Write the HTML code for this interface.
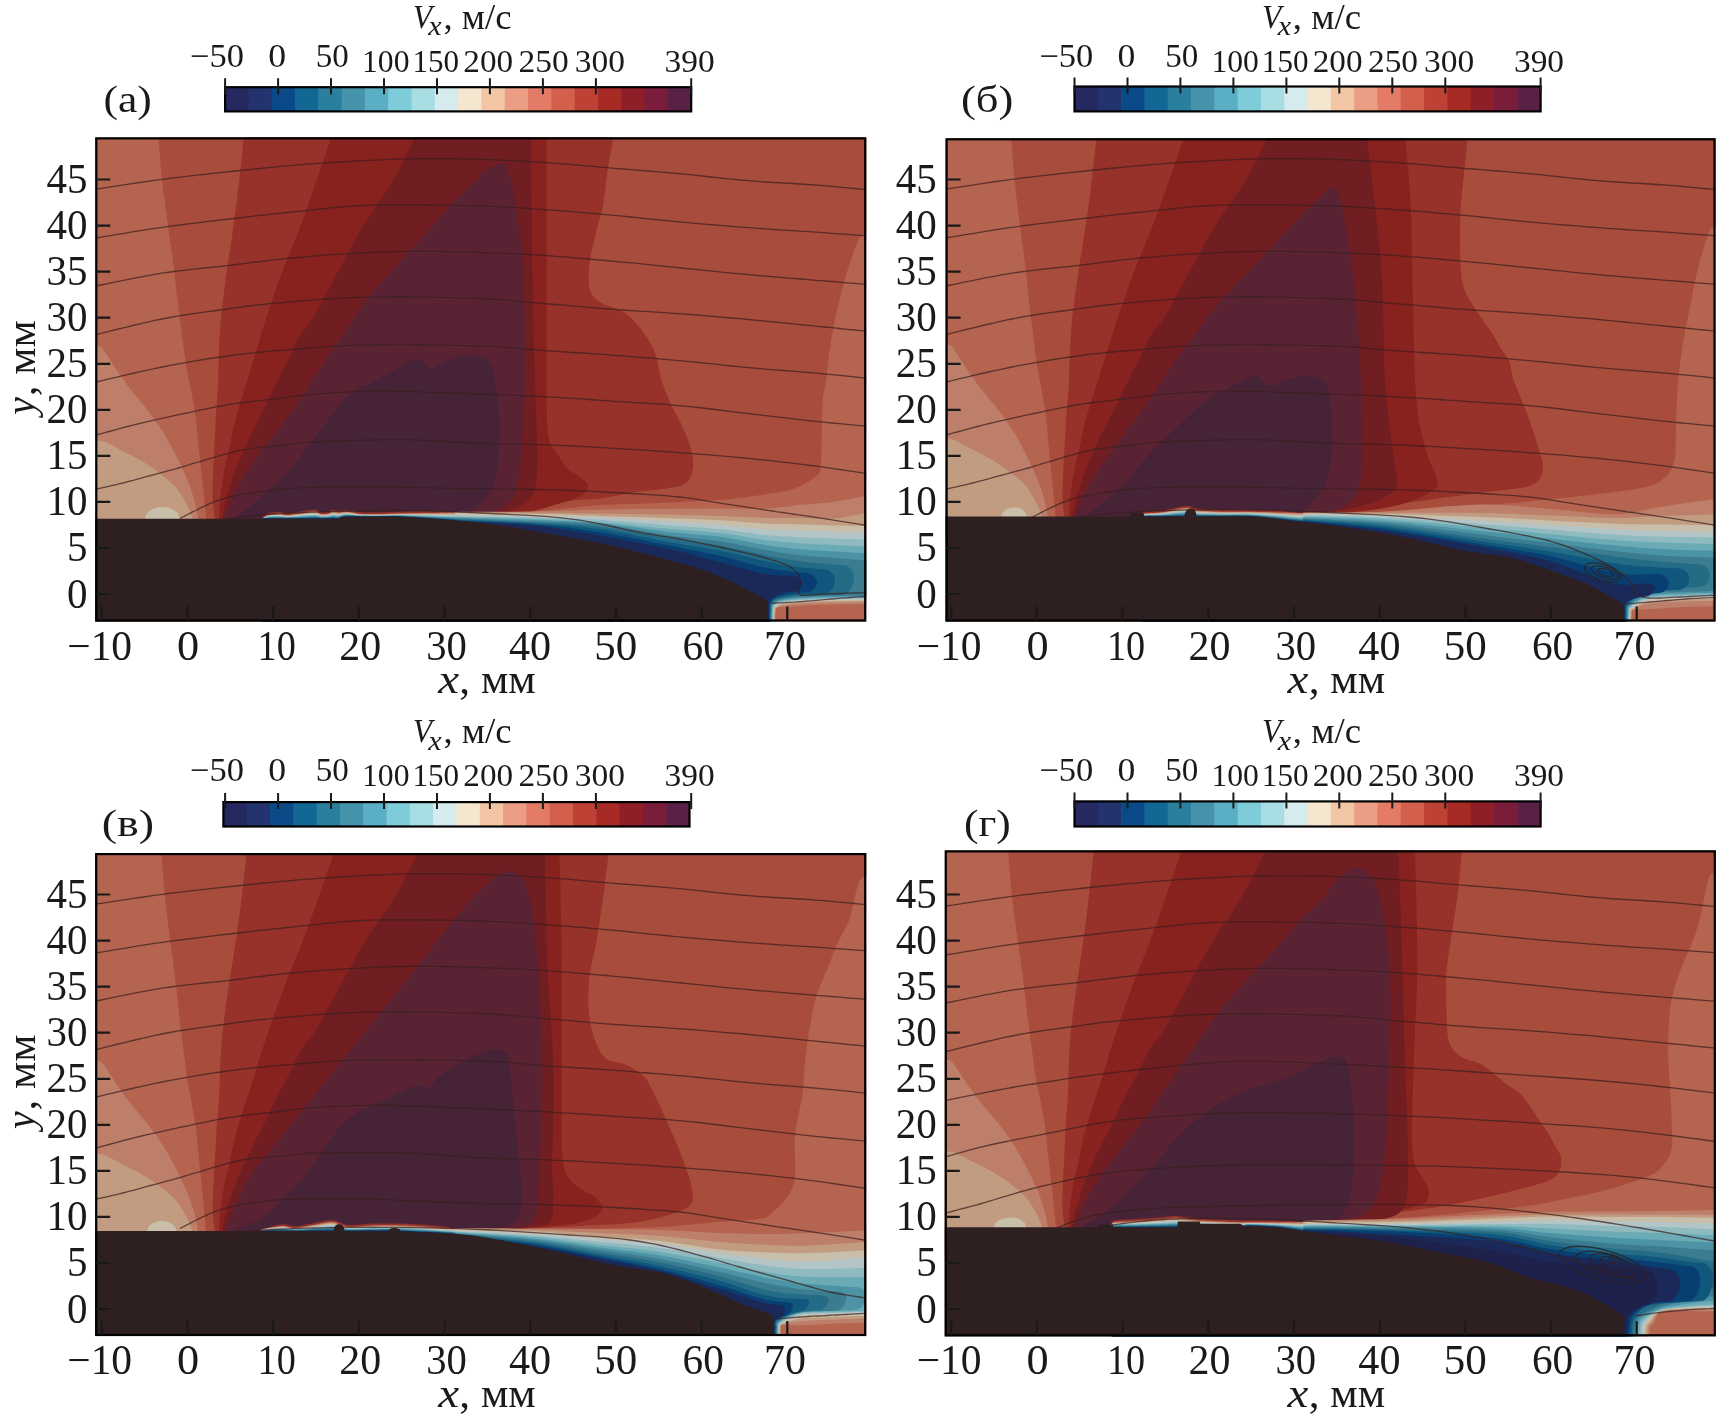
<!DOCTYPE html>
<html><head><meta charset="utf-8"><style>html,body{margin:0;padding:0;background:#fff;overflow:hidden}svg{display:block}</style></head><body>
<svg width="1724" height="1421" viewBox="0 0 1724 1421" font-family="'Liberation Serif', serif" fill="#1a1a1a">
<rect width="1724" height="1421" fill="#fff"/>
<clipPath id="clipa"><rect x="95.3" y="137.4" width="770.9" height="484.1"/></clipPath>
<g clip-path="url(#clipa)"><g transform="translate(0.0 0.0)">
<rect x="90" y="130" width="782" height="510" fill="#b5644f"/>
<polygon points="158.6,130.0 872.0,130.0 872.0,233.3 866.0,233.3 865.4,233.6 864.7,233.9 863.9,234.2 862.9,234.7 861.8,235.4 860.7,236.4 859.6,237.9 858.4,240.0 857.2,242.7 855.8,246.0 854.4,249.8 852.9,254.0 851.4,258.3 849.9,262.7 848.5,267.1 847.2,271.3 846.0,275.4 844.8,279.5 843.6,283.7 842.5,288.0 841.4,292.2 840.3,296.4 839.3,300.7 838.3,304.9 837.3,309.0 836.4,313.1 835.5,317.2 834.7,321.2 833.9,325.3 833.1,329.5 832.3,333.9 831.5,338.5 830.7,343.4 830.0,348.8 829.2,354.3 828.5,359.9 827.9,365.5 827.2,370.8 826.6,375.7 826.0,380.0 825.5,383.6 824.9,386.4 824.5,388.8 824.0,391.0 823.6,393.2 823.2,395.7 822.9,398.7 822.6,402.4 822.4,407.1 822.2,412.5 822.0,418.5 821.9,424.8 821.8,431.1 821.7,437.0 821.6,442.5 821.5,447.2 821.4,451.2 821.3,454.7 821.2,457.9 821.1,460.8 821.0,463.3 820.8,465.6 820.6,467.7 820.3,469.6 820.0,471.2 819.8,472.3 819.6,473.0 819.3,473.6 818.8,474.1 818.2,474.6 817.2,475.3 815.9,476.3 814.2,477.6 812.2,479.0 810.0,480.6 807.5,482.2 804.8,483.8 802.0,485.4 799.0,486.8 796.0,488.0 792.9,489.0 789.6,489.9 786.1,490.7 782.6,491.4 778.9,492.1 775.0,492.7 771.1,493.3 767.0,494.0 762.7,494.7 758.1,495.4 753.4,496.1 748.6,496.8 743.7,497.4 738.9,498.0 734.3,498.5 730.0,499.0 726.0,499.4 722.2,499.7 718.7,500.0 715.2,500.2 711.7,500.4 708.0,500.6 704.2,500.8 700.0,501.0 695.6,501.2 691.2,501.5 686.6,501.8 681.9,502.0 676.9,502.2 671.6,502.5 666.0,502.8 660.0,503.0 653.3,503.2 645.9,503.5 638.1,503.7 630.0,503.9 621.9,504.1 614.1,504.4 606.7,504.7 600.0,505.0 594.0,505.4 588.6,505.9 583.5,506.4 578.8,506.9 574.1,507.4 569.5,508.0 564.9,508.5 560.0,509.0 555.0,509.5 550.0,510.0 545.0,510.5 540.0,511.1 535.0,511.6 530.0,512.1 525.0,512.5 520.0,513.0 515.0,513.4 510.0,513.8 505.0,514.2 500.0,514.6 495.0,514.9 490.0,515.3 485.0,515.6 480.0,516.0 474.7,516.4 469.1,516.8 463.2,517.3 457.5,517.7 452.1,518.1 447.2,518.5 443.1,518.8 440.0,519.0 440.0,540.0 206.0,540.0 206.0,519.0 205.9,517.3 205.7,515.2 205.4,512.6 205.2,509.8 204.9,506.7 204.6,503.4 204.3,500.2 204.0,497.0 203.7,493.8 203.3,490.4 202.9,486.9 202.6,483.4 202.2,479.8 201.8,476.1 201.4,472.5 201.0,469.0 200.6,465.5 200.2,462.0 199.9,458.5 199.5,455.0 199.1,451.5 198.8,448.0 198.4,444.5 198.0,441.0 197.6,437.5 197.3,434.0 197.0,430.5 196.6,427.0 196.3,423.5 195.9,420.0 195.5,416.5 195.0,413.0 194.5,409.4 193.9,405.8 193.2,402.1 192.6,398.5 191.9,394.9 191.2,391.4 190.6,388.1 190.0,385.0 189.5,382.2 188.9,379.7 188.4,377.4 187.9,375.1 187.5,372.9 187.0,370.5 186.5,367.9 186.0,365.0 185.5,361.7 185.0,358.2 184.5,354.5 184.0,350.7 183.5,346.8 183.0,342.8 182.5,338.9 182.0,335.0 181.5,331.2 181.0,327.6 180.5,323.9 180.1,320.2 179.6,316.5 179.1,312.5 178.5,308.4 178.0,304.0 177.4,299.2 176.8,294.1 176.2,288.8 175.6,283.3 174.9,277.8 174.3,272.3 173.6,267.0 173.0,262.0 172.4,257.3 171.8,252.8 171.2,248.5 170.6,244.3 169.9,240.0 169.3,235.6 168.7,231.0 168.0,226.0 167.3,220.6 166.5,214.9 165.7,208.9 164.9,202.8 164.1,196.6 163.3,190.5 162.6,184.6 162.0,179.0 161.4,173.4 160.9,167.6 160.4,161.7 159.9,156.1 159.5,150.8 159.2,146.0 158.8,142.0 158.6,139.0" fill="#a84d3b"/>
<polygon points="243.5,130.0 613.2,130.0 613.2,139.0 612.8,141.4 612.2,144.6 611.5,148.4 610.7,152.7 609.9,157.2 609.0,161.8 608.3,166.3 607.6,170.6 607.0,174.8 606.5,179.0 606.0,183.4 605.5,187.7 605.0,192.0 604.4,196.2 603.9,200.3 603.2,204.2 602.5,207.8 601.7,211.3 600.8,214.5 599.9,217.7 599.0,220.9 598.1,224.1 597.3,227.5 596.4,231.0 595.5,234.7 594.6,238.6 593.6,242.6 592.6,246.7 591.7,250.8 590.9,254.8 590.2,258.7 589.7,262.4 589.3,266.1 589.0,269.8 588.7,273.4 588.6,277.0 588.6,280.4 588.8,283.6 589.1,286.6 589.7,289.3 590.5,291.7 591.5,293.7 592.6,295.5 593.9,297.1 595.4,298.6 597.0,300.0 598.9,301.3 600.9,302.7 603.2,304.0 605.8,305.1 608.7,306.0 611.7,306.9 614.7,307.9 617.8,308.9 620.6,310.2 623.3,311.7 625.8,313.5 628.2,315.4 630.5,317.6 632.8,319.8 635.0,322.2 637.1,324.6 639.2,327.1 641.2,329.6 643.1,332.1 645.0,334.8 646.9,337.4 648.7,340.2 650.3,343.0 651.9,345.9 653.4,348.9 654.7,352.0 655.8,355.3 656.8,358.7 657.6,362.3 658.3,366.0 659.0,369.7 659.7,373.3 660.5,376.7 661.4,380.0 662.4,383.1 663.4,386.0 664.5,388.8 665.6,391.6 666.7,394.2 667.9,396.9 669.1,399.6 670.3,402.4 671.6,405.2 673.0,408.0 674.4,410.8 675.9,413.6 677.4,416.4 678.8,419.2 680.2,422.0 681.5,424.8 682.8,427.6 684.1,430.4 685.3,433.2 686.6,436.0 687.7,438.8 688.8,441.6 689.7,444.4 690.5,447.2 691.2,450.0 691.8,453.0 692.4,455.9 692.9,458.8 693.2,461.7 693.3,464.5 693.1,467.1 692.7,469.6 692.2,471.9 691.6,474.2 691.0,476.3 690.0,478.4 688.7,480.3 687.0,482.1 684.6,483.7 681.5,485.2 677.5,486.5 672.5,487.5 666.8,488.4 660.7,489.2 654.4,489.9 648.1,490.5 642.1,491.2 636.7,492.0 631.7,492.8 626.8,493.7 622.1,494.6 617.5,495.5 612.9,496.3 608.5,497.1 604.2,497.8 600.0,498.4 596.0,498.9 592.3,499.1 588.8,499.3 585.3,499.5 581.8,499.7 578.1,499.9 574.0,500.3 569.6,500.9 564.7,501.7 559.4,502.8 553.9,504.0 548.1,505.3 542.2,506.6 536.3,507.8 530.5,509.0 524.8,509.9 519.2,510.7 513.5,511.3 507.8,511.9 502.1,512.4 496.4,512.9 490.9,513.4 485.4,513.8 480.0,514.3 474.5,514.8 468.7,515.4 462.9,515.9 457.2,516.4 451.9,516.9 447.1,517.4 443.1,517.7 440.0,518.0 440.0,540.0 214.7,540.0 214.7,519.0 214.5,517.3 214.3,515.2 213.9,512.6 213.6,509.8 213.3,506.7 213.0,503.4 212.7,500.2 212.6,497.0 212.5,493.8 212.6,490.4 212.6,486.9 212.7,483.4 212.9,479.8 213.0,476.1 213.2,472.5 213.3,469.0 213.4,465.5 213.6,462.0 213.8,458.5 214.0,455.0 214.2,451.5 214.3,448.0 214.5,444.5 214.7,441.0 214.9,437.5 215.0,434.0 215.2,430.5 215.3,427.0 215.5,423.5 215.6,420.0 215.8,416.5 216.0,413.0 216.2,409.5 216.5,406.2 216.7,402.8 217.0,399.4 217.3,396.0 217.6,392.5 217.8,388.8 218.0,385.0 218.2,381.0 218.3,376.7 218.4,372.3 218.5,367.9 218.6,363.4 218.7,358.8 218.8,354.4 219.0,350.0 219.2,345.8 219.4,341.7 219.6,337.7 219.8,333.6 220.1,329.5 220.4,325.2 220.8,320.8 221.2,316.0 221.7,310.9 222.3,305.5 223.0,299.9 223.7,294.2 224.5,288.4 225.2,282.5 226.0,276.7 226.8,271.0 227.6,265.4 228.4,259.7 229.3,254.1 230.2,248.4 231.0,242.8 231.9,237.2 232.7,231.6 233.5,226.0 234.3,220.4 235.0,214.9 235.7,209.4 236.4,203.9 237.1,198.4 237.7,192.9 238.4,187.4 239.0,182.0 239.6,176.3 240.3,170.2 241.0,163.9 241.6,157.8 242.2,151.9 242.7,146.7 243.2,142.3 243.5,139.0" fill="#96322a"/>
<polygon points="330.6,130.0 546.7,130.0 546.7,139.0 546.7,151.8 546.7,169.2 546.7,190.0 546.7,212.9 546.7,236.7 546.7,259.9 546.7,281.5 546.7,300.0 546.7,316.3 546.6,331.8 546.6,346.6 546.6,360.4 546.5,373.2 546.5,385.0 546.6,395.6 546.7,405.0 546.8,412.9 547.0,419.2 547.1,424.2 547.3,428.2 547.6,431.5 547.9,434.4 548.4,437.1 549.0,440.0 549.7,442.8 550.6,445.0 551.6,446.8 552.7,448.3 553.8,449.7 555.0,451.0 556.1,452.4 557.3,454.0 558.4,455.8 559.5,457.6 560.7,459.4 561.9,461.3 563.1,463.1 564.3,464.8 565.7,466.5 567.1,468.0 568.7,469.4 570.4,470.7 572.3,472.0 574.2,473.1 576.1,474.3 577.9,475.4 579.6,476.5 581.0,477.6 582.3,478.7 583.6,479.8 584.7,480.8 585.8,481.8 586.7,482.8 587.4,483.8 587.8,484.9 588.0,486.0 587.9,487.2 587.7,488.3 587.3,489.5 586.7,490.8 585.8,492.0 584.5,493.2 583.0,494.5 581.0,495.7 578.5,496.9 575.5,498.2 572.1,499.5 568.4,500.7 564.5,502.0 560.6,503.2 556.7,504.3 553.1,505.4 549.7,506.4 546.6,507.4 543.4,508.4 540.3,509.3 537.0,510.1 533.5,511.0 529.6,511.7 525.3,512.4 520.4,513.0 515.1,513.6 509.4,514.1 503.4,514.5 497.4,514.9 491.4,515.3 485.5,515.6 480.0,516.0 474.5,516.3 468.7,516.7 462.9,517.0 457.2,517.2 451.8,517.5 447.1,517.7 443.0,517.9 440.0,518.0 440.0,540.0 219.0,540.0 219.0,519.0 219.1,517.3 219.2,515.2 219.3,512.6 219.4,509.8 219.5,506.7 219.7,503.4 220.0,500.2 220.3,497.0 220.7,493.7 221.1,490.2 221.6,486.5 222.2,482.8 222.8,479.1 223.4,475.5 223.9,472.1 224.5,469.0 225.0,466.2 225.6,463.8 226.1,461.5 226.7,459.3 227.3,457.2 227.8,455.0 228.4,452.6 229.0,450.0 229.6,447.2 230.2,444.2 230.8,441.1 231.3,437.9 232.0,434.6 232.6,431.4 233.3,428.2 234.0,425.0 234.8,421.9 235.6,418.8 236.4,415.6 237.3,412.5 238.2,409.4 239.1,406.2 240.1,403.1 241.0,400.0 241.9,396.9 242.9,393.9 243.9,390.8 244.9,387.8 245.9,384.7 246.9,381.6 247.9,378.4 249.0,375.0 250.1,371.5 251.2,367.8 252.3,364.1 253.4,360.2 254.6,356.4 255.7,352.5 256.9,348.7 258.0,345.0 259.1,341.4 260.1,338.1 261.1,334.8 262.1,331.4 263.1,328.0 264.3,324.4 265.6,320.4 267.0,316.0 268.6,311.1 270.4,305.9 272.3,300.3 274.2,294.5 276.3,288.6 278.4,282.6 280.5,276.7 282.6,271.0 284.7,265.4 286.9,259.7 289.2,254.1 291.5,248.4 293.8,242.8 296.1,237.2 298.3,231.6 300.4,226.0 302.5,220.4 304.5,214.9 306.5,209.4 308.4,203.9 310.3,198.4 312.2,192.9 314.1,187.4 316.0,182.0 318.0,176.3 320.1,170.2 322.2,163.9 324.3,157.8 326.2,151.9 328.0,146.7 329.5,142.3 330.6,139.0" fill="#88221e"/>
<polygon points="414.3,130.0 531.0,130.0 531.0,139.0 531.1,147.6 531.2,159.2 531.3,173.0 531.4,188.2 531.5,204.3 531.7,220.4 531.8,235.9 532.0,250.0 532.2,263.1 532.4,276.0 532.6,288.7 532.9,301.3 533.1,313.7 533.4,326.0 533.7,338.1 534.0,350.0 534.3,362.2 534.8,374.7 535.2,387.2 535.6,399.5 536.1,411.2 536.4,422.1 536.8,431.8 537.0,440.0 537.2,446.5 537.3,451.4 537.4,455.2 537.4,458.1 537.4,460.4 537.3,462.7 537.2,465.1 537.0,468.0 536.9,471.3 536.8,474.7 536.7,478.1 536.5,481.4 536.2,484.6 535.7,487.6 535.0,490.4 534.0,493.0 532.7,495.3 531.0,497.4 529.2,499.4 527.1,501.1 524.9,502.7 522.7,504.2 520.3,505.7 518.0,507.0 515.6,508.2 513.0,509.3 510.3,510.3 507.6,511.2 504.8,512.0 502.1,512.7 499.5,513.4 497.0,514.0 494.8,514.6 493.0,515.1 491.3,515.5 489.7,515.8 487.9,516.1 485.8,516.4 483.2,516.7 480.0,517.0 475.8,517.3 470.7,517.6 464.9,517.9 458.9,518.2 453.1,518.4 447.7,518.7 443.2,518.9 440.0,519.0 440.0,540.0 222.0,540.0 222.0,519.0 222.4,517.3 222.8,515.2 223.3,512.6 223.9,509.8 224.6,506.7 225.4,503.4 226.1,500.2 227.0,497.0 227.9,493.8 228.9,490.4 230.0,486.9 231.1,483.4 232.2,479.8 233.4,476.1 234.7,472.5 236.0,469.0 237.3,465.5 238.7,462.0 240.2,458.5 241.7,455.0 243.2,451.5 244.8,448.0 246.4,444.5 248.0,441.0 249.7,437.5 251.4,434.0 253.1,430.6 254.9,427.1 256.7,423.6 258.5,420.1 260.2,416.6 262.0,413.0 263.8,409.3 265.5,405.5 267.3,401.7 269.1,397.8 270.8,394.0 272.6,390.2 274.3,386.5 276.0,383.0 277.7,379.6 279.4,376.4 281.0,373.2 282.7,370.1 284.3,367.0 285.9,364.0 287.5,361.0 289.0,358.0 290.5,355.0 291.8,352.0 293.1,349.1 294.4,346.1 295.7,343.2 297.1,340.4 298.5,337.7 300.0,335.0 301.5,332.6 303.0,330.6 304.6,328.7 306.2,326.9 307.9,324.9 309.7,322.5 311.7,319.6 314.0,316.0 316.6,311.6 319.4,306.6 322.4,301.0 325.5,295.1 328.8,289.0 332.0,282.9 335.3,276.8 338.4,271.0 341.4,265.4 344.4,259.7 347.4,254.1 350.4,248.4 353.4,242.8 356.5,237.2 359.7,231.6 363.0,226.0 366.5,220.4 370.1,214.9 373.8,209.4 377.6,203.9 381.4,198.4 385.1,192.9 388.7,187.4 392.0,182.0 395.3,176.3 398.6,170.2 401.8,163.9 405.0,157.8 407.9,151.9 410.4,146.7 412.6,142.3 414.3,139.0" fill="#701e22"/>
<polygon points="480.0,175.0 480.8,174.4 481.7,173.7 482.9,172.8 484.2,171.8 485.6,170.8 487.1,169.8 488.6,168.8 490.0,168.0 491.5,167.2 493.1,166.2 494.8,165.2 496.5,164.3 498.1,163.5 499.7,163.0 501.2,162.7 502.4,162.7 503.4,163.1 504.3,163.7 505.0,164.6 505.6,165.7 506.2,167.0 506.8,168.5 507.3,170.2 508.0,172.0 508.7,173.8 509.3,175.6 510.0,177.5 510.7,179.6 511.3,182.0 512.0,185.0 512.8,188.6 513.6,193.0 514.5,198.2 515.5,204.3 516.6,211.0 517.6,218.1 518.7,225.7 519.7,233.4 520.6,241.2 521.4,249.0 522.1,256.9 522.6,265.0 523.1,273.5 523.6,282.0 524.0,290.6 524.3,299.2 524.6,307.7 524.8,316.0 525.0,324.2 525.1,332.3 525.2,340.4 525.3,348.4 525.3,356.4 525.2,364.4 525.1,372.2 525.0,380.0 524.8,387.9 524.5,396.0 524.1,404.2 523.7,412.3 523.2,420.0 522.8,427.4 522.4,434.1 522.0,440.0 521.7,445.0 521.5,449.2 521.2,452.8 521.0,455.9 520.8,458.8 520.5,461.6 520.1,464.5 519.7,467.8 519.2,471.4 518.8,475.1 518.4,478.9 517.9,482.6 517.2,486.3 516.4,489.7 515.4,492.9 514.2,495.7 512.6,498.2 510.7,500.4 508.6,502.4 506.4,504.1 504.1,505.7 501.7,507.1 499.5,508.4 497.5,509.6 495.7,510.6 494.0,511.4 492.5,511.9 490.9,512.4 489.3,512.7 487.6,513.0 485.7,513.4 483.5,513.8 480.9,514.3 477.7,514.7 474.4,515.2 470.9,515.7 467.5,516.1 464.4,516.4 461.9,516.8 460.0,517.0 460.0,540.0 223.0,540.0 223.0,519.0 223.2,518.8 223.3,518.6 223.5,518.5 223.8,518.2 224.1,517.7 224.5,516.9 225.2,515.7 226.0,514.0 227.0,511.7 228.2,508.8 229.6,505.5 231.1,501.9 232.7,498.1 234.4,494.3 236.2,490.5 238.0,487.0 239.9,483.6 241.8,480.3 243.8,476.9 245.9,473.6 248.1,470.2 250.4,466.8 252.6,463.4 255.0,460.0 257.4,456.5 260.0,453.1 262.6,449.6 265.2,446.1 267.9,442.5 270.7,439.0 273.3,435.5 276.0,432.0 278.6,428.5 281.2,425.1 283.9,421.7 286.5,418.2 289.1,414.8 291.8,411.3 294.4,407.7 297.0,404.0 299.6,400.2 302.2,396.3 304.8,392.4 307.4,388.4 310.0,384.3 312.6,380.2 315.3,376.1 318.0,372.0 320.7,367.9 323.4,363.9 326.1,359.9 328.9,355.8 331.7,351.6 334.6,347.3 337.7,342.8 341.0,338.0 344.4,332.9 348.0,327.5 351.6,321.9 355.4,316.1 359.4,310.3 363.4,304.4 367.6,298.7 372.0,293.0 376.6,287.5 381.4,282.0 386.3,276.5 391.4,271.0 396.6,265.5 401.8,260.0 406.9,254.5 412.0,249.0 417.1,243.3 422.3,237.4 427.5,231.4 432.8,225.4 437.9,219.6 442.8,214.0 447.6,208.8 452.0,204.0 456.3,199.6 460.5,195.4 464.6,191.4 468.5,187.7 472.1,184.4 475.2,181.4 477.9,179.0 480.0,177.0" fill="#592334"/>
<polygon points="232.0,519.0 232.1,519.0 232.1,519.0 232.1,519.1 232.2,519.1 232.4,519.1 232.8,518.9 233.4,518.6 234.2,518.0 235.3,517.3 236.7,516.4 238.2,515.3 240.0,514.2 241.9,512.9 243.9,511.4 245.9,509.9 248.1,508.2 250.4,506.4 252.8,504.3 255.4,502.1 258.1,499.8 260.9,497.5 263.6,495.0 266.3,492.6 269.0,490.1 271.6,487.7 274.2,485.2 276.8,482.8 279.4,480.3 282.0,477.7 284.6,475.0 287.2,472.2 289.9,469.2 292.6,466.1 295.4,462.8 298.1,459.4 300.9,455.9 303.7,452.3 306.6,448.7 309.4,445.1 312.2,441.4 315.1,437.6 318.0,433.6 321.1,429.5 324.1,425.4 327.0,421.3 329.8,417.5 332.5,413.9 335.0,410.7 337.2,407.9 339.2,405.4 341.0,403.1 342.7,401.1 344.4,399.2 346.1,397.4 347.9,395.7 350.0,394.0 352.3,392.4 354.6,390.9 357.1,389.6 359.7,388.3 362.3,387.1 364.9,385.9 367.5,384.7 370.0,383.4 372.5,382.0 375.2,380.7 377.8,379.3 380.4,377.9 383.0,376.5 385.5,375.2 387.8,373.9 390.0,372.7 392.0,371.6 393.8,370.4 395.5,369.4 397.1,368.4 398.7,367.4 400.2,366.5 401.8,365.6 403.4,364.7 405.1,363.8 406.9,363.0 408.7,362.1 410.5,361.3 412.2,360.6 413.8,360.0 415.4,359.6 416.7,359.3 417.9,359.2 418.9,359.3 419.8,359.5 420.5,359.9 421.3,360.3 422.0,360.9 422.7,361.4 423.4,362.0 424.1,362.7 424.8,363.6 425.5,364.6 426.1,365.6 426.8,366.6 427.4,367.5 428.0,368.2 428.7,368.7 429.3,369.0 429.8,369.1 430.3,369.1 430.7,369.0 431.3,368.7 432.0,368.4 432.9,367.9 434.1,367.4 435.6,366.7 437.3,365.8 439.1,364.7 441.2,363.5 443.3,362.3 445.6,361.2 447.8,360.2 450.1,359.3 452.5,358.6 455.0,357.9 457.6,357.2 460.3,356.6 462.9,356.1 465.5,355.7 467.9,355.5 470.1,355.3 472.1,355.3 474.1,355.4 475.9,355.7 477.6,356.1 479.2,356.5 480.7,357.0 482.1,357.5 483.4,358.0 484.6,358.5 485.6,359.0 486.5,359.5 487.3,360.0 488.1,360.7 488.8,361.4 489.4,362.3 490.1,363.4 490.7,364.7 491.3,366.2 491.9,367.8 492.4,369.6 492.8,371.4 493.3,373.2 493.7,375.0 494.1,376.7 494.5,378.3 494.9,379.9 495.2,381.4 495.6,382.9 495.9,384.5 496.2,386.2 496.5,388.0 496.8,390.0 497.1,392.1 497.4,394.4 497.7,396.7 497.9,399.2 498.2,401.7 498.4,404.4 498.6,407.1 498.8,410.0 499.0,413.0 499.1,416.2 499.2,419.5 499.3,422.9 499.4,426.4 499.4,429.9 499.4,433.3 499.4,436.7 499.3,440.1 499.2,443.6 499.1,447.2 499.0,450.7 498.8,454.1 498.6,457.4 498.3,460.5 498.1,463.4 497.9,466.0 497.7,468.3 497.5,470.4 497.2,472.4 496.9,474.3 496.6,476.1 496.1,478.0 495.4,480.0 494.6,482.0 493.7,484.0 492.7,486.0 491.5,487.9 490.3,489.9 489.1,491.8 487.7,493.8 486.3,495.7 484.8,497.7 483.1,499.8 481.4,501.9 479.6,504.0 477.7,506.0 475.9,507.9 474.1,509.6 472.4,511.0 470.8,512.1 469.4,513.0 468.0,513.7 466.6,514.3 465.1,514.7 463.6,515.1 461.9,515.5 460.0,516.0 457.7,516.5 455.1,517.0 452.2,517.4 449.2,517.8 446.4,518.2 443.8,518.5 441.6,518.8 440.0,519.0 440.0,540.0 232.0,540.0" fill="#462336"/>
<polygon points="90.0,346.7 95.0,346.7 95.5,346.7 96.1,346.5 96.8,346.3 97.6,346.1 98.6,346.1 99.6,346.3 100.7,347.0 102.0,348.1 103.4,349.8 105.0,352.0 106.7,354.6 108.5,357.4 110.4,360.4 112.3,363.4 114.1,366.3 115.9,369.0 117.6,371.5 119.3,373.9 120.9,376.3 122.6,378.7 124.3,381.1 126.0,383.5 127.9,385.9 129.8,388.5 131.9,391.2 134.1,393.9 136.5,396.7 138.8,399.6 141.2,402.5 143.6,405.3 145.8,408.0 147.9,410.7 149.9,413.3 151.7,415.8 153.5,418.2 155.3,420.6 157.0,423.0 158.6,425.4 160.2,427.8 161.8,430.2 163.3,432.7 164.9,435.1 166.3,437.6 167.8,440.1 169.1,442.6 170.5,445.0 171.8,447.4 173.0,449.7 174.2,451.9 175.3,454.0 176.3,456.0 177.3,458.1 178.3,460.1 179.3,462.1 180.3,464.2 181.3,466.4 182.4,468.7 183.5,471.1 184.6,473.6 185.7,476.1 186.8,478.6 187.8,481.1 188.8,483.5 189.7,485.9 190.5,488.3 191.3,490.6 192.1,492.9 192.8,495.2 193.5,497.5 194.1,499.7 194.7,501.9 195.2,504.0 195.7,506.1 196.2,508.3 196.6,510.5 196.9,512.6 197.3,514.6 197.6,516.4 197.8,517.9 198.0,519.0 198.0,540.0 90.0,540.0" fill="#bd7f69"/>
<polygon points="90.0,441.4 95.0,441.4 95.6,441.3 96.3,441.2 97.1,441.0 98.0,440.8 99.1,440.7 100.3,440.7 101.8,440.9 103.4,441.4 105.3,442.1 107.4,443.1 109.8,444.3 112.3,445.5 114.9,446.9 117.6,448.3 120.2,449.7 122.8,451.1 125.4,452.4 128.0,453.8 130.7,455.1 133.3,456.5 136.0,457.9 138.6,459.4 141.2,460.8 143.7,462.3 146.1,463.8 148.5,465.3 150.9,466.9 153.2,468.5 155.4,470.1 157.6,471.6 159.8,473.2 161.8,474.8 163.8,476.4 165.7,477.9 167.6,479.5 169.4,481.1 171.1,482.6 172.7,484.2 174.3,485.7 175.7,487.3 177.0,488.9 178.3,490.5 179.4,492.0 180.4,493.6 181.4,495.2 182.3,496.8 183.2,498.3 184.1,499.8 185.0,501.3 185.8,502.8 186.5,504.2 187.2,505.7 187.9,507.1 188.6,508.5 189.2,509.8 189.7,511.0 190.2,512.2 190.7,513.4 191.1,514.6 191.4,515.7 191.8,516.7 192.1,517.6 192.3,518.4 192.5,519.0 192.5,540.0 90.0,540.0" fill="#c29c80"/>
<ellipse cx="162.3" cy="519.0" rx="17.3" ry="12.0" fill="#c8beaa"/>
<polygon points="262.0,518.8 262.2,518.4 262.4,518.0 262.7,517.4 263.0,516.8 263.5,516.1 264.0,515.6 264.6,515.1 265.2,514.6 265.9,514.1 266.7,513.6 267.7,513.2 268.9,512.8 270.4,512.5 272.1,512.2 274.0,512.0 276.0,511.9 277.8,511.8 279.4,511.8 280.7,511.9 281.8,512.2 282.8,512.5 283.9,512.8 285.0,513.1 286.3,513.2 287.8,513.2 289.3,513.1 290.9,512.9 292.7,512.7 294.6,512.4 296.8,512.1 299.4,511.7 302.5,511.2 305.7,510.7 308.9,510.2 311.8,509.8 314.2,509.7 316.0,509.9 317.3,510.2 318.3,510.8 319.2,511.3 320.1,511.8 321.1,512.1 322.3,512.2 323.5,512.3 324.7,512.2 325.9,512.1 327.1,512.0 328.1,511.8 329.0,511.5 329.9,511.1 330.6,510.7 331.4,510.2 332.2,509.9 333.0,509.7 333.9,509.7 334.7,509.9 335.6,510.1 336.5,510.4 337.5,510.6 338.5,510.7 339.6,510.7 340.7,510.5 341.9,510.4 343.1,510.2 344.3,510.1 345.5,510.0 346.7,510.0 347.8,510.1 348.9,510.2 350.1,510.4 351.2,510.5 352.4,510.7 353.5,510.9 354.4,511.2 355.4,511.4 356.4,511.7 357.7,511.9 359.4,512.1 361.4,512.2 363.6,512.4 366.1,512.4 368.8,512.5 371.8,512.5 375.0,512.5 378.6,512.4 382.5,512.3 386.6,512.2 390.9,512.0 395.4,511.8 400.0,511.7 404.8,511.6 409.8,511.4 415.0,511.3 420.2,511.2 425.2,511.2 430.0,511.2 434.7,511.3 439.6,511.5 444.4,511.8 448.7,512.1 452.3,512.3 455.0,512.5 455.0,640.0 262.0,640.0" fill="#96322a"/>
<polygon points="262.0,518.8 262.1,518.7 262.3,518.6 262.5,518.4 262.7,518.3 262.9,518.1 263.2,517.9 263.6,517.7 264.0,517.4 264.4,517.1 264.9,516.8 265.4,516.4 265.9,516.0 266.5,515.6 267.2,515.2 268.0,514.9 268.9,514.6 270.0,514.4 271.2,514.2 272.6,514.0 274.0,513.8 275.5,513.7 276.9,513.6 278.2,513.6 279.4,513.6 280.4,513.7 281.3,513.8 282.1,514.1 282.8,514.3 283.6,514.6 284.4,514.8 285.3,514.9 286.3,515.0 287.4,515.0 288.5,514.9 289.7,514.8 290.9,514.7 292.2,514.5 293.6,514.3 295.1,514.1 296.8,513.9 298.7,513.6 300.9,513.3 303.3,512.9 305.7,512.5 308.1,512.1 310.4,511.8 312.5,511.6 314.2,511.5 315.6,511.6 316.7,511.8 317.6,512.2 318.3,512.6 319.0,513.0 319.6,513.4 320.3,513.7 321.1,513.9 322.0,514.0 322.9,514.1 323.8,514.1 324.7,514.0 325.6,514.0 326.5,513.9 327.3,513.7 328.1,513.6 328.8,513.4 329.5,513.1 330.1,512.8 330.6,512.5 331.2,512.1 331.8,511.8 332.4,511.6 333.0,511.5 333.6,511.5 334.3,511.6 335.0,511.7 335.6,511.9 336.3,512.1 337.0,512.3 337.7,512.4 338.5,512.5 339.3,512.5 340.1,512.4 341.0,512.3 341.9,512.2 342.8,512.0 343.7,511.9 344.6,511.8 345.5,511.8 346.4,511.8 347.2,511.9 348.1,511.9 348.9,512.0 349.8,512.1 350.7,512.2 351.5,512.4 352.4,512.5 353.2,512.6 353.9,512.8 354.6,513.0 355.4,513.2 356.1,513.4 357.0,513.6 358.1,513.8 359.4,513.9 360.9,514.0 362.5,514.1 364.2,514.2 366.1,514.2 368.1,514.3 370.2,514.3 372.5,514.3 375.0,514.3 377.6,514.3 380.5,514.2 383.5,514.1 386.6,514.0 389.8,513.8 393.2,513.7 396.6,513.6 400.0,513.5 403.5,513.4 407.3,513.4 411.1,513.3 415.0,513.2 418.9,513.2 422.7,513.1 426.5,513.1 430.0,513.0 433.5,512.9 437.1,512.9 440.6,512.8 444.1,512.8 447.3,512.7 450.3,512.6 452.9,512.6 455.0,512.5 456.1,512.4 456.0,512.3 455.3,512.2 454.4,512.1 454.0,512.0 454.4,512.0 456.2,511.9 460.0,511.8 466.0,511.8 473.8,511.7 483.0,511.7 493.2,511.7 503.8,511.7 514.4,511.7 524.7,511.6 534.0,511.5 542.6,511.3 551.0,511.1 559.2,510.9 567.2,510.6 575.3,510.4 583.4,510.1 591.6,509.9 600.0,509.7 608.7,509.5 617.7,509.4 626.8,509.3 636.0,509.1 645.0,509.0 653.8,509.0 662.2,508.9 670.0,508.8 677.2,508.7 684.0,508.7 690.4,508.7 696.6,508.7 702.5,508.6 708.3,508.6 714.1,508.6 720.0,508.6 725.9,508.6 731.8,508.6 737.7,508.7 743.4,508.8 749.1,508.8 754.6,508.8 759.9,508.7 765.0,508.5 769.9,508.2 774.5,507.9 778.9,507.4 783.1,507.0 787.3,506.5 791.5,505.9 795.7,505.5 800.0,505.0 804.4,504.6 808.7,504.2 813.0,503.9 817.4,503.5 821.7,503.1 826.1,502.7 830.5,502.2 835.0,501.6 839.8,500.8 845.0,499.9 850.4,498.9 855.7,497.8 860.7,496.8 865.3,495.9 869.1,495.1 872.0,494.5 874.0,494.5 874.0,604.0 872.0,604.0 866.1,604.1 857.7,604.2 847.9,604.3 837.6,604.4 828.0,604.6 820.0,604.8 813.5,605.0 807.7,605.3 802.5,605.6 797.9,605.9 793.7,606.2 790.0,606.5 786.8,606.7 784.3,606.8 782.3,607.0 780.6,607.2 779.2,607.5 778.0,608.0 777.0,608.5 776.4,608.9 776.0,609.5 775.8,610.4 775.7,611.8 775.5,614.0 775.4,617.5 775.3,622.1 775.3,627.4 775.4,632.5 775.5,636.9 775.5,640.0 262.0,640.0" fill="#bd7f69"/>
<polygon points="262.0,518.8 262.1,518.7 262.3,518.6 262.5,518.5 262.7,518.3 262.9,518.2 263.2,518.0 263.6,517.8 264.0,517.6 264.4,517.3 264.9,517.0 265.4,516.7 265.9,516.3 266.5,516.0 267.2,515.6 268.0,515.3 268.9,515.1 270.0,514.9 271.2,514.7 272.6,514.6 274.0,514.4 275.5,514.3 276.9,514.2 278.2,514.2 279.4,514.2 280.4,514.3 281.3,514.4 282.1,514.6 282.8,514.8 283.6,515.1 284.4,515.2 285.3,515.4 286.3,515.4 287.4,515.4 288.5,515.4 289.7,515.3 290.9,515.2 292.2,515.0 293.6,514.9 295.1,514.7 296.8,514.5 298.7,514.2 300.9,513.9 303.3,513.6 305.7,513.2 308.1,512.9 310.4,512.6 312.5,512.4 314.2,512.4 315.6,512.4 316.7,512.7 317.6,513.0 318.3,513.3 319.0,513.7 319.6,514.0 320.3,514.3 321.1,514.5 322.0,514.6 322.9,514.6 323.8,514.6 324.7,514.6 325.6,514.5 326.5,514.4 327.3,514.3 328.1,514.2 328.8,514.0 329.5,513.8 330.1,513.5 330.6,513.2 331.2,512.9 331.8,512.7 332.4,512.5 333.0,512.4 333.6,512.4 334.3,512.4 335.0,512.6 335.6,512.7 336.3,512.9 337.0,513.1 337.7,513.2 338.5,513.2 339.3,513.2 340.1,513.1 341.0,513.0 341.9,512.8 342.8,512.7 343.7,512.5 344.6,512.4 345.5,512.4 346.4,512.4 347.2,512.4 348.1,512.5 348.9,512.6 349.8,512.7 350.7,512.8 351.5,512.9 352.4,513.0 353.2,513.1 353.9,513.3 354.6,513.5 355.4,513.6 356.1,513.8 357.0,514.0 358.1,514.1 359.4,514.2 360.9,514.3 362.5,514.4 364.2,514.5 366.1,514.5 368.1,514.6 370.2,514.6 372.5,514.6 375.0,514.6 377.6,514.6 380.5,514.5 383.5,514.4 386.6,514.3 389.8,514.2 393.2,514.1 396.6,514.0 400.0,513.9 403.5,513.8 407.3,513.8 411.1,513.8 415.0,513.8 418.9,513.7 422.7,513.7 426.5,513.7 430.0,513.7 433.5,513.7 437.1,513.7 440.6,513.6 444.1,513.6 447.3,513.6 450.3,513.6 452.9,513.5 455.0,513.5 456.1,513.4 456.0,513.2 455.3,513.1 454.4,512.9 454.0,512.7 454.4,512.6 456.2,512.5 460.0,512.4 466.0,512.4 473.8,512.4 483.0,512.4 493.2,512.4 503.8,512.5 514.4,512.6 524.7,512.6 534.0,512.7 542.6,512.8 551.0,512.9 559.2,513.0 567.2,513.1 575.3,513.2 583.4,513.3 591.6,513.5 600.0,513.6 608.7,513.7 617.7,513.9 626.8,514.0 636.0,514.1 645.0,514.3 653.8,514.4 662.2,514.6 670.0,514.7 677.2,514.8 684.0,515.0 690.4,515.1 696.6,515.2 702.5,515.4 708.3,515.5 714.1,515.7 720.0,515.9 725.9,516.1 731.8,516.4 737.7,516.7 743.4,517.0 749.1,517.3 754.6,517.6 759.9,517.8 765.0,518.0 769.9,518.1 774.5,518.1 778.9,518.1 783.1,518.1 787.3,518.1 791.5,518.0 795.7,518.0 800.0,518.0 804.4,518.1 808.7,518.3 813.0,518.5 817.4,518.7 821.7,518.8 826.1,518.9 830.5,518.8 835.0,518.5 839.8,517.9 845.0,517.1 850.4,516.1 855.7,515.0 860.7,513.9 865.3,512.9 869.1,512.1 872.0,511.5 874.0,511.5 874.0,602.0 872.0,602.0 866.1,602.1 857.7,602.2 847.9,602.3 837.6,602.4 828.0,602.6 820.0,602.8 813.5,603.0 807.7,603.3 802.5,603.5 797.9,603.8 793.7,604.1 790.0,604.5 786.8,604.8 784.1,605.2 782.0,605.5 780.2,606.0 778.7,606.5 777.4,607.2 776.4,607.9 775.7,608.5 775.4,609.1 775.2,610.2 775.1,611.7 774.9,614.0 774.8,617.5 774.7,622.2 774.7,627.4 774.8,632.5 774.9,636.9 774.9,640.0 262.0,640.0" fill="#c29c80"/>
<polygon points="262.0,518.8 262.1,518.7 262.3,518.6 262.5,518.5 262.7,518.4 262.9,518.2 263.2,518.1 263.6,517.9 264.0,517.7 264.4,517.5 264.9,517.2 265.4,516.9 265.9,516.6 266.5,516.3 267.2,516.0 268.0,515.7 268.9,515.5 270.0,515.3 271.2,515.2 272.6,515.0 274.0,514.9 275.5,514.8 276.9,514.8 278.2,514.7 279.4,514.7 280.4,514.8 281.3,514.9 282.1,515.1 282.8,515.3 283.6,515.5 284.4,515.6 285.3,515.8 286.3,515.8 287.4,515.8 288.5,515.8 289.7,515.7 290.9,515.6 292.2,515.4 293.6,515.3 295.1,515.1 296.8,515.0 298.7,514.7 300.9,514.5 303.3,514.2 305.7,513.8 308.1,513.6 310.4,513.3 312.5,513.1 314.2,513.1 315.6,513.2 316.7,513.3 317.6,513.6 318.3,513.9 319.0,514.2 319.6,514.5 320.3,514.8 321.1,515.0 322.0,515.0 322.9,515.1 323.8,515.1 324.7,515.1 325.6,515.0 326.5,514.9 327.3,514.8 328.1,514.7 328.8,514.6 329.5,514.4 330.1,514.1 330.6,513.8 331.2,513.6 331.8,513.4 332.4,513.2 333.0,513.1 333.6,513.1 334.3,513.2 335.0,513.3 335.6,513.4 336.3,513.6 337.0,513.7 337.7,513.8 338.5,513.9 339.3,513.8 340.1,513.7 341.0,513.6 341.9,513.4 342.8,513.2 343.7,513.1 344.6,512.9 345.5,512.9 346.4,512.9 347.2,512.9 348.1,512.9 348.9,513.0 349.8,513.1 350.7,513.2 351.5,513.3 352.4,513.4 353.2,513.5 353.9,513.7 354.6,513.8 355.4,514.0 356.1,514.1 357.0,514.3 358.1,514.4 359.4,514.5 360.9,514.6 362.5,514.7 364.2,514.7 366.1,514.8 368.1,514.8 370.2,514.8 372.5,514.9 375.0,514.8 377.6,514.8 380.5,514.7 383.5,514.7 386.6,514.6 389.8,514.5 393.2,514.4 396.6,514.3 400.0,514.2 403.5,514.2 407.3,514.2 411.1,514.2 415.0,514.2 418.9,514.2 422.7,514.2 426.5,514.3 430.0,514.3 433.5,514.3 437.1,514.3 440.6,514.3 444.1,514.3 447.3,514.4 450.3,514.3 452.9,514.3 455.0,514.3 456.1,514.1 456.0,514.0 455.3,513.8 454.4,513.6 454.0,513.4 454.4,513.2 456.2,513.1 460.0,513.0 466.0,513.0 473.8,513.0 483.0,513.1 493.2,513.2 503.8,513.4 514.4,513.5 524.7,513.7 534.0,513.9 542.6,514.1 551.0,514.3 559.2,514.6 567.2,514.8 575.3,515.1 583.4,515.4 591.6,515.6 600.0,515.9 608.7,516.2 617.7,516.5 626.8,516.7 636.0,517.0 645.0,517.3 653.8,517.6 662.2,517.9 670.0,518.2 677.2,518.5 684.0,518.7 690.4,519.0 696.6,519.2 702.5,519.4 708.3,519.7 714.1,520.0 720.0,520.3 725.9,520.7 731.8,521.1 737.7,521.5 743.4,522.0 749.1,522.4 754.6,522.8 759.9,523.2 765.0,523.5 769.9,523.7 774.5,523.9 778.9,524.0 783.1,524.0 787.3,524.1 791.5,524.1 795.7,524.2 800.0,524.3 804.4,524.4 808.7,524.6 813.0,524.8 817.4,524.9 821.7,525.1 826.1,525.2 830.5,525.4 835.0,525.5 839.8,525.6 845.0,525.7 850.4,525.8 855.7,525.8 860.7,525.9 865.3,525.9 869.1,526.0 872.0,526.0 874.0,526.0 874.0,600.5 872.0,600.5 866.1,600.6 857.7,600.7 847.9,600.8 837.6,600.9 828.0,601.1 820.0,601.3 813.5,601.5 807.7,601.7 802.6,602.0 797.9,602.3 793.8,602.6 790.0,603.0 786.7,603.4 784.0,603.9 781.7,604.3 779.8,604.9 778.2,605.6 776.8,606.4 775.7,607.2 775.1,607.9 774.7,608.8 774.6,609.9 774.4,611.6 774.3,614.0 774.2,617.6 774.1,622.3 774.1,627.5 774.2,632.6 774.3,637.0 774.3,640.0 262.0,640.0" fill="#c8beaa"/>
<polygon points="262.0,518.8 262.1,518.7 262.3,518.6 262.5,518.5 262.7,518.4 262.9,518.3 263.2,518.2 263.6,518.0 264.0,517.9 264.4,517.7 264.9,517.5 265.4,517.2 265.9,517.0 266.5,516.7 267.2,516.5 268.0,516.3 268.9,516.1 270.0,515.9 271.2,515.8 272.6,515.7 274.0,515.6 275.5,515.5 276.9,515.5 278.2,515.4 279.4,515.4 280.4,515.5 281.3,515.6 282.1,515.7 282.8,515.9 283.6,516.0 284.4,516.2 285.3,516.3 286.3,516.3 287.4,516.3 288.5,516.3 289.7,516.2 290.9,516.1 292.2,516.0 293.6,515.9 295.1,515.8 296.8,515.6 298.7,515.5 300.9,515.2 303.3,515.0 305.7,514.7 308.1,514.5 310.4,514.3 312.5,514.1 314.2,514.1 315.6,514.1 316.7,514.3 317.6,514.5 318.3,514.8 319.0,515.0 319.6,515.3 320.3,515.5 321.1,515.6 322.0,515.7 322.9,515.7 323.8,515.7 324.7,515.7 325.6,515.7 326.5,515.6 327.3,515.5 328.1,515.4 328.8,515.3 329.5,515.1 330.1,514.9 330.6,514.7 331.2,514.5 331.8,514.3 332.4,514.2 333.0,514.1 333.6,514.1 334.3,514.2 335.0,514.3 335.6,514.4 336.3,514.5 337.0,514.7 337.7,514.7 338.5,514.7 339.3,514.7 340.1,514.5 341.0,514.4 341.9,514.2 342.8,514.0 343.7,513.8 344.6,513.6 345.5,513.6 346.4,513.5 347.2,513.6 348.1,513.6 348.9,513.7 349.8,513.7 350.7,513.8 351.5,513.9 352.4,514.0 353.2,514.1 353.9,514.2 354.6,514.4 355.4,514.5 356.1,514.6 357.0,514.7 358.1,514.8 359.4,514.9 360.9,515.0 362.5,515.0 364.2,515.1 366.1,515.1 368.1,515.2 370.2,515.2 372.5,515.2 375.0,515.2 377.6,515.2 380.5,515.1 383.5,515.0 386.6,514.9 389.8,514.8 393.2,514.8 396.6,514.7 400.0,514.7 403.5,514.7 407.3,514.7 411.1,514.8 415.0,514.8 418.9,514.9 422.7,514.9 426.5,515.0 430.0,515.1 433.5,515.1 437.1,515.2 440.6,515.2 444.1,515.2 447.3,515.3 450.3,515.3 452.9,515.4 455.0,515.4 456.1,515.4 456.0,515.4 455.3,515.3 454.4,515.3 454.0,515.3 454.4,515.3 456.2,515.3 460.0,515.3 466.0,515.4 473.8,515.4 483.0,515.5 493.2,515.7 503.8,515.8 514.4,515.9 524.7,516.1 534.0,516.2 542.6,516.3 551.0,516.4 559.2,516.5 567.2,516.6 575.3,516.8 583.4,517.0 591.6,517.2 600.0,517.5 608.7,517.9 617.7,518.4 626.8,518.9 636.0,519.4 645.0,520.0 653.8,520.6 662.2,521.1 670.0,521.6 677.2,522.0 684.0,522.4 690.4,522.8 696.6,523.1 702.5,523.5 708.3,523.8 714.1,524.2 720.0,524.7 725.9,525.2 731.8,525.9 737.7,526.6 743.4,527.2 749.1,527.9 754.6,528.5 759.9,529.1 765.0,529.5 769.9,529.8 774.5,530.0 778.9,530.1 783.1,530.1 787.3,530.1 791.5,530.1 795.7,530.2 800.0,530.3 804.4,530.5 808.7,530.7 813.0,530.9 817.4,531.1 821.7,531.4 826.1,531.6 830.5,531.8 835.0,532.0 839.8,532.2 845.0,532.3 850.4,532.4 855.7,532.6 860.7,532.7 865.3,532.8 869.1,532.8 872.0,532.9 874.0,532.9 874.0,599.5 872.0,599.5 866.1,599.6 857.7,599.7 847.9,599.8 837.6,599.9 828.0,600.1 820.0,600.3 813.5,600.5 807.8,600.7 802.6,601.0 798.0,601.3 793.8,601.6 790.0,602.0 786.6,602.4 783.8,602.9 781.4,603.4 779.4,604.0 777.7,604.7 776.2,605.6 775.1,606.5 774.4,607.4 774.1,608.4 773.9,609.7 773.8,611.5 773.7,614.0 773.6,617.6 773.5,622.3 773.5,627.5 773.6,632.6 773.7,637.0 773.7,640.0 262.0,640.0" fill="#b4c5c8"/>
<polygon points="262.0,518.8 262.1,518.7 262.3,518.6 262.5,518.6 262.7,518.5 262.9,518.4 263.2,518.3 263.6,518.1 264.0,518.0 264.4,517.8 264.9,517.7 265.4,517.4 265.9,517.2 266.5,517.0 267.2,516.8 268.0,516.6 268.9,516.5 270.0,516.4 271.2,516.3 272.6,516.2 274.0,516.1 275.5,516.0 276.9,516.0 278.2,515.9 279.4,515.9 280.4,516.0 281.3,516.1 282.1,516.2 282.8,516.3 283.6,516.5 284.4,516.6 285.3,516.7 286.3,516.7 287.4,516.7 288.5,516.7 289.7,516.6 290.9,516.5 292.2,516.4 293.6,516.3 295.1,516.2 296.8,516.1 298.7,516.0 300.9,515.8 303.3,515.6 305.7,515.3 308.1,515.1 310.4,515.0 312.5,514.9 314.2,514.8 315.6,514.9 316.7,515.0 317.6,515.2 318.3,515.4 319.0,515.6 319.6,515.8 320.3,516.0 321.1,516.1 322.0,516.2 322.9,516.2 323.8,516.2 324.7,516.2 325.6,516.1 326.5,516.1 327.3,516.0 328.1,515.9 328.8,515.8 329.5,515.7 330.1,515.5 330.6,515.3 331.2,515.2 331.8,515.0 332.4,514.9 333.0,514.8 333.6,514.8 334.3,514.9 335.0,515.0 335.6,515.1 336.3,515.2 337.0,515.3 337.7,515.4 338.5,515.4 339.3,515.3 340.1,515.1 341.0,514.9 341.9,514.7 342.8,514.5 343.7,514.3 344.6,514.2 345.5,514.1 346.4,514.0 347.2,514.0 348.1,514.1 348.9,514.1 349.8,514.2 350.7,514.3 351.5,514.4 352.4,514.4 353.2,514.5 353.9,514.6 354.6,514.7 355.4,514.8 356.1,514.9 357.0,515.0 358.1,515.1 359.4,515.2 360.9,515.3 362.5,515.3 364.2,515.4 366.1,515.4 368.1,515.4 370.2,515.4 372.5,515.4 375.0,515.4 377.6,515.4 380.5,515.3 383.5,515.3 386.6,515.2 389.8,515.1 393.2,515.1 396.6,515.0 400.0,515.0 403.5,515.0 407.3,515.1 411.1,515.2 415.0,515.3 418.9,515.4 422.7,515.5 426.5,515.6 430.0,515.6 433.5,515.7 437.1,515.8 440.6,515.9 444.1,515.9 447.3,516.0 450.3,516.1 452.9,516.1 455.0,516.2 456.1,516.2 456.0,516.2 455.3,516.1 454.4,516.1 454.0,516.0 454.4,516.0 456.2,516.0 460.0,516.1 466.0,516.2 473.8,516.3 483.0,516.5 493.2,516.7 503.8,516.8 514.4,517.1 524.7,517.3 534.0,517.5 542.6,517.7 551.0,517.9 559.2,518.1 567.2,518.4 575.3,518.6 583.4,519.0 591.6,519.3 600.0,519.8 608.7,520.4 617.7,521.0 626.8,521.8 636.0,522.6 645.0,523.4 653.8,524.1 662.2,524.9 670.0,525.5 677.2,526.0 684.0,526.5 690.4,526.9 696.6,527.3 702.5,527.7 708.3,528.2 714.1,528.7 720.0,529.2 725.9,529.8 731.8,530.6 737.7,531.4 743.4,532.2 749.1,533.0 754.6,533.8 759.9,534.4 765.0,535.0 769.9,535.5 774.5,535.8 778.9,536.1 783.1,536.4 787.3,536.6 791.5,536.8 795.7,537.0 800.0,537.2 804.4,537.4 808.7,537.6 813.0,537.8 817.4,537.9 821.7,538.1 826.1,538.2 830.5,538.3 835.0,538.5 839.8,538.7 845.0,538.9 850.4,539.0 855.7,539.2 860.7,539.4 865.3,539.6 869.1,539.7 872.0,539.8 874.0,539.8 874.0,598.5 872.0,598.5 866.1,598.6 857.7,598.7 847.9,598.8 837.6,598.9 828.0,599.1 820.0,599.3 813.5,599.5 807.8,599.7 802.6,600.0 798.0,600.2 793.8,600.6 790.0,601.0 786.6,601.4 783.6,601.9 781.1,602.4 778.9,603.1 777.1,603.8 775.6,604.8 774.5,605.8 773.8,606.8 773.4,608.0 773.3,609.5 773.2,611.4 773.1,614.0 773.0,617.7 772.9,622.4 772.9,627.6 773.0,632.6 773.1,637.0 773.1,640.0 262.0,640.0" fill="#8ebac0"/>
<polygon points="262.0,518.7 262.1,518.7 262.3,518.6 262.5,518.6 262.7,518.5 262.9,518.4 263.2,518.3 263.6,518.2 264.0,518.1 264.4,518.0 264.9,517.8 265.4,517.7 265.9,517.5 266.5,517.3 267.2,517.2 268.0,517.0 268.9,516.9 270.0,516.8 271.2,516.7 272.6,516.6 274.0,516.6 275.5,516.5 276.9,516.5 278.2,516.5 279.4,516.5 280.4,516.5 281.3,516.6 282.1,516.7 282.8,516.8 283.6,516.9 284.4,517.0 285.3,517.0 286.3,517.1 287.4,517.1 288.5,517.0 289.7,517.0 290.9,516.9 292.2,516.9 293.6,516.8 295.1,516.7 296.8,516.6 298.7,516.5 300.9,516.3 303.3,516.1 305.7,516.0 308.1,515.8 310.4,515.7 312.5,515.6 314.2,515.5 315.6,515.6 316.7,515.7 317.6,515.8 318.3,516.0 319.0,516.2 319.6,516.4 320.3,516.5 321.1,516.6 322.0,516.6 322.9,516.7 323.8,516.7 324.7,516.6 325.6,516.6 326.5,516.6 327.3,516.5 328.1,516.5 328.8,516.4 329.5,516.2 330.1,516.1 330.6,516.0 331.2,515.8 331.8,515.7 332.4,515.6 333.0,515.5 333.6,515.5 334.3,515.6 335.0,515.7 335.6,515.8 336.3,515.9 337.0,516.0 337.7,516.0 338.5,516.0 339.3,515.9 340.1,515.7 341.0,515.5 341.9,515.3 342.8,515.0 343.7,514.8 344.6,514.7 345.5,514.5 346.4,514.5 347.2,514.5 348.1,514.5 348.9,514.6 349.8,514.6 350.7,514.7 351.5,514.8 352.4,514.9 353.2,514.9 353.9,515.0 354.6,515.1 355.4,515.2 356.1,515.3 357.0,515.4 358.1,515.4 359.4,515.5 360.9,515.5 362.5,515.6 364.2,515.6 366.1,515.6 368.1,515.7 370.2,515.7 372.5,515.7 375.0,515.7 377.6,515.7 380.5,515.6 383.5,515.5 386.6,515.5 389.8,515.4 393.2,515.4 396.6,515.3 400.0,515.3 403.5,515.4 407.3,515.5 411.1,515.6 415.0,515.7 418.9,515.8 422.7,516.0 426.5,516.1 430.0,516.2 433.5,516.3 437.1,516.4 440.6,516.5 444.1,516.7 447.3,516.8 450.3,516.8 452.9,516.9 455.0,517.0 456.1,517.0 456.0,517.0 455.3,516.9 454.4,516.9 454.0,516.8 454.4,516.8 456.2,516.8 460.0,516.9 466.0,517.0 473.8,517.2 483.0,517.4 493.2,517.6 503.8,517.9 514.4,518.2 524.7,518.5 534.0,518.8 542.6,519.1 551.0,519.4 559.2,519.8 567.2,520.1 575.3,520.5 583.4,521.0 591.6,521.5 600.0,522.1 608.7,522.8 617.7,523.6 626.8,524.6 636.0,525.5 645.0,526.5 653.8,527.4 662.2,528.3 670.0,529.0 677.2,529.6 684.0,530.1 690.4,530.6 696.6,531.0 702.5,531.4 708.3,531.9 714.1,532.4 720.0,533.0 725.9,533.8 731.8,534.6 737.7,535.6 743.4,536.6 749.1,537.5 754.6,538.4 759.9,539.3 765.0,540.0 769.9,540.6 774.5,541.1 778.9,541.5 783.1,541.9 787.3,542.3 791.5,542.6 795.7,542.9 800.0,543.2 804.4,543.5 808.7,543.8 813.0,544.0 817.4,544.2 821.7,544.4 826.1,544.6 830.5,544.8 835.0,545.0 839.8,545.2 845.0,545.5 850.4,545.7 855.7,546.0 860.7,546.2 865.3,546.4 869.1,546.6 872.0,546.7 874.0,546.7 874.0,597.5 872.0,597.5 866.1,597.6 857.7,597.7 847.9,597.8 837.6,597.9 828.0,598.1 820.0,598.3 813.6,598.5 807.8,598.7 802.7,599.0 798.1,599.2 793.9,599.6 790.0,600.0 786.5,600.5 783.4,600.9 780.8,601.5 778.5,602.1 776.6,603.0 775.0,604.0 773.8,605.1 773.1,606.3 772.8,607.6 772.7,609.3 772.6,611.3 772.5,614.0 772.4,617.7 772.3,622.4 772.3,627.6 772.4,632.7 772.5,637.0 772.5,640.0 262.0,640.0" fill="#6aabb6"/>
<polygon points="262.0,518.7 262.1,518.7 262.3,518.7 262.5,518.6 262.7,518.5 262.9,518.5 263.2,518.4 263.6,518.3 264.0,518.2 264.4,518.1 264.9,518.0 265.4,517.9 265.9,517.7 266.5,517.6 267.2,517.4 268.0,517.3 268.9,517.2 270.0,517.1 271.2,517.1 272.6,517.0 274.0,516.9 275.5,516.9 276.9,516.9 278.2,516.9 279.4,516.9 280.4,516.9 281.3,517.0 282.1,517.0 282.8,517.1 283.6,517.2 284.4,517.3 285.3,517.3 286.3,517.4 287.4,517.4 288.5,517.3 289.7,517.3 290.9,517.3 292.2,517.2 293.6,517.1 295.1,517.1 296.8,517.0 298.7,516.9 300.9,516.7 303.3,516.6 305.7,516.5 308.1,516.3 310.4,516.2 312.5,516.1 314.2,516.1 315.6,516.1 316.7,516.2 317.6,516.3 318.3,516.5 319.0,516.6 319.6,516.8 320.3,516.9 321.1,517.0 322.0,517.0 322.9,517.0 323.8,517.0 324.7,517.0 325.6,517.0 326.5,517.0 327.3,516.9 328.1,516.9 328.8,516.8 329.5,516.7 330.1,516.6 330.6,516.5 331.2,516.3 331.8,516.2 332.4,516.2 333.0,516.1 333.6,516.1 334.3,516.2 335.0,516.2 335.6,516.3 336.3,516.4 337.0,516.5 337.7,516.5 338.5,516.5 339.3,516.4 340.1,516.2 341.0,516.0 341.9,515.7 342.8,515.5 343.7,515.2 344.6,515.1 345.5,514.9 346.4,514.9 347.2,514.9 348.1,514.9 348.9,514.9 349.8,515.0 350.7,515.1 351.5,515.1 352.4,515.2 353.2,515.3 353.9,515.3 354.6,515.4 355.4,515.5 356.1,515.5 357.0,515.6 358.1,515.7 359.4,515.7 360.9,515.8 362.5,515.8 364.2,515.8 366.1,515.8 368.1,515.9 370.2,515.9 372.5,515.9 375.0,515.9 377.6,515.9 380.5,515.8 383.5,515.7 386.6,515.7 389.8,515.6 393.2,515.6 396.6,515.6 400.0,515.6 403.5,515.7 407.3,515.8 411.1,515.9 415.0,516.1 418.9,516.2 422.7,516.4 426.5,516.5 430.0,516.7 433.5,516.8 437.1,516.9 440.6,517.1 444.1,517.2 447.3,517.3 450.3,517.5 452.9,517.5 455.0,517.6 456.1,517.6 456.0,517.6 455.3,517.6 454.4,517.5 454.0,517.5 454.4,517.5 456.2,517.5 460.0,517.6 466.0,517.8 473.8,518.0 483.0,518.3 493.2,518.6 503.8,518.9 514.4,519.3 524.7,519.6 534.0,520.0 542.6,520.3 551.0,520.6 559.2,520.9 567.2,521.3 575.3,521.6 583.4,522.1 591.6,522.6 600.0,523.3 608.7,524.1 617.7,525.2 626.8,526.3 636.0,527.5 645.0,528.7 653.8,529.9 662.2,531.0 670.0,531.9 677.2,532.7 684.0,533.3 690.4,533.9 696.6,534.4 702.5,534.9 708.3,535.4 714.1,536.1 720.0,536.8 725.9,537.7 731.8,538.7 737.7,539.8 743.4,540.9 749.1,542.1 754.6,543.2 759.9,544.1 765.0,545.0 769.9,545.7 774.5,546.4 778.9,547.0 783.1,547.5 787.3,547.9 791.5,548.4 795.7,548.8 800.0,549.2 804.4,549.6 808.7,549.9 813.0,550.2 817.4,550.5 821.7,550.7 826.1,551.0 830.5,551.2 835.0,551.5 839.8,551.8 845.0,552.1 850.4,552.4 855.7,552.6 860.7,552.9 865.3,553.1 869.1,553.3 872.0,553.5 874.0,553.5 874.0,596.5 872.0,596.5 866.1,596.6 857.7,596.7 847.9,596.8 837.6,596.9 828.0,597.1 820.0,597.3 813.6,597.5 807.8,597.7 802.7,597.9 798.1,598.2 793.9,598.6 790.0,599.0 786.4,599.5 783.2,600.0 780.5,600.5 778.1,601.2 776.1,602.1 774.4,603.2 773.2,604.4 772.5,605.7 772.2,607.2 772.1,609.0 772.0,611.2 771.9,614.0 771.8,617.8 771.7,622.5 771.7,627.7 771.8,632.7 771.9,637.0 771.9,640.0 262.0,640.0" fill="#4c93a5"/>
<polygon points="262.0,518.7 262.1,518.7 262.3,518.7 262.5,518.6 262.7,518.6 262.9,518.5 263.2,518.5 263.6,518.4 264.0,518.3 264.4,518.3 264.9,518.2 265.4,518.0 265.9,517.9 266.5,517.8 267.2,517.7 268.0,517.6 268.9,517.6 270.0,517.5 271.2,517.4 272.6,517.4 274.0,517.3 275.5,517.3 276.9,517.3 278.2,517.3 279.4,517.3 280.4,517.3 281.3,517.3 282.1,517.4 282.8,517.5 283.6,517.5 284.4,517.6 285.3,517.6 286.3,517.7 287.4,517.7 288.5,517.6 289.7,517.6 290.9,517.6 292.2,517.5 293.6,517.5 295.1,517.4 296.8,517.4 298.7,517.3 300.9,517.2 303.3,517.1 305.7,517.0 308.1,516.9 310.4,516.8 312.5,516.7 314.2,516.7 315.6,516.7 316.7,516.8 317.6,516.9 318.3,517.0 319.0,517.1 319.6,517.2 320.3,517.3 321.1,517.4 322.0,517.4 322.9,517.4 323.8,517.4 324.7,517.4 325.6,517.4 326.5,517.3 327.3,517.3 328.1,517.3 328.8,517.2 329.5,517.1 330.1,517.1 330.6,517.0 331.2,516.9 331.8,516.8 332.4,516.7 333.0,516.7 333.6,516.7 334.3,516.7 335.0,516.8 335.6,516.9 336.3,517.0 337.0,517.0 337.7,517.0 338.5,517.0 339.3,516.8 340.1,516.6 341.0,516.4 341.9,516.2 342.8,515.9 343.7,515.7 344.6,515.5 345.5,515.3 346.4,515.3 347.2,515.3 348.1,515.3 348.9,515.3 349.8,515.4 350.7,515.4 351.5,515.5 352.4,515.5 353.2,515.6 353.9,515.6 354.6,515.7 355.4,515.7 356.1,515.8 357.0,515.9 358.1,515.9 359.4,515.9 360.9,516.0 362.5,516.0 364.2,516.0 366.1,516.0 368.1,516.1 370.2,516.1 372.5,516.1 375.0,516.1 377.6,516.1 380.5,516.0 383.5,516.0 386.6,515.9 389.8,515.9 393.2,515.8 396.6,515.8 400.0,515.9 403.5,516.0 407.3,516.1 411.1,516.2 415.0,516.4 418.9,516.6 422.7,516.8 426.5,517.0 430.0,517.1 433.5,517.3 437.1,517.4 440.6,517.6 444.1,517.8 447.3,517.9 450.3,518.0 452.9,518.2 455.0,518.3 456.1,518.3 456.0,518.3 455.3,518.3 454.4,518.2 454.0,518.2 454.4,518.2 456.2,518.3 460.0,518.4 466.0,518.6 473.8,518.9 483.0,519.3 493.2,519.7 503.8,520.1 514.4,520.5 524.7,520.9 534.0,521.3 542.6,521.6 551.0,521.9 559.2,522.1 567.2,522.3 575.3,522.7 583.4,523.1 591.6,523.6 600.0,524.4 608.7,525.4 617.7,526.7 626.8,528.2 636.0,529.7 645.0,531.3 653.8,532.8 662.2,534.2 670.0,535.4 677.2,536.4 684.0,537.1 690.4,537.8 696.6,538.4 702.5,539.0 708.3,539.7 714.1,540.4 720.0,541.2 725.9,542.2 731.8,543.3 737.7,544.4 743.4,545.6 749.1,546.8 754.6,548.0 759.9,549.1 765.0,550.0 769.9,550.8 774.5,551.6 778.9,552.3 783.1,553.0 787.3,553.6 791.5,554.2 795.7,554.7 800.0,555.2 804.4,555.7 808.7,556.1 813.0,556.4 817.4,556.7 821.7,557.0 826.1,557.3 830.5,557.6 835.0,558.0 839.8,558.4 845.0,558.8 850.4,559.3 855.7,559.8 860.7,560.2 865.3,560.6 869.1,561.0 872.0,561.2 874.0,561.2 874.0,595.5 872.0,595.5 866.1,595.6 857.7,595.7 847.9,595.8 837.6,595.9 828.0,596.1 820.0,596.3 813.6,596.5 807.9,596.7 802.8,596.9 798.2,597.2 793.9,597.5 790.0,598.0 786.3,598.5 783.1,599.0 780.2,599.6 777.7,600.3 775.5,601.2 773.8,602.4 772.6,603.8 771.9,605.2 771.5,606.8 771.4,608.8 771.4,611.1 771.3,614.0 771.2,617.8 771.1,622.6 771.1,627.7 771.2,632.7 771.3,637.0 771.3,640.0 262.0,640.0" fill="#3b7c90"/>
<polygon points="262.0,518.7 262.1,518.7 262.3,518.7 262.5,518.6 262.7,518.6 262.9,518.6 263.2,518.5 263.6,518.5 264.0,518.4 264.4,518.4 264.9,518.3 265.4,518.2 265.9,518.2 266.5,518.1 267.2,518.0 268.0,517.9 268.9,517.9 270.0,517.8 271.2,517.8 272.6,517.8 274.0,517.7 275.5,517.7 276.9,517.7 278.2,517.7 279.4,517.7 280.4,517.7 281.3,517.7 282.1,517.8 282.8,517.8 283.6,517.9 284.4,517.9 285.3,517.9 286.3,518.0 287.4,518.0 288.5,517.9 289.7,517.9 290.9,517.9 292.2,517.9 293.6,517.8 295.1,517.8 296.8,517.7 298.7,517.7 300.9,517.6 303.3,517.5 305.7,517.5 308.1,517.4 310.4,517.3 312.5,517.3 314.2,517.3 315.6,517.3 316.7,517.3 317.6,517.4 318.3,517.5 319.0,517.6 319.6,517.6 320.3,517.7 321.1,517.7 322.0,517.8 322.9,517.8 323.8,517.8 324.7,517.8 325.6,517.8 326.5,517.7 327.3,517.7 328.1,517.7 328.8,517.6 329.5,517.6 330.1,517.5 330.6,517.5 331.2,517.4 331.8,517.3 332.4,517.3 333.0,517.3 333.6,517.3 334.3,517.3 335.0,517.4 335.6,517.4 336.3,517.5 337.0,517.5 337.7,517.5 338.5,517.5 339.3,517.3 340.1,517.1 341.0,516.9 341.9,516.6 342.8,516.3 343.7,516.1 344.6,515.9 345.5,515.7 346.4,515.7 347.2,515.6 348.1,515.6 348.9,515.7 349.8,515.7 350.7,515.8 351.5,515.8 352.4,515.9 353.2,515.9 353.9,515.9 354.6,516.0 355.4,516.0 356.1,516.1 357.0,516.1 358.1,516.1 359.4,516.2 360.9,516.2 362.5,516.2 364.2,516.2 366.1,516.2 368.1,516.3 370.2,516.3 372.5,516.3 375.0,516.3 377.6,516.3 380.5,516.2 383.5,516.2 386.6,516.1 389.8,516.1 393.2,516.1 396.6,516.1 400.0,516.1 403.5,516.2 407.3,516.4 411.1,516.6 415.0,516.8 418.9,517.0 422.7,517.2 426.5,517.4 430.0,517.6 433.5,517.8 437.1,517.9 440.6,518.1 444.1,518.3 447.3,518.5 450.3,518.6 452.9,518.8 455.0,518.9 456.1,519.0 456.0,519.0 455.3,519.0 454.4,518.9 454.0,518.9 454.4,518.9 456.2,519.0 460.0,519.2 466.0,519.5 473.8,519.8 483.0,520.2 493.2,520.7 503.8,521.1 514.4,521.6 524.7,522.1 534.0,522.6 542.6,523.0 551.0,523.4 559.2,523.8 567.2,524.1 575.3,524.6 583.4,525.1 591.6,525.8 600.0,526.7 608.7,527.8 617.7,529.2 626.8,530.7 636.0,532.3 645.0,533.9 653.8,535.5 662.2,537.0 670.0,538.3 677.2,539.4 684.0,540.4 690.4,541.3 696.6,542.1 702.5,542.9 708.3,543.7 714.1,544.6 720.0,545.6 725.9,546.7 731.8,547.9 737.7,549.1 743.4,550.4 749.1,551.6 754.6,552.8 759.9,554.0 765.0,555.0 769.9,555.9 774.5,556.8 778.9,557.7 783.1,558.5 787.3,559.2 791.5,559.9 795.7,560.6 800.0,561.2 804.4,561.8 808.7,562.2 813.0,562.7 817.4,563.1 821.7,563.4 826.1,563.8 830.5,564.1 835.0,564.5 839.8,564.9 845.1,565.3 848.0,566.5 850.5,568.4 852.4,570.9 853.6,573.9 854.0,577.0 853.6,581.6 852.4,585.9 850.5,589.7 848.0,592.5 845.1,594.3 840.2,594.9 832.7,595.0 825.8,595.2 820.0,595.3 815.1,595.4 810.6,595.6 806.6,595.7 802.8,595.9 799.3,596.1 796.1,596.4 793.0,596.6 790.0,597.0 787.2,597.4 784.5,597.8 782.1,598.2 779.9,598.6 777.9,599.2 776.1,599.8 774.5,600.6 773.2,601.6 772.2,602.7 771.5,603.8 771.1,605.1 770.9,606.5 770.8,608.0 770.8,609.8 770.8,611.7 770.7,614.0 770.6,616.8 770.5,620.2 770.5,623.9 770.5,627.8 770.6,631.6 770.6,635.0 770.7,637.9 770.7,640.0 262.0,640.0" fill="#246b85"/>
<polygon points="262.0,518.7 262.1,518.7 262.3,518.7 262.5,518.7 262.7,518.6 262.9,518.6 263.2,518.6 263.6,518.6 264.0,518.5 264.4,518.5 264.9,518.4 265.4,518.4 265.9,518.3 266.5,518.3 267.2,518.2 268.0,518.2 268.9,518.2 270.0,518.1 271.2,518.1 272.6,518.1 274.0,518.1 275.5,518.1 276.9,518.0 278.2,518.0 279.4,518.0 280.4,518.0 281.3,518.1 282.1,518.1 282.8,518.1 283.6,518.2 284.4,518.2 285.3,518.2 286.3,518.2 287.4,518.2 288.5,518.2 289.7,518.2 290.9,518.2 292.2,518.2 293.6,518.1 295.1,518.1 296.8,518.1 298.7,518.0 300.9,518.0 303.3,517.9 305.7,517.9 308.1,517.8 310.4,517.8 312.5,517.8 314.2,517.8 315.6,517.8 316.7,517.8 317.6,517.9 318.3,517.9 319.0,518.0 319.6,518.0 320.3,518.0 321.1,518.1 322.0,518.1 322.9,518.1 323.8,518.1 324.7,518.1 325.6,518.1 326.5,518.1 327.3,518.1 328.1,518.0 328.8,518.0 329.5,518.0 330.1,517.9 330.6,517.9 331.2,517.8 331.8,517.8 332.4,517.8 333.0,517.8 333.6,517.8 334.3,517.8 335.0,517.9 335.6,517.9 336.3,518.0 337.0,518.0 337.7,518.0 338.5,517.9 339.3,517.7 340.1,517.5 341.0,517.3 341.9,517.0 342.8,516.7 343.7,516.4 344.6,516.2 345.5,516.1 346.4,516.0 347.2,516.0 348.1,516.0 348.9,516.0 349.8,516.0 350.7,516.1 351.5,516.1 352.4,516.2 353.2,516.2 353.9,516.2 354.6,516.2 355.4,516.3 356.1,516.3 357.0,516.3 358.1,516.3 359.4,516.4 360.9,516.4 362.5,516.4 364.2,516.4 366.1,516.4 368.1,516.4 370.2,516.4 372.5,516.4 375.0,516.4 377.6,516.4 380.5,516.4 383.5,516.3 386.6,516.3 389.8,516.3 393.2,516.3 396.6,516.3 400.0,516.4 403.5,516.5 407.3,516.7 411.1,516.9 415.0,517.1 418.9,517.3 422.7,517.5 426.5,517.8 430.0,518.0 433.5,518.2 437.1,518.4 440.6,518.6 444.1,518.8 447.3,519.0 450.3,519.2 452.9,519.3 455.0,519.5 456.1,519.6 456.0,519.6 455.3,519.6 454.4,519.6 454.0,519.6 454.4,519.7 456.2,519.8 460.0,520.0 466.0,520.3 473.8,520.6 483.0,521.0 493.2,521.4 503.8,521.9 514.4,522.4 524.7,522.9 534.0,523.5 542.6,524.0 551.0,524.6 559.2,525.1 567.2,525.6 575.3,526.3 583.4,527.0 591.6,527.9 600.0,529.0 608.7,530.3 617.7,531.9 626.8,533.6 636.0,535.5 645.0,537.3 653.8,539.1 662.2,540.8 670.0,542.3 677.2,543.6 684.0,544.7 690.4,545.7 696.6,546.7 702.5,547.6 708.3,548.6 714.1,549.6 720.0,550.7 725.9,551.9 731.8,553.2 737.7,554.6 743.4,556.0 749.1,557.3 754.6,558.7 759.9,559.9 765.0,561.0 769.9,562.0 774.5,562.9 778.9,563.8 783.1,564.6 787.3,565.4 791.5,566.1 795.7,566.7 800.0,567.3 804.4,567.8 808.7,568.2 813.0,568.6 817.4,568.9 821.7,569.2 826.1,569.6 829.0,570.6 831.5,572.4 833.4,574.6 834.6,577.2 835.0,580.0 834.6,583.6 833.4,586.9 831.5,589.8 829.0,592.0 826.1,593.3 820.0,593.8 815.1,593.9 810.7,594.1 806.6,594.2 802.8,594.4 799.4,594.6 796.1,594.8 793.0,595.1 790.0,595.5 787.1,595.9 784.4,596.4 781.9,596.9 779.6,597.4 777.5,598.1 775.6,598.8 774.0,599.7 772.6,600.8 771.6,602.0 770.9,603.2 770.5,604.6 770.3,606.1 770.2,607.8 770.2,609.6 770.2,611.7 770.1,614.0 770.0,616.8 769.9,620.2 769.9,624.0 769.9,627.8 770.0,631.6 770.0,635.0 770.1,637.9 770.1,640.0 262.0,640.0" fill="#10577d"/>
<polygon points="262.0,518.7 262.1,518.7 262.3,518.7 262.5,518.7 262.7,518.7 262.9,518.7 263.2,518.6 263.6,518.6 264.0,518.6 264.4,518.6 264.9,518.6 265.4,518.5 265.9,518.5 266.5,518.5 267.2,518.5 268.0,518.4 268.9,518.4 270.0,518.4 271.2,518.4 272.6,518.4 274.0,518.4 275.5,518.4 276.9,518.3 278.2,518.3 279.4,518.3 280.4,518.3 281.3,518.4 282.1,518.4 282.8,518.4 283.6,518.4 284.4,518.4 285.3,518.4 286.3,518.4 287.4,518.4 288.5,518.4 289.7,518.4 290.9,518.4 292.2,518.4 293.6,518.4 295.1,518.4 296.8,518.4 298.7,518.3 300.9,518.3 303.3,518.3 305.7,518.3 308.1,518.2 310.4,518.2 312.5,518.2 314.2,518.2 315.6,518.2 316.7,518.2 317.6,518.2 318.3,518.3 319.0,518.3 319.6,518.3 320.3,518.3 321.1,518.4 322.0,518.4 322.9,518.4 323.8,518.4 324.7,518.4 325.6,518.4 326.5,518.4 327.3,518.4 328.1,518.3 328.8,518.3 329.5,518.3 330.1,518.3 330.6,518.3 331.2,518.2 331.8,518.2 332.4,518.2 333.0,518.2 333.6,518.2 334.3,518.2 335.0,518.3 335.6,518.3 336.3,518.4 337.0,518.4 337.7,518.4 338.5,518.3 339.3,518.1 340.1,517.9 341.0,517.6 341.9,517.3 342.8,517.0 343.7,516.7 344.6,516.5 345.5,516.4 346.4,516.3 347.2,516.2 348.1,516.2 348.9,516.3 349.8,516.3 350.7,516.4 351.5,516.4 352.4,516.4 353.2,516.4 353.9,516.4 354.6,516.5 355.4,516.5 356.1,516.5 357.0,516.5 358.1,516.5 359.4,516.5 360.9,516.5 362.5,516.6 364.2,516.6 366.1,516.6 368.1,516.6 370.2,516.6 372.5,516.6 375.0,516.6 377.6,516.6 380.5,516.5 383.5,516.5 386.6,516.5 389.8,516.4 393.2,516.5 396.6,516.5 400.0,516.6 403.5,516.7 407.3,516.9 411.1,517.1 415.0,517.3 418.9,517.6 422.7,517.8 426.5,518.1 430.0,518.3 433.5,518.5 437.1,518.8 440.6,519.0 444.1,519.2 447.3,519.4 450.3,519.6 452.9,519.8 455.0,519.9 456.1,520.1 456.0,520.1 455.3,520.2 454.4,520.3 454.0,520.3 454.4,520.4 456.2,520.6 460.0,520.8 466.0,521.1 473.8,521.4 483.0,521.7 493.2,522.1 503.8,522.5 514.4,523.1 524.7,523.6 534.0,524.3 542.6,525.0 551.0,525.8 559.2,526.7 567.2,527.6 575.3,528.6 583.4,529.7 591.6,530.9 600.0,532.2 608.7,533.6 617.7,535.3 626.8,537.0 636.0,538.8 645.0,540.6 653.8,542.4 662.2,544.1 670.0,545.7 677.2,547.1 684.0,548.4 690.4,549.7 696.6,550.9 702.5,552.0 708.3,553.2 714.1,554.5 720.0,555.8 725.9,557.2 731.8,558.8 737.7,560.4 743.4,562.0 749.1,563.5 754.6,565.0 759.9,566.4 765.0,567.5 769.9,568.5 774.5,569.3 778.9,570.0 783.1,570.6 787.3,571.1 791.5,571.6 795.7,572.0 800.0,572.4 804.4,572.8 808.1,573.1 811.0,574.0 813.5,575.5 815.4,577.4 816.6,579.6 817.0,582.0 816.6,584.7 815.4,587.3 813.5,589.5 811.0,591.2 808.1,592.3 802.9,592.6 799.4,592.8 796.1,593.0 793.0,593.4 790.0,593.8 787.1,594.3 784.3,594.9 781.7,595.5 779.3,596.1 777.1,596.9 775.1,597.8 773.4,598.8 772.0,600.0 770.9,601.3 770.2,602.7 769.8,604.2 769.6,605.8 769.6,607.5 769.6,609.5 769.6,611.6 769.5,614.0 769.4,616.9 769.3,620.3 769.3,624.0 769.3,627.9 769.4,631.6 769.4,635.0 769.5,637.9 769.5,640.0 262.0,640.0" fill="#093e72"/>
<polygon points="262.0,518.7 262.1,518.7 262.3,518.7 262.5,518.7 262.7,518.7 262.9,518.7 263.2,518.7 263.6,518.7 264.0,518.7 264.4,518.7 264.9,518.6 265.4,518.6 265.9,518.6 266.5,518.6 267.2,518.6 268.0,518.6 268.9,518.6 270.0,518.6 271.2,518.6 272.6,518.6 274.0,518.6 275.5,518.6 276.9,518.5 278.2,518.5 279.4,518.5 280.4,518.5 281.3,518.6 282.1,518.6 282.8,518.6 283.6,518.6 284.4,518.6 285.3,518.6 286.3,518.6 287.4,518.6 288.5,518.6 289.7,518.6 290.9,518.6 292.2,518.6 293.6,518.6 295.1,518.6 296.8,518.6 298.7,518.5 300.9,518.5 303.3,518.5 305.7,518.5 308.1,518.5 310.4,518.5 312.5,518.5 314.2,518.5 315.6,518.5 316.7,518.5 317.6,518.5 318.3,518.5 319.0,518.5 319.6,518.5 320.3,518.5 321.1,518.6 322.0,518.6 322.9,518.6 323.8,518.6 324.7,518.6 325.6,518.6 326.5,518.6 327.3,518.6 328.1,518.5 328.8,518.5 329.5,518.5 330.1,518.5 330.6,518.5 331.2,518.5 331.8,518.5 332.4,518.5 333.0,518.5 333.6,518.5 334.3,518.5 335.0,518.6 335.6,518.6 336.3,518.6 337.0,518.6 337.7,518.6 338.5,518.5 339.3,518.4 340.1,518.1 341.0,517.8 341.9,517.5 342.8,517.2 343.7,517.0 344.6,516.7 345.5,516.6 346.4,516.5 347.2,516.4 348.1,516.4 348.9,516.5 349.8,516.5 350.7,516.5 351.5,516.6 352.4,516.6 353.2,516.6 353.9,516.6 354.6,516.6 355.4,516.6 356.1,516.6 357.0,516.6 358.1,516.6 359.4,516.6 360.9,516.7 362.5,516.7 364.2,516.7 366.1,516.7 368.1,516.7 370.2,516.7 372.5,516.7 375.0,516.7 377.6,516.7 380.5,516.6 383.5,516.6 386.6,516.6 389.8,516.6 393.2,516.6 396.6,516.6 400.0,516.7 403.5,516.8 407.3,517.0 411.1,517.3 415.0,517.5 418.9,517.8 422.7,518.1 426.5,518.3 430.0,518.5 433.5,518.8 437.1,519.0 440.6,519.2 444.1,519.4 447.3,519.7 450.3,519.9 452.9,520.1 455.0,520.3 456.1,520.4 456.0,520.5 455.3,520.6 454.4,520.7 454.0,520.8 454.4,520.9 456.2,521.1 460.0,521.4 466.0,521.7 473.8,522.1 483.0,522.5 493.2,522.9 503.8,523.4 514.4,524.0 524.7,524.7 534.0,525.5 542.6,526.5 551.0,527.5 559.2,528.7 567.2,530.0 575.3,531.3 583.4,532.7 591.6,534.1 600.0,535.6 608.7,537.1 617.7,538.8 626.8,540.5 636.0,542.2 645.0,544.0 653.8,545.8 662.2,547.5 670.0,549.2 677.2,550.9 684.0,552.5 690.4,554.1 696.6,555.8 702.5,557.4 708.3,559.0 714.1,560.5 720.0,562.1 725.9,563.7 731.8,565.4 737.7,567.1 743.4,568.7 749.1,570.3 754.6,571.8 759.9,573.0 765.0,574.0 769.9,574.7 774.5,575.2 778.9,575.4 783.1,575.5 787.3,575.5 793.1,575.8 796.0,576.5 798.5,577.7 800.4,579.3 801.6,581.1 802.0,583.0 801.6,585.3 800.4,587.4 798.5,589.3 796.0,590.7 793.1,591.6 787.0,591.9 784.2,592.6 781.5,593.4 779.0,594.4 776.7,595.4 774.7,596.6 772.9,597.8 771.4,599.2 770.3,600.6 769.6,602.2 769.2,603.8 769.0,605.5 768.9,607.3 769.0,609.4 769.0,611.6 768.9,614.0 768.8,616.9 768.7,620.3 768.7,624.1 768.7,627.9 768.8,631.7 768.8,635.1 768.9,637.9 768.9,640.0 262.0,640.0" fill="#1b2958"/>
<polygon points="90.0,518.7 339.0,518.7 341.0,516.7 345.6,516.7 351.8,516.6 359.2,516.6 367.4,516.5 375.9,516.5 384.5,516.6 392.7,516.6 400.0,516.8 406.7,517.0 413.1,517.3 419.4,517.7 425.6,518.1 431.6,518.5 437.7,519.0 443.8,519.5 450.0,520.0 456.2,520.5 462.5,521.0 468.8,521.6 475.0,522.1 481.2,522.8 487.5,523.4 493.8,524.2 500.0,525.0 506.2,525.9 512.5,527.0 518.8,528.1 525.0,529.2 531.2,530.4 537.5,531.7 543.8,532.8 550.0,534.0 556.2,535.1 562.5,536.2 568.8,537.2 575.0,538.3 581.2,539.4 587.5,540.5 593.8,541.7 600.0,543.0 606.2,544.3 612.5,545.7 618.8,547.2 625.0,548.7 631.2,550.2 637.5,551.8 643.8,553.4 650.0,555.0 656.4,556.7 663.0,558.4 669.6,560.2 676.2,562.0 682.7,563.8 688.9,565.6 694.7,567.3 700.0,569.0 704.8,570.6 709.1,572.2 713.2,573.7 716.9,575.2 720.4,576.7 723.7,578.2 726.9,579.6 730.0,581.0 733.0,582.3 735.8,583.7 738.3,584.9 740.8,586.2 743.1,587.4 745.4,588.6 747.7,589.8 750.0,591.0 752.5,592.3 755.0,593.6 757.6,595.0 760.1,596.4 762.5,597.7 764.7,598.8 766.4,599.8 767.8,600.5 767.8,640.0 90.0,640.0" fill="#2e1f21"/>
<polyline points="96.0,189.0 101.0,188.3 107.6,187.3 115.4,186.1 124.1,184.8 133.5,183.4 143.1,182.0 152.7,180.6 162.0,179.4 171.2,178.2 180.7,177.1 190.4,175.9 200.3,174.8 210.3,173.7 220.4,172.6 230.3,171.5 240.2,170.5 249.9,169.5 259.5,168.5 269.0,167.6 278.6,166.7 288.2,165.8 298.0,164.9 308.0,164.2 318.3,163.4 329.0,162.7 340.2,162.0 351.7,161.3 363.3,160.7 374.9,160.1 386.2,159.6 397.2,159.2 407.6,158.9 417.5,158.7 427.0,158.6 436.2,158.6 445.2,158.6 454.0,158.7 462.7,158.9 471.3,159.1 480.0,159.3 488.6,159.6 497.2,159.9 505.6,160.3 513.9,160.7 522.2,161.1 530.5,161.6 538.8,162.1 547.2,162.7 555.6,163.3 564.0,163.9 572.4,164.6 580.8,165.4 589.1,166.1 597.5,166.8 605.9,167.6 614.3,168.3 622.7,169.0 631.1,169.7 639.5,170.3 647.9,171.0 656.3,171.7 664.7,172.4 673.1,173.1 681.5,173.9 689.9,174.7 698.3,175.6 706.7,176.5 715.1,177.4 723.5,178.3 731.9,179.1 740.3,180.0 748.7,180.7 757.2,181.4 765.8,182.0 774.5,182.5 783.1,183.0 791.7,183.5 800.0,184.0 808.1,184.5 815.9,185.1 823.7,185.7 831.6,186.4 839.5,187.1 847.1,187.8 854.3,188.5 860.6,189.1 865.9,189.6 870.0,190.0" fill="none" stroke="#3a1f1f" stroke-width="1.3" stroke-opacity="0.72" stroke-linejoin="round"/>
<polyline points="96.0,238.0 101.1,237.2 107.7,236.1 115.7,234.7 124.5,233.3 133.9,231.7 143.6,230.2 153.0,228.7 162.0,227.4 170.7,226.2 179.5,225.0 188.4,223.9 197.4,222.8 206.5,221.7 215.5,220.6 224.5,219.5 233.5,218.5 242.5,217.5 251.5,216.4 260.5,215.4 269.5,214.4 278.5,213.4 287.4,212.5 296.2,211.6 304.9,210.7 313.2,209.9 321.0,209.0 328.5,208.2 336.1,207.4 344.0,206.6 352.4,206.0 361.6,205.5 371.9,205.1 383.7,204.9 397.0,204.8 411.2,204.8 425.9,205.0 440.7,205.2 454.9,205.4 468.2,205.7 480.0,206.0 490.4,206.3 499.7,206.7 508.2,207.1 516.2,207.6 523.8,208.1 531.4,208.7 539.1,209.2 547.2,209.8 555.6,210.4 564.0,211.0 572.4,211.7 580.8,212.4 589.1,213.1 597.5,213.9 605.9,214.6 614.3,215.4 622.7,216.2 631.1,217.0 639.5,217.9 647.9,218.8 656.3,219.6 664.7,220.5 673.1,221.3 681.5,222.1 689.9,222.9 698.3,223.6 706.7,224.3 715.1,225.0 723.5,225.7 731.9,226.4 740.3,227.1 748.7,227.7 757.2,228.3 765.8,228.9 774.5,229.5 783.1,230.1 791.7,230.6 800.0,231.1 808.1,231.7 815.9,232.2 823.7,232.7 831.6,233.3 839.5,233.8 847.1,234.4 854.3,234.9 860.6,235.3 865.9,235.7 870.0,236.0" fill="none" stroke="#3a1f1f" stroke-width="1.3" stroke-opacity="0.72" stroke-linejoin="round"/>
<polyline points="96.0,286.0 101.1,285.0 107.8,283.6 115.9,281.9 124.8,280.1 134.3,278.2 143.9,276.3 153.3,274.6 162.0,273.2 170.4,272.0 178.9,270.9 187.5,269.9 196.1,268.9 204.7,268.0 213.0,267.2 221.2,266.3 229.0,265.4 236.5,264.5 243.7,263.6 250.7,262.7 257.6,261.8 264.4,261.0 271.1,260.2 277.9,259.4 284.8,258.7 291.7,258.0 298.5,257.4 305.2,256.8 312.0,256.2 318.9,255.7 325.9,255.2 333.1,254.7 340.6,254.2 348.4,253.7 356.4,253.3 364.7,252.8 373.1,252.4 381.6,252.0 390.2,251.7 398.9,251.5 407.6,251.3 416.4,251.2 425.4,251.3 434.6,251.4 443.8,251.5 453.0,251.7 462.1,252.0 471.2,252.2 480.0,252.5 488.6,252.8 497.2,253.1 505.6,253.4 513.9,253.8 522.2,254.2 530.5,254.7 538.8,255.2 547.2,255.7 555.6,256.3 564.0,256.9 572.4,257.6 580.8,258.3 589.1,259.0 597.5,259.8 605.9,260.5 614.3,261.3 622.7,262.1 631.1,262.9 639.5,263.7 647.9,264.6 656.3,265.4 664.7,266.3 673.1,267.2 681.5,268.0 689.9,268.8 698.3,269.7 706.7,270.6 715.1,271.4 723.5,272.3 731.9,273.1 740.3,273.9 748.7,274.7 757.2,275.5 765.8,276.2 774.5,276.9 783.1,277.7 791.7,278.4 800.0,279.0 808.1,279.7 815.9,280.3 823.7,280.9 831.6,281.5 839.5,282.2 847.1,282.8 854.3,283.3 860.6,283.8 865.9,284.2 870.0,284.5" fill="none" stroke="#3a1f1f" stroke-width="1.3" stroke-opacity="0.72" stroke-linejoin="round"/>
<polyline points="96.0,334.5 101.1,333.3 108.0,331.6 116.3,329.5 125.4,327.3 134.9,325.0 144.5,322.8 153.7,320.7 162.0,319.0 169.7,317.5 177.2,316.2 184.5,315.0 191.8,313.9 198.9,312.9 206.0,311.9 213.0,311.0 220.0,310.0 226.7,309.1 232.9,308.2 238.8,307.3 244.8,306.5 251.1,305.7 257.8,305.0 265.2,304.2 273.6,303.4 282.9,302.6 292.8,301.7 303.3,300.8 314.3,299.9 325.9,299.0 337.9,298.3 350.3,297.7 363.0,297.3 376.6,297.1 391.5,297.0 407.0,297.0 422.9,297.2 438.6,297.4 453.6,297.7 467.6,298.1 480.0,298.5 490.8,299.0 500.3,299.5 508.9,300.2 516.7,300.9 524.2,301.6 531.6,302.4 539.1,303.1 547.2,303.8 555.6,304.5 564.0,305.2 572.4,305.9 580.8,306.6 589.1,307.4 597.5,308.1 605.9,308.8 614.3,309.4 622.7,310.0 631.1,310.6 639.5,311.1 647.9,311.6 656.3,312.2 664.7,312.7 673.1,313.3 681.5,313.9 689.9,314.5 698.3,315.2 706.7,315.9 715.1,316.6 723.5,317.3 731.9,318.0 740.3,318.7 748.7,319.5 757.2,320.3 765.8,321.1 774.5,322.0 783.1,322.9 791.7,323.7 800.0,324.6 808.1,325.4 815.9,326.2 823.7,327.0 831.6,327.7 839.5,328.5 847.1,329.3 854.3,330.0 860.6,330.6 865.9,331.1 870.0,331.5" fill="none" stroke="#3a1f1f" stroke-width="1.3" stroke-opacity="0.72" stroke-linejoin="round"/>
<polyline points="96.0,382.0 101.1,380.8 107.8,379.2 115.9,377.3 124.8,375.2 134.3,373.0 143.9,370.8 153.3,368.8 162.0,367.0 170.3,365.4 178.7,363.8 187.1,362.3 195.4,360.9 203.8,359.5 212.2,358.2 220.6,357.0 229.0,355.8 237.4,354.7 245.8,353.7 254.1,352.8 262.5,352.0 270.9,351.2 279.2,350.5 287.6,349.8 296.0,349.1 304.0,348.4 311.6,347.8 318.9,347.2 326.4,346.6 334.2,346.1 342.7,345.7 352.2,345.3 363.0,345.1 375.6,345.0 389.9,344.9 405.4,344.9 421.5,345.0 437.6,345.2 453.1,345.4 467.4,345.7 480.0,346.0 490.8,346.4 500.3,346.9 508.9,347.5 516.7,348.2 524.2,348.9 531.6,349.5 539.1,350.2 547.2,350.8 555.6,351.4 564.0,351.9 572.4,352.5 580.8,353.0 589.1,353.5 597.5,354.1 605.9,354.7 614.3,355.3 622.7,355.9 631.1,356.6 639.5,357.3 647.9,358.0 656.3,358.7 664.7,359.4 673.1,360.1 681.5,360.9 689.9,361.7 698.3,362.5 706.7,363.4 715.1,364.2 723.5,365.1 731.9,366.0 740.3,366.8 748.7,367.6 757.2,368.4 765.8,369.1 774.5,369.8 783.1,370.5 791.7,371.2 800.0,371.8 808.1,372.5 815.9,373.2 823.7,373.9 831.6,374.7 839.5,375.4 847.1,376.2 854.3,376.9 860.6,377.6 865.9,378.1 870.0,378.5" fill="none" stroke="#3a1f1f" stroke-width="1.3" stroke-opacity="0.72" stroke-linejoin="round"/>
<polyline points="96.0,435.0 99.4,434.1 103.8,432.9 109.1,431.5 115.1,429.9 121.3,428.2 127.7,426.5 133.9,424.9 139.7,423.5 145.2,422.2 150.8,420.9 156.4,419.6 161.9,418.3 167.5,417.1 173.1,415.9 178.7,414.7 184.3,413.5 189.9,412.3 195.5,411.1 201.1,409.9 206.7,408.8 212.2,407.6 217.8,406.6 223.4,405.5 229.0,404.6 234.6,403.7 240.2,403.0 245.7,402.2 251.3,401.6 256.9,400.9 262.4,400.3 268.0,399.7 273.6,399.0 279.0,398.3 284.2,397.6 289.4,396.9 294.6,396.2 299.9,395.5 305.6,394.9 311.6,394.3 318.3,393.8 325.4,393.3 332.8,392.8 340.6,392.4 348.7,392.0 357.2,391.7 366.1,391.4 375.4,391.2 385.3,391.2 396.0,391.3 407.7,391.5 420.0,391.9 432.6,392.3 445.3,392.7 457.6,393.2 469.3,393.6 480.0,394.0 489.7,394.3 498.7,394.7 507.2,395.0 515.3,395.3 523.2,395.6 531.1,396.0 539.0,396.4 547.2,396.8 555.6,397.3 564.0,397.8 572.4,398.4 580.8,398.9 589.1,399.5 597.5,400.1 605.9,400.7 614.3,401.3 622.7,401.8 631.1,402.3 639.5,402.8 647.9,403.3 656.3,403.9 664.7,404.4 673.1,405.1 681.5,405.8 689.9,406.6 698.3,407.5 706.7,408.5 715.1,409.5 723.5,410.5 731.9,411.6 740.3,412.6 748.7,413.6 757.2,414.6 765.8,415.6 774.5,416.6 783.1,417.7 791.7,418.7 800.0,419.6 808.1,420.6 815.9,421.4 823.7,422.2 831.6,423.0 839.5,423.7 847.1,424.4 854.3,425.1 860.6,425.6 865.9,426.1 870.0,426.5" fill="none" stroke="#3a1f1f" stroke-width="1.3" stroke-opacity="0.72" stroke-linejoin="round"/>
<polyline points="96.0,489.2 98.1,488.7 100.8,488.1 104.0,487.4 107.7,486.6 111.5,485.7 115.4,484.8 119.2,483.9 122.8,483.0 126.2,482.1 129.7,481.2 133.2,480.3 136.7,479.3 140.2,478.4 143.7,477.4 147.2,476.4 150.7,475.5 154.2,474.6 157.8,473.6 161.4,472.6 165.0,471.7 168.5,470.7 172.0,469.8 175.3,468.9 178.5,468.0 181.4,467.2 183.9,466.4 186.2,465.7 188.5,465.0 190.9,464.2 193.5,463.4 196.5,462.5 200.0,461.5 204.1,460.3 208.7,458.9 213.7,457.4 218.9,455.9 224.2,454.3 229.6,452.8 234.9,451.5 240.0,450.4 244.9,449.5 249.9,448.7 254.8,448.1 259.7,447.5 264.6,447.0 269.5,446.5 274.4,446.0 279.4,445.5 284.1,445.0 288.4,444.4 292.5,443.9 296.7,443.4 301.3,442.9 306.5,442.4 312.7,442.0 320.0,441.6 328.8,441.2 339.0,440.9 350.1,440.5 361.8,440.2 373.8,440.0 385.7,439.8 397.1,439.8 407.6,439.8 417.4,440.0 426.9,440.3 436.1,440.8 445.1,441.3 453.9,441.8 462.6,442.3 471.3,442.8 480.0,443.2 488.6,443.5 497.2,443.7 505.6,443.9 513.9,444.0 522.2,444.2 530.5,444.4 538.8,444.6 547.2,444.9 555.6,445.2 564.0,445.6 572.4,446.0 580.8,446.4 589.1,446.9 597.5,447.3 605.9,447.8 614.3,448.3 622.7,448.8 631.1,449.3 639.5,449.9 647.9,450.4 656.3,451.0 664.7,451.6 673.1,452.2 681.5,452.8 689.9,453.4 698.3,454.1 706.7,454.7 715.1,455.4 723.5,456.1 731.9,456.8 740.3,457.6 748.7,458.4 757.2,459.3 765.8,460.2 774.5,461.2 783.1,462.2 791.7,463.2 800.0,464.2 808.1,465.2 815.9,466.2 823.7,467.2 831.6,468.3 839.5,469.5 847.1,470.6 854.3,471.6 860.6,472.6 865.9,473.4 870.0,474.0" fill="none" stroke="#3a1f1f" stroke-width="1.3" stroke-opacity="0.72" stroke-linejoin="round"/>
<polyline points="179.9,518.5 181.1,517.9 182.7,517.0 184.6,516.1 186.7,515.0 189.0,513.8 191.2,512.6 193.4,511.5 195.5,510.5 197.4,509.5 199.3,508.6 201.3,507.6 203.2,506.7 205.1,505.8 207.0,504.9 209.0,504.0 211.0,503.2 213.0,502.4 215.1,501.6 217.2,500.9 219.4,500.1 221.5,499.4 223.7,498.7 225.8,498.1 228.0,497.5 230.1,496.9 232.2,496.5 234.3,496.0 236.4,495.6 238.6,495.2 240.9,494.8 243.3,494.3 245.8,493.9 248.5,493.4 251.4,493.0 254.3,492.5 257.4,492.0 260.5,491.5 263.7,491.1 266.8,490.7 270.0,490.3 272.9,490.0 275.4,489.6 277.8,489.3 280.3,489.1 283.2,488.8 286.6,488.6 290.8,488.3 296.0,488.1 302.4,487.9 309.9,487.6 318.1,487.4 326.9,487.2 336.1,487.0 345.3,486.8 354.3,486.7 363.0,486.7 371.5,486.7 380.1,486.8 388.9,487.0 397.6,487.2 406.1,487.4 414.4,487.6 422.4,487.7 430.0,487.9 436.9,488.0 443.3,488.1 449.2,488.3 455.0,488.4 460.7,488.5 466.7,488.6 473.0,488.7 480.0,488.8 487.6,488.9 495.6,489.0 503.9,489.1 512.5,489.1 521.3,489.2 530.0,489.3 538.7,489.5 547.2,489.7 555.6,489.9 564.0,490.2 572.5,490.5 580.9,490.9 589.3,491.2 597.7,491.6 606.0,492.1 614.3,492.5 622.7,493.0 631.3,493.5 640.0,494.0 648.5,494.6 656.9,495.1 664.9,495.7 672.4,496.4 679.3,497.0 685.5,497.7 691.0,498.4 696.0,499.1 700.6,499.9 705.1,500.6 709.5,501.4 714.0,502.2 718.7,502.9 723.6,503.6 728.5,504.4 733.4,505.1 738.4,505.8 743.3,506.6 748.2,507.3 753.1,508.1 758.0,508.8 762.9,509.5 767.8,510.3 772.7,511.0 777.6,511.8 782.6,512.5 787.5,513.2 792.4,514.0 797.3,514.7 802.3,515.4 807.3,516.2 812.3,516.9 817.3,517.7 822.3,518.4 827.2,519.2 832.0,519.9 836.6,520.6 841.3,521.3 846.1,522.1 851.0,522.9 855.8,523.7 860.2,524.4 864.1,525.0 867.5,525.6 870.0,526.0" fill="none" stroke="#3a1f1f" stroke-width="1.3" stroke-opacity="0.72" stroke-linejoin="round"/>
<polyline points="229.0,518.5 232.3,518.1 236.5,517.6 241.5,517.1 247.1,516.4 253.3,515.8 259.8,515.1 266.6,514.5 273.6,514.0 280.9,513.6 288.8,513.2 297.1,512.8 305.7,512.4 314.5,512.1 323.3,511.8 332.1,511.5 340.6,511.3 348.9,511.1 357.2,510.9 365.5,510.8 373.8,510.6 382.1,510.5 390.5,510.5 399.0,510.5 407.6,510.6 416.3,510.7 424.9,510.9 433.6,511.1 442.4,511.4 451.4,511.7 460.6,512.1 470.1,512.5 480.0,513.0 490.5,513.5 501.6,514.0 513.2,514.6 524.9,515.2 536.7,515.9 548.1,516.7 559.2,517.7 569.6,518.8 579.5,520.2 589.3,521.8 598.8,523.6 607.9,525.5 616.7,527.5 625.0,529.3 632.8,531.0 640.0,532.4 646.4,533.6 652.0,534.5 657.0,535.3 661.6,536.1 665.9,536.7 670.2,537.4 674.6,538.2 679.3,539.0 684.2,539.9 689.1,540.9 694.1,541.8 699.0,542.8 703.9,543.8 708.9,544.8 713.8,545.8 718.7,546.9 723.7,548.0 728.8,549.1 734.0,550.3 739.2,551.5 744.2,552.6 749.1,553.8 753.7,554.9 758.0,556.0 762.0,557.1 765.8,558.1 769.5,559.1 772.9,560.1 776.1,561.1 779.1,562.0 781.8,563.0 784.2,563.9 786.3,564.8 788.1,565.6 789.5,566.5 790.8,567.3 791.9,568.1 792.9,568.9 793.8,569.7 794.7,570.5 795.6,571.3 796.4,572.1 797.0,572.9 797.6,573.7 798.1,574.5 798.6,575.3 799.0,576.1 799.3,577.0 799.6,577.9 799.8,578.9 799.9,579.9 800.0,580.9 800.1,581.9 800.1,582.9 800.0,583.9 800.0,584.9 799.9,585.9 799.6,587.0 799.3,588.1 799.0,589.1 798.7,590.2 798.5,591.1 798.5,592.0 798.6,592.7 798.8,593.3 799.1,593.8 799.5,594.3 799.9,594.6 800.6,594.9 801.4,595.1 802.5,595.3 803.9,595.4 805.5,595.4 807.2,595.4 809.0,595.2 811.1,595.0 813.6,594.8 816.4,594.5 819.7,594.3 823.5,594.1 828.3,593.9 834.3,593.7 841.0,593.5 848.0,593.2 854.8,593.0 861.0,592.8 866.2,592.6 870.0,592.5" fill="none" stroke="#3a1f1f" stroke-width="1.3" stroke-opacity="0.72" stroke-linejoin="round"/>
<polyline points="771.0,603.2 772.9,603.1 775.4,603.0 778.4,602.9 781.7,602.8 785.3,602.6 789.2,602.4 793.2,602.2 797.3,601.9 801.6,601.6 806.3,601.2 811.3,600.8 816.5,600.3 821.7,599.9 826.9,599.4 831.9,599.0 836.6,598.6 841.3,598.2 846.1,597.8 851.0,597.5 855.8,597.1 860.2,596.8 864.1,596.5 867.5,596.2 870.0,596.0" fill="none" stroke="#3a1f1f" stroke-width="1.3" stroke-opacity="0.72" stroke-linejoin="round"/>
</g></g>
<rect x="96.3" y="138.4" width="768.9" height="482.1" fill="none" stroke="#000" stroke-width="2.2"/>
<g opacity="0.999"><path d="M101.8 620.5V606.5 M187.5 620.5V606.5 M273.2 620.5V606.5 M358.9 620.5V606.5 M444.6 620.5V606.5 M530.3 620.5V606.5 M616.0 620.5V606.5 M701.6 620.5V606.5 M787.3 620.5V606.5 M96.3 594.0H110.3 M96.3 548.0H110.3 M96.3 501.9H110.3 M96.3 455.9H110.3 M96.3 409.8H110.3 M96.3 363.8H110.3 M96.3 317.7H110.3 M96.3 271.6H110.3 M96.3 225.6H110.3 M96.3 179.5H110.3" stroke="#1a1a1a" stroke-width="2.2" fill="none"/>
<text x="0" y="0" font-size="40.00" transform="matrix(1.0373 0 0 1.0519 67.24 660.08)">−10</text>
<text x="0" y="0" font-size="40.00" transform="matrix(1.1071 0 0 1.0519 177.03 660.08)">0</text>
<text x="0" y="0" font-size="40.00" transform="matrix(0.9543 0 0 1.0519 257.55 660.08)">10</text>
<text x="0" y="0" font-size="40.00" transform="matrix(1.0492 0 0 1.0519 339.19 660.08)">20</text>
<text x="0" y="0" font-size="40.00" transform="matrix(1.0164 0 0 1.0519 426.14 660.08)">30</text>
<text x="0" y="0" font-size="40.00" transform="matrix(1.0532 0 0 1.0519 508.92 660.08)">40</text>
<text x="0" y="0" font-size="40.00" transform="matrix(1.0750 0 0 1.0519 594.32 660.08)">50</text>
<text x="0" y="0" font-size="40.00" transform="matrix(1.0326 0 0 1.0519 682.49 660.08)">60</text>
<text x="0" y="0" font-size="40.00" transform="matrix(1.0475 0 0 1.0519 764.06 660.08)">70</text>
<text x="0" y="0" font-size="40.00" transform="matrix(1.0250 0 0 1.0609 66.94 607.50)">0</text>
<text x="0" y="0" font-size="40.00" transform="matrix(1.0250 0 0 1.0609 66.94 561.24)">5</text>
<text x="0" y="0" font-size="40.00" transform="matrix(1.0250 0 0 1.0609 46.44 515.40)">10</text>
<text x="0" y="0" font-size="40.00" transform="matrix(1.0250 0 0 1.0609 46.44 469.24)">15</text>
<text x="0" y="0" font-size="40.00" transform="matrix(1.0250 0 0 1.0609 46.44 423.30)">20</text>
<text x="0" y="0" font-size="40.00" transform="matrix(1.0250 0 0 1.0609 46.44 377.14)">25</text>
<text x="0" y="0" font-size="40.00" transform="matrix(1.0250 0 0 1.0609 46.44 331.20)">30</text>
<text x="0" y="0" font-size="40.00" transform="matrix(1.0250 0 0 1.0609 46.44 285.04)">35</text>
<text x="0" y="0" font-size="40.00" transform="matrix(1.0250 0 0 1.0609 46.44 239.10)">40</text>
<text x="0" y="0" font-size="40.00" transform="matrix(1.0250 0 0 1.0609 46.44 192.94)">45</text>
<text x="0" y="0" font-size="40.00" font-style="italic" transform="matrix(1.1722 0 0 1.0598 438.20 692.50)">x</text>
<text x="0" y="0" font-size="40.00" transform="matrix(1.0836 0 0 1.0656 459.27 692.61)">, мм</text>
<text x="0" y="0" font-size="40.00" font-style="italic" transform="matrix(0 -0.9953 0.9852 0 34.13 414.72)">y</text>
<text x="0" y="0" font-size="40.00" transform="matrix(0 -1.0777 1.0533 0 35.38 396.22)">, мм</text>
<text x="0" y="0" font-size="40.00" transform="matrix(1.0882 0 0 0.9670 103.44 111.78)">(a)</text>
<rect x="225.10" y="87.2" width="23.91" height="24.2" fill="#25295f"/>
<rect x="248.41" y="87.2" width="23.91" height="24.2" fill="#22336e"/>
<rect x="271.71" y="87.2" width="23.91" height="24.2" fill="#0b4a88"/>
<rect x="295.01" y="87.2" width="23.91" height="24.2" fill="#136795"/>
<rect x="318.32" y="87.2" width="23.91" height="24.2" fill="#2b7f9e"/>
<rect x="341.62" y="87.2" width="23.91" height="24.2" fill="#4694ab"/>
<rect x="364.93" y="87.2" width="23.91" height="24.2" fill="#5aafc4"/>
<rect x="388.24" y="87.2" width="23.91" height="24.2" fill="#7ecbd9"/>
<rect x="411.54" y="87.2" width="23.91" height="24.2" fill="#a9dde4"/>
<rect x="434.85" y="87.2" width="23.91" height="24.2" fill="#d6ebee"/>
<rect x="458.15" y="87.2" width="23.91" height="24.2" fill="#f5e6d0"/>
<rect x="481.46" y="87.2" width="23.91" height="24.2" fill="#f2c6a5"/>
<rect x="504.76" y="87.2" width="23.91" height="24.2" fill="#eb9e84"/>
<rect x="528.06" y="87.2" width="23.91" height="24.2" fill="#e47b67"/>
<rect x="551.37" y="87.2" width="23.91" height="24.2" fill="#d2604d"/>
<rect x="574.67" y="87.2" width="23.91" height="24.2" fill="#bd4134"/>
<rect x="597.98" y="87.2" width="23.91" height="24.2" fill="#a72a25"/>
<rect x="621.28" y="87.2" width="23.91" height="24.2" fill="#8e1f29"/>
<rect x="644.59" y="87.2" width="23.91" height="24.2" fill="#7a1d3a"/>
<rect x="667.89" y="87.2" width="23.30" height="24.2" fill="#5a2146"/>
<rect x="225.1" y="87.2" width="466.1" height="24.2" fill="none" stroke="#000" stroke-width="2.2"/>
<path d="M225.1 78.2V94.2 M278.1 78.2V94.2 M331.0 78.2V94.2 M384.0 78.2V94.2 M437.0 78.2V94.2 M489.9 78.2V94.2 M542.9 78.2V94.2 M595.9 78.2V94.2 M691.2 78.2V94.2" stroke="#1a1a1a" stroke-width="2" fill="none"/>
<text x="0" y="0" font-size="40.00" transform="matrix(0.8627 0 0 0.8259 190.02 66.87)">−50</text>
<text x="0" y="0" font-size="40.00" transform="matrix(0.8929 0 0 0.8259 268.17 66.87)">0</text>
<text x="0" y="0" font-size="40.00" transform="matrix(0.8278 0 0 0.8259 315.81 66.87)">50</text>
<text x="0" y="0" font-size="40.00" transform="matrix(0.7909 0 0 0.8148 362.06 71.87)">100</text>
<text x="0" y="0" font-size="40.00" transform="matrix(0.7782 0 0 0.8148 412.45 71.87)">150</text>
<text x="0" y="0" font-size="40.00" transform="matrix(0.8304 0 0 0.8148 463.31 71.87)">200</text>
<text x="0" y="0" font-size="40.00" transform="matrix(0.8375 0 0 0.8148 518.49 71.87)">250</text>
<text x="0" y="0" font-size="40.00" transform="matrix(0.8375 0 0 0.8148 574.69 71.87)">300</text>
<text x="0" y="0" font-size="40.00" transform="matrix(0.8357 0 0 0.8148 664.55 71.87)">390</text>
<text x="0" y="0" font-size="40.00" font-style="italic" transform="matrix(0.7939 0 0 0.8321 412.71 27.80)">V</text>
<text x="0" y="0" font-size="40.00" font-style="italic" transform="matrix(0.7556 0 0 0.6576 428.35 35.10)">x</text>
<text x="0" y="0" font-size="40.00" transform="matrix(0.9188 0 0 0.8704 443.43 28.68)">, м/с</text></g>
<clipPath id="clipb"><rect x="945.6" y="138.3" width="769.9" height="483.2"/></clipPath>
<g clip-path="url(#clipb)"><g transform="translate(849.8 0.0)">
<rect x="90" y="130" width="782" height="510" fill="#b5644f"/>
<polygon points="161.6,130.0 872.0,130.0 872.0,228.0 866.0,228.0 865.6,228.0 865.0,227.9 864.4,227.8 863.7,227.7 862.9,227.7 862.2,227.8 861.4,228.2 860.8,228.8 860.2,229.6 859.8,230.4 859.3,231.4 858.8,232.5 858.4,233.9 857.8,235.5 857.2,237.6 856.4,240.0 855.5,242.9 854.4,246.4 853.3,250.2 852.0,254.2 850.8,258.5 849.6,262.8 848.4,267.1 847.4,271.3 846.5,275.4 845.6,279.5 844.7,283.7 843.9,288.0 843.1,292.2 842.3,296.4 841.5,300.7 840.7,304.9 839.9,309.0 839.0,313.1 838.1,317.2 837.3,321.2 836.4,325.3 835.6,329.5 834.8,333.9 834.0,338.5 833.2,343.3 832.4,348.2 831.7,353.3 830.9,358.5 830.2,363.8 829.5,369.2 828.9,374.6 828.4,380.0 828.0,385.5 827.6,391.2 827.3,397.1 827.0,402.9 826.8,408.7 826.6,414.3 826.4,419.7 826.2,424.8 826.1,429.6 826.0,434.4 826.0,438.9 826.0,443.3 826.0,447.4 825.8,451.4 825.5,455.0 825.0,458.4 824.3,461.4 823.6,464.1 822.8,466.6 821.9,468.8 820.8,470.8 819.5,472.7 817.9,474.5 816.1,476.3 814.3,478.0 812.5,479.6 810.7,481.1 808.5,482.5 806.0,483.8 802.8,485.0 798.7,486.3 793.7,487.5 787.4,488.7 780.1,489.9 771.8,491.1 762.9,492.2 753.7,493.3 744.4,494.4 735.2,495.4 726.5,496.4 718.3,497.4 710.2,498.2 702.3,499.1 694.3,499.9 686.1,500.7 677.7,501.6 668.8,502.4 659.3,503.2 649.2,504.1 638.5,504.9 627.4,505.8 616.0,506.7 604.3,507.6 592.7,508.4 581.1,509.2 569.8,509.9 558.3,510.6 546.2,511.2 534.0,511.8 521.9,512.4 510.2,512.9 499.1,513.4 489.0,513.9 480.2,514.3 472.5,514.7 465.7,515.0 459.7,515.2 454.5,515.4 450.0,515.6 446.1,515.8 442.8,515.9 440.0,516.0 440.0,540.0 206.0,540.0 206.0,519.0 205.9,517.3 205.7,515.2 205.4,512.6 205.2,509.8 204.9,506.7 204.6,503.4 204.3,500.2 204.0,497.0 203.7,493.8 203.4,490.4 203.0,486.9 202.7,483.4 202.3,479.8 202.0,476.1 201.6,472.5 201.3,469.0 200.9,465.5 200.6,462.0 200.2,458.5 199.9,455.0 199.5,451.5 199.2,448.0 198.8,444.5 198.5,441.0 198.2,437.5 197.8,434.0 197.5,430.5 197.2,427.0 196.9,423.5 196.6,420.0 196.2,416.5 195.7,413.0 195.2,409.4 194.7,405.8 194.0,402.1 193.4,398.5 192.8,394.9 192.1,391.4 191.5,388.1 191.0,385.0 190.4,382.2 189.9,379.7 189.4,377.4 189.0,375.1 188.5,372.9 188.1,370.5 187.6,367.9 187.1,365.0 186.7,361.7 186.2,358.2 185.7,354.5 185.2,350.7 184.8,346.8 184.3,342.8 183.8,338.9 183.4,335.0 182.9,331.2 182.5,327.6 182.0,323.9 181.6,320.2 181.1,316.5 180.6,312.5 180.1,308.4 179.6,304.0 179.1,299.2 178.5,294.1 178.0,288.8 177.4,283.3 176.8,277.8 176.2,272.3 175.6,267.0 175.0,262.0 174.4,257.3 173.8,252.8 173.3,248.5 172.7,244.3 172.1,240.0 171.5,235.6 170.9,231.0 170.3,226.0 169.6,220.6 168.9,214.9 168.1,208.9 167.4,202.8 166.6,196.6 165.9,190.5 165.3,184.6 164.7,179.0 164.1,173.4 163.7,167.6 163.2,161.7 162.8,156.1 162.4,150.8 162.1,146.0 161.8,142.0 161.6,139.0" fill="#a84d3b"/>
<polygon points="246.5,130.0 617.9,130.0 617.9,137.0 617.6,139.6 617.3,143.0 616.9,147.1 616.5,151.7 616.0,156.5 615.5,161.4 615.0,166.2 614.6,170.6 614.2,174.8 613.7,179.0 613.2,183.2 612.8,187.4 612.3,191.6 611.9,195.8 611.5,200.0 611.2,204.2 610.9,208.4 610.7,212.6 610.5,216.8 610.4,221.0 610.3,225.2 610.2,229.4 610.1,233.6 610.1,237.8 610.1,242.1 610.2,246.5 610.3,251.1 610.4,255.5 610.5,259.9 610.7,264.0 610.9,267.9 611.2,271.3 611.5,274.3 611.7,276.8 611.9,279.1 612.2,281.1 612.6,283.1 613.1,285.0 613.7,287.1 614.5,289.3 615.5,291.7 616.6,294.1 617.9,296.6 619.3,299.1 620.8,301.6 622.4,304.2 624.0,306.8 625.7,309.4 627.5,312.1 629.5,315.0 631.6,317.9 633.7,320.9 635.8,323.8 637.8,326.6 639.7,329.3 641.4,331.8 642.8,334.1 644.1,336.2 645.3,338.3 646.3,340.2 647.3,342.1 648.3,343.9 649.3,345.7 650.4,347.5 651.5,349.2 652.7,350.9 653.9,352.4 655.1,354.0 656.3,355.6 657.4,357.2 658.4,359.0 659.3,360.9 660.0,362.9 660.5,364.9 660.9,367.0 661.3,369.2 661.7,371.5 662.2,374.1 662.8,376.9 663.8,380.0 665.1,383.5 666.6,387.4 668.3,391.5 670.1,395.9 671.9,400.4 673.8,404.9 675.6,409.3 677.2,413.6 678.8,417.9 680.3,422.3 681.9,426.7 683.4,431.1 684.8,435.4 686.1,439.6 687.3,443.5 688.4,447.2 689.4,450.6 690.4,453.7 691.3,456.7 692.0,459.5 692.7,462.2 693.0,464.7 693.1,467.2 692.9,469.6 692.5,471.9 692.0,474.2 691.3,476.3 690.4,478.4 689.0,480.3 687.2,482.1 684.8,483.7 681.7,485.2 677.9,486.5 673.4,487.5 668.4,488.3 662.9,489.0 656.9,489.7 650.5,490.4 643.9,491.1 637.0,492.0 629.5,493.0 621.3,494.1 612.5,495.3 603.4,496.5 594.3,497.6 585.6,498.8 577.3,499.9 569.8,500.9 563.1,501.9 557.0,502.8 551.4,503.7 546.0,504.5 540.8,505.4 535.7,506.1 530.4,506.9 525.0,507.6 519.4,508.3 513.7,508.9 508.0,509.5 502.3,510.0 496.7,510.6 491.1,511.1 485.6,511.5 480.2,512.0 474.7,512.5 468.9,512.9 463.0,513.4 457.3,513.8 451.9,514.2 447.1,514.5 443.1,514.8 440.0,515.0 440.0,540.0 214.7,540.0 214.7,519.0 214.5,517.3 214.3,515.2 213.9,512.6 213.6,509.8 213.3,506.7 213.0,503.4 212.8,500.2 212.6,497.0 212.6,493.8 212.6,490.4 212.7,486.9 212.9,483.4 213.0,479.8 213.2,476.1 213.4,472.5 213.6,469.0 213.7,465.5 213.9,462.0 214.1,458.5 214.3,455.0 214.6,451.5 214.8,448.0 215.0,444.5 215.2,441.0 215.4,437.5 215.6,434.0 215.7,430.5 215.9,427.0 216.1,423.5 216.3,420.0 216.5,416.5 216.7,413.0 217.0,409.5 217.3,406.2 217.6,402.8 217.9,399.4 218.2,396.0 218.4,392.5 218.7,388.8 219.0,385.0 219.2,381.0 219.3,376.7 219.5,372.3 219.6,367.9 219.7,363.4 219.9,358.8 220.0,354.4 220.2,350.0 220.5,345.8 220.7,341.7 220.9,337.7 221.2,333.6 221.5,329.5 221.8,325.2 222.2,320.8 222.7,316.0 223.3,310.9 224.0,305.5 224.7,299.9 225.4,294.2 226.2,288.4 227.1,282.5 227.9,276.7 228.7,271.0 229.5,265.4 230.4,259.7 231.3,254.1 232.3,248.4 233.2,242.8 234.1,237.2 234.9,231.6 235.8,226.0 236.6,220.4 237.4,214.9 238.1,209.4 238.9,203.9 239.6,198.4 240.3,192.9 241.0,187.4 241.7,182.0 242.3,176.3 243.0,170.2 243.8,163.9 244.4,157.8 245.1,151.9 245.7,146.7 246.1,142.3 246.5,139.0" fill="#96322a"/>
<polygon points="333.6,130.0 555.2,130.0 555.2,137.0 555.7,142.0 556.3,148.5 557.0,156.2 557.9,164.9 558.7,174.3 559.5,184.1 560.2,194.1 560.8,204.0 561.2,214.1 561.6,224.9 561.9,236.1 562.1,247.6 562.3,259.3 562.5,271.0 562.7,282.5 563.0,293.7 563.3,304.9 563.5,316.5 563.8,328.1 564.0,339.7 564.3,350.8 564.6,361.4 564.9,371.2 565.3,380.0 565.7,387.7 566.2,394.4 566.6,400.3 567.1,405.7 567.7,410.6 568.3,415.4 569.0,420.0 569.8,424.8 570.7,429.6 571.7,434.2 572.8,438.7 574.0,443.0 575.2,447.1 576.4,451.1 577.6,454.8 578.7,458.4 579.9,461.8 581.3,465.0 582.8,468.1 584.2,471.0 585.5,473.7 586.6,476.2 587.3,478.6 587.7,480.8 587.8,482.7 587.8,484.3 587.5,485.7 587.0,487.0 586.2,488.1 584.9,489.3 583.2,490.6 581.0,492.0 578.2,493.6 574.8,495.4 570.9,497.2 566.6,499.0 562.0,500.8 557.2,502.5 552.3,504.0 547.4,505.4 542.5,506.6 537.4,507.6 532.2,508.5 526.8,509.3 521.2,510.1 515.3,510.8 509.1,511.4 502.6,512.1 495.2,512.7 486.7,513.4 477.7,513.9 468.5,514.5 459.7,514.9 451.7,515.4 445.0,515.7 440.0,516.0 440.0,540.0 219.0,540.0 219.0,519.0 219.1,517.3 219.2,515.2 219.3,512.6 219.4,509.8 219.5,506.7 219.7,503.4 220.0,500.2 220.3,497.0 220.7,493.7 221.2,490.2 221.7,486.5 222.3,482.8 222.9,479.1 223.6,475.5 224.2,472.1 224.8,469.0 225.3,466.2 225.9,463.8 226.5,461.5 227.0,459.3 227.6,457.2 228.2,455.0 228.8,452.6 229.4,450.0 230.0,447.2 230.6,444.2 231.2,441.1 231.9,437.9 232.5,434.6 233.2,431.4 233.9,428.2 234.6,425.0 235.4,421.9 236.3,418.8 237.1,415.6 238.0,412.5 239.0,409.4 239.9,406.2 240.9,403.1 241.8,400.0 242.8,396.9 243.8,393.9 244.8,390.8 245.8,387.8 246.8,384.7 247.9,381.6 249.0,378.4 250.0,375.0 251.1,371.5 252.3,367.8 253.4,364.1 254.6,360.2 255.8,356.4 257.0,352.5 258.1,348.7 259.3,345.0 260.4,341.4 261.4,338.1 262.5,334.8 263.5,331.4 264.6,328.0 265.7,324.4 267.1,320.4 268.5,316.0 270.2,311.1 272.0,305.9 273.9,300.3 276.0,294.5 278.1,288.6 280.2,282.6 282.4,276.7 284.5,271.0 286.7,265.4 288.9,259.7 291.3,254.1 293.6,248.4 295.9,242.8 298.2,237.2 300.5,231.6 302.7,226.0 304.8,220.4 306.9,214.9 308.9,209.4 310.9,203.9 312.8,198.4 314.8,192.9 316.7,187.4 318.6,182.0 320.7,176.3 322.8,170.2 325.0,163.9 327.1,157.8 329.1,151.9 330.9,146.7 332.5,142.3 333.6,139.0" fill="#88221e"/>
<polygon points="417.3,130.0 517.1,130.0 517.1,137.0 517.7,142.2 518.5,149.0 519.5,157.2 520.6,166.3 521.8,175.9 522.9,185.7 524.0,195.2 525.0,204.0 525.9,212.4 526.9,220.8 527.8,229.2 528.7,237.5 529.6,245.9 530.4,254.4 531.1,262.8 531.7,271.3 532.2,280.0 532.6,289.0 532.9,298.2 533.2,307.4 533.4,316.3 533.6,324.8 533.8,332.8 534.0,340.0 534.2,346.3 534.2,351.8 534.3,356.7 534.3,361.2 534.4,365.5 534.5,370.0 534.7,374.7 535.0,380.0 535.4,385.9 536.0,392.1 536.6,398.6 537.2,405.2 537.9,411.8 538.6,418.2 539.3,424.3 540.0,430.0 540.7,435.4 541.4,440.6 542.1,445.7 542.8,450.5 543.5,455.1 544.2,459.4 544.8,463.4 545.3,467.1 545.8,470.4 546.3,473.2 546.7,475.8 547.1,478.1 547.4,480.1 547.6,482.1 547.5,483.9 547.2,485.6 546.7,487.2 546.1,488.6 545.4,489.7 544.5,490.8 543.3,491.8 542.0,492.8 540.3,493.8 538.4,495.0 536.1,496.3 533.6,497.6 530.7,499.0 527.6,500.4 524.4,501.7 521.0,503.0 517.4,504.3 513.8,505.4 510.1,506.4 506.2,507.4 502.1,508.3 498.0,509.2 493.7,510.0 489.3,510.7 484.8,511.4 480.2,512.1 475.2,512.7 469.7,513.4 463.8,513.9 458.0,514.5 452.4,514.9 447.4,515.4 443.1,515.7 440.0,516.0 440.0,540.0 222.0,540.0 222.0,519.0 222.4,517.3 222.8,515.2 223.3,512.6 223.9,509.8 224.6,506.7 225.4,503.4 226.2,500.2 227.0,497.0 228.0,493.8 229.0,490.4 230.0,486.9 231.2,483.4 232.4,479.8 233.6,476.1 234.9,472.5 236.3,469.0 237.6,465.5 239.1,462.0 240.5,458.5 242.1,455.0 243.6,451.5 245.2,448.0 246.8,444.5 248.5,441.0 250.2,437.5 251.9,434.0 253.7,430.6 255.5,427.1 257.3,423.6 259.1,420.1 260.9,416.6 262.7,413.0 264.5,409.3 266.3,405.5 268.1,401.7 269.9,397.8 271.7,394.0 273.5,390.2 275.2,386.5 277.0,383.0 278.7,379.6 280.4,376.4 282.1,373.2 283.8,370.1 285.4,367.0 287.0,364.0 288.6,361.0 290.2,358.0 291.7,355.0 293.1,352.0 294.4,349.1 295.7,346.1 297.0,343.2 298.4,340.4 299.8,337.7 301.4,335.0 302.9,332.6 304.5,330.6 306.0,328.7 307.6,326.9 309.3,324.9 311.2,322.5 313.2,319.6 315.5,316.0 318.1,311.6 321.0,306.6 324.0,301.0 327.2,295.1 330.5,289.0 333.9,282.9 337.1,276.8 340.3,271.0 343.4,265.4 346.4,259.7 349.5,254.1 352.5,248.4 355.6,242.8 358.7,237.2 361.9,231.6 365.3,226.0 368.8,220.4 372.5,214.9 376.3,209.4 380.1,203.9 383.9,198.4 387.7,192.9 391.3,187.4 394.6,182.0 398.0,176.3 401.3,170.2 404.6,163.9 407.8,157.8 410.8,151.9 413.4,146.7 415.6,142.3 417.3,139.0" fill="#701e22"/>
<polygon points="470.0,197.0 470.5,196.5 471.1,195.9 471.8,195.1 472.6,194.2 473.5,193.3 474.3,192.5 475.2,191.7 476.0,191.0 476.8,190.4 477.6,189.7 478.4,189.0 479.2,188.3 480.0,187.8 480.8,187.4 481.6,187.3 482.4,187.4 483.2,187.7 484.1,188.0 484.9,188.5 485.8,189.1 486.6,190.0 487.5,191.3 488.4,193.0 489.2,195.2 490.0,197.9 490.9,201.1 491.7,204.7 492.6,208.6 493.4,212.8 494.2,217.3 495.1,221.9 495.9,226.6 496.8,231.6 497.6,236.8 498.5,242.4 499.4,248.1 500.3,254.0 501.1,259.8 501.9,265.6 502.6,271.3 503.3,276.9 503.9,282.6 504.5,288.3 505.0,293.9 505.6,299.6 506.1,305.2 506.5,310.6 507.0,316.0 507.4,321.1 507.9,326.0 508.3,330.7 508.7,335.3 509.0,340.1 509.4,345.0 509.7,350.3 510.0,356.0 510.3,362.2 510.6,368.8 510.9,375.6 511.1,382.7 511.4,389.9 511.6,397.2 511.8,404.4 511.9,411.4 512.0,418.5 512.2,426.0 512.3,433.5 512.4,441.0 512.4,448.2 512.3,455.1 512.2,461.5 511.9,467.1 511.5,472.0 511.1,476.4 510.6,480.2 510.0,483.7 509.3,486.8 508.5,489.6 507.5,492.3 506.3,494.9 504.9,497.3 503.4,499.4 501.7,501.2 499.9,502.8 497.9,504.2 495.9,505.5 493.7,506.7 491.5,507.9 489.0,509.0 486.1,510.1 483.0,511.0 479.8,511.8 476.8,512.5 474.0,513.1 471.7,513.6 470.0,514.0 470.0,540.0 223.0,540.0 223.0,517.0 223.2,516.8 223.3,516.6 223.5,516.4 223.8,516.1 224.1,515.6 224.5,514.8 225.2,513.6 226.0,512.0 227.0,509.8 228.2,507.2 229.6,504.2 231.1,500.9 232.7,497.4 234.4,493.9 236.2,490.4 238.0,487.0 239.9,483.7 241.8,480.4 243.8,477.1 245.9,473.7 248.1,470.3 250.4,466.9 252.6,463.4 255.0,460.0 257.4,456.5 260.0,453.1 262.6,449.6 265.2,446.1 267.9,442.5 270.7,439.0 273.3,435.5 276.0,432.0 278.6,428.5 281.2,425.1 283.9,421.7 286.5,418.2 289.1,414.8 291.8,411.3 294.4,407.7 297.0,404.0 299.6,400.2 302.2,396.3 304.8,392.3 307.4,388.2 310.0,384.2 312.6,380.1 315.3,376.0 318.0,372.0 320.7,368.1 323.4,364.2 326.1,360.4 328.9,356.5 331.7,352.6 334.6,348.6 337.7,344.4 341.0,340.0 344.4,335.4 348.0,330.6 351.6,325.7 355.4,320.6 359.4,315.5 363.4,310.3 367.6,305.2 372.0,300.0 376.6,294.9 381.4,289.7 386.3,284.4 391.4,279.2 396.6,273.9 401.8,268.6 406.9,263.3 412.0,258.0 417.1,252.6 422.3,246.9 427.5,241.2 432.8,235.5 437.9,229.9 442.8,224.6 447.6,219.6 452.0,215.0 456.3,210.8 460.5,206.7 464.6,202.9 468.5,199.3 472.1,196.1 475.2,193.3 477.9,190.9 480.0,189.0" fill="#592334"/>
<polygon points="232.0,517.0 232.4,516.8 232.9,516.6 233.5,516.4 234.2,516.1 235.0,515.7 235.9,515.2 236.9,514.7 238.0,514.0 239.1,513.2 240.3,512.4 241.6,511.5 243.0,510.5 244.5,509.4 246.1,508.1 248.0,506.7 250.0,505.0 252.3,503.1 254.8,501.1 257.6,498.9 260.5,496.5 263.5,493.9 266.5,491.3 269.5,488.5 272.5,485.6 275.4,482.5 278.3,479.2 281.3,475.8 284.2,472.2 287.2,468.6 290.3,465.0 293.4,461.3 296.6,457.8 299.9,454.3 303.3,450.8 306.8,447.3 310.3,443.7 313.9,440.2 317.4,436.7 321.0,433.3 324.5,429.9 328.0,426.5 331.5,423.1 334.9,419.6 338.4,416.3 341.9,413.0 345.4,409.8 348.8,406.8 352.3,404.0 355.8,401.4 359.5,399.0 363.1,396.7 366.8,394.6 370.3,392.5 373.8,390.7 377.1,388.9 380.1,387.2 382.9,385.6 385.6,384.2 388.2,382.9 390.6,381.7 392.8,380.6 394.9,379.6 396.9,378.7 398.7,378.0 400.3,377.4 401.8,376.8 403.0,376.4 404.2,376.1 405.2,375.9 406.2,375.9 407.1,375.9 408.0,376.1 408.9,376.5 409.6,377.0 410.3,377.7 410.9,378.6 411.5,379.4 412.1,380.3 412.7,381.0 413.5,381.7 414.3,382.3 415.1,383.0 415.8,383.6 416.7,384.2 417.6,384.8 418.6,385.2 419.7,385.4 421.0,385.4 422.5,385.1 424.1,384.6 425.8,383.9 427.7,383.1 429.7,382.2 431.7,381.3 433.7,380.5 435.8,379.8 437.9,379.2 440.2,378.6 442.5,377.9 444.9,377.4 447.3,376.9 449.7,376.5 452.0,376.2 454.4,376.1 456.8,376.1 459.4,376.3 462.0,376.5 464.5,376.9 467.0,377.4 469.3,378.0 471.3,378.8 473.0,379.8 474.3,380.9 475.4,382.3 476.1,383.7 476.7,385.4 477.2,387.1 477.6,388.9 478.0,390.8 478.5,392.8 479.0,394.8 479.4,396.8 479.8,399.0 480.2,401.2 480.5,403.5 480.8,406.0 481.1,408.6 481.3,411.4 481.5,414.4 481.7,417.7 481.9,421.1 482.0,424.7 482.1,428.4 482.2,432.0 482.2,435.7 482.2,439.2 482.1,442.7 482.0,446.4 481.9,450.1 481.7,453.7 481.5,457.3 481.2,460.8 480.8,464.1 480.4,467.1 479.9,469.9 479.4,472.5 478.8,474.9 478.2,477.2 477.5,479.3 476.7,481.4 475.8,483.5 474.8,485.6 473.7,487.7 472.4,489.7 471.0,491.7 469.5,493.6 468.0,495.5 466.5,497.3 465.0,498.9 463.7,500.5 462.5,502.0 461.4,503.3 460.3,504.6 459.3,505.8 458.2,506.9 457.0,507.9 455.8,508.8 454.4,509.7 452.7,510.5 450.8,511.2 448.7,511.9 446.6,512.4 444.6,512.9 442.7,513.3 441.1,513.7 440.0,514.0 440.0,540.0 232.0,540.0" fill="#462336"/>
<polygon points="90.0,345.2 95.0,345.2 95.5,345.2 96.1,345.0 96.8,344.8 97.6,344.6 98.6,344.6 99.6,344.8 100.7,345.5 102.0,346.6 103.4,348.3 105.0,350.5 106.7,353.1 108.5,355.9 110.4,358.9 112.3,361.9 114.1,364.8 115.9,367.5 117.6,370.0 119.3,372.4 120.9,374.8 122.6,377.2 124.3,379.6 126.0,382.0 127.9,384.4 129.8,387.0 131.9,389.7 134.1,392.4 136.5,395.2 138.8,398.1 141.2,401.0 143.6,403.8 145.8,406.5 147.9,409.2 149.9,411.8 151.7,414.3 153.5,416.7 155.3,419.1 157.0,421.5 158.6,423.9 160.2,426.3 161.8,428.7 163.3,431.2 164.9,433.6 166.3,436.1 167.8,438.6 169.1,441.1 170.5,443.5 171.8,445.9 173.0,448.2 174.2,450.4 175.3,452.5 176.3,454.5 177.3,456.6 178.3,458.6 179.3,460.6 180.3,462.7 181.3,464.9 182.4,467.2 183.5,469.6 184.6,472.1 185.7,474.6 186.8,477.1 187.8,479.6 188.8,482.0 189.7,484.4 190.5,486.8 191.3,489.1 192.1,491.4 192.8,493.7 193.5,496.0 194.1,498.2 194.7,500.4 195.2,502.5 195.7,504.6 196.2,506.8 196.6,509.0 196.9,511.1 197.3,513.1 197.6,514.9 197.8,516.4 198.0,517.5 198.0,540.0 90.0,540.0" fill="#bd7f69"/>
<polygon points="90.0,439.9 95.0,439.9 95.6,439.8 96.3,439.7 97.1,439.5 98.0,439.3 99.1,439.2 100.3,439.2 101.8,439.4 103.4,439.9 105.3,440.6 107.4,441.6 109.8,442.8 112.3,444.0 114.9,445.4 117.6,446.8 120.2,448.2 122.8,449.6 125.4,450.9 128.0,452.3 130.7,453.6 133.3,455.0 136.0,456.4 138.6,457.9 141.2,459.3 143.7,460.8 146.1,462.3 148.5,463.8 150.9,465.4 153.2,467.0 155.4,468.6 157.6,470.1 159.8,471.7 161.8,473.3 163.8,474.9 165.7,476.4 167.6,478.0 169.4,479.6 171.1,481.1 172.7,482.7 174.3,484.2 175.7,485.8 177.0,487.4 178.3,489.0 179.4,490.5 180.4,492.1 181.4,493.7 182.3,495.3 183.2,496.8 184.1,498.3 185.0,499.8 185.8,501.3 186.5,502.7 187.2,504.2 187.9,505.6 188.6,507.0 189.2,508.3 189.7,509.5 190.2,510.7 190.7,511.9 191.1,513.1 191.4,514.2 191.8,515.2 192.1,516.1 192.3,516.9 192.5,517.5 192.5,540.0 90.0,540.0" fill="#c29c80"/>
<ellipse cx="164.3" cy="516.7" rx="12.5" ry="9.5" fill="#c8beaa"/>
<polygon points="293.0,514.7 293.0,514.4 292.8,513.9 292.7,513.4 292.8,512.8 293.3,512.3 294.5,511.9 296.4,511.6 299.0,511.4 302.0,511.3 305.3,511.1 308.7,510.9 311.9,510.5 315.2,509.9 318.8,509.2 322.5,508.4 326.0,507.7 329.2,507.0 331.9,506.5 334.0,506.2 335.5,506.0 336.8,506.0 337.9,506.0 338.9,506.1 340.0,506.2 341.0,506.4 341.6,506.8 342.2,507.2 343.1,507.7 344.4,508.1 346.6,508.5 349.7,508.8 353.6,509.1 358.0,509.3 362.7,509.6 367.4,509.8 371.9,509.9 376.3,510.0 380.7,510.0 385.2,509.9 389.6,509.9 394.1,509.9 398.6,509.9 403.1,509.9 407.5,510.0 412.0,510.0 416.4,510.1 420.9,510.3 425.3,510.5 430.1,510.8 435.2,511.3 440.3,511.8 445.1,512.3 449.1,512.7 452.0,513.0 452.0,640.0 293.0,640.0" fill="#96322a"/>
<polygon points="293.0,516.5 293.0,516.3 292.9,516.0 292.8,515.6 292.7,515.2 292.7,514.8 293.0,514.4 293.5,514.0 294.5,513.7 295.9,513.5 297.7,513.3 299.7,513.2 302.0,513.1 304.5,513.0 307.0,512.8 309.5,512.6 311.9,512.3 314.4,511.9 317.0,511.4 319.7,510.8 322.5,510.2 325.2,509.6 327.7,509.1 330.0,508.6 331.9,508.3 333.5,508.1 334.8,507.9 335.9,507.8 336.8,507.8 337.6,507.8 338.4,507.8 339.1,507.9 340.0,508.0 340.8,508.2 341.3,508.4 341.8,508.7 342.2,509.0 342.8,509.4 343.7,509.7 344.9,510.0 346.6,510.3 348.9,510.5 351.6,510.7 354.7,511.0 358.0,511.1 361.5,511.3 365.0,511.5 368.5,511.6 371.9,511.7 375.2,511.8 378.5,511.8 381.8,511.8 385.2,511.7 388.5,511.7 391.9,511.7 395.3,511.7 398.6,511.7 401.9,511.7 405.3,511.8 408.6,511.9 412.0,512.0 415.3,512.0 418.6,512.1 422.0,512.2 425.3,512.3 428.8,512.4 432.4,512.5 436.1,512.6 439.8,512.7 443.4,512.8 446.6,512.9 449.6,513.0 452.0,513.0 453.4,513.0 453.8,512.9 453.5,512.8 453.0,512.7 453.0,512.6 453.8,512.5 456.0,512.4 460.0,512.3 465.9,512.2 473.3,512.2 481.9,512.3 491.5,512.3 501.7,512.3 512.4,512.1 523.2,511.9 534.0,511.5 545.1,510.9 557.1,509.9 569.5,508.9 582.2,507.7 594.9,506.6 607.3,505.7 619.1,505.0 630.0,504.6 640.0,504.6 649.4,504.9 658.3,505.4 666.8,506.0 675.1,506.8 683.3,507.6 691.6,508.3 700.0,509.0 708.7,509.7 717.5,510.5 726.4,511.4 735.2,512.3 743.8,513.1 752.0,513.8 759.8,514.1 767.0,514.2 773.4,513.9 779.0,513.3 784.0,512.5 788.8,511.5 793.5,510.4 798.5,509.2 803.9,508.1 810.0,507.0 817.3,505.9 825.6,504.6 834.6,503.3 843.7,501.9 852.5,500.7 860.4,499.5 867.1,498.5 872.0,497.8 874.0,497.8 874.0,606.0 872.0,606.0 868.0,606.1 862.3,606.2 855.7,606.4 848.6,606.6 841.5,606.8 835.0,607.0 828.8,607.3 822.5,607.6 816.2,608.0 810.1,608.4 804.7,608.7 800.0,609.0 796.1,609.2 792.9,609.3 790.2,609.3 788.0,609.4 786.1,609.6 784.5,610.0 783.3,610.4 782.6,610.6 782.3,611.0 782.2,611.7 782.1,613.0 782.0,615.0 781.9,618.3 781.8,622.8 781.8,627.8 781.9,632.8 782.0,637.0 782.0,640.0 293.0,640.0" fill="#bd7f69"/>
<polygon points="293.0,516.5 293.0,516.3 292.9,516.0 292.8,515.7 292.7,515.3 292.7,515.0 293.0,514.6 293.5,514.3 294.5,514.0 295.9,513.8 297.7,513.7 299.7,513.6 302.0,513.5 304.5,513.4 307.0,513.2 309.5,513.1 311.9,512.8 314.4,512.5 317.0,512.0 319.7,511.5 322.5,511.0 325.2,510.5 327.7,510.0 330.0,509.6 331.9,509.3 333.5,509.1 334.8,508.9 335.9,508.8 336.8,508.8 337.6,508.8 338.4,508.8 339.1,508.9 340.0,509.0 340.8,509.2 341.3,509.4 341.8,509.6 342.2,509.9 342.8,510.2 343.7,510.5 344.9,510.8 346.6,511.0 348.9,511.2 351.6,511.4 354.7,511.6 358.0,511.8 361.5,511.9 365.0,512.1 368.5,512.2 371.9,512.3 375.2,512.3 378.5,512.3 381.8,512.3 385.2,512.3 388.5,512.3 391.9,512.2 395.3,512.2 398.6,512.3 401.9,512.3 405.3,512.4 408.6,512.5 412.0,512.6 415.3,512.7 418.6,512.8 422.0,513.0 425.3,513.1 428.8,513.2 432.4,513.4 436.1,513.5 439.8,513.7 443.4,513.8 446.6,514.0 449.6,514.0 452.0,514.1 453.4,514.0 453.8,513.9 453.5,513.7 453.0,513.5 453.0,513.4 453.8,513.2 456.0,513.0 460.0,512.9 465.9,512.8 473.3,512.8 481.9,512.8 491.5,512.8 501.7,512.8 512.4,512.8 523.2,512.8 534.0,512.8 545.1,512.8 557.1,512.8 569.5,512.7 582.2,512.7 594.9,512.7 607.3,512.7 619.1,512.8 630.0,512.9 640.0,513.1 649.4,513.4 658.3,513.7 666.8,514.1 675.1,514.4 683.3,514.8 691.6,515.2 700.0,515.5 708.7,515.8 717.5,516.2 726.4,516.6 735.2,517.0 743.8,517.4 752.0,517.7 759.8,517.9 767.0,518.0 773.4,518.0 779.0,517.8 784.0,517.6 788.8,517.3 793.5,516.9 798.5,516.6 803.9,516.3 810.0,516.0 817.3,515.8 825.6,515.5 834.6,515.2 843.7,515.0 852.5,514.7 860.4,514.5 867.1,514.3 872.0,514.2 874.0,514.2 874.0,600.5 872.0,600.5 868.0,600.6 862.3,600.7 855.7,600.9 848.6,601.1 841.5,601.3 835.0,601.5 828.8,601.7 822.5,602.0 816.2,602.2 810.2,602.5 804.7,602.9 800.0,603.5 796.1,604.2 792.7,605.1 789.9,606.1 787.5,607.2 785.5,608.2 783.9,609.2 782.6,609.9 781.9,610.4 781.6,610.9 781.5,611.6 781.5,612.9 781.4,615.0 781.2,618.3 781.2,622.8 781.2,627.9 781.3,632.8 781.3,637.1 781.4,640.0 293.0,640.0" fill="#c29c80"/>
<polygon points="293.0,516.5 293.0,516.3 292.9,516.1 292.8,515.8 292.7,515.5 292.7,515.2 293.0,514.8 293.5,514.6 294.5,514.3 295.9,514.1 297.7,514.0 299.7,513.9 302.0,513.8 304.5,513.7 307.0,513.6 309.5,513.5 311.9,513.2 314.4,512.9 317.0,512.5 319.7,512.1 322.5,511.6 325.2,511.2 327.7,510.7 330.0,510.4 331.9,510.1 333.5,509.9 334.8,509.8 335.9,509.7 336.8,509.7 337.6,509.7 338.4,509.7 339.1,509.8 340.0,509.9 340.8,510.0 341.3,510.2 341.8,510.4 342.2,510.7 342.8,511.0 343.7,511.2 344.9,511.5 346.6,511.7 348.9,511.8 351.6,512.0 354.7,512.2 358.0,512.3 361.5,512.5 365.0,512.6 368.5,512.7 371.9,512.8 375.2,512.8 378.5,512.8 381.8,512.8 385.2,512.8 388.5,512.7 391.9,512.7 395.3,512.7 398.6,512.8 401.9,512.8 405.3,512.9 408.6,513.0 412.0,513.2 415.3,513.3 418.6,513.5 422.0,513.6 425.3,513.7 428.8,513.9 432.4,514.1 436.1,514.3 439.8,514.5 443.4,514.7 446.6,514.8 449.6,514.9 452.0,514.9 453.4,514.9 453.8,514.7 453.5,514.5 453.0,514.3 453.0,514.0 453.8,513.8 456.0,513.6 460.0,513.5 465.9,513.5 473.3,513.4 481.9,513.4 491.5,513.5 501.7,513.5 512.4,513.7 523.2,513.8 534.0,514.0 545.1,514.3 557.1,514.6 569.5,514.9 582.2,515.3 594.9,515.7 607.3,516.2 619.1,516.6 630.0,517.0 640.0,517.4 649.4,517.8 658.3,518.3 666.8,518.7 675.1,519.2 683.3,519.6 691.6,520.1 700.0,520.5 708.7,520.9 717.5,521.4 726.4,521.9 735.2,522.3 743.8,522.8 752.0,523.2 759.8,523.5 767.0,523.8 773.4,524.0 779.0,524.2 784.0,524.3 788.8,524.3 793.5,524.4 798.5,524.4 803.9,524.4 810.0,524.5 817.3,524.6 825.6,524.7 834.6,524.8 843.7,524.9 852.5,525.0 860.4,525.1 867.1,525.1 872.0,525.2 874.0,525.2 874.0,598.5 872.0,598.5 868.0,598.6 862.3,598.7 855.7,598.9 848.6,599.1 841.5,599.3 835.0,599.5 828.8,599.7 822.5,599.9 816.2,600.1 810.2,600.4 804.8,600.9 800.0,601.5 796.0,602.4 792.5,603.4 789.6,604.7 787.1,605.9 785.0,607.2 783.2,608.4 781.9,609.3 781.2,609.9 780.9,610.6 780.8,611.4 780.8,612.8 780.7,615.0 780.6,618.4 780.5,622.9 780.5,627.9 780.6,632.8 780.7,637.1 780.7,640.0 293.0,640.0" fill="#c8beaa"/>
<polygon points="293.0,516.5 293.0,516.4 292.9,516.2 292.8,515.9 292.7,515.7 292.7,515.4 293.0,515.1 293.5,514.9 294.5,514.7 295.9,514.6 297.7,514.5 299.7,514.4 302.0,514.3 304.5,514.2 307.0,514.1 309.5,514.0 311.9,513.8 314.4,513.6 317.0,513.2 319.7,512.9 322.5,512.5 325.2,512.1 327.7,511.8 330.0,511.5 331.9,511.3 333.5,511.1 334.8,511.0 335.9,510.9 336.8,510.9 337.6,510.9 338.4,510.9 339.1,511.0 340.0,511.1 340.8,511.2 341.3,511.3 341.8,511.5 342.2,511.7 342.8,511.9 343.7,512.2 344.9,512.4 346.6,512.5 348.9,512.7 351.6,512.8 354.7,512.9 358.0,513.1 361.5,513.2 365.0,513.3 368.5,513.4 371.9,513.4 375.2,513.5 378.5,513.5 381.8,513.4 385.2,513.4 388.5,513.4 391.9,513.4 395.3,513.4 398.6,513.4 401.9,513.5 405.3,513.6 408.6,513.8 412.0,513.9 415.3,514.1 418.6,514.3 422.0,514.5 425.3,514.6 428.8,514.8 432.4,515.1 436.1,515.3 439.8,515.6 443.4,515.8 446.6,516.0 449.6,516.1 452.0,516.2 453.4,516.1 453.8,515.9 453.5,515.7 453.0,515.4 453.0,515.1 453.8,514.8 456.0,514.6 460.0,514.5 465.9,514.5 473.3,514.5 481.9,514.6 491.5,514.7 501.7,514.9 512.4,515.2 523.2,515.4 534.0,515.8 545.1,516.2 557.1,516.8 569.5,517.4 582.2,518.0 594.9,518.7 607.3,519.3 619.1,520.0 630.0,520.6 640.0,521.2 649.4,521.7 658.3,522.3 666.8,522.8 675.1,523.4 683.3,523.9 691.6,524.5 700.0,525.0 708.7,525.6 717.5,526.1 726.4,526.7 735.2,527.3 743.8,527.9 752.0,528.4 759.8,528.9 767.0,529.3 773.4,529.6 779.0,529.9 784.0,530.2 788.8,530.4 793.5,530.5 798.5,530.7 803.9,530.8 810.0,531.0 817.3,531.2 825.6,531.3 834.6,531.5 843.7,531.6 852.5,531.7 860.4,531.8 867.1,531.9 872.0,532.0 874.0,532.0 874.0,596.4 872.0,596.4 868.0,596.5 862.3,596.6 855.7,596.8 848.6,597.0 841.5,597.2 835.0,597.4 828.8,597.6 822.5,597.8 816.3,597.9 810.3,598.2 804.8,598.7 800.0,599.4 795.9,600.4 792.3,601.7 789.2,603.2 786.6,604.7 784.4,606.2 782.5,607.6 781.2,608.7 780.5,609.5 780.2,610.2 780.1,611.3 780.1,612.8 780.0,615.0 779.9,618.4 779.9,623.0 779.9,628.0 780.0,632.9 780.0,637.1 780.0,640.0 293.0,640.0" fill="#b4c5c8"/>
<polygon points="293.0,516.5 293.0,516.4 292.9,516.2 292.8,516.0 292.7,515.8 292.7,515.6 293.0,515.3 293.5,515.2 294.5,515.0 295.9,514.9 297.7,514.8 299.7,514.7 302.0,514.7 304.5,514.6 307.0,514.5 309.5,514.4 311.9,514.2 314.4,514.0 317.0,513.7 319.7,513.4 322.5,513.1 325.2,512.8 327.7,512.5 330.0,512.3 331.9,512.1 333.5,511.9 334.8,511.9 335.9,511.8 336.8,511.8 337.6,511.8 338.4,511.8 339.1,511.8 340.0,511.9 340.8,512.0 341.3,512.1 341.8,512.3 342.2,512.5 342.8,512.7 343.7,512.8 344.9,513.0 346.6,513.2 348.9,513.3 351.6,513.4 354.7,513.5 358.0,513.6 361.5,513.7 365.0,513.8 368.5,513.9 371.9,513.9 375.2,513.9 378.5,513.9 381.8,513.9 385.2,513.9 388.5,513.8 391.9,513.8 395.3,513.8 398.6,513.9 401.9,514.0 405.3,514.1 408.6,514.3 412.0,514.5 415.3,514.7 418.6,514.9 422.0,515.1 425.3,515.3 428.8,515.5 432.4,515.8 436.1,516.1 439.8,516.4 443.4,516.6 446.6,516.9 449.6,517.0 452.0,517.1 453.4,517.0 453.8,516.8 453.5,516.6 453.0,516.3 453.0,516.0 453.8,515.7 456.0,515.5 460.0,515.5 465.9,515.5 473.3,515.6 481.9,515.8 491.5,516.0 501.7,516.3 512.4,516.6 523.2,517.0 534.0,517.5 545.1,518.1 557.1,518.8 569.5,519.7 582.2,520.5 594.9,521.4 607.3,522.3 619.1,523.2 630.0,524.0 640.0,524.7 649.4,525.5 658.3,526.1 666.8,526.8 675.1,527.5 683.3,528.2 691.6,528.8 700.0,529.5 708.7,530.2 717.5,530.9 726.4,531.7 735.2,532.4 743.8,533.1 752.0,533.7 759.8,534.3 767.0,534.8 773.4,535.2 779.0,535.5 784.0,535.7 788.8,535.9 793.5,536.1 798.5,536.2 803.9,536.3 810.0,536.5 817.3,536.7 825.6,536.8 834.6,537.0 843.7,537.1 852.5,537.2 860.4,537.3 867.1,537.4 872.0,537.5 874.0,537.5 874.0,595.5 872.0,595.5 868.0,595.6 862.3,595.7 855.7,595.9 848.6,596.1 841.5,596.3 835.0,596.5 828.9,596.7 822.6,596.9 816.3,597.0 810.3,597.3 804.8,597.8 800.0,598.5 795.8,599.5 792.1,600.8 788.9,602.3 786.2,603.8 783.8,605.3 781.9,606.8 780.6,608.0 779.8,608.9 779.5,609.9 779.5,611.0 779.5,612.7 779.4,615.0 779.3,618.5 779.2,623.0 779.2,628.0 779.3,632.9 779.4,637.1 779.4,640.0 293.0,640.0" fill="#8ebac0"/>
<polygon points="293.0,516.5 293.0,516.4 292.9,516.3 292.8,516.1 292.7,515.9 292.7,515.7 293.0,515.6 293.5,515.4 294.5,515.3 295.9,515.2 297.7,515.1 299.7,515.0 302.0,515.0 304.5,514.9 307.0,514.9 309.5,514.8 311.9,514.7 314.4,514.5 317.0,514.3 319.7,514.0 322.5,513.7 325.2,513.5 327.7,513.2 330.0,513.0 331.9,512.9 333.5,512.8 334.8,512.7 335.9,512.7 336.8,512.7 337.6,512.7 338.4,512.7 339.1,512.7 340.0,512.8 340.8,512.8 341.3,512.9 341.8,513.1 342.2,513.2 342.8,513.4 343.7,513.5 344.9,513.7 346.6,513.8 348.9,513.9 351.6,514.0 354.7,514.1 358.0,514.1 361.5,514.2 365.0,514.3 368.5,514.3 371.9,514.4 375.2,514.4 378.5,514.4 381.8,514.4 385.2,514.3 388.5,514.3 391.9,514.3 395.3,514.3 398.6,514.4 401.9,514.5 405.3,514.7 408.6,514.8 412.0,515.0 415.3,515.3 418.6,515.5 422.0,515.7 425.3,516.0 428.8,516.2 432.4,516.5 436.1,516.8 439.8,517.1 443.4,517.4 446.6,517.7 449.6,517.9 452.0,518.0 453.4,517.9 453.8,517.7 453.5,517.5 453.0,517.2 453.0,516.9 453.8,516.7 456.0,516.5 460.0,516.5 465.9,516.6 473.3,516.8 481.9,517.0 491.5,517.2 501.7,517.6 512.4,518.0 523.2,518.6 534.0,519.2 545.1,520.0 557.1,520.9 569.5,521.9 582.2,523.1 594.9,524.2 607.3,525.3 619.1,526.4 630.0,527.4 640.0,528.3 649.4,529.2 658.3,530.0 666.8,530.8 675.1,531.6 683.3,532.4 691.6,533.2 700.0,534.0 708.7,534.8 717.5,535.7 726.4,536.5 735.2,537.4 743.8,538.2 752.0,538.9 759.8,539.6 767.0,540.2 773.4,540.7 779.0,541.1 784.0,541.4 788.8,541.6 793.5,541.8 798.5,542.1 803.9,542.3 810.0,542.5 817.3,542.8 825.6,543.0 834.6,543.3 843.7,543.5 852.5,543.8 860.4,544.0 867.1,544.2 872.0,544.3 874.0,544.3 874.0,594.0 872.0,594.0 868.0,594.1 862.3,594.2 855.7,594.4 848.6,594.6 841.5,594.8 835.0,595.0 828.9,595.2 822.6,595.3 816.4,595.5 810.4,595.8 804.9,596.2 800.0,597.0 795.7,598.1 791.9,599.5 788.6,601.1 785.7,602.7 783.2,604.4 781.2,606.0 779.9,607.3 779.1,608.4 778.8,609.5 778.8,610.8 778.8,612.6 778.8,615.0 778.6,618.5 778.6,623.1 778.6,628.1 778.7,632.9 778.7,637.1 778.8,640.0 293.0,640.0" fill="#6aabb6"/>
<polygon points="293.0,516.5 293.0,516.4 292.9,516.3 292.8,516.2 292.7,516.0 292.7,515.9 293.0,515.7 293.5,515.6 294.5,515.5 295.9,515.4 297.7,515.4 299.7,515.3 302.0,515.3 304.5,515.2 307.0,515.2 309.5,515.1 311.9,515.0 314.4,514.8 317.0,514.7 319.7,514.5 322.5,514.2 325.2,514.0 327.7,513.8 330.0,513.7 331.9,513.5 333.5,513.5 334.8,513.4 335.9,513.4 336.8,513.4 337.6,513.4 338.4,513.4 339.1,513.4 340.0,513.4 340.8,513.5 341.3,513.6 341.8,513.7 342.2,513.8 342.8,513.9 343.7,514.1 344.9,514.2 346.6,514.3 348.9,514.3 351.6,514.4 354.7,514.5 358.0,514.6 361.5,514.6 365.0,514.7 368.5,514.7 371.9,514.8 375.2,514.8 378.5,514.8 381.8,514.7 385.2,514.7 388.5,514.7 391.9,514.7 395.3,514.7 398.6,514.8 401.9,514.9 405.3,515.1 408.6,515.3 412.0,515.5 415.3,515.7 418.6,516.0 422.0,516.2 425.3,516.5 428.8,516.7 432.4,517.1 436.1,517.4 439.8,517.7 443.4,518.1 446.6,518.3 449.6,518.5 452.0,518.7 453.4,518.6 453.8,518.5 453.5,518.3 453.0,518.0 453.0,517.7 453.8,517.5 456.0,517.4 460.0,517.5 465.9,517.7 473.3,517.9 481.9,518.2 491.5,518.6 501.7,519.0 512.4,519.6 523.2,520.2 534.0,521.0 545.1,522.0 557.1,523.1 569.5,524.4 582.2,525.8 594.9,527.1 607.3,528.5 619.1,529.8 630.0,531.0 640.0,532.1 649.4,533.1 658.3,534.0 666.8,534.9 675.1,535.8 683.3,536.7 691.6,537.6 700.0,538.5 708.7,539.4 717.5,540.4 726.4,541.4 735.2,542.4 743.8,543.3 752.0,544.2 759.8,545.0 767.0,545.7 773.4,546.3 779.0,546.8 784.0,547.3 788.8,547.7 793.5,548.0 798.5,548.3 803.9,548.7 810.0,549.0 817.3,549.3 825.6,549.7 834.6,550.0 843.7,550.3 852.5,550.6 860.4,550.8 867.1,551.0 872.0,551.2 874.0,551.2 874.0,592.5 872.0,592.5 868.0,592.6 862.3,592.7 855.7,592.9 848.6,593.1 841.5,593.3 835.0,593.5 828.9,593.7 822.6,593.8 816.4,594.0 810.4,594.2 804.9,594.7 800.0,595.5 795.7,596.7 791.8,598.2 788.3,599.9 785.2,601.7 782.7,603.5 780.6,605.2 779.2,606.7 778.4,607.9 778.1,609.1 778.1,610.6 778.2,612.5 778.1,615.0 778.0,618.6 777.9,623.1 777.9,628.1 778.0,633.0 778.1,637.1 778.1,640.0 293.0,640.0" fill="#4c93a5"/>
<polygon points="293.0,516.5 293.0,516.4 292.9,516.3 292.8,516.2 292.7,516.1 292.7,516.0 293.0,515.9 293.5,515.8 294.5,515.7 295.9,515.7 297.7,515.6 299.7,515.6 302.0,515.5 304.5,515.5 307.0,515.5 309.5,515.4 311.9,515.3 314.4,515.2 317.0,515.1 319.7,514.9 322.5,514.7 325.2,514.6 327.7,514.4 330.0,514.3 331.9,514.2 333.5,514.1 334.8,514.1 335.9,514.1 336.8,514.1 337.6,514.1 338.4,514.1 339.1,514.1 340.0,514.1 340.8,514.2 341.3,514.2 341.8,514.3 342.2,514.4 342.8,514.5 343.7,514.6 344.9,514.7 346.6,514.8 348.9,514.8 351.6,514.9 354.7,514.9 358.0,515.0 361.5,515.0 365.0,515.1 368.5,515.1 371.9,515.2 375.2,515.2 378.5,515.1 381.8,515.1 385.2,515.1 388.5,515.0 391.9,515.0 395.3,515.1 398.6,515.2 401.9,515.3 405.3,515.5 408.6,515.7 412.0,515.9 415.3,516.2 418.6,516.5 422.0,516.7 425.3,517.0 428.8,517.3 432.4,517.6 436.1,518.0 439.8,518.4 443.4,518.7 446.6,519.0 449.6,519.2 452.0,519.4 453.4,519.4 453.8,519.3 453.5,519.1 453.0,518.8 453.0,518.6 453.8,518.4 456.0,518.4 460.0,518.5 465.9,518.7 473.3,519.0 481.9,519.4 491.5,519.9 501.7,520.4 512.4,521.1 523.2,521.9 534.0,522.8 545.1,523.9 557.1,525.3 569.5,526.8 582.2,528.4 594.9,530.0 607.3,531.6 619.1,533.1 630.0,534.5 640.0,535.7 649.4,536.9 658.3,537.9 666.8,539.0 675.1,540.0 683.3,541.0 691.6,542.0 700.0,543.0 708.7,544.1 717.5,545.2 726.4,546.3 735.2,547.4 743.8,548.4 752.0,549.4 759.8,550.4 767.0,551.2 773.4,551.9 779.0,552.6 784.0,553.2 788.8,553.7 793.5,554.2 798.5,554.6 803.9,555.1 810.0,555.5 817.3,555.9 825.6,556.3 834.6,556.7 843.7,557.0 852.5,557.3 860.4,557.6 867.1,557.8 872.0,558.0 874.0,558.0 874.0,590.9 872.0,590.9 868.0,591.0 862.3,591.1 855.7,591.3 848.6,591.5 841.5,591.7 835.0,591.9 828.9,592.1 822.6,592.2 816.4,592.3 810.5,592.6 804.9,593.1 800.0,593.9 795.6,595.2 791.6,596.8 787.9,598.6 784.8,600.6 782.1,602.5 780.0,604.4 778.5,606.0 777.7,607.4 777.4,608.8 777.4,610.4 777.5,612.4 777.5,615.0 777.3,618.6 777.3,623.2 777.3,628.2 777.4,633.0 777.4,637.1 777.5,640.0 293.0,640.0" fill="#3b7c90"/>
<polygon points="293.0,516.5 293.0,516.5 292.9,516.4 292.8,516.3 292.7,516.2 292.7,516.2 293.0,516.1 293.5,516.0 294.5,515.9 295.9,515.9 297.7,515.9 299.7,515.8 302.0,515.8 304.5,515.8 307.0,515.8 309.5,515.7 311.9,515.7 314.4,515.6 317.0,515.5 319.7,515.4 322.5,515.2 325.2,515.1 327.7,515.0 330.0,514.9 331.9,514.9 333.5,514.8 334.8,514.8 335.9,514.8 336.8,514.8 337.6,514.8 338.4,514.8 339.1,514.8 340.0,514.8 340.8,514.8 341.3,514.9 341.8,514.9 342.2,515.0 342.8,515.1 343.7,515.1 344.9,515.2 346.6,515.3 348.9,515.3 351.6,515.3 354.7,515.4 358.0,515.4 361.5,515.5 365.0,515.5 368.5,515.5 371.9,515.5 375.2,515.5 378.5,515.5 381.8,515.5 385.2,515.4 388.5,515.4 391.9,515.4 395.3,515.4 398.6,515.5 401.9,515.7 405.3,515.9 408.6,516.1 412.0,516.4 415.3,516.6 418.6,516.9 422.0,517.2 425.3,517.5 428.8,517.8 432.4,518.2 436.1,518.6 439.8,519.0 443.4,519.3 446.6,519.6 449.6,519.9 452.0,520.1 453.4,520.1 453.8,520.0 453.5,519.8 453.0,519.6 453.0,519.4 453.8,519.3 456.0,519.3 460.0,519.5 465.9,519.8 473.3,520.2 481.9,520.6 491.5,521.2 501.7,521.8 512.4,522.6 523.2,523.5 534.0,524.6 545.1,525.9 557.1,527.5 569.5,529.2 582.2,531.1 594.9,532.9 607.3,534.8 619.1,536.5 630.0,538.0 640.0,539.3 649.4,540.5 658.3,541.7 666.8,542.7 675.1,543.8 683.3,544.8 691.6,545.9 700.0,547.0 708.7,548.2 717.5,549.5 726.4,550.8 735.2,552.1 743.8,553.4 752.0,554.6 759.8,555.7 767.0,556.7 773.4,557.5 779.0,558.2 784.0,558.9 788.8,559.4 793.5,559.9 798.5,560.4 803.9,560.9 810.0,561.5 817.3,562.1 825.6,562.8 834.6,563.5 843.7,564.1 851.1,564.5 854.0,565.7 856.5,567.6 858.4,570.0 859.6,572.8 860.0,575.8 859.6,578.8 858.4,581.6 856.5,584.0 854.0,585.9 851.1,587.1 845.0,587.5 839.8,587.6 835.0,587.8 830.4,587.9 825.8,588.0 821.1,588.0 816.5,588.0 812.0,588.1 807.7,588.4 803.7,589.0 800.0,589.8 796.6,591.0 793.4,592.5 790.4,594.2 787.6,596.1 785.1,598.1 782.9,600.0 780.9,601.9 779.3,603.6 778.1,605.0 777.3,606.3 776.9,607.5 776.8,608.6 776.8,609.8 776.8,611.2 776.9,612.9 776.8,615.0 776.7,617.6 776.6,620.9 776.6,624.5 776.6,628.2 776.7,631.9 776.7,635.2 776.8,638.0 776.8,640.0 293.0,640.0" fill="#246b85"/>
<polygon points="293.0,516.5 293.0,516.5 292.9,516.4 292.8,516.4 292.7,516.3 292.7,516.3 293.0,516.2 293.5,516.2 294.5,516.1 295.9,516.1 297.7,516.1 299.7,516.1 302.0,516.1 304.5,516.0 307.0,516.0 309.5,516.0 311.9,516.0 314.4,515.9 317.0,515.8 319.7,515.8 322.5,515.7 325.2,515.6 327.7,515.5 330.0,515.5 331.9,515.4 333.5,515.4 334.8,515.4 335.9,515.4 336.8,515.4 337.6,515.4 338.4,515.4 339.1,515.4 340.0,515.4 340.8,515.4 341.3,515.4 341.8,515.5 342.2,515.5 342.8,515.6 343.7,515.6 344.9,515.7 346.6,515.7 348.9,515.7 351.6,515.8 354.7,515.8 358.0,515.8 361.5,515.8 365.0,515.8 368.5,515.9 371.9,515.9 375.2,515.9 378.5,515.8 381.8,515.8 385.2,515.8 388.5,515.7 391.9,515.7 395.3,515.8 398.6,515.9 401.9,516.0 405.3,516.2 408.6,516.5 412.0,516.8 415.3,517.0 418.6,517.4 422.0,517.7 425.3,518.0 428.8,518.3 432.4,518.7 436.1,519.1 439.8,519.5 443.4,519.9 446.6,520.2 449.6,520.5 452.0,520.7 453.4,520.8 453.8,520.7 453.5,520.6 453.0,520.4 453.0,520.2 453.8,520.2 456.0,520.2 460.0,520.5 465.9,520.9 473.3,521.4 481.9,521.9 491.5,522.6 501.7,523.4 512.4,524.3 523.2,525.3 534.0,526.5 545.1,527.9 557.1,529.6 569.5,531.5 582.2,533.5 594.9,535.5 607.3,537.5 619.1,539.3 630.0,541.0 640.0,542.5 649.4,543.9 658.3,545.2 666.8,546.4 675.1,547.6 683.3,548.9 691.6,550.1 700.0,551.5 708.7,553.0 717.5,554.6 726.4,556.2 735.2,557.9 743.8,559.5 752.0,561.0 759.8,562.4 767.0,563.5 773.4,564.4 779.0,565.1 784.0,565.7 788.8,566.1 793.5,566.5 798.5,566.8 803.9,567.1 810.0,567.5 817.3,567.9 825.6,568.3 830.7,568.6 833.6,569.7 836.1,571.3 838.0,573.4 839.2,575.9 839.6,578.6 839.2,581.6 838.0,584.4 836.1,586.8 833.6,588.7 830.7,589.8 825.8,590.2 821.1,590.3 816.5,590.4 812.0,590.6 807.7,590.9 803.7,591.3 800.0,592.0 796.5,592.9 793.3,594.0 790.2,595.3 787.3,596.8 784.7,598.3 782.3,599.8 780.3,601.3 778.6,602.8 777.4,604.2 776.6,605.5 776.2,606.7 776.1,608.0 776.1,609.4 776.2,611.0 776.2,612.9 776.1,615.0 776.0,617.7 776.0,620.9 776.0,624.5 776.0,628.3 776.0,631.9 776.1,635.2 776.1,638.0 776.1,640.0 293.0,640.0" fill="#10577d"/>
<polygon points="293.0,516.5 293.0,516.5 292.9,516.5 292.8,516.4 292.7,516.4 292.7,516.4 293.0,516.4 293.5,516.3 294.5,516.3 295.9,516.3 297.7,516.3 299.7,516.3 302.0,516.3 304.5,516.3 307.0,516.2 309.5,516.2 311.9,516.2 314.4,516.2 317.0,516.1 319.7,516.1 322.5,516.1 325.2,516.0 327.7,516.0 330.0,515.9 331.9,515.9 333.5,515.9 334.8,515.9 335.9,515.9 336.8,515.9 337.6,515.9 338.4,515.9 339.1,515.9 340.0,515.9 340.8,515.9 341.3,515.9 341.8,516.0 342.2,516.0 342.8,516.0 343.7,516.0 344.9,516.0 346.6,516.1 348.9,516.1 351.6,516.1 354.7,516.1 358.0,516.1 361.5,516.1 365.0,516.1 368.5,516.2 371.9,516.2 375.2,516.2 378.5,516.1 381.8,516.1 385.2,516.0 388.5,516.0 391.9,516.0 395.3,516.1 398.6,516.2 401.9,516.3 405.3,516.5 408.6,516.8 412.0,517.1 415.3,517.4 418.6,517.7 422.0,518.0 425.3,518.4 428.8,518.7 432.4,519.1 436.1,519.5 439.8,519.9 443.4,520.3 446.6,520.7 449.6,521.0 452.0,521.2 453.4,521.3 453.8,521.3 453.5,521.1 453.0,521.0 453.0,520.9 453.8,520.8 456.0,521.0 460.0,521.3 465.9,521.8 473.3,522.4 481.9,523.1 491.5,523.9 501.7,524.9 512.4,525.9 523.2,527.2 534.0,528.5 545.1,530.1 557.1,531.9 569.5,533.9 582.2,536.0 594.9,538.1 607.3,540.2 619.1,542.2 630.0,544.0 640.0,545.6 649.4,547.1 658.3,548.5 666.8,549.9 675.1,551.3 683.3,552.7 691.6,554.3 700.0,556.0 708.7,558.0 717.5,560.3 726.4,562.8 735.2,565.2 743.8,567.6 752.0,569.8 759.8,571.7 767.0,573.1 773.4,574.0 779.0,574.5 784.0,574.6 788.8,574.6 793.5,574.4 798.5,574.1 803.9,574.0 810.1,574.3 813.0,575.2 815.5,576.6 817.4,578.5 818.6,580.7 819.0,583.0 818.6,585.7 817.4,588.2 815.5,590.4 813.0,592.1 810.1,593.1 803.7,593.5 800.0,594.0 796.5,594.7 793.1,595.5 789.9,596.3 787.0,597.3 784.3,598.4 781.8,599.5 779.7,600.7 778.0,602.0 776.7,603.3 775.9,604.6 775.5,606.0 775.4,607.4 775.4,609.0 775.5,610.8 775.6,612.8 775.5,615.0 775.4,617.7 775.3,621.0 775.3,624.6 775.3,628.3 775.4,631.9 775.4,635.2 775.5,638.0 775.5,640.0 293.0,640.0" fill="#093e72"/>
<polygon points="293.0,516.5 293.0,516.5 292.9,516.5 292.8,516.5 292.7,516.5 292.7,516.4 293.0,516.4 293.5,516.4 294.5,516.4 295.9,516.4 297.7,516.4 299.7,516.4 302.0,516.4 304.5,516.4 307.0,516.4 309.5,516.4 311.9,516.4 314.4,516.4 317.0,516.3 319.7,516.3 322.5,516.3 325.2,516.3 327.7,516.3 330.0,516.3 331.9,516.3 333.5,516.2 334.8,516.2 335.9,516.2 336.8,516.2 337.6,516.2 338.4,516.2 339.1,516.2 340.0,516.2 340.8,516.3 341.3,516.3 341.8,516.3 342.2,516.3 342.8,516.3 343.7,516.3 344.9,516.3 346.6,516.3 348.9,516.3 351.6,516.3 354.7,516.3 358.0,516.3 361.5,516.3 365.0,516.3 368.5,516.4 371.9,516.4 375.2,516.3 378.5,516.3 381.8,516.3 385.2,516.2 388.5,516.2 391.9,516.2 395.3,516.2 398.6,516.4 401.9,516.5 405.3,516.7 408.6,517.0 412.0,517.3 415.3,517.6 418.6,518.0 422.0,518.3 425.3,518.6 428.8,519.0 432.4,519.4 436.1,519.8 439.8,520.2 443.4,520.6 446.6,521.0 449.6,521.3 452.0,521.6 453.4,521.7 453.8,521.7 453.5,521.6 453.0,521.4 453.0,521.4 453.8,521.4 456.0,521.6 460.0,522.0 465.9,522.6 473.3,523.4 481.9,524.3 491.5,525.3 501.7,526.4 512.4,527.7 523.2,529.0 534.0,530.5 545.1,532.2 557.1,534.0 569.5,536.0 582.2,538.1 594.9,540.3 607.3,542.4 619.1,544.5 630.0,546.5 640.0,548.3 649.4,550.0 658.3,551.7 666.8,553.3 675.1,555.0 683.3,556.8 691.6,558.8 700.0,561.0 708.7,563.7 717.5,566.8 726.4,570.2 735.2,573.7 743.8,577.0 752.0,579.9 759.8,582.4 767.0,584.0 773.4,584.8 779.0,584.8 784.0,584.3 788.8,583.4 796.5,583.5 799.4,583.8 801.9,584.3 803.8,585.0 805.0,585.7 805.4,586.5 805.0,589.2 803.8,591.7 801.9,593.8 799.4,595.5 796.5,596.5 793.0,596.9 789.7,597.3 786.6,597.9 783.8,598.5 781.3,599.2 779.1,600.1 777.4,601.2 776.1,602.4 775.2,603.8 774.8,605.3 774.7,606.9 774.7,608.6 774.8,610.6 774.9,612.7 774.9,615.0 774.7,617.8 774.7,621.0 774.7,624.7 774.7,628.4 774.7,632.0 774.8,635.2 774.8,638.0 774.9,640.0 293.0,640.0" fill="#1b2958"/>
<polygon points="90.0,516.5 279.9,516.5 280.4,514.0 282.0,513.0 292.5,513.0 294.0,514.0 294.5,516.5 334.6,516.5 335.0,513.5 336.8,510.2 339.0,508.7 341.5,508.3 344.0,509.2 345.8,511.5 346.4,514.0 346.6,516.5 351.3,516.5 357.6,516.4 365.3,516.3 373.6,516.2 382.2,516.2 390.7,516.2 398.4,516.3 405.0,516.5 410.5,516.8 415.3,517.2 419.6,517.7 423.6,518.2 427.5,518.8 431.4,519.4 435.5,519.9 440.0,520.5 444.6,521.0 449.0,521.4 453.4,521.9 458.0,522.3 462.8,522.9 468.0,523.4 473.7,524.1 480.0,525.0 487.1,526.0 494.9,527.1 503.1,528.3 511.8,529.6 520.7,531.0 529.6,532.4 538.4,533.9 547.0,535.5 555.5,537.2 564.3,539.1 573.2,541.2 582.0,543.3 590.6,545.3 598.9,547.3 606.7,549.0 614.0,550.5 620.7,551.7 626.9,552.6 632.8,553.4 638.3,554.0 643.5,554.6 648.4,555.2 653.1,555.9 657.6,556.7 661.8,557.6 665.6,558.6 669.1,559.6 672.3,560.6 675.4,561.6 678.5,562.7 681.7,563.8 685.0,564.9 688.4,566.0 691.8,567.2 695.2,568.3 698.6,569.5 702.1,570.7 705.5,572.0 708.9,573.2 712.3,574.5 715.7,575.8 719.1,577.0 722.6,578.3 726.0,579.6 729.4,580.9 732.8,582.3 736.3,583.8 739.7,585.4 743.3,587.2 747.0,589.1 750.9,591.2 754.7,593.4 758.3,595.5 761.7,597.4 764.7,599.1 767.1,600.5 769.0,601.6 770.4,602.4 771.5,603.0 772.3,603.5 772.8,603.8 773.2,604.1 773.6,604.4 774.0,604.6 774.0,640.0 90.0,640.0" fill="#2e1f21"/>
<polyline points="96.0,189.0 101.0,188.3 107.6,187.3 115.4,186.1 124.1,184.8 133.5,183.4 143.1,182.0 152.7,180.6 162.0,179.4 171.2,178.2 180.7,177.1 190.4,175.9 200.3,174.8 210.3,173.7 220.4,172.6 230.3,171.5 240.2,170.5 249.9,169.5 259.5,168.5 269.0,167.6 278.6,166.7 288.2,165.8 298.0,164.9 308.0,164.2 318.3,163.4 329.0,162.7 340.2,162.0 351.7,161.3 363.3,160.7 374.9,160.1 386.2,159.6 397.2,159.2 407.6,158.9 417.5,158.7 427.0,158.6 436.2,158.6 445.2,158.6 454.0,158.7 462.7,158.9 471.3,159.1 480.0,159.3 488.6,159.6 497.2,159.9 505.6,160.3 513.9,160.7 522.2,161.1 530.5,161.6 538.8,162.1 547.2,162.7 555.6,163.3 564.0,163.9 572.4,164.6 580.8,165.4 589.1,166.1 597.5,166.8 605.9,167.6 614.3,168.3 622.7,169.0 631.1,169.7 639.5,170.3 647.9,171.0 656.3,171.7 664.7,172.4 673.1,173.1 681.5,173.9 689.9,174.7 698.3,175.6 706.7,176.5 715.1,177.4 723.5,178.3 731.9,179.1 740.3,180.0 748.7,180.7 757.2,181.4 765.8,182.0 774.5,182.5 783.1,183.0 791.7,183.5 800.0,184.0 808.1,184.5 815.9,185.1 823.7,185.7 831.6,186.4 839.5,187.1 847.1,187.8 854.3,188.5 860.6,189.1 865.9,189.6 870.0,190.0" fill="none" stroke="#3a1f1f" stroke-width="1.3" stroke-opacity="0.72" stroke-linejoin="round"/>
<polyline points="96.0,238.0 101.1,237.2 107.7,236.1 115.7,234.7 124.5,233.3 133.9,231.7 143.6,230.2 153.0,228.7 162.0,227.4 170.7,226.2 179.5,225.0 188.4,223.9 197.4,222.8 206.5,221.7 215.5,220.6 224.5,219.5 233.5,218.5 242.5,217.5 251.5,216.4 260.5,215.4 269.5,214.4 278.5,213.4 287.4,212.5 296.2,211.6 304.9,210.7 313.2,209.9 321.0,209.0 328.5,208.2 336.1,207.4 344.0,206.6 352.4,206.0 361.6,205.5 371.9,205.1 383.7,204.9 397.0,204.8 411.2,204.8 425.9,205.0 440.7,205.2 454.9,205.4 468.2,205.7 480.0,206.0 490.4,206.3 499.7,206.7 508.2,207.1 516.2,207.6 523.8,208.1 531.4,208.7 539.1,209.2 547.2,209.8 555.6,210.4 564.0,211.0 572.4,211.7 580.8,212.4 589.1,213.1 597.5,213.9 605.9,214.6 614.3,215.4 622.7,216.2 631.1,217.0 639.5,217.9 647.9,218.8 656.3,219.6 664.7,220.5 673.1,221.3 681.5,222.1 689.9,222.9 698.3,223.6 706.7,224.3 715.1,225.0 723.5,225.7 731.9,226.4 740.3,227.1 748.7,227.7 757.2,228.3 765.8,228.9 774.5,229.5 783.1,230.1 791.7,230.6 800.0,231.1 808.1,231.7 815.9,232.2 823.7,232.7 831.6,233.3 839.5,233.8 847.1,234.4 854.3,234.9 860.6,235.3 865.9,235.7 870.0,236.0" fill="none" stroke="#3a1f1f" stroke-width="1.3" stroke-opacity="0.72" stroke-linejoin="round"/>
<polyline points="96.0,286.0 101.1,285.0 107.8,283.6 115.9,281.9 124.8,280.1 134.3,278.2 143.9,276.3 153.3,274.6 162.0,273.2 170.4,272.0 178.9,270.9 187.5,269.9 196.1,268.9 204.7,268.0 213.0,267.2 221.2,266.3 229.0,265.4 236.5,264.5 243.7,263.6 250.7,262.7 257.6,261.8 264.4,261.0 271.1,260.2 277.9,259.4 284.8,258.7 291.7,258.0 298.5,257.4 305.2,256.8 312.0,256.2 318.9,255.7 325.9,255.2 333.1,254.7 340.6,254.2 348.4,253.7 356.4,253.3 364.7,252.8 373.1,252.4 381.6,252.0 390.2,251.7 398.9,251.5 407.6,251.3 416.4,251.2 425.4,251.3 434.6,251.4 443.8,251.5 453.0,251.7 462.1,252.0 471.2,252.2 480.0,252.5 488.6,252.8 497.2,253.1 505.6,253.4 513.9,253.8 522.2,254.2 530.5,254.7 538.8,255.2 547.2,255.7 555.6,256.3 564.0,256.9 572.4,257.6 580.8,258.3 589.1,259.0 597.5,259.8 605.9,260.5 614.3,261.3 622.7,262.1 631.1,262.9 639.5,263.7 647.9,264.6 656.3,265.4 664.7,266.3 673.1,267.2 681.5,268.0 689.9,268.8 698.3,269.7 706.7,270.6 715.1,271.4 723.5,272.3 731.9,273.1 740.3,273.9 748.7,274.7 757.2,275.5 765.8,276.2 774.5,276.9 783.1,277.7 791.7,278.4 800.0,279.0 808.1,279.7 815.9,280.3 823.7,280.9 831.6,281.5 839.5,282.2 847.1,282.8 854.3,283.3 860.6,283.8 865.9,284.2 870.0,284.5" fill="none" stroke="#3a1f1f" stroke-width="1.3" stroke-opacity="0.72" stroke-linejoin="round"/>
<polyline points="96.0,334.5 101.1,333.3 108.0,331.6 116.3,329.5 125.4,327.3 134.9,325.0 144.5,322.8 153.7,320.7 162.0,319.0 169.7,317.5 177.2,316.2 184.5,315.0 191.8,313.9 198.9,312.9 206.0,311.9 213.0,311.0 220.0,310.0 226.7,309.1 232.9,308.2 238.8,307.3 244.8,306.5 251.1,305.7 257.8,305.0 265.2,304.2 273.6,303.4 282.9,302.6 292.8,301.7 303.3,300.8 314.3,299.9 325.9,299.0 337.9,298.3 350.3,297.7 363.0,297.3 376.6,297.1 391.5,297.0 407.0,297.0 422.9,297.2 438.6,297.4 453.6,297.7 467.6,298.1 480.0,298.5 490.8,299.0 500.3,299.5 508.9,300.2 516.7,300.9 524.2,301.6 531.6,302.4 539.1,303.1 547.2,303.8 555.6,304.5 564.0,305.2 572.4,305.9 580.8,306.6 589.1,307.4 597.5,308.1 605.9,308.8 614.3,309.4 622.7,310.0 631.1,310.6 639.5,311.1 647.9,311.6 656.3,312.2 664.7,312.7 673.1,313.3 681.5,313.9 689.9,314.5 698.3,315.2 706.7,315.9 715.1,316.6 723.5,317.3 731.9,318.0 740.3,318.7 748.7,319.5 757.2,320.3 765.8,321.1 774.5,322.0 783.1,322.9 791.7,323.7 800.0,324.6 808.1,325.4 815.9,326.2 823.7,327.0 831.6,327.7 839.5,328.5 847.1,329.3 854.3,330.0 860.6,330.6 865.9,331.1 870.0,331.5" fill="none" stroke="#3a1f1f" stroke-width="1.3" stroke-opacity="0.72" stroke-linejoin="round"/>
<polyline points="96.0,382.0 101.1,380.8 107.8,379.2 115.9,377.3 124.8,375.2 134.3,373.0 143.9,370.8 153.3,368.8 162.0,367.0 170.3,365.4 178.7,363.8 187.1,362.3 195.4,360.9 203.8,359.5 212.2,358.2 220.6,357.0 229.0,355.8 237.4,354.7 245.8,353.7 254.1,352.8 262.5,352.0 270.9,351.2 279.2,350.5 287.6,349.8 296.0,349.1 304.0,348.4 311.6,347.8 318.9,347.2 326.4,346.6 334.2,346.1 342.7,345.7 352.2,345.3 363.0,345.1 375.6,345.0 389.9,344.9 405.4,344.9 421.5,345.0 437.6,345.2 453.1,345.4 467.4,345.7 480.0,346.0 490.8,346.4 500.3,346.9 508.9,347.5 516.7,348.2 524.2,348.9 531.6,349.5 539.1,350.2 547.2,350.8 555.6,351.4 564.0,351.9 572.4,352.5 580.8,353.0 589.1,353.5 597.5,354.1 605.9,354.7 614.3,355.3 622.7,355.9 631.1,356.6 639.5,357.3 647.9,358.0 656.3,358.7 664.7,359.4 673.1,360.1 681.5,360.9 689.9,361.7 698.3,362.5 706.7,363.4 715.1,364.2 723.5,365.1 731.9,366.0 740.3,366.8 748.7,367.6 757.2,368.4 765.8,369.1 774.5,369.8 783.1,370.5 791.7,371.2 800.0,371.8 808.1,372.5 815.9,373.2 823.7,373.9 831.6,374.7 839.5,375.4 847.1,376.2 854.3,376.9 860.6,377.6 865.9,378.1 870.0,378.5" fill="none" stroke="#3a1f1f" stroke-width="1.3" stroke-opacity="0.72" stroke-linejoin="round"/>
<polyline points="96.0,435.0 99.4,434.1 103.8,432.9 109.1,431.5 115.1,429.9 121.3,428.2 127.7,426.5 133.9,424.9 139.7,423.5 145.2,422.2 150.8,420.9 156.4,419.6 161.9,418.3 167.5,417.1 173.1,415.9 178.7,414.7 184.3,413.5 189.9,412.3 195.5,411.1 201.1,409.9 206.7,408.8 212.2,407.6 217.8,406.6 223.4,405.5 229.0,404.6 234.6,403.7 240.2,403.0 245.7,402.2 251.3,401.6 256.9,400.9 262.4,400.3 268.0,399.7 273.6,399.0 279.0,398.3 284.2,397.6 289.4,396.9 294.6,396.2 299.9,395.5 305.6,394.9 311.6,394.3 318.3,393.8 325.4,393.3 332.8,392.8 340.6,392.4 348.7,392.0 357.2,391.7 366.1,391.4 375.4,391.2 385.3,391.2 396.0,391.3 407.7,391.5 420.0,391.9 432.6,392.3 445.3,392.7 457.6,393.2 469.3,393.6 480.0,394.0 489.7,394.3 498.7,394.7 507.2,395.0 515.3,395.3 523.2,395.6 531.1,396.0 539.0,396.4 547.2,396.8 555.6,397.3 564.0,397.8 572.4,398.4 580.8,398.9 589.1,399.5 597.5,400.1 605.9,400.7 614.3,401.3 622.7,401.8 631.1,402.3 639.5,402.8 647.9,403.3 656.3,403.9 664.7,404.4 673.1,405.1 681.5,405.8 689.9,406.6 698.3,407.5 706.7,408.5 715.1,409.5 723.5,410.5 731.9,411.6 740.3,412.6 748.7,413.6 757.2,414.6 765.8,415.6 774.5,416.6 783.1,417.7 791.7,418.7 800.0,419.6 808.1,420.6 815.9,421.4 823.7,422.2 831.6,423.0 839.5,423.7 847.1,424.4 854.3,425.1 860.6,425.6 865.9,426.1 870.0,426.5" fill="none" stroke="#3a1f1f" stroke-width="1.3" stroke-opacity="0.72" stroke-linejoin="round"/>
<polyline points="96.0,489.2 98.1,488.7 100.8,488.1 104.0,487.4 107.7,486.6 111.5,485.7 115.4,484.8 119.2,483.9 122.8,483.0 126.2,482.1 129.7,481.2 133.2,480.3 136.7,479.3 140.2,478.4 143.7,477.4 147.2,476.4 150.7,475.5 154.2,474.6 157.8,473.6 161.4,472.6 165.0,471.7 168.5,470.7 172.0,469.8 175.3,468.9 178.5,468.0 181.4,467.2 183.9,466.4 186.2,465.7 188.5,465.0 190.9,464.2 193.5,463.4 196.5,462.5 200.0,461.5 204.1,460.3 208.7,458.9 213.7,457.4 218.9,455.9 224.2,454.3 229.6,452.8 234.9,451.5 240.0,450.4 244.9,449.5 249.9,448.7 254.8,448.1 259.7,447.5 264.6,447.0 269.5,446.5 274.4,446.0 279.4,445.5 284.1,445.0 288.4,444.4 292.5,443.9 296.7,443.4 301.3,442.9 306.5,442.4 312.7,442.0 320.0,441.6 328.8,441.2 339.0,440.9 350.1,440.5 361.8,440.2 373.8,440.0 385.7,439.8 397.1,439.8 407.6,439.8 417.4,440.0 426.9,440.3 436.1,440.8 445.1,441.3 453.9,441.8 462.6,442.3 471.3,442.8 480.0,443.2 488.6,443.5 497.2,443.7 505.6,443.9 513.9,444.0 522.2,444.2 530.5,444.4 538.8,444.6 547.2,444.9 555.6,445.2 564.0,445.6 572.4,446.0 580.8,446.4 589.1,446.9 597.5,447.3 605.9,447.8 614.3,448.3 622.7,448.8 631.1,449.3 639.5,449.9 647.9,450.4 656.3,451.0 664.7,451.6 673.1,452.2 681.5,452.8 689.9,453.4 698.3,454.1 706.7,454.7 715.1,455.4 723.5,456.1 731.9,456.8 740.3,457.6 748.7,458.4 757.2,459.3 765.8,460.2 774.5,461.2 783.1,462.2 791.7,463.2 800.0,464.2 808.1,465.2 815.9,466.2 823.7,467.2 831.6,468.3 839.5,469.5 847.1,470.6 854.3,471.6 860.6,472.6 865.9,473.4 870.0,474.0" fill="none" stroke="#3a1f1f" stroke-width="1.3" stroke-opacity="0.72" stroke-linejoin="round"/>
<polyline points="179.9,518.5 181.1,517.9 182.7,517.0 184.6,516.1 186.7,515.0 189.0,513.8 191.2,512.6 193.4,511.5 195.5,510.5 197.4,509.5 199.3,508.6 201.3,507.6 203.2,506.7 205.1,505.8 207.0,504.9 209.0,504.0 211.0,503.2 213.0,502.4 215.1,501.6 217.2,500.9 219.4,500.1 221.5,499.4 223.7,498.7 225.8,498.1 228.0,497.5 230.1,496.9 232.2,496.5 234.3,496.0 236.4,495.6 238.6,495.2 240.9,494.8 243.3,494.3 245.8,493.9 248.5,493.4 251.4,493.0 254.3,492.5 257.4,492.0 260.5,491.5 263.7,491.1 266.8,490.7 270.0,490.3 272.9,490.0 275.4,489.6 277.8,489.3 280.3,489.1 283.2,488.8 286.6,488.6 290.8,488.3 296.0,488.1 302.4,487.9 309.9,487.6 318.1,487.4 326.9,487.2 336.1,487.0 345.3,486.8 354.3,486.7 363.0,486.7 371.5,486.7 380.1,486.8 388.9,487.0 397.6,487.2 406.1,487.4 414.4,487.6 422.4,487.7 430.0,487.9 436.9,488.0 443.3,488.1 449.2,488.3 455.0,488.4 460.7,488.5 466.7,488.6 473.0,488.7 480.0,488.8 487.6,488.9 495.6,489.0 503.9,489.1 512.5,489.1 521.3,489.2 530.0,489.3 538.7,489.5 547.2,489.7 555.6,489.9 564.0,490.2 572.5,490.5 580.9,490.9 589.3,491.2 597.7,491.6 606.0,492.1 614.3,492.5 622.7,493.0 631.3,493.5 640.0,494.0 648.5,494.6 656.9,495.1 664.9,495.7 672.4,496.4 679.3,497.0 685.5,497.7 691.0,498.4 696.0,499.1 700.6,499.9 705.1,500.6 709.5,501.4 714.0,502.2 718.7,502.9 723.6,503.6 728.5,504.4 733.4,505.1 738.4,505.8 743.3,506.6 748.2,507.3 753.1,508.1 758.0,508.8 762.9,509.5 767.8,510.3 772.7,511.0 777.6,511.8 782.6,512.5 787.5,513.2 792.4,514.0 797.3,514.7 802.3,515.4 807.3,516.2 812.3,516.9 817.3,517.7 822.3,518.4 827.2,519.2 832.0,519.9 836.6,520.6 841.3,521.3 846.1,522.1 851.0,522.9 855.8,523.7 860.2,524.4 864.1,525.0 867.5,525.6 870.0,526.0" fill="none" stroke="#3a1f1f" stroke-width="1.3" stroke-opacity="0.72" stroke-linejoin="round"/>
<polyline points="229.0,516.5 232.3,516.2 236.5,515.7 241.5,515.2 247.1,514.7 253.3,514.1 259.8,513.5 266.6,513.0 273.6,512.5 280.9,512.1 288.8,511.7 297.1,511.3 305.7,511.0 314.5,510.7 323.3,510.4 332.1,510.2 340.6,510.0 348.9,509.9 357.2,509.8 365.5,509.7 373.8,509.7 382.1,509.7 390.5,509.8 399.0,509.9 407.6,510.0 416.3,510.2 424.9,510.4 433.6,510.6 442.4,510.9 451.4,511.2 460.6,511.6 470.1,512.0 480.0,512.5 490.5,513.0 501.6,513.5 513.2,514.1 524.9,514.7 536.7,515.4 548.1,516.2 559.2,517.0 569.6,518.0 579.4,519.1 588.8,520.3 597.9,521.7 606.7,523.1 615.2,524.6 623.6,526.1 631.8,527.5 640.0,529.0 648.1,530.4 656.2,531.9 664.1,533.3 671.9,534.8 679.4,536.2 686.6,537.8 693.5,539.3 700.0,541.0 706.1,542.8 711.9,544.7 717.3,546.6 722.5,548.6 727.3,550.6 731.9,552.5 736.1,554.3 740.0,556.0 743.5,557.5 746.5,558.9 749.2,560.1 751.6,561.3 753.7,562.5 755.8,563.6 757.9,564.8 760.0,566.0 762.2,567.2 764.3,568.5 766.3,569.8 768.2,571.0 770.1,572.2 771.9,573.5 773.5,574.8 775.0,576.0 776.4,577.3 777.6,578.5 778.7,579.8 779.8,581.1 780.7,582.4 781.5,583.6 782.3,584.8 783.0,586.0 783.5,587.1 783.8,588.2 784.0,589.3 784.1,590.4 784.3,591.4 784.6,592.3 785.1,593.2 786.0,594.0 787.1,594.7 788.4,595.4 789.7,596.0 791.3,596.6 793.1,597.0 795.1,597.4 797.4,597.8 800.0,598.0 802.9,598.1 806.1,598.1 809.6,598.0 813.4,597.9 817.3,597.7 821.4,597.4 825.7,597.2 830.0,597.0 834.8,596.8 840.2,596.5 846.0,596.2 851.9,595.9 857.5,595.6 862.6,595.4 866.8,595.2 870.0,595.0" fill="none" stroke="#3a1f1f" stroke-width="1.3" stroke-opacity="0.72" stroke-linejoin="round"/>
<polyline points="776.0,604.0 777.8,603.9 780.0,603.7 782.7,603.4 785.7,603.2 789.0,602.9 792.6,602.6 796.2,602.3 800.0,602.0 804.0,601.7 808.3,601.3 812.9,600.9 817.7,600.5 822.6,600.1 827.4,599.7 832.1,599.3 836.6,599.0 841.2,598.7 846.0,598.4 850.8,598.1 855.6,597.8 860.1,597.6 864.1,597.3 867.4,597.1 870.0,597.0" fill="none" stroke="#3a1f1f" stroke-width="1.3" stroke-opacity="0.72" stroke-linejoin="round"/>
<ellipse cx="755.6" cy="572.6" rx="8.0" ry="3.5" transform="rotate(18.0 755.6 572.6)" fill="none" stroke="#2a2226" stroke-width="1.3" stroke-opacity="0.85"/>
<ellipse cx="755.0" cy="572.6" rx="14.0" ry="5.5" transform="rotate(18.0 755.0 572.6)" fill="none" stroke="#2a2226" stroke-width="1.3" stroke-opacity="0.85"/>
<ellipse cx="753.0" cy="572.5" rx="19.0" ry="8.0" transform="rotate(18.0 753.0 572.5)" fill="none" stroke="#2a2226" stroke-width="1.3" stroke-opacity="0.85"/>
</g></g>
<rect x="946.6" y="139.3" width="767.9" height="481.2" fill="none" stroke="#000" stroke-width="2.2"/>
<g opacity="0.999"><path d="M951.2 620.5V606.5 M1036.9 620.5V606.5 M1122.6 620.5V606.5 M1208.3 620.5V606.5 M1294.0 620.5V606.5 M1379.7 620.5V606.5 M1465.4 620.5V606.5 M1551.0 620.5V606.5 M1636.7 620.5V606.5 M946.6 594.0H960.6 M946.6 548.0H960.6 M946.6 501.9H960.6 M946.6 455.9H960.6 M946.6 409.8H960.6 M946.6 363.8H960.6 M946.6 317.7H960.6 M946.6 271.6H960.6 M946.6 225.6H960.6 M946.6 179.5H960.6" stroke="#1a1a1a" stroke-width="2.2" fill="none"/>
<text x="0" y="0" font-size="40.00" transform="matrix(1.0373 0 0 1.0519 916.64 660.08)">−10</text>
<text x="0" y="0" font-size="40.00" transform="matrix(1.1071 0 0 1.0519 1026.43 660.08)">0</text>
<text x="0" y="0" font-size="40.00" transform="matrix(0.9543 0 0 1.0519 1106.95 660.08)">10</text>
<text x="0" y="0" font-size="40.00" transform="matrix(1.0492 0 0 1.0519 1188.59 660.08)">20</text>
<text x="0" y="0" font-size="40.00" transform="matrix(1.0164 0 0 1.0519 1275.54 660.08)">30</text>
<text x="0" y="0" font-size="40.00" transform="matrix(1.0532 0 0 1.0519 1358.32 660.08)">40</text>
<text x="0" y="0" font-size="40.00" transform="matrix(1.0750 0 0 1.0519 1443.72 660.08)">50</text>
<text x="0" y="0" font-size="40.00" transform="matrix(1.0326 0 0 1.0519 1531.89 660.08)">60</text>
<text x="0" y="0" font-size="40.00" transform="matrix(1.0475 0 0 1.0519 1613.46 660.08)">70</text>
<text x="0" y="0" font-size="40.00" transform="matrix(1.0250 0 0 1.0609 916.34 607.50)">0</text>
<text x="0" y="0" font-size="40.00" transform="matrix(1.0250 0 0 1.0609 916.34 561.24)">5</text>
<text x="0" y="0" font-size="40.00" transform="matrix(1.0250 0 0 1.0609 895.84 515.40)">10</text>
<text x="0" y="0" font-size="40.00" transform="matrix(1.0250 0 0 1.0609 895.84 469.24)">15</text>
<text x="0" y="0" font-size="40.00" transform="matrix(1.0250 0 0 1.0609 895.84 423.30)">20</text>
<text x="0" y="0" font-size="40.00" transform="matrix(1.0250 0 0 1.0609 895.84 377.14)">25</text>
<text x="0" y="0" font-size="40.00" transform="matrix(1.0250 0 0 1.0609 895.84 331.20)">30</text>
<text x="0" y="0" font-size="40.00" transform="matrix(1.0250 0 0 1.0609 895.84 285.04)">35</text>
<text x="0" y="0" font-size="40.00" transform="matrix(1.0250 0 0 1.0609 895.84 239.10)">40</text>
<text x="0" y="0" font-size="40.00" transform="matrix(1.0250 0 0 1.0609 895.84 192.94)">45</text>
<text x="0" y="0" font-size="40.00" font-style="italic" transform="matrix(1.1722 0 0 1.0598 1287.60 692.50)">x</text>
<text x="0" y="0" font-size="40.00" transform="matrix(1.0836 0 0 1.0656 1308.67 692.61)">, мм</text>
<text x="0" y="0" font-size="40.00" transform="matrix(1.1152 0 0 0.9570 960.99 111.77)">(б)</text>
<rect x="1074.50" y="86.5" width="23.90" height="24.9" fill="#25295f"/>
<rect x="1097.81" y="86.5" width="23.90" height="24.9" fill="#22336e"/>
<rect x="1121.11" y="86.5" width="23.90" height="24.9" fill="#0b4a88"/>
<rect x="1144.41" y="86.5" width="23.90" height="24.9" fill="#136795"/>
<rect x="1167.72" y="86.5" width="23.90" height="24.9" fill="#2b7f9e"/>
<rect x="1191.03" y="86.5" width="23.90" height="24.9" fill="#4694ab"/>
<rect x="1214.33" y="86.5" width="23.90" height="24.9" fill="#5aafc4"/>
<rect x="1237.63" y="86.5" width="23.90" height="24.9" fill="#7ecbd9"/>
<rect x="1260.94" y="86.5" width="23.90" height="24.9" fill="#a9dde4"/>
<rect x="1284.24" y="86.5" width="23.90" height="24.9" fill="#d6ebee"/>
<rect x="1307.55" y="86.5" width="23.90" height="24.9" fill="#f5e6d0"/>
<rect x="1330.86" y="86.5" width="23.90" height="24.9" fill="#f2c6a5"/>
<rect x="1354.16" y="86.5" width="23.90" height="24.9" fill="#eb9e84"/>
<rect x="1377.46" y="86.5" width="23.90" height="24.9" fill="#e47b67"/>
<rect x="1400.77" y="86.5" width="23.90" height="24.9" fill="#d2604d"/>
<rect x="1424.07" y="86.5" width="23.90" height="24.9" fill="#bd4134"/>
<rect x="1447.38" y="86.5" width="23.90" height="24.9" fill="#a72a25"/>
<rect x="1470.68" y="86.5" width="23.90" height="24.9" fill="#8e1f29"/>
<rect x="1493.99" y="86.5" width="23.90" height="24.9" fill="#7a1d3a"/>
<rect x="1517.29" y="86.5" width="23.30" height="24.9" fill="#5a2146"/>
<rect x="1074.5" y="86.5" width="466.1" height="24.9" fill="none" stroke="#000" stroke-width="2.2"/>
<path d="M1074.5 77.5V93.5 M1127.5 77.5V93.5 M1180.4 77.5V93.5 M1233.4 77.5V93.5 M1286.4 77.5V93.5 M1339.3 77.5V93.5 M1392.3 77.5V93.5 M1445.3 77.5V93.5 M1540.6 77.5V93.5" stroke="#1a1a1a" stroke-width="2" fill="none"/>
<text x="0" y="0" font-size="40.00" transform="matrix(0.8627 0 0 0.8259 1039.42 66.87)">−50</text>
<text x="0" y="0" font-size="40.00" transform="matrix(0.8929 0 0 0.8259 1117.57 66.87)">0</text>
<text x="0" y="0" font-size="40.00" transform="matrix(0.8278 0 0 0.8259 1165.21 66.87)">50</text>
<text x="0" y="0" font-size="40.00" transform="matrix(0.7909 0 0 0.8148 1211.46 71.87)">100</text>
<text x="0" y="0" font-size="40.00" transform="matrix(0.7782 0 0 0.8148 1261.85 71.87)">150</text>
<text x="0" y="0" font-size="40.00" transform="matrix(0.8304 0 0 0.8148 1312.71 71.87)">200</text>
<text x="0" y="0" font-size="40.00" transform="matrix(0.8375 0 0 0.8148 1367.89 71.87)">250</text>
<text x="0" y="0" font-size="40.00" transform="matrix(0.8375 0 0 0.8148 1424.09 71.87)">300</text>
<text x="0" y="0" font-size="40.00" transform="matrix(0.8357 0 0 0.8148 1513.95 71.87)">390</text>
<text x="0" y="0" font-size="40.00" font-style="italic" transform="matrix(0.7939 0 0 0.8321 1262.11 27.80)">V</text>
<text x="0" y="0" font-size="40.00" font-style="italic" transform="matrix(0.7556 0 0 0.6576 1277.75 35.10)">x</text>
<text x="0" y="0" font-size="40.00" transform="matrix(0.9188 0 0 0.8704 1292.83 28.68)">, м/с</text></g>
<clipPath id="clipc"><rect x="95.2" y="853.1" width="771.0" height="482.9"/></clipPath>
<g clip-path="url(#clipc)"><g transform="translate(0.0 715.0)">
<rect x="90" y="130" width="782" height="510" fill="#b5644f"/>
<polygon points="161.6,130.0 872.0,130.0 872.0,160.0 866.0,160.0 865.4,160.5 864.7,160.8 863.8,161.3 862.8,161.9 861.7,162.8 860.6,164.1 859.5,165.9 858.4,168.3 857.4,171.6 856.3,175.7 855.3,180.3 854.2,185.4 853.1,190.5 851.9,195.5 850.7,200.2 849.5,204.2 848.2,207.6 846.8,210.7 845.4,213.6 843.9,216.2 842.4,218.8 841.0,221.3 839.6,223.9 838.3,226.6 837.1,229.3 836.0,231.9 835.0,234.5 833.9,237.1 832.9,239.8 831.8,242.6 830.6,245.7 829.3,249.0 827.8,252.7 826.1,256.6 824.3,260.7 822.5,265.1 820.6,269.4 818.9,273.9 817.3,278.2 815.9,282.5 814.7,286.7 813.7,290.9 812.8,295.1 812.0,299.3 811.3,303.5 810.6,307.7 809.9,311.9 809.2,316.1 808.5,320.3 807.9,324.6 807.3,328.8 806.7,333.1 806.1,337.3 805.6,341.5 805.1,345.7 804.7,349.7 804.3,353.6 804.1,357.3 803.9,360.9 803.7,364.4 803.5,368.1 803.3,371.8 802.9,375.8 802.4,380.0 801.7,384.5 800.8,389.1 799.7,393.9 798.6,398.8 797.6,403.9 796.6,409.1 795.7,414.5 795.0,420.0 794.7,425.9 794.7,432.2 794.9,438.8 795.2,445.5 795.3,452.1 795.2,458.4 794.7,464.3 793.5,469.6 791.7,474.4 789.2,478.9 786.4,483.0 783.3,486.9 780.0,490.4 776.8,493.5 773.7,496.3 771.0,498.7 768.7,500.6 766.8,501.9 765.0,502.7 763.3,503.3 761.4,503.6 759.2,503.9 756.5,504.2 753.2,504.6 749.2,505.1 744.6,505.5 739.5,505.8 734.1,506.1 728.5,506.4 722.9,506.7 717.4,507.0 712.1,507.4 707.0,507.9 701.8,508.4 696.7,509.0 691.6,509.5 686.5,510.1 681.4,510.6 676.2,511.1 671.1,511.5 666.0,511.8 661.0,512.1 656.1,512.3 651.1,512.4 646.1,512.6 640.9,512.7 635.6,512.8 630.0,513.0 624.2,513.2 618.4,513.4 612.3,513.6 606.2,513.8 599.9,513.9 593.4,514.1 586.8,514.3 580.0,514.5 572.9,514.7 565.5,514.9 557.8,515.0 550.0,515.2 542.2,515.4 534.5,515.6 527.1,515.8 520.0,516.0 512.9,516.2 505.6,516.5 498.3,516.8 491.2,517.1 484.6,517.4 478.8,517.6 473.8,517.8 470.0,518.0 470.0,540.0 206.0,540.0 206.0,516.5 205.9,514.9 205.7,512.7 205.4,510.2 205.2,507.4 204.9,504.3 204.6,501.1 204.3,497.9 204.0,494.8 203.7,491.6 203.4,488.2 203.0,484.8 202.7,481.3 202.3,477.7 202.0,474.1 201.6,470.6 201.3,467.1 200.9,463.6 200.6,460.2 200.2,456.7 199.9,453.2 199.5,449.8 199.2,446.3 198.8,442.9 198.5,439.4 198.2,435.9 197.8,432.5 197.5,429.0 197.2,425.6 196.9,422.1 196.6,418.6 196.2,415.2 195.7,411.7 195.2,408.2 194.7,404.6 194.0,401.0 193.4,397.4 192.8,393.8 192.1,390.4 191.5,387.1 191.0,384.0 190.4,381.2 189.9,378.8 189.4,376.5 189.0,374.3 188.5,372.0 188.1,369.7 187.6,367.1 187.1,364.3 186.7,361.0 186.2,357.6 185.7,353.9 185.2,350.1 184.8,346.2 184.3,342.3 183.8,338.4 183.4,334.6 182.9,330.9 182.5,327.3 182.0,323.7 181.6,320.0 181.1,316.3 180.6,312.4 180.1,308.3 179.6,304.0 179.1,299.2 178.5,294.1 178.0,288.8 177.4,283.3 176.8,277.8 176.2,272.3 175.6,267.0 175.0,262.0 174.4,257.3 173.8,252.8 173.3,248.5 172.7,244.3 172.1,240.0 171.5,235.6 170.9,231.0 170.3,226.0 169.6,220.6 168.9,214.9 168.1,208.9 167.4,202.8 166.6,196.6 165.9,190.5 165.3,184.6 164.7,179.0 164.1,173.4 163.7,167.6 163.2,161.7 162.8,156.1 162.4,150.8 162.1,146.0 161.8,142.0 161.6,139.0" fill="#a84d3b"/>
<polygon points="246.5,130.0 608.8,130.0 608.8,137.0 608.4,140.5 607.8,145.1 607.2,150.5 606.4,156.6 605.6,163.0 604.8,169.6 604.0,175.9 603.2,181.8 602.4,187.5 601.6,193.3 600.7,199.1 599.9,204.9 599.0,210.6 598.1,216.2 597.3,221.5 596.4,226.6 595.5,231.3 594.6,235.8 593.6,240.0 592.7,244.1 591.8,248.1 591.0,252.1 590.3,256.1 589.7,260.2 589.2,264.4 588.9,268.7 588.6,273.0 588.4,277.2 588.3,281.5 588.3,285.6 588.4,289.7 588.6,293.7 588.9,297.6 589.4,301.5 590.0,305.3 590.6,309.1 591.4,312.7 592.2,316.3 593.2,319.6 594.2,322.8 595.3,325.8 596.4,328.8 597.6,331.6 598.9,334.3 600.3,336.8 601.8,339.1 603.5,341.2 605.4,343.0 607.5,344.5 609.8,345.5 612.4,346.3 615.0,346.9 617.7,347.5 620.4,348.0 623.0,348.7 625.5,349.7 627.9,350.8 630.3,352.0 632.7,353.2 635.1,354.5 637.3,355.9 639.5,357.4 641.6,359.1 643.5,360.9 645.2,362.8 646.6,364.6 647.9,366.6 649.1,368.7 650.3,371.0 651.6,373.6 653.0,376.6 654.7,380.0 656.7,384.0 658.9,388.7 661.3,393.8 663.8,399.2 666.2,404.7 668.6,410.0 670.8,415.0 672.8,419.5 674.5,423.5 676.1,427.2 677.6,430.7 678.9,434.0 680.2,437.2 681.4,440.4 682.6,443.6 683.8,447.0 685.0,450.5 686.3,454.1 687.6,457.8 688.8,461.4 689.8,464.9 690.8,468.3 691.5,471.5 692.0,474.4 692.4,477.0 692.7,479.4 692.9,481.6 692.9,483.7 692.6,485.6 692.0,487.4 690.9,489.2 689.3,490.9 687.1,492.6 684.3,494.2 681.0,495.6 677.4,497.0 673.5,498.4 669.6,499.6 665.6,500.8 661.8,501.9 658.2,502.9 654.6,503.8 651.0,504.7 647.3,505.4 643.4,506.2 639.3,506.8 634.9,507.4 630.0,508.0 624.7,508.5 619.0,509.0 613.0,509.4 606.8,509.7 600.3,510.0 593.6,510.3 586.9,510.6 580.0,511.0 572.9,511.4 565.5,511.8 557.8,512.1 550.0,512.5 542.2,512.9 534.5,513.2 527.1,513.6 520.0,514.0 512.9,514.4 505.6,514.8 498.3,515.3 491.2,515.7 484.6,516.1 478.8,516.5 473.8,516.8 470.0,517.0 470.0,540.0 214.7,540.0 214.7,516.5 214.5,514.9 214.3,512.7 213.9,510.2 213.6,507.4 213.3,504.3 213.0,501.1 212.8,497.9 212.6,494.8 212.6,491.6 212.6,488.2 212.7,484.8 212.9,481.3 213.0,477.7 213.2,474.1 213.4,470.6 213.6,467.1 213.7,463.6 213.9,460.2 214.1,456.7 214.3,453.2 214.6,449.8 214.8,446.3 215.0,442.9 215.2,439.4 215.4,435.9 215.6,432.5 215.7,429.0 215.9,425.6 216.1,422.1 216.3,418.6 216.5,415.2 216.7,411.7 217.0,408.3 217.3,405.0 217.6,401.6 217.9,398.3 218.2,394.9 218.4,391.4 218.7,387.8 219.0,384.0 219.2,380.0 219.3,375.8 219.5,371.5 219.6,367.1 219.7,362.6 219.9,358.2 220.0,353.8 220.2,349.4 220.5,345.3 220.7,341.2 220.9,337.2 221.2,333.3 221.5,329.2 221.8,325.0 222.2,320.5 222.7,315.8 223.3,310.8 224.0,305.4 224.7,299.8 225.4,294.1 226.2,288.3 227.1,282.5 227.9,276.7 228.7,271.0 229.5,265.4 230.4,259.7 231.3,254.1 232.3,248.4 233.2,242.8 234.1,237.2 234.9,231.6 235.8,226.0 236.6,220.4 237.4,214.9 238.1,209.4 238.9,203.9 239.6,198.4 240.3,192.9 241.0,187.4 241.7,182.0 242.3,176.3 243.0,170.2 243.8,163.9 244.4,157.8 245.1,151.9 245.7,146.7 246.1,142.3 246.5,139.0" fill="#96322a"/>
<polygon points="333.6,130.0 559.5,130.0 559.5,137.0 559.7,145.5 559.9,156.7 560.3,170.0 560.6,184.8 560.9,200.7 561.3,217.0 561.5,233.3 561.7,249.0 561.8,264.9 561.8,281.9 561.8,299.5 561.8,317.3 561.7,334.7 561.7,351.3 561.7,366.6 561.7,380.0 561.7,391.7 561.7,402.3 561.7,411.8 561.7,420.3 561.7,428.0 562.0,434.9 562.4,441.2 563.0,447.0 563.8,452.0 564.8,455.9 565.9,458.9 567.2,461.3 568.7,463.3 570.3,465.1 572.0,467.0 574.0,469.0 576.3,471.1 579.1,473.0 582.1,474.7 585.3,476.4 588.4,477.9 591.3,479.5 593.9,481.0 595.9,482.7 597.6,484.4 599.1,486.2 600.4,488.0 601.4,489.7 602.1,491.5 602.3,493.2 602.1,494.8 601.4,496.4 600.2,497.9 598.5,499.5 596.4,501.0 593.8,502.4 590.9,503.8 587.5,505.1 583.6,506.3 579.4,507.4 574.6,508.4 569.2,509.2 563.3,510.0 557.1,510.6 550.5,511.3 543.7,511.8 536.9,512.4 530.0,513.0 522.6,513.6 514.3,514.2 505.6,514.8 496.9,515.4 488.6,515.9 481.0,516.3 474.7,516.7 470.0,517.0 470.0,540.0 219.0,540.0 219.0,516.5 219.1,514.9 219.2,512.7 219.3,510.2 219.4,507.4 219.5,504.3 219.7,501.1 220.0,497.9 220.3,494.8 220.7,491.5 221.2,488.0 221.7,484.4 222.3,480.7 222.9,477.1 223.6,473.5 224.2,470.1 224.8,467.1 225.3,464.3 225.9,461.9 226.5,459.6 227.0,457.5 227.6,455.4 228.2,453.2 228.8,450.9 229.4,448.3 230.0,445.5 230.6,442.5 231.2,439.5 231.9,436.3 232.5,433.1 233.2,429.9 233.9,426.7 234.6,423.6 235.4,420.5 236.3,417.4 237.1,414.3 238.0,411.2 239.0,408.1 239.9,405.0 240.9,401.9 241.8,398.9 242.8,395.8 243.8,392.8 244.8,389.8 245.8,386.8 246.8,383.8 247.9,380.7 249.0,377.5 250.0,374.1 251.1,370.7 252.3,367.1 253.4,363.3 254.6,359.6 255.8,355.8 257.0,351.9 258.1,348.2 259.3,344.5 260.4,341.0 261.4,337.6 262.5,334.4 263.5,331.1 264.6,327.7 265.7,324.1 267.1,320.2 268.5,315.8 270.2,311.0 272.0,305.8 273.9,300.2 276.0,294.4 278.1,288.5 280.2,282.6 282.4,276.7 284.5,271.0 286.7,265.4 288.9,259.7 291.3,254.1 293.6,248.4 295.9,242.8 298.2,237.2 300.5,231.6 302.7,226.0 304.8,220.4 306.9,214.9 308.9,209.4 310.9,203.9 312.8,198.4 314.8,192.9 316.7,187.4 318.6,182.0 320.7,176.3 322.8,170.2 325.0,163.9 327.1,157.8 329.1,151.9 330.9,146.7 332.5,142.3 333.6,139.0" fill="#88221e"/>
<polygon points="417.3,130.0 545.0,130.0 545.0,137.0 545.2,145.9 545.3,158.2 545.6,172.8 545.8,188.8 546.1,205.4 546.4,221.5 546.8,236.4 547.2,249.0 547.7,259.5 548.2,269.0 548.8,277.6 549.5,285.5 550.1,293.1 550.7,300.5 551.2,308.1 551.7,316.0 552.1,324.1 552.5,332.1 552.9,340.1 553.2,348.0 553.5,355.9 553.7,363.9 553.8,371.9 553.9,380.0 553.8,388.3 553.7,396.8 553.4,405.4 553.1,414.1 552.8,422.6 552.4,431.0 552.2,439.2 552.0,447.0 552.1,454.7 552.4,462.6 552.8,470.4 553.3,478.0 553.5,485.1 553.5,491.6 553.0,497.3 552.0,501.9 550.6,505.3 548.9,507.7 547.0,509.2 544.8,510.1 542.0,510.6 538.7,510.9 534.7,511.3 530.0,512.0 523.9,512.9 516.3,513.7 507.6,514.5 498.6,515.1 489.8,515.7 481.7,516.2 474.9,516.6 470.0,517.0 470.0,540.0 222.0,540.0 222.0,516.5 222.4,514.9 222.8,512.7 223.3,510.2 223.9,507.4 224.6,504.3 225.4,501.1 226.2,497.9 227.0,494.8 228.0,491.6 229.0,488.2 230.0,484.8 231.2,481.3 232.4,477.7 233.6,474.1 234.9,470.6 236.3,467.1 237.6,463.6 239.1,460.2 240.5,456.7 242.1,453.2 243.6,449.8 245.2,446.3 246.8,442.9 248.5,439.4 250.2,435.9 251.9,432.5 253.7,429.1 255.5,425.7 257.3,422.2 259.1,418.8 260.9,415.3 262.7,411.7 264.5,408.1 266.3,404.3 268.1,400.5 269.9,396.7 271.7,392.9 273.5,389.2 275.2,385.5 277.0,382.1 278.7,378.7 280.4,375.5 282.1,372.3 283.8,369.3 285.4,366.2 287.0,363.3 288.6,360.3 290.2,357.3 291.7,354.4 293.1,351.4 294.4,348.5 295.7,345.6 297.0,342.8 298.4,340.0 299.8,337.2 301.4,334.6 302.9,332.2 304.5,330.2 306.0,328.4 307.6,326.6 309.3,324.6 311.2,322.3 313.2,319.4 315.5,315.8 318.1,311.5 321.0,306.4 324.0,300.9 327.2,295.0 330.5,289.0 333.9,282.8 337.1,276.8 340.3,271.0 343.4,265.4 346.4,259.7 349.5,254.1 352.5,248.4 355.6,242.8 358.7,237.2 361.9,231.6 365.3,226.0 368.8,220.4 372.5,214.9 376.3,209.4 380.1,203.9 383.9,198.4 387.7,192.9 391.3,187.4 394.6,182.0 398.0,176.3 401.3,170.2 404.6,163.9 407.8,157.8 410.8,151.9 413.4,146.7 415.6,142.3 417.3,139.0" fill="#701e22"/>
<polygon points="476.0,180.0 477.5,178.5 479.5,176.5 481.9,174.0 484.5,171.4 487.3,168.7 490.0,166.1 492.6,163.8 495.0,162.0 497.1,160.6 499.2,159.3 501.3,158.1 503.2,157.2 505.2,156.5 507.1,156.0 508.9,155.9 510.8,156.0 512.6,156.4 514.5,157.0 516.3,157.9 518.1,159.1 519.9,160.5 521.5,162.3 523.1,164.5 524.5,167.0 525.8,169.9 527.0,173.2 528.1,176.8 529.2,180.7 530.1,185.0 531.0,189.6 531.9,194.6 532.8,199.9 533.6,205.7 534.4,212.1 535.2,218.9 535.9,226.0 536.6,233.2 537.2,240.6 537.8,247.8 538.3,254.8 538.8,261.7 539.2,268.5 539.6,275.4 539.9,282.2 540.2,289.1 540.5,296.0 540.7,302.8 541.0,309.7 541.3,316.6 541.5,323.4 541.7,330.3 542.0,337.1 542.1,344.0 542.3,350.9 542.4,357.7 542.4,364.6 542.4,371.5 542.3,378.3 542.1,385.2 542.0,392.1 541.7,398.9 541.5,405.8 541.3,412.6 541.0,419.5 540.7,426.5 540.4,433.9 540.1,441.3 539.7,448.7 539.4,455.8 539.0,462.6 538.7,468.8 538.3,474.4 538.0,479.3 537.9,483.6 537.8,487.5 537.7,490.9 537.5,494.1 537.1,496.9 536.5,499.5 535.5,501.9 534.4,504.0 533.3,505.8 532.1,507.2 530.7,508.4 528.9,509.4 526.6,510.2 523.7,511.1 520.0,512.0 515.1,512.9 508.8,513.7 501.6,514.5 494.0,515.1 486.6,515.7 479.8,516.2 474.1,516.6 470.0,517.0 470.0,540.0 223.0,540.0 223.0,519.0 223.2,518.7 223.4,518.5 223.6,518.3 223.9,518.0 224.2,517.5 224.7,516.7 225.3,515.6 226.0,514.0 226.9,511.9 227.9,509.5 229.1,506.6 230.3,503.5 231.6,500.2 233.1,496.8 234.5,493.4 236.0,490.0 237.5,486.6 238.9,483.2 240.3,479.6 241.9,476.0 243.5,472.3 245.4,468.5 247.6,464.7 250.0,460.7 252.8,456.6 256.0,452.4 259.5,448.0 263.2,443.6 267.0,439.2 270.7,434.7 274.5,430.3 278.0,426.0 281.4,421.7 284.8,417.5 288.2,413.2 291.5,409.0 294.8,404.8 298.2,400.6 301.5,396.3 304.9,392.1 308.3,387.9 311.6,383.6 315.0,379.3 318.4,375.1 321.8,370.8 325.2,366.6 328.6,362.3 332.0,358.0 335.4,353.7 338.9,349.4 342.4,345.1 345.9,340.7 349.4,336.4 352.9,332.0 356.3,327.7 359.8,323.4 363.2,319.1 366.6,314.8 370.0,310.5 373.4,306.2 376.8,301.9 380.2,297.6 383.6,293.3 387.0,289.0 390.5,284.7 393.9,280.4 397.5,276.1 401.0,271.8 404.5,267.5 407.9,263.2 411.3,259.0 414.7,254.8 417.9,250.7 421.1,246.6 424.2,242.5 427.2,238.5 430.3,234.5 433.4,230.4 436.6,226.2 440.0,222.0 443.6,217.5 447.5,212.7 451.6,207.7 455.7,202.8 459.7,198.0 463.4,193.5 466.8,189.5 469.6,186.2 471.9,183.5 473.8,181.4 475.4,179.7 476.6,178.4 477.7,177.3 478.6,176.4 479.3,175.7 480.0,175.0" fill="#592334"/>
<polygon points="232.0,519.0 232.5,518.5 233.1,517.8 233.7,517.0 234.5,516.1 235.5,515.2 236.7,514.1 238.2,513.1 240.0,512.0 242.1,511.1 244.4,510.4 247.0,509.8 249.8,509.1 252.8,508.1 256.2,506.7 259.8,504.7 263.7,501.9 268.0,498.3 272.8,494.1 277.9,489.3 283.2,484.1 288.7,478.5 294.2,472.7 299.6,466.7 304.9,460.7 310.0,454.3 315.2,447.2 320.3,439.7 325.5,432.0 330.6,424.6 335.8,417.5 340.9,411.2 346.1,405.8 351.4,401.4 356.9,397.7 362.4,394.7 367.9,392.1 373.3,389.8 378.4,387.7 383.1,385.8 387.3,383.8 391.0,381.9 394.4,380.1 397.4,378.5 400.1,377.1 402.6,375.9 404.9,374.8 407.1,373.8 409.2,372.9 411.1,372.1 412.8,371.5 414.2,371.0 415.6,370.6 416.8,370.4 417.9,370.2 419.0,370.1 420.2,370.1 421.3,370.3 422.3,370.8 423.2,371.5 424.1,372.2 425.0,372.8 426.0,373.2 427.1,373.3 428.4,372.9 429.8,372.0 431.1,370.7 432.6,369.1 434.1,367.2 435.8,365.2 437.7,363.1 439.8,361.1 442.2,359.1 445.0,357.1 448.2,355.0 451.7,352.8 455.4,350.6 459.1,348.4 462.8,346.3 466.3,344.4 469.6,342.7 472.7,341.2 475.7,339.8 478.6,338.5 481.5,337.3 484.2,336.3 486.8,335.5 489.3,334.9 491.6,334.4 493.8,334.1 495.8,334.1 497.8,334.2 499.6,334.4 501.2,334.9 502.7,335.5 504.1,336.3 505.3,337.2 506.3,338.2 507.0,339.2 507.5,340.3 508.0,341.6 508.3,343.3 508.6,345.3 509.0,347.8 509.4,350.9 509.9,354.6 510.4,358.9 510.9,363.7 511.4,368.9 511.9,374.4 512.4,380.2 512.9,386.1 513.5,392.1 514.1,398.4 514.8,405.2 515.6,412.3 516.3,419.6 517.1,426.8 517.8,433.9 518.4,440.7 519.0,447.0 519.6,453.0 520.2,458.8 520.7,464.4 521.3,469.8 521.7,475.0 521.9,479.8 522.0,484.2 521.8,488.2 521.4,491.7 520.9,494.8 520.2,497.5 519.3,499.9 518.2,502.0 516.9,503.9 515.3,505.7 513.5,507.4 511.3,508.9 508.8,510.2 506.1,511.3 503.1,512.2 500.0,513.0 496.7,513.7 493.4,514.3 490.0,515.0 486.4,515.6 482.3,516.1 477.9,516.6 473.5,517.0 469.3,517.3 465.5,517.6 462.4,517.8 460.0,518.0 460.0,540.0 232.0,540.0" fill="#462336"/>
<polygon points="90.0,346.2 95.0,346.2 95.5,346.1 96.1,346.0 96.8,345.7 97.6,345.6 98.6,345.6 99.6,345.8 100.7,346.4 102.0,347.6 103.4,349.2 105.0,351.4 106.7,353.9 108.5,356.8 110.4,359.7 112.3,362.7 114.1,365.6 115.9,368.2 117.6,370.7 119.3,373.1 120.9,375.4 122.6,377.8 124.3,380.1 126.0,382.5 127.9,385.0 129.8,387.5 131.9,390.1 134.1,392.9 136.5,395.6 138.8,398.5 141.2,401.3 143.6,404.1 145.8,406.8 147.9,409.4 149.9,412.0 151.7,414.4 153.5,416.9 155.3,419.2 157.0,421.6 158.6,424.0 160.2,426.3 161.8,428.7 163.3,431.1 164.9,433.6 166.3,436.1 167.8,438.5 169.1,441.0 170.5,443.4 171.8,445.7 173.0,448.0 174.2,450.2 175.3,452.2 176.3,454.3 177.3,456.2 178.3,458.2 179.3,460.2 180.3,462.3 181.3,464.5 182.4,466.8 183.5,469.2 184.6,471.6 185.7,474.1 186.8,476.5 187.8,479.0 188.8,481.4 189.7,483.8 190.5,486.1 191.3,488.4 192.1,490.7 192.8,493.0 193.5,495.2 194.1,497.4 194.7,499.6 195.2,501.7 195.7,503.8 196.2,505.9 196.6,508.1 196.9,510.2 197.3,512.2 197.6,513.9 197.8,515.4 198.0,516.5 198.0,540.0 90.0,540.0" fill="#bd7f69"/>
<polygon points="90.0,439.8 95.0,439.8 95.6,439.7 96.3,439.6 97.1,439.4 98.0,439.2 99.1,439.1 100.3,439.1 101.8,439.3 103.4,439.8 105.3,440.5 107.4,441.5 109.8,442.6 112.3,443.9 114.9,445.2 117.6,446.6 120.2,448.0 122.8,449.4 125.4,450.7 128.0,452.0 130.7,453.4 133.3,454.7 136.0,456.1 138.6,457.6 141.2,459.0 143.7,460.4 146.1,461.9 148.5,463.4 150.9,465.0 153.2,466.5 155.4,468.1 157.6,469.7 159.8,471.3 161.8,472.8 163.8,474.3 165.7,475.9 167.6,477.4 169.4,479.0 171.1,480.5 172.7,482.1 174.3,483.6 175.7,485.2 177.0,486.7 178.3,488.3 179.4,489.9 180.4,491.4 181.4,493.0 182.3,494.5 183.2,496.0 184.1,497.5 185.0,499.0 185.8,500.5 186.5,501.9 187.2,503.3 187.9,504.7 188.6,506.1 189.2,507.4 189.7,508.6 190.2,509.8 190.7,511.0 191.1,512.1 191.4,513.2 191.8,514.3 192.1,515.2 192.3,515.9 192.5,516.5 192.5,540.0 90.0,540.0" fill="#c29c80"/>
<ellipse cx="161.7" cy="516.0" rx="14.5" ry="10.0" fill="#c8beaa"/>
<polygon points="261.0,516.0 260.9,515.9 260.7,515.7 260.4,515.5 260.5,515.2 261.0,514.8 262.3,514.3 264.6,513.6 267.7,512.6 271.3,511.5 275.0,510.5 278.6,509.7 281.7,509.2 284.2,509.2 286.3,509.5 288.3,510.1 290.3,510.7 292.5,511.1 295.0,511.2 298.0,510.9 301.3,510.5 304.7,509.8 308.3,509.2 311.7,508.5 315.0,507.9 318.1,507.3 321.0,506.7 323.9,506.1 326.8,505.5 329.6,505.2 332.4,505.2 335.0,505.6 337.4,506.4 339.8,507.5 342.3,508.5 345.1,509.4 348.4,509.9 352.3,510.0 356.7,509.8 361.4,509.5 366.2,509.1 370.8,508.7 375.0,508.5 378.7,508.4 382.2,508.4 385.4,508.4 388.6,508.4 391.7,508.4 395.0,508.5 398.3,508.6 401.4,508.6 404.6,508.7 407.8,508.8 411.3,509.0 415.0,509.2 419.2,509.5 423.9,509.8 428.8,510.1 433.6,510.5 438.0,510.8 441.8,511.2 444.9,511.6 447.7,512.0 450.1,512.5 452.1,512.9 453.7,513.2 455.0,513.5 455.0,640.0 261.0,640.0" fill="#96322a"/>
<polygon points="261.0,516.0 261.0,515.9 260.8,515.7 260.6,515.6 260.4,515.4 260.4,515.1 260.7,514.9 261.3,514.6 262.3,514.3 263.9,513.9 266.0,513.5 268.5,512.9 271.3,512.4 274.1,511.9 276.9,511.5 279.4,511.2 281.7,511.0 283.6,511.0 285.3,511.3 286.8,511.6 288.3,512.0 289.8,512.4 291.3,512.7 293.1,513.0 295.0,513.0 297.2,512.8 299.6,512.5 302.1,512.1 304.7,511.6 307.4,511.1 310.0,510.6 312.6,510.1 315.0,509.7 317.3,509.3 319.6,508.8 321.8,508.3 323.9,507.9 326.1,507.4 328.2,507.1 330.3,507.0 332.4,507.0 334.4,507.3 336.2,507.8 338.0,508.5 339.8,509.3 341.7,510.1 343.7,510.8 345.9,511.4 348.4,511.7 351.3,511.8 354.5,511.7 357.9,511.6 361.4,511.3 365.0,511.0 368.6,510.7 371.9,510.4 375.0,510.3 377.8,510.2 380.5,510.2 383.0,510.2 385.4,510.2 387.8,510.2 390.2,510.2 392.5,510.3 395.0,510.3 397.5,510.3 399.8,510.4 402.2,510.5 404.6,510.5 407.0,510.6 409.5,510.7 412.2,510.8 415.0,511.0 418.1,511.2 421.5,511.4 425.1,511.7 428.8,512.0 432.4,512.3 435.9,512.6 439.1,512.8 441.8,513.0 444.2,513.1 446.2,513.3 448.1,513.3 449.8,513.4 451.2,513.5 452.6,513.5 453.8,513.5 455.0,513.5 455.5,513.5 455.2,513.4 454.4,513.3 453.7,513.2 453.4,513.2 454.1,513.1 456.1,513.0 460.0,513.0 466.0,513.0 473.8,513.1 483.0,513.1 493.2,513.2 503.8,513.3 514.4,513.4 524.7,513.4 534.0,513.5 542.7,513.6 551.2,513.6 559.6,513.7 567.9,513.7 576.0,513.8 584.1,513.8 592.1,513.9 600.0,514.0 607.8,514.1 615.4,514.2 622.9,514.3 630.4,514.3 637.8,514.5 645.1,514.6 652.5,514.8 660.0,515.0 667.6,515.3 675.2,515.7 682.9,516.1 690.6,516.5 698.2,516.9 705.7,517.3 713.0,517.7 720.0,518.0 726.8,518.2 733.4,518.4 739.9,518.6 746.2,518.8 752.4,518.9 758.4,518.9 764.3,519.0 770.0,519.0 775.3,519.0 780.2,518.9 784.8,518.9 789.2,518.8 793.8,518.6 798.7,518.4 804.0,518.2 810.0,518.0 817.1,517.7 825.4,517.3 834.4,516.9 843.5,516.4 852.3,516.0 860.3,515.6 867.1,515.2 872.0,515.0 874.0,515.0 874.0,607.3 872.0,607.3 867.3,607.5 860.7,607.7 852.9,608.0 844.7,608.2 836.8,608.5 830.0,608.8 824.1,609.1 818.6,609.4 813.4,609.7 808.6,609.9 804.1,610.2 800.0,610.3 796.3,610.3 793.0,610.2 790.0,610.0 787.5,609.8 785.3,609.8 783.5,610.0 782.2,610.2 781.5,610.2 781.2,610.4 781.1,610.9 781.1,612.0 781.0,614.0 780.9,617.4 780.8,622.0 780.8,627.2 780.9,632.4 781.0,636.9 781.0,640.0 261.0,640.0" fill="#bd7f69"/>
<polygon points="261.0,516.0 261.0,515.9 260.8,515.8 260.6,515.6 260.4,515.4 260.4,515.2 260.7,515.0 261.3,514.8 262.3,514.5 263.9,514.2 266.0,513.8 268.5,513.3 271.3,512.8 274.1,512.4 276.9,512.0 279.4,511.7 281.7,511.6 283.6,511.6 285.3,511.8 286.8,512.1 288.3,512.5 289.8,512.8 291.3,513.1 293.1,513.3 295.0,513.4 297.2,513.2 299.6,512.9 302.1,512.6 304.7,512.2 307.4,511.7 310.0,511.3 312.6,510.8 315.0,510.5 317.3,510.1 319.6,509.7 321.8,509.2 323.9,508.8 326.1,508.5 328.2,508.2 330.3,508.1 332.4,508.1 334.4,508.3 336.2,508.8 338.0,509.4 339.8,510.1 341.7,510.8 343.7,511.4 345.9,511.9 348.4,512.2 351.3,512.3 354.5,512.3 357.9,512.1 361.4,511.9 365.0,511.6 368.6,511.3 371.9,511.1 375.0,511.0 377.8,510.9 380.5,510.9 383.0,510.9 385.4,510.9 387.8,510.9 390.2,510.9 392.5,510.9 395.0,511.0 397.5,511.0 399.8,511.1 402.2,511.2 404.6,511.2 407.0,511.3 409.5,511.4 412.2,511.6 415.0,511.7 418.1,511.9 421.5,512.1 425.1,512.4 428.8,512.7 432.4,512.9 435.9,513.2 439.1,513.4 441.8,513.6 444.2,513.8 446.2,513.9 448.1,514.0 449.8,514.1 451.2,514.1 452.6,514.2 453.8,514.2 455.0,514.2 455.5,514.2 455.2,514.1 454.4,514.0 453.7,513.8 453.4,513.7 454.1,513.6 456.1,513.6 460.0,513.6 466.0,513.7 473.8,513.8 483.0,513.9 493.2,514.1 503.8,514.3 514.4,514.5 524.7,514.7 534.0,515.0 542.7,515.3 551.2,515.6 559.6,516.0 567.9,516.4 576.0,516.8 584.1,517.2 592.1,517.6 600.0,518.0 607.8,518.4 615.4,518.7 622.9,519.0 630.4,519.3 637.8,519.7 645.1,520.0 652.5,520.5 660.0,521.0 667.6,521.6 675.2,522.4 682.9,523.2 690.6,524.0 698.2,524.8 705.7,525.6 713.0,526.4 720.0,527.0 726.8,527.5 733.4,528.0 739.9,528.5 746.2,528.8 752.4,529.2 758.4,529.5 764.3,529.8 770.0,530.0 775.3,530.2 780.2,530.4 784.8,530.6 789.2,530.7 793.8,530.8 798.7,530.8 804.0,530.7 810.0,530.5 817.1,530.2 825.4,529.7 834.4,529.2 843.5,528.5 852.3,527.9 860.3,527.3 867.1,526.8 872.0,526.5 874.0,526.5 874.0,603.2 872.0,603.2 867.3,603.4 860.7,603.6 852.9,603.9 844.7,604.1 836.8,604.4 830.0,604.7 824.2,604.9 818.6,605.1 813.4,605.3 808.6,605.6 804.1,605.9 800.0,606.2 796.2,606.6 792.8,607.1 789.7,607.6 787.0,608.2 784.8,608.8 782.9,609.4 781.6,609.8 780.9,610.0 780.6,610.3 780.5,610.8 780.5,612.0 780.4,614.0 780.3,617.4 780.2,622.0 780.2,627.3 780.3,632.5 780.4,636.9 780.4,640.0 261.0,640.0" fill="#c29c80"/>
<polygon points="261.0,516.0 261.0,515.9 260.8,515.8 260.6,515.7 260.4,515.5 260.4,515.3 260.7,515.1 261.3,514.9 262.3,514.7 263.9,514.4 266.0,514.0 268.5,513.6 271.3,513.2 274.1,512.8 276.9,512.5 279.4,512.2 281.7,512.1 283.6,512.1 285.3,512.3 286.8,512.6 288.3,512.9 289.8,513.2 291.3,513.5 293.1,513.6 295.0,513.7 297.2,513.5 299.6,513.3 302.1,513.0 304.7,512.6 307.4,512.2 310.0,511.8 312.6,511.4 315.0,511.1 317.3,510.8 319.6,510.4 321.8,510.0 323.9,509.6 326.1,509.3 328.2,509.1 330.3,509.0 332.4,509.0 334.4,509.2 336.2,509.6 338.0,510.1 339.8,510.7 341.7,511.4 343.7,511.9 345.9,512.4 348.4,512.6 351.3,512.7 354.5,512.7 357.9,512.5 361.4,512.3 365.0,512.1 368.6,511.9 371.9,511.7 375.0,511.6 377.8,511.5 380.5,511.5 383.0,511.4 385.4,511.4 387.8,511.5 390.2,511.5 392.5,511.5 395.0,511.6 397.5,511.6 399.8,511.7 402.2,511.7 404.6,511.8 407.0,511.9 409.5,512.0 412.2,512.2 415.0,512.3 418.1,512.5 421.5,512.7 425.1,513.0 428.8,513.2 432.4,513.5 435.9,513.7 439.1,514.0 441.8,514.1 444.2,514.3 446.2,514.4 448.1,514.5 449.8,514.6 451.2,514.7 452.6,514.7 453.8,514.8 455.0,514.8 455.5,514.7 455.2,514.7 454.4,514.5 453.7,514.4 453.4,514.3 454.1,514.2 456.1,514.1 460.0,514.2 466.0,514.3 473.8,514.5 483.0,514.7 493.2,515.0 503.8,515.3 514.4,515.7 524.7,516.1 534.0,516.5 542.7,517.0 551.2,517.6 559.6,518.2 567.9,518.9 576.0,519.5 584.1,520.2 592.1,520.9 600.0,521.5 607.8,522.1 615.4,522.6 622.9,523.0 630.4,523.5 637.8,524.0 645.1,524.6 652.5,525.2 660.0,526.0 667.6,526.9 675.2,528.0 682.9,529.1 690.6,530.3 698.2,531.5 705.7,532.7 713.0,533.7 720.0,534.5 726.8,535.2 733.4,535.7 739.9,536.1 746.2,536.5 752.4,536.8 758.4,537.1 764.3,537.3 770.0,537.5 775.3,537.7 780.2,537.9 784.8,538.0 789.2,538.1 793.8,538.2 798.7,538.2 804.0,538.1 810.0,538.0 817.1,537.8 825.4,537.4 834.4,536.9 843.5,536.4 852.3,535.9 860.3,535.5 867.1,535.1 872.0,534.8 874.0,534.8 874.0,600.5 872.0,600.5 867.3,600.7 860.7,600.9 852.9,601.2 844.7,601.4 836.8,601.7 830.0,602.0 824.2,602.2 818.7,602.4 813.5,602.5 808.6,602.7 804.1,603.0 800.0,603.5 796.2,604.2 792.6,605.0 789.4,605.9 786.6,606.9 784.2,607.9 782.3,608.8 781.0,609.4 780.2,609.8 779.9,610.1 779.9,610.7 779.9,611.9 779.8,614.0 779.7,617.4 779.6,622.1 779.6,627.3 779.7,632.5 779.8,636.9 779.8,640.0 261.0,640.0" fill="#c8beaa"/>
<polygon points="261.0,516.0 261.0,515.9 260.8,515.8 260.6,515.7 260.4,515.6 260.4,515.4 260.7,515.3 261.3,515.1 262.3,514.9 263.9,514.7 266.0,514.4 268.5,514.0 271.3,513.7 274.1,513.4 276.9,513.1 279.4,512.9 281.7,512.8 283.6,512.8 285.3,513.0 286.8,513.2 288.3,513.4 289.8,513.7 291.3,513.9 293.1,514.1 295.0,514.1 297.2,514.0 299.6,513.8 302.1,513.5 304.7,513.2 307.4,512.9 310.0,512.5 312.6,512.2 315.0,512.0 317.3,511.7 319.6,511.4 321.8,511.1 323.9,510.8 326.1,510.5 328.2,510.3 330.3,510.2 332.4,510.2 334.4,510.4 336.2,510.8 338.0,511.2 339.8,511.7 341.7,512.2 343.7,512.7 345.9,513.0 348.4,513.2 351.3,513.3 354.5,513.3 357.9,513.2 361.4,513.0 365.0,512.8 368.6,512.6 371.9,512.4 375.0,512.4 377.8,512.3 380.5,512.3 383.0,512.3 385.4,512.2 387.8,512.3 390.2,512.3 392.5,512.3 395.0,512.4 397.5,512.4 399.8,512.5 402.2,512.5 404.6,512.6 407.0,512.7 409.5,512.9 412.2,513.0 415.0,513.1 418.1,513.3 421.5,513.5 425.1,513.8 428.8,514.0 432.4,514.2 435.9,514.5 439.1,514.7 441.8,514.9 444.2,515.0 446.2,515.1 448.1,515.2 449.8,515.3 451.2,515.4 452.6,515.5 453.8,515.5 455.0,515.6 455.5,515.6 455.2,515.7 454.4,515.7 453.7,515.7 453.4,515.7 454.1,515.7 456.1,515.8 460.0,516.0 466.0,516.2 473.8,516.5 483.0,516.8 493.2,517.2 503.8,517.6 514.4,518.0 524.7,518.5 534.0,519.0 542.7,519.5 551.2,520.1 559.6,520.7 567.9,521.4 576.0,522.0 584.1,522.7 592.1,523.4 600.0,524.0 607.8,524.6 615.4,525.2 622.9,525.7 630.4,526.2 637.8,526.8 645.1,527.5 652.5,528.2 660.0,529.0 667.6,530.0 675.2,531.0 682.9,532.2 690.6,533.4 698.2,534.6 705.7,535.8 713.0,537.0 720.0,538.0 726.8,538.9 733.4,539.9 739.9,540.7 746.2,541.6 752.4,542.4 758.4,543.1 764.3,543.7 770.0,544.3 775.3,544.8 780.2,545.3 784.8,545.7 789.2,546.1 793.8,546.4 798.7,546.5 804.0,546.6 810.0,546.5 817.1,546.2 825.4,545.7 834.4,545.0 843.5,544.2 852.3,543.4 860.3,542.6 867.1,542.0 872.0,541.6 874.0,541.6 874.0,597.7 872.0,597.7 867.3,597.9 860.7,598.1 852.9,598.4 844.7,598.6 836.8,598.9 830.0,599.2 824.2,599.4 818.7,599.5 813.5,599.6 808.7,599.8 804.2,600.1 800.0,600.7 796.1,601.6 792.4,602.8 789.1,604.2 786.2,605.6 783.7,607.0 781.7,608.2 780.3,609.0 779.6,609.5 779.3,609.9 779.3,610.6 779.3,611.9 779.2,614.0 779.1,617.5 779.0,622.1 779.0,627.4 779.1,632.5 779.2,636.9 779.2,640.0 261.0,640.0" fill="#b4c5c8"/>
<polygon points="261.0,516.0 261.0,515.9 260.8,515.9 260.6,515.8 260.4,515.7 260.4,515.5 260.7,515.4 261.3,515.2 262.3,515.1 263.9,514.9 266.0,514.6 268.5,514.4 271.3,514.1 274.1,513.8 276.9,513.6 279.4,513.4 281.7,513.3 283.6,513.3 285.3,513.4 286.8,513.6 288.3,513.8 289.8,514.1 291.3,514.2 293.1,514.4 295.0,514.4 297.2,514.3 299.6,514.1 302.1,513.9 304.7,513.6 307.4,513.4 310.0,513.1 312.6,512.8 315.0,512.6 317.3,512.4 319.6,512.1 321.8,511.9 323.9,511.6 326.1,511.4 328.2,511.2 330.3,511.1 332.4,511.1 334.4,511.3 336.2,511.6 338.0,511.9 339.8,512.4 341.7,512.8 343.7,513.2 345.9,513.5 348.4,513.7 351.3,513.7 354.5,513.7 357.9,513.6 361.4,513.5 365.0,513.3 368.6,513.1 371.9,513.0 375.0,512.9 377.8,512.9 380.5,512.8 383.0,512.8 385.4,512.8 387.8,512.8 390.2,512.8 392.5,512.9 395.0,512.9 397.5,513.0 399.8,513.0 402.2,513.1 404.6,513.2 407.0,513.3 409.5,513.4 412.2,513.6 415.0,513.7 418.1,513.9 421.5,514.1 425.1,514.3 428.8,514.5 432.4,514.8 435.9,515.0 439.1,515.2 441.8,515.4 444.2,515.5 446.2,515.6 448.1,515.7 449.8,515.8 451.2,515.9 452.6,516.0 453.8,516.1 455.0,516.2 455.5,516.2 455.2,516.2 454.4,516.2 453.7,516.2 453.4,516.3 454.1,516.3 456.1,516.5 460.0,516.7 466.0,517.0 473.8,517.4 483.0,517.8 493.2,518.2 503.8,518.7 514.4,519.3 524.7,519.9 534.0,520.5 542.7,521.2 551.2,521.9 559.6,522.8 567.9,523.6 576.0,524.5 584.1,525.3 592.1,526.2 600.0,527.0 607.8,527.7 615.4,528.4 622.9,529.1 630.4,529.8 637.8,530.5 645.1,531.2 652.5,532.1 660.0,533.0 667.6,534.1 675.2,535.3 682.9,536.5 690.6,537.9 698.2,539.2 705.7,540.5 713.0,541.8 720.0,543.0 726.8,544.1 733.4,545.3 739.9,546.4 746.2,547.5 752.4,548.6 758.4,549.6 764.3,550.4 770.0,551.2 775.3,551.8 780.2,552.4 784.8,552.8 789.2,553.2 793.8,553.5 798.7,553.7 804.0,553.9 810.0,554.0 817.1,554.0 825.4,553.9 834.4,553.7 843.5,553.5 852.3,553.2 860.3,553.0 867.1,552.7 872.0,552.6 874.0,552.6 874.0,596.5 872.0,596.5 867.3,596.7 860.7,596.9 852.9,597.2 844.7,597.4 836.8,597.7 830.0,598.0 824.2,598.2 818.7,598.3 813.6,598.3 808.7,598.5 804.2,598.9 800.0,599.5 796.0,600.5 792.3,601.8 788.8,603.2 785.8,604.8 783.2,606.3 781.1,607.6 779.7,608.5 779.0,609.1 778.7,609.7 778.6,610.5 778.7,611.8 778.6,614.0 778.5,617.5 778.4,622.2 778.4,627.4 778.5,632.5 778.6,636.9 778.6,640.0 261.0,640.0" fill="#8ebac0"/>
<polygon points="261.0,516.0 261.0,515.9 260.8,515.9 260.6,515.8 260.4,515.7 260.4,515.6 260.7,515.5 261.3,515.4 262.3,515.3 263.9,515.1 266.0,514.9 268.5,514.7 271.3,514.4 274.1,514.2 276.9,514.0 279.4,513.9 281.7,513.8 283.6,513.8 285.3,513.9 286.8,514.1 288.3,514.2 289.8,514.4 291.3,514.6 293.1,514.7 295.0,514.7 297.2,514.6 299.6,514.5 302.1,514.3 304.7,514.1 307.4,513.9 310.0,513.6 312.6,513.4 315.0,513.2 317.3,513.0 319.6,512.8 321.8,512.6 323.9,512.4 326.1,512.2 328.2,512.1 330.3,512.0 332.4,512.0 334.4,512.2 336.2,512.4 338.0,512.7 339.8,513.0 341.7,513.4 343.7,513.7 345.9,514.0 348.4,514.1 351.3,514.2 354.5,514.1 357.9,514.0 361.4,513.9 365.0,513.8 368.6,513.7 371.9,513.6 375.0,513.5 377.8,513.5 380.5,513.4 383.0,513.4 385.4,513.4 387.8,513.4 390.2,513.4 392.5,513.4 395.0,513.5 397.5,513.6 399.8,513.6 402.2,513.7 404.6,513.8 407.0,513.9 409.5,514.0 412.2,514.2 415.0,514.3 418.1,514.5 421.5,514.7 425.1,514.9 428.8,515.1 432.4,515.3 435.9,515.5 439.1,515.7 441.8,515.9 444.2,516.0 446.2,516.2 448.1,516.3 449.8,516.4 451.2,516.5 452.6,516.6 453.8,516.7 455.0,516.8 455.5,516.8 455.2,516.8 454.4,516.8 453.7,516.8 453.4,516.9 454.1,517.0 456.1,517.1 460.0,517.4 466.0,517.8 473.8,518.2 483.0,518.7 493.2,519.2 503.8,519.9 514.4,520.5 524.7,521.2 534.0,522.0 542.7,522.8 551.2,523.8 559.6,524.8 567.9,525.9 576.0,526.9 584.1,528.0 592.1,529.0 600.0,530.0 607.8,530.9 615.4,531.7 622.9,532.5 630.4,533.3 637.8,534.1 645.1,535.0 652.5,535.9 660.0,537.0 667.6,538.2 675.2,539.5 682.9,540.9 690.6,542.3 698.2,543.8 705.7,545.2 713.0,546.6 720.0,548.0 726.8,549.3 733.4,550.7 739.9,552.1 746.2,553.4 752.4,554.7 758.4,555.9 764.3,557.0 770.0,558.0 775.3,558.8 780.2,559.5 784.8,560.1 789.2,560.6 793.8,561.0 798.7,561.4 804.0,561.7 810.0,562.0 817.1,562.2 825.4,562.3 834.4,562.3 843.5,562.3 852.3,562.2 860.3,562.2 867.1,562.1 872.0,562.1 874.0,562.1 874.0,595.5 872.0,595.5 867.3,595.7 860.7,595.9 852.9,596.2 844.7,596.4 836.8,596.7 830.0,597.0 824.2,597.2 818.7,597.2 813.6,597.3 808.8,597.5 804.3,597.8 800.0,598.5 795.9,599.5 792.1,600.9 788.5,602.4 785.4,604.0 782.6,605.6 780.5,607.0 779.1,608.0 778.3,608.7 778.0,609.4 778.0,610.3 778.1,611.8 778.0,614.0 777.9,617.5 777.8,622.2 777.8,627.4 777.9,632.6 778.0,637.0 778.0,640.0 261.0,640.0" fill="#6aabb6"/>
<polygon points="261.0,516.0 261.0,516.0 260.8,515.9 260.6,515.8 260.4,515.8 260.4,515.7 260.7,515.6 261.3,515.5 262.3,515.4 263.9,515.3 266.0,515.1 268.5,514.9 271.3,514.7 274.1,514.5 276.9,514.4 279.4,514.3 281.7,514.2 283.6,514.2 285.3,514.3 286.8,514.4 288.3,514.6 289.8,514.7 291.3,514.8 293.1,514.9 295.0,514.9 297.2,514.9 299.6,514.8 302.1,514.6 304.7,514.4 307.4,514.2 310.0,514.1 312.6,513.9 315.0,513.7 317.3,513.6 319.6,513.4 321.8,513.2 323.9,513.1 326.1,512.9 328.2,512.8 330.3,512.8 332.4,512.8 334.4,512.9 336.2,513.0 338.0,513.3 339.8,513.6 341.7,513.9 343.7,514.1 345.9,514.3 348.4,514.5 351.3,514.5 354.5,514.5 357.9,514.4 361.4,514.3 365.0,514.2 368.6,514.1 371.9,514.0 375.0,513.9 377.8,513.9 380.5,513.9 383.0,513.9 385.4,513.9 387.8,513.9 390.2,513.9 392.5,513.9 395.0,513.9 397.5,514.0 399.8,514.1 402.2,514.2 404.6,514.3 407.0,514.4 409.5,514.5 412.2,514.7 415.0,514.8 418.1,515.0 421.5,515.1 425.1,515.3 428.8,515.5 432.4,515.7 435.9,515.9 439.1,516.1 441.8,516.3 444.2,516.4 446.2,516.6 448.1,516.7 449.8,516.8 451.2,516.9 452.6,517.0 453.8,517.1 455.0,517.2 455.5,517.3 455.2,517.3 454.4,517.4 453.7,517.4 453.4,517.4 454.1,517.6 456.1,517.8 460.0,518.1 466.0,518.5 473.8,519.0 483.0,519.6 493.2,520.3 503.8,521.0 514.4,521.8 524.7,522.6 534.0,523.5 542.7,524.5 551.2,525.5 559.6,526.7 567.9,527.8 576.0,529.0 584.1,530.2 592.1,531.4 600.0,532.5 607.8,533.5 615.4,534.5 622.9,535.4 630.4,536.3 637.8,537.3 645.1,538.2 652.5,539.3 660.0,540.5 667.6,541.8 675.2,543.2 682.9,544.8 690.6,546.3 698.2,547.9 705.7,549.5 713.0,551.0 720.0,552.5 726.8,554.0 733.4,555.4 739.9,556.9 746.2,558.4 752.4,559.8 758.4,561.2 764.3,562.4 770.0,563.5 775.3,564.5 780.2,565.3 784.8,566.0 789.2,566.7 793.8,567.3 798.7,567.9 804.0,568.4 810.0,569.0 817.1,569.6 825.4,570.2 834.4,570.8 843.5,571.4 852.3,571.9 857.1,572.2 860.0,572.9 862.5,574.0 864.4,575.5 865.6,577.2 866.0,579.0 865.6,583.2 864.4,587.1 862.5,590.4 860.0,593.0 857.1,594.6 852.9,595.2 846.7,595.4 840.6,595.6 835.0,595.8 830.0,596.0 825.6,596.1 821.4,596.2 817.4,596.2 813.6,596.3 810.0,596.4 806.5,596.6 803.2,597.0 800.0,597.5 796.9,598.3 793.9,599.2 791.0,600.4 788.2,601.6 785.7,602.8 783.5,604.1 781.5,605.3 779.9,606.4 778.7,607.3 778.0,608.0 777.6,608.5 777.4,609.1 777.4,609.9 777.4,610.8 777.5,612.2 777.4,614.0 777.3,616.5 777.2,619.8 777.2,623.5 777.2,627.5 777.3,631.3 777.3,634.9 777.4,637.9 777.4,640.0 261.0,640.0" fill="#4c93a5"/>
<polygon points="261.0,516.0 261.0,516.0 260.8,515.9 260.6,515.9 260.4,515.8 260.4,515.8 260.7,515.7 261.3,515.6 262.3,515.5 263.9,515.4 266.0,515.3 268.5,515.1 271.3,515.0 274.1,514.9 276.9,514.7 279.4,514.6 281.7,514.6 283.6,514.6 285.3,514.7 286.8,514.8 288.3,514.9 289.8,515.0 291.3,515.1 293.1,515.2 295.0,515.2 297.2,515.1 299.6,515.0 302.1,514.9 304.7,514.8 307.4,514.6 310.0,514.5 312.6,514.4 315.0,514.2 317.3,514.1 319.6,514.0 321.8,513.8 323.9,513.7 326.1,513.6 328.2,513.5 330.3,513.5 332.4,513.5 334.4,513.6 336.2,513.7 338.0,513.9 339.8,514.1 341.7,514.3 343.7,514.5 345.9,514.7 348.4,514.8 351.3,514.8 354.5,514.8 357.9,514.8 361.4,514.7 365.0,514.6 368.6,514.5 371.9,514.4 375.0,514.4 377.8,514.4 380.5,514.4 383.0,514.3 385.4,514.3 387.8,514.3 390.2,514.3 392.5,514.4 395.0,514.4 397.5,514.5 399.8,514.5 402.2,514.6 404.6,514.7 407.0,514.9 409.5,515.0 412.2,515.1 415.0,515.3 418.1,515.4 421.5,515.6 425.1,515.8 428.8,516.0 432.4,516.2 435.9,516.4 439.1,516.6 441.8,516.7 444.2,516.9 446.2,517.0 448.1,517.1 449.8,517.2 451.2,517.3 452.6,517.4 453.8,517.6 455.0,517.7 455.5,517.8 455.2,517.8 454.4,517.9 453.7,517.9 453.4,518.0 454.1,518.2 456.1,518.4 460.0,518.8 466.0,519.3 473.8,519.9 483.0,520.6 493.2,521.3 503.8,522.2 514.4,523.1 524.7,524.0 534.0,525.0 542.7,526.1 551.2,527.3 559.6,528.5 567.9,529.8 576.0,531.2 584.1,532.5 592.1,533.8 600.0,535.0 607.8,536.1 615.4,537.2 622.9,538.3 630.4,539.3 637.8,540.4 645.1,541.5 652.5,542.7 660.0,544.0 667.6,545.4 675.2,547.0 682.9,548.6 690.6,550.3 698.2,552.0 705.7,553.7 713.0,555.4 720.0,557.0 726.8,558.6 733.4,560.2 739.9,561.8 746.2,563.4 752.4,565.0 758.4,566.4 764.3,567.8 770.0,569.0 775.3,570.1 780.2,571.0 784.8,571.8 789.2,572.6 793.8,573.2 798.7,573.9 804.0,574.4 810.0,575.0 817.1,575.5 825.4,576.0 837.4,576.2 840.3,576.7 842.8,577.6 844.7,578.7 845.9,579.9 846.3,581.3 845.9,585.1 844.7,588.6 842.8,591.7 840.3,594.0 837.4,595.5 830.0,596.0 825.6,596.1 821.4,596.2 817.5,596.3 813.7,596.3 810.0,596.4 806.6,596.6 803.2,597.0 800.0,597.5 796.8,598.2 793.7,599.1 790.8,600.1 787.9,601.2 785.3,602.4 783.0,603.6 781.0,604.7 779.3,605.8 778.1,606.7 777.3,607.4 776.9,608.1 776.8,608.8 776.8,609.6 776.8,610.7 776.9,612.1 776.8,614.0 776.7,616.6 776.6,619.9 776.6,623.6 776.6,627.5 776.7,631.4 776.7,634.9 776.8,637.9 776.8,640.0 261.0,640.0" fill="#3b7c90"/>
<polygon points="261.0,516.0 261.0,516.0 260.8,515.9 260.6,515.9 260.4,515.9 260.4,515.8 260.7,515.8 261.3,515.7 262.3,515.7 263.9,515.6 266.0,515.5 268.5,515.4 271.3,515.3 274.1,515.2 276.9,515.1 279.4,515.0 281.7,515.0 283.6,515.0 285.3,515.1 286.8,515.1 288.3,515.2 289.8,515.3 291.3,515.3 293.1,515.4 295.0,515.4 297.2,515.4 299.6,515.3 302.1,515.2 304.7,515.1 307.4,515.0 310.0,514.9 312.6,514.8 315.0,514.7 317.3,514.7 319.6,514.6 321.8,514.5 323.9,514.4 326.1,514.3 328.2,514.2 330.3,514.2 332.4,514.2 334.4,514.3 336.2,514.4 338.0,514.5 339.8,514.7 341.7,514.8 343.7,515.0 345.9,515.1 348.4,515.1 351.3,515.2 354.5,515.1 357.9,515.1 361.4,515.1 365.0,515.0 368.6,514.9 371.9,514.9 375.0,514.9 377.8,514.8 380.5,514.8 383.0,514.8 385.4,514.8 387.8,514.8 390.2,514.8 392.5,514.8 395.0,514.9 397.5,514.9 399.8,515.0 402.2,515.1 404.6,515.2 407.0,515.3 409.5,515.5 412.2,515.6 415.0,515.7 418.1,515.9 421.5,516.1 425.1,516.2 428.8,516.4 432.4,516.6 435.9,516.8 439.1,517.0 441.8,517.1 444.2,517.3 446.2,517.4 448.1,517.5 449.8,517.6 451.2,517.8 452.6,517.9 453.8,518.0 455.0,518.1 455.5,518.3 455.2,518.3 454.4,518.4 453.7,518.5 453.4,518.6 454.1,518.8 456.1,519.1 460.0,519.5 466.0,520.1 473.8,520.8 483.0,521.5 493.2,522.4 503.8,523.3 514.4,524.3 524.7,525.4 534.0,526.5 542.7,527.7 551.2,529.0 559.6,530.4 567.9,531.8 576.0,533.3 584.1,534.7 592.1,536.1 600.0,537.5 607.8,538.8 615.4,540.0 622.9,541.1 630.4,542.3 637.8,543.5 645.1,544.7 652.5,546.1 660.0,547.5 667.6,549.1 675.2,550.7 682.9,552.4 690.6,554.2 698.2,556.1 705.7,557.9 713.0,559.7 720.0,561.5 726.8,563.3 733.4,565.3 739.9,567.3 746.2,569.3 752.4,571.2 758.4,572.9 764.3,574.5 770.0,575.8 775.3,576.8 780.2,577.6 784.8,578.2 789.2,578.7 793.8,579.0 798.7,579.3 804.0,579.6 810.0,580.0 819.6,580.1 822.5,580.5 825.0,581.2 826.9,582.0 828.1,583.0 828.5,584.0 828.1,587.1 826.9,589.9 825.0,592.4 822.5,594.2 819.6,595.4 813.7,595.8 810.1,595.9 806.6,596.2 803.3,596.5 800.0,597.0 796.8,597.7 793.6,598.6 790.5,599.6 787.6,600.6 784.9,601.8 782.5,603.0 780.4,604.1 778.7,605.2 777.5,606.2 776.7,607.0 776.3,607.7 776.1,608.5 776.1,609.4 776.2,610.6 776.3,612.1 776.2,614.0 776.1,616.6 776.0,619.9 776.0,623.6 776.0,627.6 776.1,631.4 776.1,634.9 776.2,637.9 776.2,640.0 261.0,640.0" fill="#246b85"/>
<polygon points="261.0,516.0 261.0,516.0 260.8,516.0 260.6,515.9 260.4,515.9 260.4,515.9 260.7,515.9 261.3,515.8 262.3,515.8 263.9,515.7 266.0,515.7 268.5,515.6 271.3,515.5 274.1,515.5 276.9,515.4 279.4,515.4 281.7,515.4 283.6,515.4 285.3,515.4 286.8,515.4 288.3,515.5 289.8,515.5 291.3,515.6 293.1,515.6 295.0,515.6 297.2,515.6 299.6,515.5 302.1,515.5 304.7,515.4 307.4,515.4 310.0,515.3 312.6,515.2 315.0,515.2 317.3,515.1 319.6,515.1 321.8,515.0 323.9,514.9 326.1,514.9 328.2,514.8 330.3,514.8 332.4,514.8 334.4,514.9 336.2,514.9 338.0,515.0 339.8,515.1 341.7,515.2 343.7,515.3 345.9,515.4 348.4,515.4 351.3,515.5 354.5,515.4 357.9,515.4 361.4,515.4 365.0,515.3 368.6,515.3 371.9,515.3 375.0,515.3 377.8,515.2 380.5,515.2 383.0,515.2 385.4,515.2 387.8,515.2 390.2,515.2 392.5,515.2 395.0,515.3 397.5,515.3 399.8,515.4 402.2,515.5 404.6,515.6 407.0,515.7 409.5,515.9 412.2,516.0 415.0,516.2 418.1,516.3 421.5,516.5 425.1,516.6 428.8,516.8 432.4,517.0 435.9,517.2 439.1,517.3 441.8,517.5 444.2,517.6 446.2,517.8 448.1,517.9 449.8,518.0 451.2,518.1 452.6,518.3 453.8,518.4 455.0,518.6 455.5,518.7 455.2,518.8 454.4,518.9 453.7,519.0 453.4,519.1 454.1,519.3 456.1,519.7 460.0,520.2 466.0,520.9 473.8,521.6 483.0,522.5 493.2,523.5 503.8,524.5 514.4,525.6 524.7,526.8 534.0,528.0 542.7,529.3 551.2,530.7 559.6,532.2 567.9,533.8 576.0,535.4 584.1,537.0 592.1,538.5 600.0,540.0 607.8,541.4 615.4,542.7 622.9,544.0 630.4,545.3 637.8,546.6 645.1,548.0 652.5,549.4 660.0,551.0 667.6,552.7 675.2,554.5 682.9,556.3 690.6,558.2 698.2,560.2 705.7,562.1 713.0,564.1 720.0,566.0 726.8,568.0 733.4,570.1 739.9,572.3 746.2,574.4 752.4,576.5 758.4,578.4 764.3,580.0 770.0,581.3 775.3,582.3 780.2,582.9 784.8,583.3 789.2,583.5 793.8,583.7 800.4,583.7 803.3,583.9 805.8,584.2 807.7,584.5 808.9,585.0 809.3,585.4 808.9,588.3 807.7,591.1 805.8,593.4 803.3,595.2 800.4,596.3 796.7,596.7 793.5,597.6 790.3,598.7 787.3,599.8 784.5,601.0 782.0,602.2 779.9,603.4 778.1,604.6 776.8,605.6 776.1,606.5 775.6,607.3 775.5,608.2 775.5,609.2 775.6,610.5 775.7,612.0 775.6,614.0 775.5,616.6 775.4,619.9 775.4,623.7 775.4,627.6 775.5,631.4 775.5,634.9 775.6,637.9 775.6,640.0 261.0,640.0" fill="#10577d"/>
<polygon points="261.0,516.0 261.0,516.0 260.8,516.0 260.6,516.0 260.4,516.0 260.4,515.9 260.7,515.9 261.3,515.9 262.3,515.9 263.9,515.9 266.0,515.8 268.5,515.8 271.3,515.7 274.1,515.7 276.9,515.7 279.4,515.7 281.7,515.6 283.6,515.7 285.3,515.7 286.8,515.7 288.3,515.7 289.8,515.7 291.3,515.8 293.1,515.8 295.0,515.8 297.2,515.8 299.6,515.8 302.1,515.7 304.7,515.7 307.4,515.7 310.0,515.6 312.6,515.6 315.0,515.6 317.3,515.5 319.6,515.5 321.8,515.5 323.9,515.4 326.1,515.4 328.2,515.4 330.3,515.4 332.4,515.4 334.4,515.4 336.2,515.4 338.0,515.5 339.8,515.5 341.7,515.6 343.7,515.6 345.9,515.7 348.4,515.7 351.3,515.7 354.5,515.7 357.9,515.7 361.4,515.7 365.0,515.6 368.6,515.6 371.9,515.6 375.0,515.6 377.8,515.6 380.5,515.6 383.0,515.6 385.4,515.5 387.8,515.5 390.2,515.5 392.5,515.6 395.0,515.6 397.5,515.7 399.8,515.8 402.2,515.9 404.6,516.0 407.0,516.1 409.5,516.2 412.2,516.4 415.0,516.5 418.1,516.7 421.5,516.8 425.1,517.0 428.8,517.1 432.4,517.3 435.9,517.5 439.1,517.6 441.8,517.8 444.2,517.9 446.2,518.1 448.1,518.2 449.8,518.3 451.2,518.4 452.6,518.6 453.8,518.7 455.0,518.9 455.5,519.1 455.2,519.2 454.4,519.3 453.7,519.4 453.4,519.6 454.1,519.8 456.1,520.2 460.0,520.8 466.0,521.5 473.8,522.4 483.0,523.4 493.2,524.5 503.8,525.7 514.4,526.9 524.7,528.2 534.0,529.5 542.7,530.9 551.2,532.4 559.6,533.9 567.9,535.5 576.0,537.2 584.1,538.8 592.1,540.4 600.0,542.0 607.8,543.5 615.4,544.9 622.9,546.3 630.4,547.8 637.8,549.2 645.1,550.7 652.5,552.3 660.0,554.0 667.6,555.9 675.2,557.8 682.9,559.9 690.6,562.1 698.2,564.2 705.7,566.4 713.0,568.5 720.0,570.5 726.8,572.5 733.4,574.6 739.9,576.8 746.2,578.9 752.4,580.9 758.4,582.6 764.3,584.2 770.0,585.4 775.3,586.2 780.2,586.7 785.0,586.9 787.6,587.2 789.8,587.7 791.6,588.4 792.6,589.2 793.0,590.0 792.6,593.0 791.6,595.8 789.8,598.1 787.6,600.0 785.0,601.1 781.5,601.5 779.3,602.8 777.5,604.0 776.2,605.1 775.4,606.1 775.0,607.0 774.8,607.9 774.9,609.0 775.0,610.4 775.1,612.0 775.0,614.0 774.9,616.7 774.8,620.0 774.8,623.7 774.8,627.6 774.9,631.5 774.9,635.0 775.0,637.9 775.0,640.0 261.0,640.0" fill="#093e72"/>
<polygon points="261.0,516.0 261.0,516.0 260.8,516.0 260.6,516.0 260.4,516.0 260.4,516.0 260.7,516.0 261.3,516.0 262.3,515.9 263.9,515.9 266.0,515.9 268.5,515.9 271.3,515.9 274.1,515.9 276.9,515.9 279.4,515.9 281.7,515.9 283.6,515.9 285.3,515.9 286.8,515.9 288.3,515.9 289.8,515.9 291.3,515.9 293.1,515.9 295.0,515.9 297.2,515.9 299.6,515.9 302.1,515.9 304.7,515.9 307.4,515.9 310.0,515.8 312.6,515.8 315.0,515.8 317.3,515.8 319.6,515.8 321.8,515.8 323.9,515.8 326.1,515.7 328.2,515.7 330.3,515.7 332.4,515.7 334.4,515.7 336.2,515.8 338.0,515.8 339.8,515.8 341.7,515.8 343.7,515.8 345.9,515.9 348.4,515.9 351.3,515.9 354.5,515.9 357.9,515.9 361.4,515.9 365.0,515.8 368.6,515.8 371.9,515.8 375.0,515.8 377.8,515.8 380.5,515.8 383.0,515.8 385.4,515.8 387.8,515.8 390.2,515.8 392.5,515.8 395.0,515.8 397.5,515.9 399.8,516.0 402.2,516.1 404.6,516.2 407.0,516.3 409.5,516.5 412.2,516.6 415.0,516.7 418.1,516.9 421.5,517.0 425.1,517.2 428.8,517.4 432.4,517.5 435.9,517.7 439.1,517.8 441.8,518.0 444.2,518.1 446.2,518.3 448.1,518.4 449.8,518.5 451.2,518.6 452.6,518.8 453.8,518.9 455.0,519.1 455.5,519.3 455.2,519.4 454.4,519.5 453.7,519.7 453.4,519.9 454.1,520.2 456.1,520.7 460.0,521.3 466.0,522.1 473.8,523.1 483.0,524.3 493.2,525.5 503.8,526.8 514.4,528.2 524.7,529.6 534.0,531.0 542.7,532.4 551.2,533.9 559.6,535.5 567.9,537.1 576.0,538.7 584.1,540.3 592.1,541.9 600.0,543.5 607.8,545.0 615.4,546.5 622.9,547.9 630.4,549.4 637.8,550.9 645.1,552.5 652.5,554.2 660.0,556.0 667.6,558.0 675.2,560.2 682.9,562.5 690.6,564.8 698.2,567.2 705.7,569.6 713.0,571.9 720.0,574.0 726.8,576.1 733.4,578.3 739.9,580.5 746.2,582.6 752.4,584.5 758.4,586.3 764.3,587.8 770.0,589.0 775.3,589.8 780.3,589.9 781.8,590.4 783.1,591.0 784.1,591.9 784.8,592.9 785.0,594.0 784.8,596.4 784.1,598.7 783.1,600.6 781.8,602.1 780.3,603.1 776.9,603.4 775.6,604.6 774.8,605.6 774.3,606.6 774.2,607.7 774.2,608.8 774.4,610.2 774.5,611.9 774.4,614.0 774.3,616.7 774.2,620.0 774.2,623.8 774.2,627.7 774.3,631.5 774.3,635.0 774.4,637.9 774.4,640.0 261.0,640.0" fill="#1b2958"/>
<polygon points="90.0,516.0 333.7,516.0 334.0,512.5 336.0,510.0 339.0,509.0 342.0,510.0 344.0,512.5 344.4,516.0 388.4,516.2 389.0,514.5 391.5,513.3 394.4,513.0 397.5,513.3 400.0,514.5 400.4,516.3 403.5,516.4 407.5,516.6 412.3,516.7 417.7,516.9 423.4,517.2 429.1,517.4 434.8,517.7 440.0,518.0 444.8,518.3 449.3,518.5 453.8,518.8 458.3,519.0 463.0,519.4 468.1,519.9 473.7,520.6 480.0,521.5 487.1,522.7 494.9,524.0 503.2,525.6 511.9,527.2 520.8,529.0 529.8,530.8 538.6,532.7 547.2,534.5 555.8,536.4 564.5,538.5 573.4,540.6 582.3,542.8 590.9,544.9 599.2,546.9 607.1,548.7 614.3,550.2 620.9,551.4 627.1,552.4 632.9,553.2 638.3,553.9 643.4,554.5 648.3,555.2 652.9,555.9 657.4,556.7 661.6,557.6 665.4,558.6 668.8,559.5 672.1,560.5 675.2,561.6 678.3,562.6 681.5,563.7 684.8,564.9 688.2,566.1 691.6,567.4 695.0,568.7 698.4,570.1 701.9,571.5 705.3,572.9 708.7,574.4 712.1,575.8 715.5,577.3 718.9,578.8 722.4,580.4 725.8,582.0 729.2,583.6 732.6,585.2 736.1,586.7 739.5,588.1 743.1,589.5 746.8,590.8 750.7,592.1 754.5,593.4 758.1,594.6 761.5,595.8 764.5,596.8 766.9,597.7 768.8,598.5 770.2,599.2 771.3,599.8 772.0,600.4 772.6,600.8 773.0,601.2 773.3,601.5 773.7,601.8 773.7,640.0 90.0,640.0" fill="#2e1f21"/>
<polyline points="96.0,189.0 101.0,188.3 107.6,187.3 115.4,186.1 124.1,184.8 133.5,183.4 143.1,182.0 152.7,180.6 162.0,179.4 171.2,178.2 180.7,177.1 190.4,175.9 200.3,174.8 210.3,173.7 220.4,172.6 230.3,171.5 240.2,170.5 249.9,169.5 259.5,168.5 269.0,167.6 278.6,166.7 288.2,165.8 298.0,164.9 308.0,164.2 318.3,163.4 329.0,162.7 340.2,162.0 351.7,161.3 363.3,160.7 374.9,160.1 386.2,159.6 397.2,159.2 407.6,158.9 417.5,158.7 427.0,158.6 436.2,158.6 445.2,158.6 454.0,158.7 462.7,158.9 471.3,159.1 480.0,159.3 488.6,159.6 497.2,159.9 505.6,160.3 513.9,160.7 522.2,161.1 530.5,161.6 538.8,162.1 547.2,162.7 555.6,163.3 564.0,163.9 572.4,164.6 580.8,165.4 589.1,166.1 597.5,166.8 605.9,167.6 614.3,168.3 622.7,169.0 631.1,169.7 639.5,170.3 647.9,171.0 656.3,171.7 664.7,172.4 673.1,173.1 681.5,173.9 689.9,174.7 698.3,175.6 706.7,176.5 715.1,177.4 723.5,178.3 731.9,179.1 740.3,180.0 748.7,180.7 757.2,181.4 765.8,182.0 774.5,182.5 783.1,183.0 791.7,183.5 800.0,184.0 808.1,184.5 815.9,185.1 823.7,185.7 831.6,186.4 839.5,187.1 847.1,187.8 854.3,188.5 860.6,189.1 865.9,189.6 870.0,190.0" fill="none" stroke="#3a1f1f" stroke-width="1.3" stroke-opacity="0.72" stroke-linejoin="round"/>
<polyline points="96.0,238.0 101.1,237.2 107.7,236.1 115.7,234.7 124.5,233.3 133.9,231.7 143.6,230.2 153.0,228.7 162.0,227.4 170.7,226.2 179.5,225.0 188.4,223.9 197.4,222.8 206.5,221.7 215.5,220.6 224.5,219.5 233.5,218.5 242.5,217.5 251.5,216.4 260.5,215.4 269.5,214.4 278.5,213.4 287.4,212.5 296.2,211.6 304.9,210.7 313.2,209.9 321.0,209.0 328.5,208.2 336.1,207.4 344.0,206.6 352.4,206.0 361.6,205.5 371.9,205.1 383.7,204.9 397.0,204.8 411.2,204.8 425.9,205.0 440.7,205.2 454.9,205.4 468.2,205.7 480.0,206.0 490.4,206.3 499.7,206.7 508.2,207.1 516.2,207.6 523.8,208.1 531.4,208.7 539.1,209.2 547.2,209.8 555.6,210.4 564.0,211.0 572.4,211.7 580.8,212.4 589.1,213.1 597.5,213.9 605.9,214.6 614.3,215.4 622.7,216.2 631.1,217.0 639.5,217.9 647.9,218.8 656.3,219.6 664.7,220.5 673.1,221.3 681.5,222.1 689.9,222.9 698.3,223.6 706.7,224.3 715.1,225.0 723.5,225.7 731.9,226.4 740.3,227.1 748.7,227.7 757.2,228.3 765.8,228.9 774.5,229.5 783.1,230.1 791.7,230.6 800.0,231.1 808.1,231.7 815.9,232.2 823.7,232.7 831.6,233.3 839.5,233.8 847.1,234.4 854.3,234.9 860.6,235.3 865.9,235.7 870.0,236.0" fill="none" stroke="#3a1f1f" stroke-width="1.3" stroke-opacity="0.72" stroke-linejoin="round"/>
<polyline points="96.0,286.0 101.1,285.0 107.8,283.6 115.9,281.9 124.8,280.1 134.3,278.2 143.9,276.3 153.3,274.6 162.0,273.2 170.4,272.0 178.9,270.9 187.5,269.9 196.1,268.9 204.7,268.0 213.0,267.2 221.2,266.3 229.0,265.4 236.5,264.5 243.7,263.6 250.7,262.7 257.6,261.8 264.4,261.0 271.1,260.2 277.9,259.4 284.8,258.7 291.7,258.0 298.5,257.4 305.2,256.8 312.0,256.2 318.9,255.7 325.9,255.2 333.1,254.7 340.6,254.2 348.4,253.7 356.4,253.3 364.7,252.8 373.1,252.4 381.6,252.0 390.2,251.7 398.9,251.5 407.6,251.3 416.4,251.2 425.4,251.3 434.6,251.4 443.8,251.5 453.0,251.7 462.1,252.0 471.2,252.2 480.0,252.5 488.6,252.8 497.2,253.1 505.6,253.4 513.9,253.8 522.2,254.2 530.5,254.7 538.8,255.2 547.2,255.7 555.6,256.3 564.0,256.9 572.4,257.6 580.8,258.3 589.1,259.0 597.5,259.8 605.9,260.5 614.3,261.3 622.7,262.1 631.1,262.9 639.5,263.7 647.9,264.6 656.3,265.4 664.7,266.3 673.1,267.2 681.5,268.0 689.9,268.8 698.3,269.7 706.7,270.6 715.1,271.4 723.5,272.3 731.9,273.1 740.3,273.9 748.7,274.7 757.2,275.5 765.8,276.2 774.5,276.9 783.1,277.7 791.7,278.4 800.0,279.0 808.1,279.7 815.9,280.3 823.7,280.9 831.6,281.5 839.5,282.2 847.1,282.8 854.3,283.3 860.6,283.8 865.9,284.2 870.0,284.5" fill="none" stroke="#3a1f1f" stroke-width="1.3" stroke-opacity="0.72" stroke-linejoin="round"/>
<polyline points="96.0,334.5 101.1,333.3 108.0,331.6 116.3,329.5 125.4,327.3 134.9,325.0 144.5,322.8 153.7,320.7 162.0,319.0 169.7,317.5 177.2,316.2 184.5,315.0 191.8,313.9 198.9,312.9 206.0,311.9 213.0,311.0 220.0,310.0 226.7,309.1 232.9,308.2 238.8,307.3 244.8,306.5 251.1,305.7 257.8,305.0 265.2,304.2 273.6,303.4 282.9,302.6 292.8,301.7 303.3,300.8 314.3,299.9 325.9,299.0 337.9,298.3 350.3,297.7 363.0,297.3 376.6,297.1 391.5,297.0 407.0,297.0 422.9,297.2 438.6,297.4 453.6,297.7 467.6,298.1 480.0,298.5 490.8,299.0 500.3,299.5 508.9,300.2 516.7,300.9 524.2,301.6 531.6,302.4 539.1,303.1 547.2,303.8 555.6,304.5 564.0,305.2 572.4,305.9 580.8,306.6 589.1,307.4 597.5,308.1 605.9,308.8 614.3,309.4 622.7,310.0 631.1,310.6 639.5,311.1 647.9,311.6 656.3,312.2 664.7,312.7 673.1,313.3 681.5,313.9 689.9,314.5 698.3,315.2 706.7,315.9 715.1,316.6 723.5,317.3 731.9,318.0 740.3,318.7 748.7,319.5 757.2,320.3 765.8,321.1 774.5,322.0 783.1,322.9 791.7,323.7 800.0,324.6 808.1,325.4 815.9,326.2 823.7,327.0 831.6,327.7 839.5,328.5 847.1,329.3 854.3,330.0 860.6,330.6 865.9,331.1 870.0,331.5" fill="none" stroke="#3a1f1f" stroke-width="1.3" stroke-opacity="0.72" stroke-linejoin="round"/>
<polyline points="96.0,382.0 101.1,380.8 107.8,379.2 115.9,377.3 124.8,375.2 134.3,373.0 143.9,370.8 153.3,368.8 162.0,367.0 170.3,365.4 178.7,363.8 187.1,362.3 195.4,360.9 203.8,359.5 212.2,358.2 220.6,357.0 229.0,355.8 237.4,354.7 245.8,353.7 254.1,352.8 262.5,352.0 270.9,351.2 279.2,350.5 287.6,349.8 296.0,349.1 304.0,348.4 311.6,347.8 318.9,347.2 326.4,346.6 334.2,346.1 342.7,345.7 352.2,345.3 363.0,345.1 375.6,345.0 389.9,344.9 405.4,344.9 421.5,345.0 437.6,345.2 453.1,345.4 467.4,345.7 480.0,346.0 490.8,346.4 500.3,346.9 508.9,347.5 516.7,348.2 524.2,348.9 531.6,349.5 539.1,350.2 547.2,350.8 555.6,351.4 564.0,351.9 572.4,352.5 580.8,353.0 589.1,353.5 597.5,354.1 605.9,354.7 614.3,355.3 622.7,355.9 631.1,356.6 639.5,357.3 647.9,358.0 656.3,358.7 664.7,359.4 673.1,360.1 681.5,360.9 689.9,361.7 698.3,362.5 706.7,363.4 715.1,364.2 723.5,365.1 731.9,366.0 740.3,366.8 748.7,367.6 757.2,368.4 765.8,369.1 774.5,369.8 783.1,370.5 791.7,371.2 800.0,371.8 808.1,372.5 815.9,373.2 823.7,373.9 831.6,374.7 839.5,375.4 847.1,376.2 854.3,376.9 860.6,377.6 865.9,378.1 870.0,378.5" fill="none" stroke="#3a1f1f" stroke-width="1.3" stroke-opacity="0.72" stroke-linejoin="round"/>
<polyline points="96.0,433.0 99.4,432.1 103.8,430.9 109.1,429.5 115.1,427.9 121.3,426.2 127.7,424.5 133.9,422.9 139.7,421.5 145.2,420.2 150.8,418.9 156.4,417.6 161.9,416.3 167.5,415.1 173.1,413.9 178.7,412.7 184.3,411.5 189.9,410.3 195.5,409.1 201.1,407.9 206.7,406.8 212.2,405.6 217.8,404.6 223.4,403.5 229.0,402.6 234.6,401.8 240.2,401.0 245.7,400.3 251.3,399.6 256.9,399.0 262.4,398.4 268.0,397.8 273.6,397.2 279.0,396.5 284.2,395.9 289.4,395.2 294.6,394.6 299.9,393.9 305.6,393.3 311.6,392.8 318.3,392.3 325.4,391.9 332.8,391.5 340.6,391.1 348.7,390.8 357.2,390.5 366.1,390.3 375.4,390.3 385.3,390.3 396.0,390.5 407.7,390.8 420.0,391.2 432.6,391.7 445.3,392.3 457.6,392.9 469.3,393.4 480.0,393.8 489.7,394.2 498.7,394.6 507.2,394.9 515.3,395.3 523.2,395.6 531.1,396.0 539.0,396.4 547.2,396.8 555.6,397.3 564.0,397.8 572.4,398.4 580.8,399.0 589.1,399.5 597.5,400.1 605.9,400.7 614.3,401.3 622.7,401.8 631.1,402.3 639.5,402.8 647.9,403.3 656.3,403.9 664.7,404.4 673.1,405.1 681.5,405.8 689.9,406.6 698.3,407.5 706.7,408.5 715.1,409.5 723.5,410.5 731.9,411.6 740.3,412.6 748.7,413.6 757.2,414.6 765.8,415.6 774.5,416.6 783.1,417.7 791.7,418.7 800.0,419.6 808.1,420.6 815.9,421.4 823.7,422.2 831.6,423.0 839.5,423.7 847.1,424.4 854.3,425.1 860.6,425.6 865.9,426.1 870.0,426.5" fill="none" stroke="#3a1f1f" stroke-width="1.3" stroke-opacity="0.72" stroke-linejoin="round"/>
<polyline points="96.0,484.2 98.1,483.7 100.8,483.1 104.0,482.4 107.7,481.6 111.5,480.7 115.4,479.8 119.2,478.9 122.8,478.0 126.2,477.1 129.7,476.2 133.2,475.3 136.7,474.3 140.2,473.4 143.7,472.4 147.2,471.4 150.7,470.5 154.2,469.6 157.8,468.6 161.4,467.6 165.0,466.7 168.5,465.7 172.0,464.8 175.3,463.9 178.5,463.0 181.4,462.2 183.9,461.4 186.2,460.7 188.5,460.0 190.9,459.2 193.5,458.4 196.5,457.5 200.0,456.5 204.1,455.3 208.7,453.9 213.7,452.4 218.9,450.8 224.2,449.3 229.6,447.8 234.9,446.5 240.0,445.4 244.9,444.5 249.9,443.8 254.8,443.2 259.7,442.7 264.6,442.3 269.5,441.9 274.4,441.5 279.4,441.1 284.1,440.6 288.4,440.2 292.5,439.7 296.7,439.3 301.3,438.9 306.5,438.5 312.7,438.2 320.0,438.0 328.8,437.8 339.0,437.7 350.1,437.5 361.8,437.5 373.8,437.5 385.7,437.5 397.1,437.7 407.6,438.0 417.4,438.3 426.9,438.9 436.1,439.5 445.1,440.2 453.9,441.0 462.6,441.7 471.3,442.3 480.0,442.8 488.6,443.2 497.2,443.5 505.6,443.7 513.9,443.9 522.2,444.1 530.5,444.3 538.8,444.6 547.2,444.9 555.6,445.3 564.0,445.6 572.4,446.0 580.8,446.4 589.1,446.9 597.5,447.3 605.9,447.8 614.3,448.3 622.7,448.8 631.1,449.3 639.5,449.9 647.9,450.4 656.3,451.0 664.7,451.6 673.1,452.2 681.5,452.8 689.9,453.4 698.3,454.1 706.7,454.7 715.1,455.4 723.5,456.1 731.9,456.8 740.3,457.6 748.7,458.4 757.2,459.3 765.8,460.2 774.5,461.2 783.1,462.2 791.7,463.2 800.0,464.2 808.1,465.2 815.9,466.2 823.7,467.2 831.6,468.3 839.5,469.5 847.1,470.6 854.3,471.6 860.6,472.6 865.9,473.4 870.0,474.0" fill="none" stroke="#3a1f1f" stroke-width="1.3" stroke-opacity="0.72" stroke-linejoin="round"/>
<polyline points="179.9,513.5 181.1,512.9 182.7,512.0 184.6,511.1 186.7,510.0 189.0,508.8 191.2,507.6 193.4,506.5 195.5,505.5 197.4,504.5 199.3,503.6 201.3,502.6 203.2,501.7 205.1,500.8 207.0,499.9 209.0,499.0 211.0,498.2 213.0,497.4 215.1,496.6 217.2,495.9 219.4,495.1 221.5,494.4 223.7,493.7 225.8,493.1 228.0,492.5 230.1,491.9 232.2,491.4 234.3,491.0 236.4,490.5 238.6,490.1 240.9,489.7 243.3,489.3 245.8,488.9 248.5,488.5 251.4,488.0 254.3,487.6 257.4,487.2 260.5,486.8 263.7,486.4 266.8,486.0 270.0,485.7 272.9,485.4 275.4,485.1 277.8,484.9 280.3,484.7 283.2,484.5 286.6,484.3 290.8,484.1 296.0,484.0 302.4,483.9 309.9,483.8 318.1,483.8 326.9,483.7 336.1,483.7 345.3,483.8 354.3,483.8 363.0,484.0 371.5,484.2 380.1,484.4 388.9,484.8 397.6,485.1 406.1,485.5 414.4,485.8 422.4,486.2 430.0,486.5 436.9,486.8 443.3,487.0 449.2,487.3 455.0,487.5 460.7,487.8 466.7,488.0 473.0,488.2 480.0,488.4 487.6,488.6 495.6,488.7 503.9,488.9 512.5,489.0 521.3,489.1 530.0,489.3 538.7,489.5 547.2,489.7 555.6,490.0 564.0,490.3 572.5,490.6 580.9,490.9 589.3,491.3 597.7,491.6 606.0,492.1 614.3,492.5 622.7,493.0 631.3,493.5 640.0,494.0 648.5,494.6 656.9,495.1 664.9,495.7 672.4,496.4 679.3,497.0 685.5,497.7 691.0,498.4 696.0,499.1 700.6,499.9 705.1,500.6 709.5,501.4 714.0,502.2 718.7,502.9 723.6,503.6 728.5,504.4 733.4,505.1 738.4,505.8 743.3,506.6 748.2,507.3 753.1,508.1 758.0,508.8 762.9,509.5 767.8,510.3 772.7,511.0 777.6,511.8 782.6,512.5 787.5,513.2 792.4,514.0 797.3,514.7 802.3,515.4 807.3,516.2 812.3,516.9 817.3,517.7 822.3,518.4 827.2,519.2 832.0,519.9 836.6,520.6 841.3,521.3 846.1,522.1 851.0,522.9 855.8,523.7 860.2,524.4 864.1,525.0 867.5,525.6 870.0,526.0" fill="none" stroke="#3a1f1f" stroke-width="1.3" stroke-opacity="0.72" stroke-linejoin="round"/>
<polyline points="229.0,518.5 232.3,518.2 236.5,517.7 241.5,517.2 247.1,516.6 253.3,516.0 259.8,515.5 266.6,514.9 273.6,514.5 280.9,514.1 288.8,513.8 297.1,513.5 305.7,513.2 314.5,513.0 323.3,512.8 332.1,512.6 340.6,512.5 348.9,512.4 357.2,512.3 365.5,512.3 373.8,512.2 382.1,512.3 390.5,512.3 399.0,512.4 407.6,512.5 416.3,512.6 424.9,512.8 433.6,512.9 442.4,513.2 451.3,513.4 460.5,513.7 470.1,514.1 480.0,514.5 490.6,515.0 502.0,515.6 513.8,516.3 525.8,517.1 537.7,517.8 549.2,518.6 560.1,519.3 570.0,520.0 579.0,520.6 587.3,521.2 595.1,521.7 602.5,522.2 609.6,522.8 616.4,523.4 623.2,524.1 630.0,525.0 636.7,526.0 643.0,527.0 649.0,528.1 655.0,529.2 661.0,530.5 667.0,531.9 673.3,533.4 680.0,535.0 687.1,536.8 694.5,538.8 702.2,541.0 710.0,543.2 717.8,545.5 725.5,547.8 732.9,550.0 740.0,552.0 746.8,553.9 753.4,555.8 759.9,557.6 766.2,559.4 772.4,561.1 778.4,562.8 784.3,564.4 790.0,566.0 795.5,567.6 800.8,569.1 805.9,570.6 810.9,572.0 815.7,573.4 820.5,574.7 825.3,575.9 830.0,577.0 834.9,578.0 840.1,579.0 845.4,579.9 850.5,580.7 855.3,581.4 859.6,582.0 863.2,582.6 866.0,583.0" fill="none" stroke="#3a1f1f" stroke-width="1.3" stroke-opacity="0.72" stroke-linejoin="round"/>
<polyline points="777.0,604.0 778.7,603.8 780.8,603.6 783.3,603.4 786.2,603.1 789.4,602.8 792.8,602.5 796.3,602.3 800.0,602.0 803.9,601.8 808.3,601.5 812.9,601.2 817.7,601.0 822.5,600.8 827.4,600.5 832.1,600.2 836.6,600.0 841.2,599.7 846.0,599.5 850.8,599.2 855.6,598.9 860.1,598.6 864.1,598.4 867.4,598.2 870.0,598.0" fill="none" stroke="#3a1f1f" stroke-width="1.3" stroke-opacity="0.72" stroke-linejoin="round"/>
</g></g>
<rect x="96.2" y="854.1" width="769.0" height="480.9" fill="none" stroke="#000" stroke-width="2.2"/>
<g opacity="0.999"><path d="M101.8 1335.0V1321.0 M187.5 1335.0V1321.0 M273.2 1335.0V1321.0 M358.9 1335.0V1321.0 M444.6 1335.0V1321.0 M530.3 1335.0V1321.0 M616.0 1335.0V1321.0 M701.6 1335.0V1321.0 M787.3 1335.0V1321.0 M96.2 1309.0H110.2 M96.2 1263.0H110.2 M96.2 1216.9H110.2 M96.2 1170.8H110.2 M96.2 1124.8H110.2 M96.2 1078.8H110.2 M96.2 1032.7H110.2 M96.2 986.6H110.2 M96.2 940.6H110.2 M96.2 894.5H110.2" stroke="#1a1a1a" stroke-width="2.2" fill="none"/>
<text x="0" y="0" font-size="40.00" transform="matrix(1.0373 0 0 1.0519 67.24 1374.48)">−10</text>
<text x="0" y="0" font-size="40.00" transform="matrix(1.1071 0 0 1.0519 177.03 1374.48)">0</text>
<text x="0" y="0" font-size="40.00" transform="matrix(0.9543 0 0 1.0519 257.55 1374.48)">10</text>
<text x="0" y="0" font-size="40.00" transform="matrix(1.0492 0 0 1.0519 339.19 1374.48)">20</text>
<text x="0" y="0" font-size="40.00" transform="matrix(1.0164 0 0 1.0519 426.14 1374.48)">30</text>
<text x="0" y="0" font-size="40.00" transform="matrix(1.0532 0 0 1.0519 508.92 1374.48)">40</text>
<text x="0" y="0" font-size="40.00" transform="matrix(1.0750 0 0 1.0519 594.32 1374.48)">50</text>
<text x="0" y="0" font-size="40.00" transform="matrix(1.0326 0 0 1.0519 682.49 1374.48)">60</text>
<text x="0" y="0" font-size="40.00" transform="matrix(1.0475 0 0 1.0519 764.06 1374.48)">70</text>
<text x="0" y="0" font-size="40.00" transform="matrix(1.0250 0 0 1.0609 66.94 1322.50)">0</text>
<text x="0" y="0" font-size="40.00" transform="matrix(1.0250 0 0 1.0609 66.94 1276.24)">5</text>
<text x="0" y="0" font-size="40.00" transform="matrix(1.0250 0 0 1.0609 46.44 1230.40)">10</text>
<text x="0" y="0" font-size="40.00" transform="matrix(1.0250 0 0 1.0609 46.44 1184.24)">15</text>
<text x="0" y="0" font-size="40.00" transform="matrix(1.0250 0 0 1.0609 46.44 1138.30)">20</text>
<text x="0" y="0" font-size="40.00" transform="matrix(1.0250 0 0 1.0609 46.44 1092.14)">25</text>
<text x="0" y="0" font-size="40.00" transform="matrix(1.0250 0 0 1.0609 46.44 1046.20)">30</text>
<text x="0" y="0" font-size="40.00" transform="matrix(1.0250 0 0 1.0609 46.44 1000.04)">35</text>
<text x="0" y="0" font-size="40.00" transform="matrix(1.0250 0 0 1.0609 46.44 954.10)">40</text>
<text x="0" y="0" font-size="40.00" transform="matrix(1.0250 0 0 1.0609 46.44 907.94)">45</text>
<text x="0" y="0" font-size="40.00" font-style="italic" transform="matrix(1.1722 0 0 1.0598 438.20 1406.90)">x</text>
<text x="0" y="0" font-size="40.00" transform="matrix(1.0836 0 0 1.0656 459.27 1407.01)">, мм</text>
<text x="0" y="0" font-size="40.00" font-style="italic" transform="matrix(0 -0.9953 0.9852 0 34.13 1129.12)">y</text>
<text x="0" y="0" font-size="40.00" transform="matrix(0 -1.0777 1.0533 0 35.38 1110.62)">, мм</text>
<text x="0" y="0" font-size="40.00" transform="matrix(1.1500 0 0 0.9588 101.63 835.65)">(в)</text>
<rect x="223.40" y="802.1" width="23.91" height="24.4" fill="#25295f"/>
<rect x="246.71" y="802.1" width="23.91" height="24.4" fill="#22336e"/>
<rect x="270.01" y="802.1" width="23.91" height="24.4" fill="#0b4a88"/>
<rect x="293.31" y="802.1" width="23.91" height="24.4" fill="#136795"/>
<rect x="316.62" y="802.1" width="23.91" height="24.4" fill="#2b7f9e"/>
<rect x="339.93" y="802.1" width="23.91" height="24.4" fill="#4694ab"/>
<rect x="363.23" y="802.1" width="23.91" height="24.4" fill="#5aafc4"/>
<rect x="386.53" y="802.1" width="23.91" height="24.4" fill="#7ecbd9"/>
<rect x="409.84" y="802.1" width="23.91" height="24.4" fill="#a9dde4"/>
<rect x="433.14" y="802.1" width="23.91" height="24.4" fill="#d6ebee"/>
<rect x="456.45" y="802.1" width="23.91" height="24.4" fill="#f5e6d0"/>
<rect x="479.75" y="802.1" width="23.91" height="24.4" fill="#f2c6a5"/>
<rect x="503.06" y="802.1" width="23.91" height="24.4" fill="#eb9e84"/>
<rect x="526.37" y="802.1" width="23.91" height="24.4" fill="#e47b67"/>
<rect x="549.67" y="802.1" width="23.91" height="24.4" fill="#d2604d"/>
<rect x="572.98" y="802.1" width="23.91" height="24.4" fill="#bd4134"/>
<rect x="596.28" y="802.1" width="23.91" height="24.4" fill="#a72a25"/>
<rect x="619.59" y="802.1" width="23.91" height="24.4" fill="#8e1f29"/>
<rect x="642.89" y="802.1" width="23.91" height="24.4" fill="#7a1d3a"/>
<rect x="666.20" y="802.1" width="23.30" height="24.4" fill="#5a2146"/>
<rect x="223.4" y="802.1" width="466.1" height="24.4" fill="none" stroke="#000" stroke-width="2.2"/>
<path d="M225.1 793.1V809.1 M278.1 793.1V809.1 M331.0 793.1V809.1 M384.0 793.1V809.1 M437.0 793.1V809.1 M489.9 793.1V809.1 M542.9 793.1V809.1 M595.9 793.1V809.1 M691.2 793.1V809.1" stroke="#1a1a1a" stroke-width="2" fill="none"/>
<text x="0" y="0" font-size="40.00" transform="matrix(0.8627 0 0 0.8259 190.02 781.27)">−50</text>
<text x="0" y="0" font-size="40.00" transform="matrix(0.8929 0 0 0.8259 268.17 781.27)">0</text>
<text x="0" y="0" font-size="40.00" transform="matrix(0.8278 0 0 0.8259 315.81 781.27)">50</text>
<text x="0" y="0" font-size="40.00" transform="matrix(0.7909 0 0 0.8148 362.06 786.27)">100</text>
<text x="0" y="0" font-size="40.00" transform="matrix(0.7782 0 0 0.8148 412.45 786.27)">150</text>
<text x="0" y="0" font-size="40.00" transform="matrix(0.8304 0 0 0.8148 463.31 786.27)">200</text>
<text x="0" y="0" font-size="40.00" transform="matrix(0.8375 0 0 0.8148 518.49 786.27)">250</text>
<text x="0" y="0" font-size="40.00" transform="matrix(0.8375 0 0 0.8148 574.69 786.27)">300</text>
<text x="0" y="0" font-size="40.00" transform="matrix(0.8357 0 0 0.8148 664.55 786.27)">390</text>
<text x="0" y="0" font-size="40.00" font-style="italic" transform="matrix(0.7939 0 0 0.8321 412.71 742.20)">V</text>
<text x="0" y="0" font-size="40.00" font-style="italic" transform="matrix(0.7556 0 0 0.6576 428.35 749.50)">x</text>
<text x="0" y="0" font-size="40.00" transform="matrix(0.9188 0 0 0.8704 443.43 743.08)">, м/с</text></g>
<clipPath id="clipd"><rect x="944.8" y="850.4" width="771.0" height="485.9"/></clipPath>
<g clip-path="url(#clipd)"><g transform="translate(849.8 715.0)">
<rect x="90" y="130" width="782" height="510" fill="#b5644f"/>
<polygon points="158.6,130.0 872.0,130.0 872.0,158.0 866.0,158.0 865.5,158.2 864.8,158.1 863.9,157.9 863.0,158.0 862.0,158.4 860.9,159.4 859.8,161.2 858.6,164.1 857.4,168.2 856.2,173.5 855.0,179.6 853.7,186.3 852.3,193.3 850.8,200.4 849.1,207.2 847.4,213.4 845.4,219.3 843.2,225.2 840.8,231.0 838.3,236.8 835.8,242.4 833.5,247.9 831.4,253.2 829.5,258.2 827.9,262.9 826.5,267.1 825.2,271.1 824.1,274.9 823.1,278.8 822.2,282.8 821.3,287.0 820.6,291.7 820.0,296.8 819.5,302.1 819.1,307.7 818.7,313.5 818.5,319.3 818.4,325.1 818.3,330.9 818.3,336.5 818.4,342.1 818.6,347.8 818.9,353.5 819.2,359.2 819.6,364.7 820.0,370.1 820.3,375.2 820.6,380.0 820.8,384.4 821.1,388.6 821.3,392.5 821.5,396.2 821.6,399.8 821.8,403.3 821.9,406.6 822.0,410.0 822.1,413.3 822.2,416.6 822.3,419.7 822.4,422.8 822.4,425.7 822.4,428.5 822.2,431.1 821.8,433.6 821.3,435.9 820.7,437.9 819.9,439.8 819.1,441.6 818.1,443.3 817.1,444.9 816.1,446.4 815.0,448.0 813.9,449.5 812.8,450.9 811.8,452.3 810.6,453.6 809.3,454.9 807.8,456.1 806.0,457.4 804.0,458.6 801.7,459.8 799.0,461.1 796.2,462.3 793.2,463.4 790.0,464.6 786.7,465.7 783.4,466.9 780.0,468.0 776.6,469.1 773.1,470.2 769.6,471.3 765.9,472.4 762.2,473.4 758.3,474.5 754.4,475.5 750.4,476.5 746.3,477.5 742.0,478.5 737.6,479.4 733.1,480.4 728.6,481.3 724.0,482.2 719.5,483.1 715.0,484.0 710.7,484.9 706.6,485.8 702.6,486.6 698.5,487.5 694.2,488.3 689.6,489.2 684.6,490.0 679.0,490.8 672.7,491.6 665.6,492.4 658.1,493.2 650.3,494.0 642.4,494.8 634.5,495.6 627.0,496.3 620.0,497.0 613.5,497.7 607.3,498.3 601.3,498.9 595.4,499.4 589.6,500.0 583.8,500.5 577.8,501.0 571.7,501.5 565.4,502.0 559.1,502.4 552.7,502.9 546.3,503.3 539.8,503.7 533.3,504.1 526.7,504.6 520.0,505.0 513.0,505.5 505.7,505.9 498.1,506.4 490.6,506.9 483.3,507.4 476.4,507.9 470.1,508.3 464.6,508.6 459.9,508.9 455.7,509.1 452.0,509.3 448.8,509.5 446.1,509.7 443.7,509.8 441.7,509.9 440.0,510.0 440.0,540.0 206.0,540.0 206.0,512.6 205.9,511.0 205.7,508.9 205.4,506.4 205.2,503.6 204.9,500.6 204.6,497.5 204.3,494.3 204.0,491.2 203.7,488.1 203.3,484.9 202.9,481.5 202.6,478.0 202.2,474.5 201.8,471.0 201.4,467.5 201.0,464.1 200.6,460.7 200.2,457.3 199.9,453.9 199.5,450.5 199.1,447.1 198.8,443.7 198.4,440.3 198.0,436.9 197.6,433.5 197.3,430.1 197.0,426.7 196.6,423.3 196.3,419.9 195.9,416.5 195.5,413.1 195.0,409.7 194.5,406.2 193.9,402.7 193.2,399.2 192.6,395.6 191.9,392.1 191.2,388.8 190.6,385.5 190.0,382.5 189.5,379.8 188.9,377.3 188.4,375.1 187.9,372.9 187.5,370.8 187.0,368.5 186.5,365.9 186.0,363.1 185.5,359.9 185.0,356.5 184.5,352.9 184.0,349.2 183.5,345.4 183.0,341.6 182.5,337.7 182.0,334.0 181.5,330.3 181.0,326.8 180.5,323.3 180.1,319.7 179.6,316.1 179.1,312.3 178.5,308.2 178.0,303.9 177.4,299.2 176.8,294.1 176.2,288.8 175.6,283.3 174.9,277.8 174.3,272.3 173.6,267.0 173.0,262.0 172.4,257.3 171.8,252.8 171.2,248.6 170.6,244.3 169.9,240.0 169.3,235.6 168.7,231.0 168.0,226.0 167.3,220.6 166.5,214.9 165.7,208.9 164.9,202.8 164.1,196.6 163.3,190.5 162.6,184.6 162.0,179.0 161.4,173.4 160.9,167.6 160.4,161.7 159.9,156.1 159.5,150.8 159.2,146.0 158.8,142.0 158.6,139.0" fill="#a84d3b"/>
<polygon points="243.5,130.0 612.3,130.0 612.3,135.0 612.0,138.5 611.5,143.1 611.0,148.5 610.5,154.6 609.8,161.0 609.2,167.6 608.5,173.9 607.8,179.8 607.1,185.5 606.2,191.3 605.4,197.1 604.4,202.9 603.5,208.6 602.7,214.2 601.8,219.5 601.1,224.6 600.4,229.3 599.7,233.8 599.1,238.0 598.4,242.1 597.9,246.1 597.4,250.1 596.9,254.1 596.6,258.2 596.4,262.4 596.2,266.6 596.2,270.8 596.2,274.9 596.2,279.1 596.3,283.3 596.5,287.5 596.6,291.7 596.7,296.0 596.8,300.5 596.9,305.1 597.0,309.6 597.3,314.0 597.6,318.2 598.2,322.0 598.9,325.3 599.8,328.2 600.8,330.6 602.0,332.8 603.2,334.7 604.7,336.4 606.3,338.0 608.1,339.5 610.1,341.0 612.4,342.4 614.9,343.5 617.7,344.5 620.6,345.4 623.6,346.3 626.6,347.3 629.6,348.5 632.5,350.0 635.3,351.9 638.2,354.0 641.1,356.3 644.0,358.8 646.9,361.2 649.7,363.6 652.4,365.9 654.9,367.9 657.3,369.6 659.6,371.1 661.8,372.5 663.9,373.8 665.9,375.1 667.9,376.6 669.9,378.1 671.8,380.0 673.7,382.2 675.6,384.5 677.5,387.1 679.3,389.8 681.0,392.5 682.8,395.1 684.4,397.7 686.0,400.0 687.5,402.2 689.0,404.2 690.4,406.2 691.7,408.1 693.0,410.0 694.3,411.8 695.5,413.7 696.8,415.7 698.1,417.8 699.3,419.9 700.6,422.0 701.8,424.2 702.9,426.3 704.0,428.4 705.1,430.3 706.0,432.0 706.9,433.5 707.7,434.9 708.4,436.1 709.1,437.2 709.7,438.3 710.3,439.4 710.7,440.6 711.0,442.0 711.2,443.5 711.4,445.1 711.5,446.8 711.4,448.5 711.3,450.2 711.0,451.9 710.6,453.5 710.0,455.0 709.4,456.4 708.8,457.7 708.2,458.9 707.4,460.1 706.3,461.3 704.8,462.5 702.7,463.7 700.0,465.0 696.6,466.4 692.6,467.8 688.0,469.2 683.1,470.7 677.8,472.1 672.3,473.6 666.6,475.1 661.0,476.5 655.1,478.0 648.8,479.5 642.2,481.0 635.5,482.6 628.7,484.1 622.1,485.5 615.8,486.8 610.0,488.0 604.6,489.0 599.6,490.0 594.9,490.8 590.3,491.6 585.8,492.3 581.2,493.0 576.6,493.6 571.7,494.3 566.6,495.0 561.2,495.6 555.8,496.2 550.3,496.8 544.9,497.3 539.7,497.9 534.7,498.4 530.0,499.0 525.8,499.6 522.0,500.1 518.4,500.7 515.1,501.2 511.7,501.7 508.2,502.3 504.4,502.8 500.3,503.3 495.5,503.8 490.0,504.4 484.2,504.9 478.3,505.4 472.6,505.9 467.5,506.3 463.2,506.7 460.0,507.0 460.0,540.0 214.7,540.0 214.7,512.6 214.5,511.0 214.3,508.9 213.9,506.4 213.6,503.6 213.3,500.6 213.0,497.5 212.7,494.3 212.6,491.2 212.5,488.1 212.6,484.9 212.6,481.5 212.7,478.0 212.9,474.5 213.0,471.0 213.2,467.5 213.3,464.1 213.4,460.7 213.6,457.3 213.8,453.9 214.0,450.5 214.2,447.1 214.3,443.7 214.5,440.3 214.7,436.9 214.9,433.5 215.0,430.1 215.2,426.7 215.3,423.3 215.5,419.9 215.6,416.5 215.8,413.1 216.0,409.7 216.2,406.3 216.5,403.1 216.7,399.8 217.0,396.5 217.3,393.2 217.6,389.8 217.8,386.2 218.0,382.5 218.2,378.6 218.3,374.5 218.4,370.2 218.5,365.9 218.6,361.5 218.7,357.1 218.8,352.8 219.0,348.5 219.2,344.4 219.4,340.5 219.6,336.6 219.8,332.7 220.1,328.7 220.4,324.6 220.8,320.2 221.2,315.5 221.7,310.5 222.3,305.2 223.0,299.7 223.7,294.0 224.5,288.2 225.2,282.4 226.0,276.7 226.8,271.0 227.6,265.4 228.4,259.8 229.3,254.1 230.2,248.5 231.0,242.8 231.9,237.2 232.7,231.6 233.5,226.0 234.3,220.4 235.0,214.9 235.7,209.4 236.4,203.9 237.1,198.4 237.7,192.9 238.4,187.4 239.0,182.0 239.6,176.3 240.3,170.2 241.0,163.9 241.6,157.8 242.2,151.9 242.7,146.7 243.2,142.3 243.5,139.0" fill="#96322a"/>
<polygon points="330.6,130.0 565.3,130.0 565.3,135.0 565.5,143.9 565.8,156.2 566.2,170.8 566.5,186.8 566.9,203.4 567.2,219.5 567.4,234.4 567.5,247.0 567.4,257.5 567.3,267.0 567.0,275.5 566.7,283.4 566.3,291.0 566.0,298.5 565.6,306.1 565.3,314.1 565.0,322.4 564.7,330.8 564.3,339.2 564.0,347.5 563.7,355.8 563.4,364.0 563.2,372.1 563.0,380.0 562.8,388.0 562.6,396.3 562.4,404.6 562.3,412.7 562.2,420.5 562.3,427.8 562.6,434.4 563.0,440.0 563.7,444.6 564.7,448.4 565.8,451.4 567.1,453.9 568.4,456.1 569.7,458.0 570.9,459.9 572.0,462.0 573.0,464.1 574.1,465.9 575.2,467.6 576.2,469.1 577.2,470.6 578.0,472.0 578.6,473.5 579.0,475.0 579.2,476.6 579.3,478.2 579.2,479.8 578.9,481.4 578.5,483.0 577.9,484.4 577.1,485.8 576.0,487.0 574.7,488.0 573.2,488.9 571.6,489.7 569.7,490.4 567.6,491.1 565.3,491.7 562.8,492.3 560.0,493.0 556.9,493.7 553.5,494.3 549.8,495.0 545.9,495.6 541.9,496.2 537.8,496.8 533.8,497.4 530.0,498.0 526.2,498.5 522.5,499.1 518.8,499.6 515.0,500.1 511.2,500.5 507.5,501.0 503.8,501.5 500.0,502.0 496.0,502.5 491.8,503.1 487.4,503.7 483.1,504.2 479.1,504.8 475.4,505.3 472.3,505.7 470.0,506.0 470.0,540.0 219.0,540.0 219.0,512.6 219.1,511.0 219.2,508.9 219.3,506.4 219.4,503.6 219.5,500.6 219.7,497.5 220.0,494.3 220.3,491.2 220.7,488.1 221.1,484.7 221.6,481.1 222.2,477.5 222.8,473.9 223.4,470.4 223.9,467.1 224.5,464.1 225.0,461.4 225.6,459.0 226.1,456.8 226.7,454.7 227.3,452.6 227.8,450.4 228.4,448.1 229.0,445.6 229.6,442.9 230.2,440.0 230.8,436.9 231.3,433.8 232.0,430.7 232.6,427.6 233.3,424.4 234.0,421.3 234.8,418.3 235.6,415.3 236.4,412.2 237.3,409.2 238.2,406.2 239.1,403.1 240.1,400.1 241.0,397.1 241.9,394.1 242.9,391.1 243.9,388.2 244.9,385.2 245.9,382.3 246.9,379.2 247.9,376.1 249.0,372.8 250.1,369.4 251.2,365.8 252.3,362.2 253.4,358.5 254.6,354.7 255.7,351.0 256.9,347.3 258.0,343.7 259.1,340.2 260.1,337.0 261.1,333.8 262.1,330.6 263.1,327.2 264.3,323.7 265.6,319.8 267.0,315.5 268.6,310.8 270.4,305.6 272.3,300.1 274.2,294.3 276.3,288.5 278.4,282.5 280.5,276.7 282.6,271.0 284.7,265.4 286.9,259.8 289.2,254.1 291.5,248.5 293.8,242.8 296.1,237.2 298.3,231.6 300.4,226.0 302.5,220.4 304.5,214.9 306.5,209.4 308.4,203.9 310.3,198.4 312.2,192.9 314.1,187.4 316.0,182.0 318.0,176.3 320.1,170.2 322.2,163.9 324.3,157.8 326.2,151.9 328.0,146.7 329.5,142.3 330.6,139.0" fill="#88221e"/>
<polygon points="414.3,130.0 548.5,130.0 548.5,135.0 548.8,141.9 549.1,151.1 549.5,162.0 550.0,174.2 550.5,187.1 551.0,200.1 551.4,212.8 551.8,224.6 552.1,236.0 552.4,247.5 552.7,259.2 553.0,270.8 553.3,282.3 553.6,293.4 553.8,304.0 554.1,314.1 554.4,323.5 554.7,332.4 555.0,340.8 555.2,348.9 555.5,356.8 555.8,364.5 556.0,372.2 556.3,380.0 556.6,387.9 556.9,395.6 557.2,403.4 557.5,411.0 557.7,418.5 557.9,425.8 558.0,433.0 558.0,440.0 558.0,447.0 558.1,454.0 558.2,461.0 558.2,467.8 557.9,474.3 557.4,480.2 556.5,485.5 555.0,490.0 553.2,493.6 551.1,496.4 548.8,498.6 546.1,500.3 542.9,501.6 539.2,502.8 535.0,503.8 530.0,505.0 523.8,506.1 516.1,507.1 507.4,507.8 498.4,508.4 489.6,508.9 481.6,509.3 474.9,509.7 470.0,510.0 470.0,540.0 222.0,540.0 222.0,512.6 222.4,511.0 222.8,508.9 223.3,506.4 223.9,503.6 224.6,500.6 225.4,497.5 226.1,494.3 227.0,491.2 227.9,488.1 228.9,484.9 230.0,481.5 231.1,478.0 232.2,474.5 233.4,471.0 234.7,467.5 236.0,464.1 237.3,460.7 238.7,457.3 240.2,453.9 241.7,450.5 243.2,447.1 244.8,443.7 246.4,440.3 248.0,436.9 249.7,433.5 251.4,430.1 253.1,426.8 254.9,423.4 256.7,420.0 258.5,416.6 260.2,413.2 262.0,409.7 263.8,406.1 265.5,402.4 267.3,398.7 269.1,395.0 270.8,391.2 272.6,387.6 274.3,384.0 276.0,380.6 277.7,377.3 279.4,374.1 281.0,371.0 282.7,368.0 284.3,365.1 285.9,362.1 287.5,359.2 289.0,356.3 290.5,353.4 291.8,350.5 293.1,347.6 294.4,344.8 295.7,342.0 297.1,339.2 298.5,336.6 300.0,334.0 301.5,331.7 303.0,329.7 304.6,327.9 306.2,326.1 307.9,324.2 309.7,321.9 311.7,319.1 314.0,315.5 316.6,311.2 319.4,306.2 322.4,300.8 325.5,294.9 328.8,288.9 332.0,282.8 335.3,276.8 338.4,271.0 341.4,265.4 344.4,259.8 347.4,254.1 350.4,248.5 353.4,242.8 356.5,237.2 359.7,231.6 363.0,226.0 366.5,220.4 370.1,214.9 373.8,209.4 377.6,203.9 381.4,198.4 385.1,192.9 388.7,187.4 392.0,182.0 395.3,176.3 398.6,170.2 401.8,163.9 405.0,157.8 407.9,151.9 410.4,146.7 412.6,142.3 414.3,139.0" fill="#701e22"/>
<polygon points="476.0,178.0 477.5,176.4 479.5,174.1 481.9,171.3 484.6,168.3 487.4,165.3 490.1,162.4 492.7,159.9 495.0,158.0 497.0,156.5 498.9,155.2 500.6,154.1 502.4,153.2 504.0,152.6 505.7,152.4 507.5,152.4 509.3,152.9 511.2,153.7 513.3,154.9 515.4,156.5 517.5,158.3 519.5,160.5 521.5,162.9 523.4,165.6 525.0,168.6 526.5,171.9 527.8,175.5 529.0,179.4 530.1,183.6 531.1,188.0 532.1,192.6 533.0,197.3 533.9,202.2 534.8,207.3 535.6,212.6 536.4,218.2 537.2,223.9 537.9,229.7 538.5,235.5 539.0,241.3 539.5,247.0 539.9,252.6 540.2,258.2 540.4,263.8 540.5,269.3 540.6,274.9 540.7,280.5 540.7,286.1 540.7,291.7 540.7,297.3 540.6,302.9 540.4,308.5 540.2,314.2 540.0,319.8 539.8,325.4 539.7,331.0 539.5,336.5 539.4,341.9 539.3,347.1 539.2,352.2 539.1,357.3 539.0,362.5 538.8,368.0 538.6,373.8 538.4,380.0 538.1,386.8 537.8,394.3 537.5,402.2 537.1,410.2 536.6,418.2 536.2,426.0 535.6,433.3 535.0,440.0 534.4,446.1 533.7,451.9 533.0,457.3 532.3,462.5 531.4,467.3 530.5,471.9 529.3,476.1 528.0,480.0 526.5,483.5 525.0,486.7 523.4,489.5 521.6,492.0 519.6,494.3 517.3,496.3 514.8,498.2 512.0,500.0 508.7,501.6 504.8,503.0 500.6,504.1 496.2,505.1 491.8,506.0 487.5,506.7 483.5,507.4 480.0,508.0 476.8,508.6 473.7,509.0 470.7,509.3 468.0,509.5 465.5,509.7 463.3,509.8 461.5,509.9 460.0,510.0 460.0,540.0 223.0,540.0 223.0,512.6 223.2,512.4 223.3,512.2 223.5,512.1 223.8,511.8 224.1,511.3 224.5,510.6 225.2,509.4 226.0,507.7 227.0,505.5 228.2,502.7 229.6,499.5 231.1,496.0 232.7,492.3 234.4,488.6 236.2,485.0 238.0,481.5 239.9,478.3 241.8,475.0 243.8,471.7 245.9,468.5 248.1,465.2 250.4,461.9 252.6,458.6 255.0,455.3 257.4,452.0 260.0,448.6 262.6,445.2 265.2,441.8 267.9,438.4 270.7,435.0 273.3,431.5 276.0,428.1 278.6,424.8 281.2,421.4 283.9,418.1 286.5,414.8 289.1,411.4 291.8,408.0 294.4,404.5 297.0,401.0 299.6,397.3 302.2,393.5 304.8,389.7 307.4,385.8 310.0,381.9 312.6,377.9 315.3,373.9 318.0,369.9 320.7,365.9 323.4,362.0 326.1,358.1 328.9,354.2 331.7,350.1 334.6,346.0 337.7,341.5 341.0,336.9 344.4,331.9 348.0,326.7 351.6,321.2 355.4,315.6 359.4,309.9 363.4,304.2 367.6,298.6 372.0,293.0 376.6,287.5 381.4,282.0 386.3,276.6 391.4,271.1 396.6,265.6 401.8,260.1 406.9,254.5 412.0,249.0 417.1,243.3 422.3,237.4 427.5,231.4 432.8,225.4 437.9,219.6 442.8,214.0 447.6,208.8 452.0,204.0 456.3,199.6 460.5,195.4 464.6,191.4 468.5,187.7 472.1,184.4 475.2,181.4 477.9,179.0 480.0,177.0" fill="#592334"/>
<polygon points="232.0,512.0 232.9,511.5 234.1,510.8 235.4,510.1 236.9,509.2 238.7,508.2 240.6,507.0 242.7,505.6 245.0,504.0 247.5,502.2 250.3,500.3 253.3,498.2 256.4,495.9 259.7,493.4 263.1,490.8 266.6,488.0 270.0,485.0 273.5,481.8 277.1,478.4 280.9,474.8 284.7,471.0 288.5,467.1 292.4,463.1 296.2,459.1 300.0,455.0 303.8,450.8 307.5,446.4 311.2,441.8 315.0,437.2 318.8,432.6 322.5,428.2 326.2,423.9 330.0,420.0 333.8,416.3 337.5,412.9 341.2,409.5 345.0,406.4 348.8,403.3 352.5,400.5 356.2,397.7 360.0,395.0 363.8,392.4 367.5,390.0 371.2,387.7 375.0,385.6 378.8,383.5 382.5,381.6 386.2,379.7 390.0,378.0 393.8,376.4 397.7,374.9 401.7,373.6 405.6,372.3 409.5,371.1 413.2,370.1 416.7,369.0 420.0,368.0 423.0,367.1 425.7,366.3 428.2,365.6 430.6,365.0 432.9,364.4 435.2,363.7 437.6,362.9 440.0,362.0 442.5,360.9 445.0,359.8 447.5,358.5 450.0,357.2 452.5,355.9 455.0,354.5 457.5,353.2 460.0,352.0 462.6,350.8 465.2,349.5 467.9,348.2 470.5,347.0 473.1,345.8 475.6,344.7 477.9,343.8 480.0,343.0 481.9,342.3 483.6,341.8 485.1,341.3 486.5,340.9 487.9,340.6 489.1,340.6 490.3,340.7 491.4,341.0 492.5,341.5 493.4,342.0 494.3,342.6 495.2,343.5 495.9,344.6 496.6,346.0 497.3,347.8 498.0,350.0 498.6,352.7 499.2,355.8 499.8,359.3 500.3,363.1 500.8,367.1 501.2,371.3 501.6,375.6 502.0,380.0 502.4,384.5 502.7,389.3 503.0,394.3 503.3,399.4 503.6,404.6 503.8,409.8 503.9,414.9 504.0,420.0 504.0,425.1 504.1,430.2 504.0,435.4 503.9,440.6 503.8,445.7 503.6,450.7 503.3,455.5 503.0,460.0 502.6,464.3 502.2,468.6 501.8,472.6 501.2,476.6 500.6,480.3 499.9,483.8 499.0,487.0 498.0,490.0 496.8,492.7 495.6,495.0 494.2,497.2 492.8,499.1 491.1,500.8 489.3,502.3 487.3,503.7 485.0,505.0 482.3,506.1 479.0,507.1 475.4,507.8 471.7,508.4 468.1,508.9 464.8,509.3 462.0,509.7 460.0,510.0 460.0,540.0 232.0,540.0" fill="#462336"/>
<polygon points="90.0,345.3 95.0,345.3 95.5,345.3 96.1,345.1 96.8,344.9 97.6,344.7 98.6,344.7 99.6,345.0 100.7,345.6 102.0,346.7 103.4,348.3 105.0,350.5 106.7,353.0 108.5,355.7 110.4,358.6 112.3,361.6 114.1,364.4 115.9,367.0 117.6,369.4 119.3,371.8 120.9,374.1 122.6,376.4 124.3,378.7 126.0,381.0 127.9,383.4 129.8,385.9 131.9,388.5 134.1,391.2 136.5,393.9 138.8,396.7 141.2,399.5 143.6,402.2 145.8,404.9 147.9,407.5 149.9,410.0 151.7,412.4 153.5,414.8 155.3,417.1 157.0,419.4 158.6,421.7 160.2,424.0 161.8,426.4 163.3,428.8 164.9,431.2 166.3,433.6 167.8,436.0 169.1,438.4 170.5,440.8 171.8,443.1 173.0,445.3 174.2,447.5 175.3,449.5 176.3,451.5 177.3,453.4 178.3,455.4 179.3,457.4 180.3,459.4 181.3,461.5 182.4,463.8 183.5,466.1 184.6,468.5 185.7,470.9 186.8,473.3 187.8,475.8 188.8,478.1 189.7,480.5 190.5,482.7 191.3,485.0 192.1,487.3 192.8,489.5 193.5,491.7 194.1,493.9 194.7,496.0 195.2,498.0 195.7,500.1 196.2,502.2 196.6,504.4 196.9,506.4 197.3,508.3 197.6,510.1 197.8,511.5 198.0,512.6 198.0,540.0 90.0,540.0" fill="#bd7f69"/>
<polygon points="90.0,437.3 95.0,437.3 95.6,437.2 96.3,437.0 97.1,436.9 98.0,436.7 99.1,436.6 100.3,436.6 101.8,436.8 103.4,437.3 105.3,438.0 107.4,438.9 109.8,440.0 112.3,441.3 114.9,442.6 117.6,444.0 120.2,445.4 122.8,446.7 125.4,448.0 128.0,449.3 130.7,450.6 133.3,452.0 136.0,453.3 138.6,454.7 141.2,456.1 143.7,457.6 146.1,459.0 148.5,460.5 150.9,462.0 153.2,463.5 155.4,465.1 157.6,466.6 159.8,468.2 161.8,469.7 163.8,471.2 165.7,472.7 167.6,474.2 169.4,475.8 171.1,477.3 172.7,478.8 174.3,480.3 175.7,481.8 177.0,483.4 178.3,484.9 179.4,486.4 180.4,488.0 181.4,489.5 182.3,491.0 183.2,492.5 184.1,494.0 185.0,495.4 185.8,496.8 186.5,498.3 187.2,499.7 187.9,501.0 188.6,502.4 189.2,503.6 189.7,504.8 190.2,506.0 190.7,507.2 191.1,508.3 191.4,509.4 191.8,510.4 192.1,511.3 192.3,512.0 192.5,512.6 192.5,540.0 90.0,540.0" fill="#c29c80"/>
<ellipse cx="160.3" cy="511.5" rx="16.0" ry="9.0" fill="#c8beaa"/>
<polygon points="262.0,512.3 262.0,511.5 261.8,510.4 261.7,509.1 261.8,507.7 262.4,506.6 263.5,505.7 265.3,505.2 267.8,504.9 270.6,504.8 273.7,504.7 276.9,504.6 280.0,504.5 283.2,504.3 286.6,504.1 290.1,503.8 293.6,503.6 296.9,503.4 300.0,503.2 302.8,503.0 305.5,502.8 308.0,502.6 310.4,502.4 312.7,502.2 315.0,502.0 317.0,501.8 318.8,501.5 320.5,501.3 322.3,501.1 324.4,501.0 327.0,501.0 330.0,501.2 333.2,501.7 336.8,502.2 340.7,502.7 345.1,503.3 350.0,503.7 356.0,504.1 363.2,504.4 370.8,504.7 378.3,505.0 384.9,505.2 390.0,505.4 393.2,505.5 394.8,505.5 395.6,505.5 396.3,505.5 397.5,505.4 400.0,505.4 403.9,505.4 408.7,505.4 414.1,505.4 419.6,505.4 425.1,505.4 430.0,505.5 434.7,505.7 439.6,506.0 444.4,506.3 448.7,506.6 452.3,506.8 455.0,507.0 455.0,640.0 262.0,640.0" fill="#96322a"/>
<polygon points="262.0,512.3 262.0,511.9 261.9,511.4 261.8,510.7 261.7,510.0 261.8,509.2 262.0,508.6 262.6,508.0 263.5,507.5 264.8,507.2 266.5,506.9 268.4,506.8 270.6,506.7 272.9,506.6 275.3,506.5 277.7,506.4 280.0,506.3 282.4,506.1 284.9,506.0 287.5,505.8 290.1,505.6 292.7,505.5 295.3,505.3 297.7,505.2 300.0,505.0 302.1,504.8 304.2,504.7 306.1,504.5 308.0,504.4 309.8,504.2 311.6,504.1 313.3,503.9 315.0,503.8 316.6,503.6 318.0,503.4 319.2,503.2 320.5,503.1 321.8,502.9 323.3,502.8 325.0,502.7 327.0,502.8 329.2,503.0 331.6,503.2 334.1,503.6 336.8,504.0 339.6,504.4 342.8,504.8 346.2,505.2 350.0,505.5 354.4,505.8 359.5,506.0 365.1,506.3 370.8,506.5 376.5,506.7 381.7,506.9 386.3,507.1 390.0,507.2 392.5,507.3 394.1,507.3 395.1,507.3 395.6,507.3 396.1,507.3 396.8,507.2 398.0,507.2 400.0,507.2 402.8,507.2 406.2,507.2 410.0,507.2 414.1,507.3 418.2,507.3 422.4,507.3 426.4,507.3 430.0,507.3 433.5,507.3 437.1,507.3 440.6,507.3 444.1,507.2 447.3,507.2 450.3,507.2 452.9,507.1 455.0,507.0 456.0,506.9 455.7,506.7 454.6,506.5 453.4,506.4 452.8,506.2 453.2,505.9 455.4,505.7 460.0,505.5 467.1,505.3 476.4,505.1 487.2,504.9 499.2,504.7 512.0,504.5 525.0,504.2 537.8,503.9 550.0,503.5 562.1,503.0 574.8,502.5 587.8,501.8 600.8,501.2 613.5,500.5 625.7,499.9 636.9,499.4 647.0,498.9 655.7,498.5 663.2,498.2 669.8,497.9 675.8,497.7 681.5,497.5 687.3,497.3 693.3,497.2 700.0,497.0 707.2,496.9 714.7,496.8 722.4,496.7 730.2,496.7 737.9,496.6 745.5,496.6 752.9,496.6 760.0,496.5 766.6,496.4 772.9,496.4 779.0,496.3 784.9,496.3 790.8,496.2 796.9,496.2 803.2,496.1 810.0,496.0 817.6,495.9 826.1,495.8 835.1,495.6 844.1,495.5 852.8,495.3 860.6,495.2 867.1,495.1 872.0,495.0 874.0,495.0 874.0,597.0 872.0,597.0 869.1,596.9 865.2,596.7 860.6,596.5 855.4,596.3 850.2,596.2 845.0,596.1 839.6,596.0 833.5,595.9 827.3,595.7 821.4,595.8 816.1,596.2 812.0,596.9 809.2,598.2 807.3,600.0 806.2,602.1 805.4,604.3 804.8,606.3 804.0,608.0 803.1,609.1 802.2,609.6 801.5,610.1 800.9,610.7 800.4,611.9 800.0,614.0 799.8,617.5 799.7,622.1 799.8,627.4 799.9,632.5 800.0,636.9 800.0,640.0 262.0,640.0" fill="#bd7f69"/>
<polygon points="262.0,512.3 262.0,512.0 261.9,511.5 261.8,510.9 261.7,510.3 261.8,509.6 262.0,509.0 262.6,508.5 263.5,508.1 264.8,507.8 266.5,507.6 268.4,507.5 270.6,507.4 272.9,507.3 275.3,507.2 277.7,507.1 280.0,507.0 282.4,506.9 284.9,506.7 287.5,506.6 290.1,506.4 292.7,506.3 295.3,506.2 297.7,506.0 300.0,505.9 302.1,505.7 304.2,505.6 306.1,505.5 308.0,505.3 309.8,505.2 311.6,505.1 313.3,504.9 315.0,504.8 316.6,504.7 318.0,504.5 319.2,504.3 320.5,504.2 321.8,504.0 323.3,503.9 325.0,503.9 327.0,503.9 329.2,504.1 331.6,504.3 334.1,504.6 336.8,505.0 339.6,505.3 342.8,505.7 346.2,506.0 350.0,506.3 354.4,506.6 359.5,506.8 365.1,507.0 370.8,507.2 376.5,507.4 381.7,507.6 386.3,507.7 390.0,507.8 392.5,507.9 394.1,507.9 395.1,507.8 395.6,507.8 396.1,507.7 396.8,507.7 398.0,507.6 400.0,507.6 402.8,507.6 406.2,507.7 410.0,507.7 414.1,507.8 418.2,507.8 422.4,507.8 426.4,507.9 430.0,507.9 433.5,508.0 437.1,508.0 440.6,508.1 444.1,508.1 447.3,508.2 450.3,508.2 452.9,508.2 455.0,508.1 456.0,507.9 455.7,507.7 454.6,507.5 453.4,507.2 452.8,506.9 453.2,506.7 455.4,506.4 460.0,506.2 467.1,506.1 476.4,506.0 487.2,505.9 499.2,505.9 512.0,505.8 525.0,505.7 537.8,505.6 550.0,505.3 562.1,504.9 574.8,504.5 587.8,503.9 600.8,503.4 613.5,502.8 625.7,502.2 636.9,501.7 647.0,501.3 655.7,501.0 663.2,500.7 669.8,500.4 675.8,500.2 681.5,499.9 687.3,499.8 693.3,499.6 700.0,499.5 707.2,499.4 714.7,499.4 722.4,499.4 730.2,499.4 737.9,499.4 745.5,499.5 752.9,499.5 760.0,499.5 766.6,499.5 772.9,499.5 779.0,499.5 784.9,499.5 790.8,499.5 796.9,499.5 803.2,499.5 810.0,499.5 817.6,499.5 826.1,499.6 835.1,499.7 844.1,499.8 852.8,499.8 860.6,499.9 867.1,500.0 872.0,500.0 874.0,500.0 874.0,595.0 872.0,595.0 869.1,594.9 865.2,594.9 860.6,594.8 855.4,594.7 850.2,594.6 845.0,594.7 839.6,594.7 833.6,594.7 827.4,594.8 821.5,595.0 816.2,595.5 812.0,596.3 808.9,597.6 806.7,599.4 805.2,601.4 804.0,603.5 803.1,605.5 802.0,607.2 800.9,608.3 800.1,609.1 799.4,609.7 798.8,610.5 798.4,611.8 798.0,614.0 797.8,617.5 797.7,622.2 797.8,627.4 797.9,632.5 798.0,636.9 798.0,640.0 262.0,640.0" fill="#c29c80"/>
<polygon points="262.0,512.3 262.0,512.0 261.9,511.6 261.8,511.0 261.7,510.5 261.8,509.9 262.0,509.4 262.6,508.9 263.5,508.6 264.8,508.3 266.5,508.1 268.4,508.0 270.6,507.9 272.9,507.9 275.3,507.8 277.7,507.7 280.0,507.6 282.4,507.5 284.9,507.4 287.5,507.2 290.1,507.1 292.7,507.0 295.3,506.9 297.7,506.7 300.0,506.6 302.1,506.5 304.2,506.4 306.1,506.2 308.0,506.1 309.8,506.0 311.6,505.9 313.3,505.8 315.0,505.7 316.6,505.5 318.0,505.4 319.2,505.2 320.5,505.1 321.8,505.0 323.3,504.9 325.0,504.8 327.0,504.9 329.2,505.0 331.6,505.2 334.1,505.5 336.8,505.8 339.6,506.1 342.8,506.5 346.2,506.8 350.0,507.0 354.4,507.2 359.5,507.4 365.1,507.6 370.8,507.8 376.5,508.0 381.7,508.1 386.3,508.2 390.0,508.3 392.5,508.4 394.1,508.3 395.1,508.3 395.6,508.2 396.1,508.1 396.8,508.1 398.0,508.0 400.0,508.0 402.8,508.0 406.2,508.0 410.0,508.1 414.1,508.2 418.2,508.2 422.4,508.3 426.4,508.4 430.0,508.4 433.5,508.5 437.1,508.6 440.6,508.8 444.1,508.9 447.3,509.0 450.3,509.0 452.9,509.1 455.0,509.0 456.0,508.9 455.7,508.6 454.6,508.4 453.4,508.0 452.8,507.7 453.2,507.4 455.4,507.2 460.0,507.0 467.1,506.9 476.4,506.9 487.2,507.0 499.2,507.1 512.0,507.2 525.0,507.2 537.8,507.1 550.0,507.0 562.1,506.7 574.8,506.4 587.8,505.9 600.8,505.4 613.5,504.9 625.7,504.4 636.9,504.0 647.0,503.6 655.7,503.3 663.2,502.9 669.8,502.6 675.8,502.3 681.5,502.0 687.3,501.8 693.3,501.6 700.0,501.5 707.2,501.4 714.7,501.5 722.4,501.5 730.2,501.6 737.9,501.7 745.5,501.8 752.9,501.9 760.0,502.0 766.6,502.0 772.9,502.0 779.0,502.0 784.9,502.0 790.8,501.9 796.9,501.9 803.2,502.0 810.0,502.0 817.6,502.1 826.1,502.2 835.1,502.3 844.1,502.5 852.8,502.7 860.6,502.8 867.1,502.9 872.0,503.0 874.0,503.0 874.0,593.0 872.0,593.0 869.1,593.0 865.2,593.0 860.6,593.0 855.4,593.0 850.2,593.1 845.0,593.3 839.6,593.5 833.7,593.6 827.6,593.9 821.7,594.2 816.4,594.8 812.0,595.7 808.7,597.0 806.1,598.8 804.2,600.7 802.6,602.8 801.3,604.7 800.0,606.4 798.8,607.6 797.9,608.5 797.2,609.2 796.7,610.2 796.3,611.7 796.0,614.0 795.8,617.6 795.7,622.3 795.8,627.5 795.9,632.6 796.0,637.0 796.0,640.0 262.0,640.0" fill="#c8beaa"/>
<polygon points="262.0,512.3 262.0,512.0 261.9,511.7 261.8,511.3 261.7,510.8 261.8,510.3 262.0,509.9 262.6,509.5 263.5,509.2 264.8,509.0 266.5,508.9 268.4,508.8 270.6,508.7 272.9,508.7 275.3,508.6 277.7,508.5 280.0,508.5 282.4,508.4 284.9,508.3 287.5,508.1 290.1,508.0 292.7,507.9 295.3,507.8 297.7,507.7 300.0,507.6 302.1,507.5 304.2,507.4 306.1,507.3 308.0,507.2 309.8,507.1 311.6,507.0 313.3,506.9 315.0,506.9 316.6,506.8 318.0,506.6 319.2,506.5 320.5,506.4 321.8,506.3 323.3,506.2 325.0,506.2 327.0,506.2 329.2,506.3 331.6,506.5 334.1,506.7 336.8,507.0 339.6,507.2 342.8,507.5 346.2,507.7 350.0,507.9 354.4,508.1 359.5,508.3 365.1,508.5 370.8,508.6 376.5,508.8 381.7,508.9 386.3,509.0 390.0,509.0 392.5,509.0 394.1,509.0 395.1,508.9 395.6,508.8 396.1,508.7 396.8,508.6 398.0,508.5 400.0,508.5 402.8,508.5 406.2,508.6 410.0,508.6 414.1,508.7 418.2,508.8 422.4,508.9 426.4,509.1 430.0,509.2 433.5,509.3 437.1,509.5 440.6,509.7 444.1,509.8 447.3,510.0 450.3,510.2 452.9,510.3 455.0,510.3 456.0,510.2 455.7,510.1 454.6,509.9 453.4,509.7 452.8,509.5 453.2,509.3 455.4,509.1 460.0,509.0 467.1,508.9 476.4,508.9 487.2,508.9 499.2,508.9 512.0,508.9 525.0,508.9 537.8,508.9 550.0,508.8 562.1,508.6 574.8,508.5 587.8,508.2 600.8,508.0 613.5,507.7 625.7,507.5 636.9,507.2 647.0,507.0 655.7,506.8 663.2,506.5 669.8,506.3 675.8,506.1 681.5,505.9 687.3,505.7 693.3,505.6 700.0,505.5 707.2,505.5 714.7,505.6 722.4,505.7 730.2,505.9 737.9,506.1 745.5,506.2 752.9,506.4 760.0,506.5 766.6,506.6 772.9,506.6 779.0,506.7 784.9,506.7 790.8,506.7 796.9,506.8 803.2,506.9 810.0,507.0 817.6,507.2 826.1,507.4 835.1,507.7 844.1,508.0 852.8,508.3 860.6,508.6 867.1,508.8 872.0,509.0 874.0,509.0 874.0,591.5 872.0,591.5 869.1,591.6 865.2,591.6 860.6,591.7 855.4,591.8 850.2,592.0 845.0,592.2 839.6,592.5 833.7,592.8 827.7,593.1 821.8,593.6 816.5,594.3 812.0,595.2 808.5,596.6 805.6,598.2 803.2,600.1 801.2,602.0 799.5,603.9 798.0,605.6 796.7,606.9 795.8,607.9 795.1,608.8 794.7,610.0 794.3,611.6 794.0,614.0 793.8,617.6 793.7,622.3 793.8,627.5 793.9,632.6 794.0,637.0 794.0,640.0 262.0,640.0" fill="#b4c5c8"/>
<polygon points="262.0,512.3 262.0,512.1 261.9,511.8 261.8,511.4 261.7,511.0 261.8,510.7 262.0,510.3 262.6,510.0 263.5,509.7 264.8,509.5 266.5,509.4 268.4,509.3 270.6,509.3 272.9,509.2 275.3,509.2 277.7,509.1 280.0,509.1 282.4,509.0 284.9,508.9 287.5,508.8 290.1,508.7 292.7,508.6 295.3,508.5 297.7,508.4 300.0,508.4 302.1,508.3 304.2,508.2 306.1,508.1 308.0,508.0 309.8,507.9 311.6,507.9 313.3,507.8 315.0,507.7 316.6,507.6 318.0,507.5 319.2,507.4 320.5,507.3 321.8,507.2 323.3,507.2 325.0,507.1 327.0,507.2 329.2,507.3 331.6,507.4 334.1,507.6 336.8,507.8 339.6,508.0 342.8,508.3 346.2,508.5 350.0,508.6 354.4,508.8 359.5,508.9 365.1,509.1 370.8,509.2 376.5,509.3 381.7,509.4 386.3,509.5 390.0,509.5 392.5,509.5 394.1,509.5 395.1,509.3 395.6,509.2 396.1,509.1 396.8,509.0 398.0,508.9 400.0,508.9 402.8,508.9 406.2,508.9 410.0,509.0 414.1,509.1 418.2,509.3 422.4,509.4 426.4,509.5 430.0,509.7 433.5,509.9 437.1,510.1 440.6,510.3 444.1,510.6 447.3,510.8 450.3,511.0 452.9,511.1 455.0,511.2 456.0,511.1 455.7,511.0 454.6,510.8 453.4,510.6 452.8,510.3 453.2,510.1 455.4,509.9 460.0,509.8 467.1,509.8 476.4,509.8 487.2,509.8 499.2,509.9 512.0,509.9 525.0,510.0 537.8,510.0 550.0,510.0 562.1,509.9 574.8,509.8 587.8,509.7 600.8,509.5 613.5,509.4 625.7,509.2 636.9,509.1 647.0,509.0 655.7,508.9 663.2,508.9 669.8,508.8 675.8,508.8 681.5,508.8 687.3,508.8 693.3,508.9 700.0,509.0 707.2,509.2 714.7,509.4 722.4,509.6 730.2,509.9 737.9,510.2 745.5,510.5 752.9,510.8 760.0,511.0 766.6,511.2 772.9,511.3 779.0,511.4 784.9,511.5 790.8,511.6 796.9,511.7 803.2,511.8 810.0,512.0 817.6,512.3 826.1,512.6 835.1,512.9 844.1,513.3 852.8,513.7 860.6,514.0 867.1,514.3 872.0,514.5 874.0,514.5 874.0,590.5 872.0,590.5 869.1,590.6 865.2,590.7 860.6,590.8 855.4,591.0 850.2,591.2 845.0,591.5 839.7,591.9 833.8,592.3 827.8,592.7 822.0,593.3 816.6,594.0 812.0,595.0 808.2,596.2 805.0,597.8 802.2,599.5 799.8,601.3 797.8,603.1 796.0,604.8 794.6,606.2 793.6,607.3 793.0,608.4 792.6,609.7 792.3,611.5 792.0,614.0 791.8,617.7 791.7,622.4 791.8,627.6 791.9,632.6 792.0,637.0 792.0,640.0 262.0,640.0" fill="#8ebac0"/>
<polygon points="262.0,512.3 262.0,512.1 261.9,511.9 261.8,511.6 261.7,511.3 261.8,511.0 262.0,510.7 262.6,510.4 263.5,510.2 264.8,510.0 266.5,509.9 268.4,509.9 270.6,509.8 272.9,509.8 275.3,509.8 277.7,509.7 280.0,509.7 282.4,509.6 284.9,509.5 287.5,509.4 290.1,509.4 292.7,509.3 295.3,509.2 297.7,509.2 300.0,509.1 302.1,509.0 304.2,509.0 306.1,508.9 308.0,508.8 309.8,508.7 311.6,508.7 313.3,508.6 315.0,508.6 316.6,508.5 318.0,508.4 319.2,508.3 320.5,508.2 321.8,508.2 323.3,508.1 325.0,508.1 327.0,508.1 329.2,508.2 331.6,508.3 334.1,508.5 336.8,508.6 339.6,508.8 342.8,509.0 346.2,509.2 350.0,509.3 354.4,509.4 359.5,509.6 365.1,509.7 370.8,509.8 376.5,509.9 381.7,510.0 386.3,510.0 390.0,510.1 392.5,510.0 394.1,509.9 395.1,509.8 395.6,509.6 396.1,509.5 396.8,509.3 398.0,509.2 400.0,509.2 402.8,509.2 406.2,509.3 410.0,509.4 414.1,509.5 418.2,509.7 422.4,509.9 426.4,510.0 430.0,510.2 433.5,510.4 437.1,510.7 440.6,511.0 444.1,511.3 447.3,511.6 450.3,511.8 452.9,512.0 455.0,512.1 456.0,512.1 455.7,511.9 454.6,511.7 453.4,511.4 452.8,511.2 453.2,510.9 455.4,510.7 460.0,510.6 467.1,510.6 476.4,510.6 487.2,510.6 499.2,510.7 512.0,510.8 525.0,510.9 537.8,511.0 550.0,511.0 562.1,511.0 574.8,511.0 587.8,510.9 600.8,510.9 613.5,510.8 625.7,510.8 636.9,510.9 647.0,511.0 655.7,511.2 663.2,511.4 669.8,511.7 675.8,512.1 681.5,512.4 687.3,512.8 693.3,513.1 700.0,513.5 707.2,513.9 714.7,514.2 722.4,514.7 730.2,515.1 737.9,515.5 745.5,515.8 752.9,516.2 760.0,516.5 766.6,516.8 772.9,517.0 779.0,517.1 784.9,517.3 790.8,517.4 796.9,517.6 803.2,517.8 810.0,518.0 817.6,518.3 826.1,518.6 835.1,519.0 844.1,519.3 852.8,519.7 860.6,520.0 867.1,520.3 872.0,520.5 874.0,520.5 874.0,589.0 872.0,589.0 869.1,589.1 865.2,589.3 860.6,589.5 855.4,589.8 850.2,590.1 845.0,590.5 839.7,591.0 833.9,591.4 827.9,592.0 822.1,592.7 816.7,593.5 812.0,594.5 808.0,595.8 804.4,597.2 801.2,598.9 798.4,600.6 796.0,602.3 794.0,604.0 792.5,605.5 791.5,606.7 790.9,608.0 790.5,609.5 790.3,611.4 790.0,614.0 789.8,617.7 789.7,622.4 789.8,627.6 789.9,632.7 790.0,637.0 790.0,640.0 262.0,640.0" fill="#6aabb6"/>
<polygon points="262.0,512.3 262.0,512.2 261.9,512.0 261.8,511.7 261.7,511.5 261.8,511.2 262.0,511.0 262.6,510.7 263.5,510.6 264.8,510.5 266.5,510.4 268.4,510.3 270.6,510.3 272.9,510.2 275.3,510.2 277.7,510.2 280.0,510.1 282.4,510.1 284.9,510.0 287.5,510.0 290.1,509.9 292.7,509.8 295.3,509.8 297.7,509.7 300.0,509.7 302.1,509.6 304.2,509.6 306.1,509.5 308.0,509.4 309.8,509.4 311.6,509.3 313.3,509.3 315.0,509.2 316.6,509.2 318.0,509.1 319.2,509.0 320.5,509.0 321.8,508.9 323.3,508.9 325.0,508.9 327.0,508.9 329.2,508.9 331.6,509.0 334.1,509.2 336.8,509.3 339.6,509.5 342.8,509.6 346.2,509.7 350.0,509.9 354.4,510.0 359.5,510.1 365.1,510.2 370.8,510.3 376.5,510.4 381.7,510.4 386.3,510.5 390.0,510.5 392.5,510.4 394.1,510.3 395.1,510.1 395.6,510.0 396.1,509.8 396.8,509.6 398.0,509.5 400.0,509.5 402.8,509.5 406.2,509.6 410.0,509.7 414.1,509.9 418.2,510.0 422.4,510.2 426.4,510.4 430.0,510.6 433.5,510.9 437.1,511.2 440.6,511.5 444.1,511.9 447.3,512.2 450.3,512.5 452.9,512.7 455.0,512.8 456.0,512.8 455.7,512.7 454.6,512.5 453.4,512.2 452.8,512.0 453.2,511.7 455.4,511.5 460.0,511.4 467.1,511.3 476.4,511.3 487.2,511.4 499.2,511.4 512.0,511.5 525.0,511.5 537.8,511.6 550.0,511.7 562.1,511.8 574.8,511.8 587.8,511.9 600.8,511.9 613.5,512.1 625.7,512.2 636.9,512.5 647.0,512.8 655.7,513.3 663.2,513.8 669.8,514.5 675.8,515.2 681.5,515.9 687.3,516.7 693.3,517.4 700.0,518.0 707.2,518.6 714.7,519.2 722.4,519.8 730.2,520.4 737.9,521.0 745.5,521.5 752.9,522.0 760.0,522.5 766.6,522.9 772.9,523.3 779.0,523.6 784.9,523.8 790.8,524.1 796.9,524.4 803.2,524.7 810.0,525.0 817.6,525.4 826.1,525.8 835.1,526.2 844.1,526.7 852.8,527.1 860.6,527.4 867.1,527.8 872.0,528.0 874.0,528.0 874.0,585.0 872.0,585.0 869.1,585.3 865.2,585.6 860.6,586.0 855.4,586.5 850.2,587.1 845.0,587.7 839.7,588.4 834.0,589.2 828.1,590.1 822.3,591.0 816.8,592.1 812.0,593.3 807.7,594.7 803.8,596.2 800.2,597.9 797.0,599.7 794.3,601.4 792.0,603.2 790.4,604.8 789.3,606.2 788.8,607.6 788.4,609.2 788.3,611.3 788.0,614.0 787.8,617.8 787.7,622.5 787.8,627.7 787.9,632.7 788.0,637.0 788.0,640.0 262.0,640.0" fill="#4c93a5"/>
<polygon points="262.0,512.3 262.0,512.2 261.9,512.0 261.8,511.9 261.7,511.6 261.8,511.4 262.0,511.3 262.6,511.1 263.5,511.0 264.8,510.9 266.5,510.8 268.4,510.8 270.6,510.7 272.9,510.7 275.3,510.7 277.7,510.7 280.0,510.6 282.4,510.6 284.9,510.5 287.5,510.5 290.1,510.4 292.7,510.4 295.3,510.3 297.7,510.3 300.0,510.3 302.1,510.2 304.2,510.2 306.1,510.1 308.0,510.1 309.8,510.0 311.6,510.0 313.3,510.0 315.0,509.9 316.6,509.9 318.0,509.8 319.2,509.8 320.5,509.7 321.8,509.7 323.3,509.6 325.0,509.6 327.0,509.6 329.2,509.7 331.6,509.8 334.1,509.9 336.8,510.0 339.6,510.1 342.8,510.2 346.2,510.3 350.0,510.4 354.4,510.5 359.5,510.6 365.1,510.7 370.8,510.7 376.5,510.8 381.7,510.9 386.3,510.9 390.0,510.9 392.5,510.8 394.1,510.7 395.1,510.5 395.6,510.3 396.1,510.1 396.8,509.9 398.0,509.8 400.0,509.8 402.8,509.8 406.2,509.9 410.0,510.0 414.1,510.2 418.2,510.4 422.4,510.6 426.4,510.8 430.0,511.0 433.5,511.3 437.1,511.7 440.6,512.1 444.1,512.5 447.3,512.8 450.3,513.2 452.9,513.4 455.0,513.6 456.0,513.6 455.7,513.4 454.6,513.2 453.4,513.0 452.8,512.7 453.2,512.5 455.4,512.3 460.0,512.2 467.1,512.2 476.4,512.2 487.2,512.3 499.2,512.4 512.0,512.5 525.0,512.7 537.8,512.8 550.0,513.0 562.1,513.2 574.8,513.3 587.8,513.4 600.8,513.6 613.5,513.8 625.7,514.1 636.9,514.5 647.0,515.0 655.7,515.6 663.2,516.4 669.8,517.3 675.8,518.2 681.5,519.2 687.3,520.2 693.3,521.1 700.0,522.0 707.2,522.9 714.7,523.7 722.4,524.6 730.2,525.5 737.9,526.3 745.5,527.1 752.9,527.9 760.0,528.5 766.6,529.0 772.9,529.5 779.0,529.8 784.9,530.1 790.8,530.4 796.9,530.7 803.2,531.1 810.0,531.5 817.6,532.0 826.1,532.6 835.1,533.3 844.1,533.9 852.8,534.6 860.6,535.2 867.1,535.6 872.0,536.0 874.0,536.0 874.0,580.0 872.0,580.0 869.1,580.4 865.2,581.0 860.6,581.6 855.4,582.4 850.2,583.3 845.0,584.2 839.7,585.2 834.0,586.4 828.2,587.6 822.4,588.9 816.9,590.3 812.0,591.8 807.5,593.4 803.2,595.1 799.2,596.8 795.6,598.7 792.5,600.5 790.0,602.4 788.2,604.1 787.2,605.7 786.6,607.2 786.4,609.0 786.2,611.2 786.0,614.0 785.8,617.8 785.7,622.6 785.8,627.7 785.9,632.7 786.0,637.0 786.0,640.0 262.0,640.0" fill="#3b7c90"/>
<polygon points="262.0,512.3 262.0,512.2 261.9,512.1 261.8,512.0 261.7,511.8 261.8,511.7 262.0,511.6 262.6,511.4 263.5,511.3 264.8,511.3 266.5,511.2 268.4,511.2 270.6,511.2 272.9,511.2 275.3,511.1 277.7,511.1 280.0,511.1 282.4,511.1 284.9,511.0 287.5,511.0 290.1,511.0 292.7,510.9 295.3,510.9 297.7,510.9 300.0,510.8 302.1,510.8 304.2,510.8 306.1,510.7 308.0,510.7 309.8,510.7 311.6,510.7 313.3,510.6 315.0,510.6 316.6,510.6 318.0,510.5 319.2,510.5 320.5,510.5 321.8,510.4 323.3,510.4 325.0,510.4 327.0,510.4 329.2,510.4 331.6,510.5 334.1,510.6 336.8,510.6 339.6,510.7 342.8,510.8 346.2,510.9 350.0,510.9 354.4,511.0 359.5,511.1 365.1,511.1 370.8,511.2 376.5,511.3 381.7,511.3 386.3,511.3 390.0,511.3 392.5,511.2 394.1,511.0 395.1,510.8 395.6,510.6 396.1,510.4 396.8,510.2 398.0,510.1 400.0,510.1 402.8,510.1 406.2,510.2 410.0,510.3 414.1,510.5 418.2,510.7 422.4,511.0 426.4,511.2 430.0,511.5 433.5,511.8 437.1,512.2 440.6,512.6 444.1,513.0 447.3,513.5 450.3,513.8 452.9,514.1 455.0,514.3 456.0,514.3 455.7,514.2 454.6,514.0 453.4,513.7 452.8,513.5 453.2,513.2 455.4,513.1 460.0,513.0 467.1,513.0 476.4,513.1 487.2,513.2 499.2,513.4 512.0,513.6 525.0,513.8 537.8,514.0 550.0,514.3 562.1,514.6 574.8,514.8 587.8,515.0 600.8,515.3 613.5,515.7 625.7,516.1 636.9,516.6 647.0,517.3 655.7,518.1 663.2,519.1 669.8,520.2 675.8,521.4 681.5,522.6 687.3,523.8 693.3,524.9 700.0,526.0 707.2,527.0 714.7,528.0 722.4,529.1 730.2,530.0 737.9,531.0 745.5,531.9 752.9,532.7 760.0,533.5 766.6,534.1 772.9,534.6 779.0,535.0 784.9,535.3 790.8,535.7 796.9,536.1 803.2,536.7 810.0,537.5 817.6,538.6 826.1,540.0 835.1,541.5 844.1,543.1 852.8,544.7 860.6,546.2 867.1,547.4 872.0,548.3 874.0,548.3 874.0,571.8 872.0,571.8 869.1,572.5 865.2,573.4 860.6,574.4 855.4,575.7 850.2,577.0 845.0,578.5 839.7,580.0 834.1,581.7 828.3,583.5 822.6,585.5 817.0,587.4 812.0,589.3 807.2,591.3 802.6,593.3 798.2,595.4 794.2,597.5 790.7,599.5 788.0,601.6 786.1,603.5 785.0,605.2 784.5,606.9 784.3,608.9 784.2,611.1 784.0,614.0 783.8,617.8 783.7,622.6 783.8,627.8 783.9,632.8 784.0,637.0 784.0,640.0 262.0,640.0" fill="#246b85"/>
<polygon points="262.0,512.3 262.0,512.2 261.9,512.2 261.8,512.1 261.7,512.0 261.8,511.9 262.0,511.8 262.6,511.7 263.5,511.7 264.8,511.6 266.5,511.6 268.4,511.6 270.6,511.6 272.9,511.6 275.3,511.5 277.7,511.5 280.0,511.5 282.4,511.5 284.9,511.5 287.5,511.5 290.1,511.4 292.7,511.4 295.3,511.4 297.7,511.4 300.0,511.4 302.1,511.3 304.2,511.3 306.1,511.3 308.0,511.3 309.8,511.3 311.6,511.2 313.3,511.2 315.0,511.2 316.6,511.2 318.0,511.1 319.2,511.1 320.5,511.1 321.8,511.1 323.3,511.1 325.0,511.1 327.0,511.1 329.2,511.1 331.6,511.1 334.1,511.2 336.8,511.2 339.6,511.3 342.8,511.3 346.2,511.4 350.0,511.4 354.4,511.5 359.5,511.5 365.1,511.6 370.8,511.6 376.5,511.7 381.7,511.7 386.3,511.7 390.0,511.6 392.5,511.5 394.1,511.4 395.1,511.1 395.6,510.9 396.1,510.7 396.8,510.5 398.0,510.4 400.0,510.3 402.8,510.4 406.2,510.5 410.0,510.6 414.1,510.8 418.2,511.0 422.4,511.3 426.4,511.5 430.0,511.8 433.5,512.2 437.1,512.6 440.6,513.1 444.1,513.5 447.3,514.0 450.3,514.4 452.9,514.7 455.0,514.9 456.0,515.0 455.7,514.9 454.6,514.7 453.4,514.5 452.8,514.2 453.2,514.0 455.4,513.8 460.0,513.8 467.1,513.9 476.4,514.0 487.2,514.1 499.2,514.3 512.0,514.5 525.0,514.8 537.8,515.1 550.0,515.5 562.1,515.9 574.8,516.3 587.8,516.7 600.8,517.1 613.5,517.6 625.7,518.2 636.9,519.0 647.0,519.8 655.7,520.8 663.2,522.0 669.8,523.3 675.8,524.7 681.5,526.1 687.3,527.5 693.3,528.8 700.0,530.0 707.2,531.1 714.7,532.2 722.4,533.3 730.2,534.4 737.9,535.4 745.5,536.3 752.9,537.2 760.0,538.0 766.6,538.7 772.9,539.3 779.0,539.7 784.9,540.2 790.8,540.6 796.9,541.1 803.2,541.7 810.0,542.5 817.6,543.5 826.1,544.7 835.1,546.1 844.1,547.5 854.1,548.0 857.0,549.5 859.5,551.8 861.4,554.8 862.6,558.3 863.0,562.0 862.6,568.3 861.4,574.1 859.5,579.1 857.0,583.0 854.1,585.4 846.7,586.2 840.6,586.7 835.0,587.1 830.0,587.5 825.6,587.8 821.3,588.1 817.2,588.3 813.2,588.5 809.6,588.8 806.1,589.2 802.9,589.8 800.0,590.5 797.4,591.4 795.1,592.5 793.1,593.7 791.4,595.0 789.8,596.4 788.4,597.8 787.2,599.3 786.0,600.8 785.0,602.2 784.2,603.6 783.6,605.0 783.1,606.4 782.8,608.0 782.5,609.7 782.2,611.7 782.0,614.0 781.8,616.8 781.7,620.2 781.7,624.0 781.8,627.8 781.8,631.6 781.9,635.0 782.0,637.9 782.0,640.0 262.0,640.0" fill="#10577d"/>
<polygon points="262.0,512.3 262.0,512.3 261.9,512.2 261.8,512.2 261.7,512.1 261.8,512.1 262.0,512.0 262.6,512.0 263.5,512.0 264.8,511.9 266.5,511.9 268.4,511.9 270.6,511.9 272.9,511.9 275.3,511.9 277.7,511.9 280.0,511.9 282.4,511.9 284.9,511.9 287.5,511.8 290.1,511.8 292.7,511.8 295.3,511.8 297.7,511.8 300.0,511.8 302.1,511.8 304.2,511.8 306.1,511.8 308.0,511.7 309.8,511.7 311.6,511.7 313.3,511.7 315.0,511.7 316.6,511.7 318.0,511.7 319.2,511.7 320.5,511.7 321.8,511.6 323.3,511.6 325.0,511.6 327.0,511.6 329.2,511.6 331.6,511.7 334.1,511.7 336.8,511.7 339.6,511.7 342.8,511.8 346.2,511.8 350.0,511.8 354.4,511.9 359.5,511.9 365.1,511.9 370.8,512.0 376.5,512.0 381.7,512.0 386.3,512.0 390.0,511.9 392.5,511.8 394.1,511.6 395.1,511.4 395.6,511.2 396.1,510.9 396.8,510.7 398.0,510.6 400.0,510.5 402.8,510.6 406.2,510.7 410.0,510.8 414.1,511.0 418.2,511.3 422.4,511.5 426.4,511.8 430.0,512.1 433.5,512.5 437.1,512.9 440.6,513.4 444.1,514.0 447.3,514.5 450.3,514.9 452.9,515.2 455.0,515.5 456.0,515.5 455.7,515.5 454.6,515.3 453.4,515.1 452.8,514.9 453.2,514.7 455.4,514.6 460.0,514.6 467.1,514.7 476.4,514.8 487.2,515.0 499.2,515.2 512.0,515.5 525.0,515.9 537.8,516.3 550.0,516.8 562.1,517.4 574.8,518.0 587.8,518.7 600.8,519.5 613.5,520.4 625.7,521.3 636.9,522.3 647.0,523.3 655.7,524.5 663.2,525.8 669.8,527.1 675.8,528.6 681.5,530.0 687.3,531.5 693.3,532.8 700.0,534.0 707.2,535.1 714.7,536.1 722.4,537.1 730.2,538.0 737.9,538.9 745.5,539.8 752.9,540.7 760.0,541.5 766.6,542.3 772.9,543.0 779.0,543.8 784.9,544.4 790.8,545.1 796.9,545.9 803.2,546.6 810.0,547.5 817.6,548.5 826.1,549.6 835.1,550.9 841.6,551.3 844.5,552.6 847.0,554.7 848.9,557.4 850.1,560.6 850.5,564.0 850.1,569.7 848.9,575.1 847.0,579.6 844.5,583.1 841.6,585.4 835.0,586.1 830.0,586.5 825.6,586.8 821.3,587.1 817.3,587.3 813.4,587.5 809.7,587.8 806.2,588.2 803.0,588.8 800.0,589.5 797.2,590.4 794.7,591.5 792.4,592.7 790.4,594.1 788.5,595.5 786.8,597.0 785.3,598.5 784.0,600.0 782.9,601.5 782.1,603.0 781.4,604.5 781.0,606.0 780.7,607.7 780.4,609.6 780.2,611.7 780.0,614.0 779.8,616.9 779.7,620.3 779.7,624.0 779.8,627.9 779.8,631.6 779.9,635.0 780.0,637.9 780.0,640.0 262.0,640.0" fill="#093e72"/>
<polygon points="262.0,512.3 262.0,512.3 261.9,512.3 261.8,512.3 261.7,512.2 261.8,512.2 262.0,512.2 262.6,512.2 263.5,512.2 264.8,512.1 266.5,512.1 268.4,512.1 270.6,512.1 272.9,512.1 275.3,512.1 277.7,512.1 280.0,512.1 282.4,512.1 284.9,512.1 287.5,512.1 290.1,512.1 292.7,512.1 295.3,512.1 297.7,512.1 300.0,512.1 302.1,512.1 304.2,512.1 306.1,512.1 308.0,512.1 309.8,512.1 311.6,512.1 313.3,512.0 315.0,512.0 316.6,512.0 318.0,512.0 319.2,512.0 320.5,512.0 321.8,512.0 323.3,512.0 325.0,512.0 327.0,512.0 329.2,512.0 331.6,512.0 334.1,512.0 336.8,512.1 339.6,512.1 342.8,512.1 346.2,512.1 350.0,512.1 354.4,512.1 359.5,512.1 365.1,512.2 370.8,512.2 376.5,512.2 381.7,512.2 386.3,512.2 390.0,512.1 392.5,512.0 394.1,511.8 395.1,511.6 395.6,511.3 396.1,511.1 396.8,510.9 398.0,510.7 400.0,510.7 402.8,510.7 406.2,510.8 410.0,511.0 414.1,511.2 418.2,511.5 422.4,511.7 426.4,512.0 430.0,512.3 433.5,512.7 437.1,513.2 440.6,513.7 444.1,514.2 447.3,514.7 450.3,515.2 452.9,515.6 455.0,515.8 456.0,515.9 455.7,515.9 454.6,515.8 453.4,515.6 452.8,515.4 453.2,515.3 455.4,515.3 460.0,515.4 467.1,515.7 476.4,516.1 487.2,516.6 499.2,517.1 512.0,517.7 525.0,518.4 537.8,519.1 550.0,519.8 562.1,520.5 574.8,521.3 587.8,522.0 600.8,522.8 613.5,523.7 625.7,524.7 636.9,525.7 647.0,526.8 655.7,528.1 663.2,529.5 669.8,531.1 675.8,532.7 681.5,534.3 687.3,535.8 693.3,537.3 700.0,538.5 707.2,539.6 714.7,540.5 722.4,541.3 730.2,542.0 737.9,542.7 745.5,543.4 752.9,544.2 760.0,545.0 766.6,545.9 772.9,546.9 779.0,547.9 784.9,549.0 790.8,550.0 796.9,551.0 803.2,552.0 810.0,553.0 817.6,554.0 821.1,554.4 824.0,555.7 826.5,557.8 828.4,560.5 829.6,563.6 830.0,567.0 829.6,572.1 828.4,576.9 826.5,581.0 824.0,584.2 821.1,586.1 817.3,586.8 813.5,587.0 809.8,587.3 806.4,587.7 803.1,588.3 800.0,589.0 797.1,589.9 794.3,590.9 791.8,592.1 789.4,593.4 787.2,594.7 785.2,596.2 783.5,597.7 782.0,599.2 780.8,600.8 779.9,602.3 779.3,603.9 778.9,605.6 778.6,607.4 778.4,609.4 778.2,611.6 778.0,614.0 777.8,616.9 777.7,620.3 777.7,624.1 777.8,627.9 777.8,631.7 777.9,635.1 778.0,637.9 778.0,640.0 262.0,640.0" fill="#1b2958"/>
<polygon points="460.0,516.5 466.9,517.0 476.0,517.5 486.9,518.2 498.9,518.9 511.8,519.8 524.9,520.8 537.8,521.8 550.0,523.0 562.1,524.3 574.8,525.8 587.8,527.5 600.8,529.2 613.5,531.0 625.7,532.7 636.9,534.4 647.0,536.0 655.7,537.5 663.2,539.1 669.8,540.6 675.8,542.1 681.5,543.5 687.3,544.9 693.3,546.0 700.0,547.0 707.2,547.7 714.7,548.2 722.4,548.5 730.2,548.8 737.9,548.9 745.5,549.2 752.9,549.5 760.0,550.0 766.6,550.7 772.9,551.5 779.0,552.3 784.9,553.2 790.8,554.2 798.7,554.9 801.6,556.8 804.1,559.9 806.0,564.0 807.2,568.7 807.6,573.8 807.2,578.0 806.0,581.9 804.1,585.2 801.6,587.8 798.7,589.4 793.9,590.0 791.1,591.1 788.4,592.4 785.9,593.8 783.6,595.3 781.7,596.8 780.0,598.4 778.7,600.0 777.8,601.7 777.2,603.4 776.8,605.2 776.5,607.2 776.3,609.2 776.2,611.5 776.0,614.0 775.8,616.9 775.7,620.4 775.7,624.1 775.8,628.0 775.8,631.7 775.9,635.1 776.0,637.9 776.0,640.0 460.0,640.0" fill="#1e214c"/>
<polygon points="90.0,512.3 248.6,512.3 249.0,509.5 263.0,509.5 263.5,512.3 327.5,512.3 328.0,506.4 350.0,506.4 350.5,508.8 390.6,508.8 393.0,510.6 430.0,512.5 432.4,512.9 435.4,513.3 438.8,513.8 442.8,514.4 447.4,515.1 452.6,515.9 458.3,516.6 464.6,517.5 472.0,518.4 480.7,519.5 490.3,520.7 500.3,521.9 510.3,523.1 519.9,524.3 528.6,525.4 536.0,526.5 542.0,527.5 547.1,528.4 551.4,529.2 555.2,530.1 558.8,530.9 562.3,531.7 566.0,532.5 570.2,533.4 574.8,534.3 579.4,535.2 584.2,536.2 589.0,537.1 593.8,538.1 598.5,539.0 603.1,539.9 607.5,540.8 611.6,541.6 615.6,542.2 619.3,542.9 623.0,543.5 626.8,544.1 630.6,544.9 634.6,545.9 638.9,547.1 643.6,548.6 648.6,550.4 653.8,552.5 659.1,554.6 664.3,556.7 669.5,558.8 674.4,560.6 678.9,562.2 683.0,563.4 686.7,564.4 690.2,565.3 693.6,566.0 696.9,566.7 700.3,567.4 703.8,568.3 707.6,569.4 711.6,570.6 715.9,571.9 720.2,573.3 724.6,574.7 729.0,576.3 733.4,577.9 737.7,579.6 741.9,581.5 746.1,583.7 750.6,586.2 755.1,588.9 759.4,591.6 763.6,594.3 767.3,596.7 770.4,598.8 772.8,600.3 774.4,601.3 775.2,601.8 775.4,601.9 775.2,601.8 774.7,601.6 774.2,601.3 773.8,601.1 773.7,601.0 773.7,640.0 90.0,640.0" fill="#2e1f21"/>
<polyline points="96.0,191.0 101.0,190.3 107.6,189.3 115.4,188.1 124.1,186.8 133.5,185.4 143.1,184.0 152.7,182.6 162.0,181.4 171.2,180.2 180.7,179.1 190.4,177.9 200.3,176.8 210.3,175.7 220.4,174.6 230.3,173.5 240.2,172.5 249.9,171.5 259.5,170.5 269.0,169.6 278.6,168.7 288.2,167.8 298.0,166.9 308.0,166.2 318.3,165.4 329.0,164.7 340.2,164.0 351.7,163.3 363.3,162.7 374.9,162.1 386.2,161.6 397.2,161.2 407.6,160.9 417.5,160.7 427.0,160.6 436.2,160.6 445.2,160.6 454.0,160.7 462.7,160.9 471.3,161.1 480.0,161.3 488.6,161.6 497.2,161.9 505.6,162.3 513.9,162.7 522.2,163.1 530.5,163.6 538.8,164.1 547.2,164.7 555.6,165.3 564.0,165.9 572.4,166.6 580.8,167.4 589.1,168.1 597.5,168.8 605.9,169.6 614.3,170.3 622.7,171.0 631.1,171.7 639.5,172.3 647.9,173.0 656.3,173.7 664.7,174.4 673.1,175.1 681.5,175.9 689.9,176.7 698.3,177.6 706.7,178.5 715.1,179.4 723.5,180.3 731.9,181.1 740.3,182.0 748.7,182.7 757.2,183.4 765.8,184.0 774.5,184.5 783.1,185.0 791.7,185.5 800.0,186.0 808.1,186.5 815.9,187.1 823.7,187.7 831.6,188.4 839.5,189.1 847.1,189.8 854.3,190.5 860.6,191.1 865.9,191.6 870.0,192.0" fill="none" stroke="#3a1f1f" stroke-width="1.3" stroke-opacity="0.72" stroke-linejoin="round"/>
<polyline points="96.0,240.0 101.1,239.2 107.7,238.1 115.7,236.7 124.5,235.3 133.9,233.7 143.6,232.2 153.0,230.7 162.0,229.4 170.7,228.2 179.5,227.0 188.4,225.9 197.4,224.8 206.5,223.7 215.5,222.6 224.5,221.5 233.5,220.5 242.5,219.5 251.5,218.4 260.5,217.4 269.5,216.4 278.5,215.4 287.4,214.5 296.2,213.6 304.9,212.7 313.2,211.9 321.0,211.0 328.5,210.2 336.1,209.4 344.0,208.6 352.4,208.0 361.6,207.5 371.9,207.1 383.7,206.9 397.0,206.8 411.2,206.8 425.9,207.0 440.7,207.2 454.9,207.4 468.2,207.7 480.0,208.0 490.4,208.3 499.7,208.7 508.2,209.1 516.2,209.6 523.8,210.1 531.4,210.7 539.1,211.2 547.2,211.8 555.6,212.4 564.0,213.0 572.4,213.7 580.8,214.4 589.1,215.1 597.5,215.9 605.9,216.6 614.3,217.4 622.7,218.2 631.1,219.0 639.5,219.9 647.9,220.8 656.3,221.6 664.7,222.5 673.1,223.3 681.5,224.1 689.9,224.9 698.3,225.6 706.7,226.3 715.1,227.0 723.5,227.7 731.9,228.4 740.3,229.1 748.7,229.7 757.2,230.3 765.8,230.9 774.5,231.5 783.1,232.1 791.7,232.6 800.0,233.1 808.1,233.7 815.9,234.2 823.7,234.7 831.6,235.3 839.5,235.8 847.1,236.4 854.3,236.9 860.6,237.3 865.9,237.7 870.0,238.0" fill="none" stroke="#3a1f1f" stroke-width="1.3" stroke-opacity="0.72" stroke-linejoin="round"/>
<polyline points="96.0,288.0 101.1,287.0 107.8,285.6 115.9,283.9 124.8,282.1 134.3,280.2 143.9,278.3 153.3,276.6 162.0,275.2 170.4,274.0 178.9,272.9 187.5,271.9 196.1,270.9 204.7,270.0 213.0,269.2 221.2,268.3 229.0,267.4 236.5,266.5 243.7,265.6 250.7,264.7 257.6,263.8 264.4,263.0 271.1,262.2 277.9,261.4 284.8,260.7 291.7,260.0 298.5,259.4 305.2,258.8 312.0,258.2 318.9,257.7 325.9,257.2 333.1,256.7 340.6,256.2 348.4,255.7 356.4,255.3 364.7,254.8 373.1,254.4 381.6,254.0 390.2,253.7 398.9,253.5 407.6,253.3 416.4,253.2 425.4,253.3 434.6,253.4 443.8,253.5 453.0,253.7 462.1,254.0 471.2,254.2 480.0,254.5 488.6,254.8 497.2,255.1 505.6,255.4 513.9,255.8 522.2,256.2 530.5,256.7 538.8,257.2 547.2,257.7 555.6,258.3 564.0,258.9 572.4,259.6 580.8,260.3 589.1,261.0 597.5,261.8 605.9,262.5 614.3,263.3 622.7,264.1 631.1,264.9 639.5,265.7 647.9,266.6 656.3,267.4 664.7,268.3 673.1,269.2 681.5,270.0 689.9,270.8 698.3,271.7 706.7,272.6 715.1,273.4 723.5,274.3 731.9,275.1 740.3,275.9 748.7,276.7 757.2,277.5 765.8,278.2 774.5,278.9 783.1,279.7 791.7,280.4 800.0,281.0 808.1,281.7 815.9,282.3 823.7,282.9 831.6,283.5 839.5,284.2 847.1,284.8 854.3,285.3 860.6,285.8 865.9,286.2 870.0,286.5" fill="none" stroke="#3a1f1f" stroke-width="1.3" stroke-opacity="0.72" stroke-linejoin="round"/>
<polyline points="96.0,336.5 101.1,335.3 108.0,333.6 116.3,331.5 125.4,329.3 134.9,327.0 144.5,324.8 153.7,322.7 162.0,321.0 169.7,319.5 177.2,318.2 184.5,317.0 191.8,315.9 198.9,314.9 206.0,313.9 213.0,313.0 220.0,312.0 226.7,311.1 232.9,310.2 238.8,309.3 244.8,308.5 251.1,307.7 257.8,307.0 265.2,306.2 273.6,305.4 282.9,304.6 292.8,303.7 303.3,302.8 314.3,301.9 325.9,301.0 337.9,300.3 350.3,299.7 363.0,299.3 376.6,299.1 391.5,299.0 407.0,299.0 422.9,299.2 438.6,299.4 453.6,299.7 467.6,300.1 480.0,300.5 490.8,301.0 500.3,301.5 508.9,302.2 516.7,302.9 524.2,303.6 531.6,304.4 539.1,305.1 547.2,305.8 555.6,306.5 564.0,307.2 572.4,307.9 580.8,308.6 589.1,309.4 597.5,310.1 605.9,310.8 614.3,311.4 622.7,312.0 631.1,312.6 639.5,313.1 647.9,313.6 656.3,314.2 664.7,314.7 673.1,315.3 681.5,315.9 689.9,316.5 698.3,317.2 706.7,317.9 715.1,318.6 723.5,319.3 731.9,320.0 740.3,320.7 748.7,321.5 757.2,322.3 765.8,323.1 774.5,324.0 783.1,324.9 791.7,325.7 800.0,326.6 808.1,327.4 815.9,328.2 823.7,329.0 831.6,329.7 839.5,330.5 847.1,331.3 854.3,332.0 860.6,332.6 865.9,333.1 870.0,333.5" fill="none" stroke="#3a1f1f" stroke-width="1.3" stroke-opacity="0.72" stroke-linejoin="round"/>
<polyline points="96.0,385.4 101.3,384.4 108.5,382.9 117.1,381.2 126.6,379.3 136.4,377.4 145.9,375.5 154.6,373.9 162.0,372.5 168.2,371.4 173.7,370.5 178.7,369.7 183.3,369.0 187.6,368.3 191.8,367.7 195.9,367.1 200.0,366.5 203.8,365.9 207.0,365.4 209.9,364.9 212.7,364.4 215.7,363.9 219.3,363.3 223.6,362.7 229.0,362.0 235.4,361.2 242.6,360.2 250.4,359.2 258.8,358.2 267.6,357.1 276.8,356.1 286.3,355.0 296.0,354.0 306.0,353.0 316.6,351.8 327.5,350.7 338.8,349.6 350.2,348.5 361.8,347.6 373.4,346.9 385.0,346.4 396.4,346.2 407.7,346.2 419.1,346.4 430.6,346.7 442.3,347.2 454.4,347.7 466.9,348.2 480.0,348.8 493.5,349.4 507.3,350.0 521.4,350.7 535.9,351.5 551.0,352.3 566.6,353.2 582.9,354.2 600.0,355.3 618.4,356.5 638.4,357.8 659.3,359.1 680.6,360.6 701.9,362.0 722.6,363.5 742.1,365.0 760.0,366.5 776.9,368.0 793.6,369.7 809.7,371.5 825.0,373.2 839.0,374.8 851.4,376.3 861.9,377.6 870.0,378.5" fill="none" stroke="#3a1f1f" stroke-width="1.3" stroke-opacity="0.72" stroke-linejoin="round"/>
<polyline points="96.0,441.7 99.3,440.8 103.5,439.6 108.6,438.2 114.2,436.6 120.4,434.9 126.8,433.2 133.4,431.6 140.0,430.0 146.8,428.5 154.1,427.0 161.8,425.4 169.6,423.9 177.5,422.4 185.3,420.9 192.9,419.4 200.0,418.0 206.7,416.6 213.2,415.3 219.5,413.9 225.6,412.6 231.7,411.3 237.7,410.1 243.8,409.0 250.0,408.0 256.0,407.1 261.7,406.3 267.2,405.6 272.8,404.9 278.7,404.3 285.0,403.7 292.1,403.1 300.0,402.5 308.9,401.8 318.6,401.2 328.9,400.5 339.7,399.8 350.9,399.2 362.2,398.7 373.7,398.2 385.0,397.9 396.2,397.7 407.5,397.6 418.8,397.6 430.3,397.6 442.1,397.8 454.3,397.9 466.9,398.2 480.0,398.5 493.5,398.8 507.3,399.2 521.4,399.7 535.9,400.2 551.0,400.8 566.6,401.4 582.9,402.2 600.0,403.1 618.4,404.1 638.4,405.3 659.3,406.5 680.6,407.9 701.9,409.3 722.6,410.7 742.1,412.2 760.0,413.7 776.9,415.3 793.6,417.1 809.7,419.1 825.0,421.0 839.0,422.9 851.4,424.5 861.9,426.0 870.0,427.0" fill="none" stroke="#3a1f1f" stroke-width="1.3" stroke-opacity="0.72" stroke-linejoin="round"/>
<polyline points="96.0,498.0 98.6,497.3 102.0,496.5 106.0,495.4 110.5,494.2 115.3,493.0 120.3,491.7 125.2,490.3 130.0,489.0 134.8,487.6 139.8,486.1 145.0,484.5 150.2,482.9 155.5,481.3 160.6,479.8 165.4,478.3 170.0,477.0 174.1,475.9 177.7,474.9 181.1,474.0 184.4,473.1 187.7,472.3 191.3,471.4 195.4,470.5 200.0,469.4 205.3,468.2 211.1,466.9 217.3,465.5 223.8,464.0 230.4,462.6 237.0,461.3 243.6,460.1 250.0,459.0 256.0,458.1 261.7,457.3 267.2,456.7 272.8,456.1 278.7,455.6 285.0,455.1 292.1,454.5 300.0,454.0 308.9,453.4 318.6,452.8 328.9,452.3 339.7,451.7 350.9,451.2 362.2,450.7 373.7,450.3 385.0,450.0 396.2,449.8 407.5,449.7 418.8,449.6 430.3,449.6 442.1,449.7 454.3,449.8 466.9,449.9 480.0,450.0 493.5,450.1 507.3,450.1 521.4,450.2 535.9,450.3 551.0,450.5 566.6,450.8 582.9,451.2 600.0,451.7 618.4,452.4 638.4,453.2 659.3,454.1 680.6,455.2 701.9,456.3 722.6,457.5 742.1,458.8 760.0,460.1 776.9,461.6 793.6,463.4 809.7,465.3 825.0,467.3 839.0,469.2 851.4,471.0 861.9,472.4 870.0,473.5" fill="none" stroke="#3a1f1f" stroke-width="1.3" stroke-opacity="0.72" stroke-linejoin="round"/>
<polyline points="208.5,512.3 209.7,511.8 211.3,511.2 213.2,510.4 215.4,509.5 217.7,508.6 220.1,507.7 222.6,506.8 225.0,506.0 227.4,505.2 229.8,504.4 232.3,503.6 234.9,502.8 237.6,502.0 240.4,501.2 243.5,500.5 246.8,499.8 250.4,499.2 254.2,498.6 258.3,498.0 262.5,497.4 266.8,496.9 271.2,496.4 275.6,495.9 280.0,495.5 284.1,495.1 288.0,494.7 291.8,494.3 295.7,494.0 299.9,493.7 304.6,493.4 310.0,493.1 316.4,492.8 323.7,492.5 331.8,492.3 340.6,492.0 349.8,491.8 359.6,491.6 369.6,491.4 379.8,491.2 390.0,491.0 400.3,490.8 410.6,490.5 421.2,490.3 432.1,490.1 443.3,489.9 455.0,489.7 467.2,489.6 480.0,489.5 493.8,489.5 508.8,489.4 524.6,489.5 540.6,489.5 556.6,489.6 572.1,489.8 586.7,490.1 600.0,490.5 611.9,491.0 622.8,491.6 632.9,492.3 642.5,493.1 651.8,494.0 660.9,494.9 670.3,495.9 680.0,497.0 690.0,498.1 700.1,499.4 710.2,500.7 720.2,502.1 730.3,503.5 740.3,505.0 750.2,506.5 760.0,508.0 770.0,509.6 780.3,511.3 790.6,513.0 800.9,514.8 810.8,516.5 820.0,518.2 828.5,519.7 836.0,521.0 842.5,522.1 848.2,523.1 853.3,524.0 857.8,524.8 861.6,525.5 864.9,526.1 867.7,526.6 870.0,527.0" fill="none" stroke="#3a1f1f" stroke-width="1.3" stroke-opacity="0.72" stroke-linejoin="round"/>
<polyline points="262.0,510.0 264.9,509.6 268.8,509.1 273.4,508.5 278.5,507.9 283.9,507.2 289.4,506.6 294.9,506.0 300.0,505.5 304.8,505.1 309.3,504.8 313.9,504.5 318.5,504.2 323.3,504.0 328.5,503.8 334.2,503.6 340.6,503.5 347.7,503.4 355.4,503.4 363.6,503.4 372.1,503.4 380.9,503.5 389.9,503.6 398.8,503.8 407.6,504.0 416.3,504.3 425.1,504.6 434.0,505.0 443.0,505.4 452.1,505.9 461.2,506.4 470.5,506.9 480.0,507.5 489.8,508.1 499.9,508.7 510.3,509.3 520.8,510.0 531.1,510.7 541.2,511.4 550.9,512.2 560.0,513.0 568.5,513.9 576.6,514.8 584.4,515.7 591.9,516.7 599.1,517.7 606.2,518.8 613.1,519.9 620.0,521.0 626.8,522.2 633.6,523.4 640.1,524.6 646.6,525.9 652.8,527.2 658.8,528.5 664.5,529.8 670.0,531.0 675.2,532.2 680.0,533.3 684.7,534.5 689.1,535.6 693.3,536.7 697.3,537.8 701.2,538.9 705.0,540.0 708.6,541.0 711.8,542.0 714.9,543.0 717.8,543.9 720.7,544.9 723.6,545.9 726.7,546.9 730.0,548.0 733.5,549.2 737.1,550.4 740.9,551.7 744.7,553.0 748.5,554.3 752.4,555.6 756.2,556.8 760.0,558.0 764.0,559.2 768.2,560.3 772.6,561.5 776.9,562.6 780.9,563.7 784.6,564.6 787.7,565.4 790.0,566.0" fill="none" stroke="#3a1f1f" stroke-width="1.3" stroke-opacity="0.72" stroke-linejoin="round"/>
<polyline points="785.0,601.0 786.9,600.7 789.5,600.3 792.5,599.9 795.8,599.4 799.4,598.9 803.1,598.4 806.6,597.9 810.0,597.5 813.2,597.1 816.4,596.8 819.6,596.5 822.8,596.2 826.1,595.9 829.4,595.6 832.9,595.3 836.6,595.0 840.7,594.7 845.3,594.4 850.1,594.1 855.0,593.8 859.6,593.6 863.8,593.3 867.4,593.2 870.0,593.0" fill="none" stroke="#3a1f1f" stroke-width="1.3" stroke-opacity="0.72" stroke-linejoin="round"/>
<ellipse cx="761.7" cy="546.3" rx="4.0" ry="2.0" transform="rotate(14.0 761.7 546.3)" fill="none" stroke="#2a2226" stroke-width="1.3" stroke-opacity="0.85"/>
<ellipse cx="761.0" cy="547.0" rx="11.0" ry="5.0" transform="rotate(14.0 761.0 547.0)" fill="none" stroke="#2a2226" stroke-width="1.3" stroke-opacity="0.85"/>
<ellipse cx="759.0" cy="548.0" rx="20.0" ry="8.0" transform="rotate(15.0 759.0 548.0)" fill="none" stroke="#2a2226" stroke-width="1.3" stroke-opacity="0.85"/>
<ellipse cx="756.0" cy="549.5" rx="31.0" ry="11.0" transform="rotate(15.0 756.0 549.5)" fill="none" stroke="#2a2226" stroke-width="1.3" stroke-opacity="0.85"/>
<ellipse cx="753.0" cy="550.0" rx="45.0" ry="15.0" transform="rotate(15.0 753.0 550.0)" fill="none" stroke="#2a2226" stroke-width="1.3" stroke-opacity="0.85"/>
</g></g>
<rect x="945.8" y="851.4" width="769.0" height="483.9" fill="none" stroke="#000" stroke-width="2.2"/>
<g opacity="0.999"><path d="M951.2 1335.3V1321.3 M1036.9 1335.3V1321.3 M1122.6 1335.3V1321.3 M1208.3 1335.3V1321.3 M1294.0 1335.3V1321.3 M1379.7 1335.3V1321.3 M1465.4 1335.3V1321.3 M1551.0 1335.3V1321.3 M1636.7 1335.3V1321.3 M945.8 1309.0H959.8 M945.8 1263.0H959.8 M945.8 1216.9H959.8 M945.8 1170.8H959.8 M945.8 1124.8H959.8 M945.8 1078.8H959.8 M945.8 1032.7H959.8 M945.8 986.6H959.8 M945.8 940.6H959.8 M945.8 894.5H959.8" stroke="#1a1a1a" stroke-width="2.2" fill="none"/>
<text x="0" y="0" font-size="40.00" transform="matrix(1.0373 0 0 1.0519 916.64 1374.48)">−10</text>
<text x="0" y="0" font-size="40.00" transform="matrix(1.1071 0 0 1.0519 1026.43 1374.48)">0</text>
<text x="0" y="0" font-size="40.00" transform="matrix(0.9543 0 0 1.0519 1106.95 1374.48)">10</text>
<text x="0" y="0" font-size="40.00" transform="matrix(1.0492 0 0 1.0519 1188.59 1374.48)">20</text>
<text x="0" y="0" font-size="40.00" transform="matrix(1.0164 0 0 1.0519 1275.54 1374.48)">30</text>
<text x="0" y="0" font-size="40.00" transform="matrix(1.0532 0 0 1.0519 1358.32 1374.48)">40</text>
<text x="0" y="0" font-size="40.00" transform="matrix(1.0750 0 0 1.0519 1443.72 1374.48)">50</text>
<text x="0" y="0" font-size="40.00" transform="matrix(1.0326 0 0 1.0519 1531.89 1374.48)">60</text>
<text x="0" y="0" font-size="40.00" transform="matrix(1.0475 0 0 1.0519 1613.46 1374.48)">70</text>
<text x="0" y="0" font-size="40.00" transform="matrix(1.0250 0 0 1.0609 916.34 1322.50)">0</text>
<text x="0" y="0" font-size="40.00" transform="matrix(1.0250 0 0 1.0609 916.34 1276.24)">5</text>
<text x="0" y="0" font-size="40.00" transform="matrix(1.0250 0 0 1.0609 895.84 1230.40)">10</text>
<text x="0" y="0" font-size="40.00" transform="matrix(1.0250 0 0 1.0609 895.84 1184.24)">15</text>
<text x="0" y="0" font-size="40.00" transform="matrix(1.0250 0 0 1.0609 895.84 1138.30)">20</text>
<text x="0" y="0" font-size="40.00" transform="matrix(1.0250 0 0 1.0609 895.84 1092.14)">25</text>
<text x="0" y="0" font-size="40.00" transform="matrix(1.0250 0 0 1.0609 895.84 1046.20)">30</text>
<text x="0" y="0" font-size="40.00" transform="matrix(1.0250 0 0 1.0609 895.84 1000.04)">35</text>
<text x="0" y="0" font-size="40.00" transform="matrix(1.0250 0 0 1.0609 895.84 954.10)">40</text>
<text x="0" y="0" font-size="40.00" transform="matrix(1.0250 0 0 1.0609 895.84 907.94)">45</text>
<text x="0" y="0" font-size="40.00" font-style="italic" transform="matrix(1.1722 0 0 1.0598 1287.60 1406.90)">x</text>
<text x="0" y="0" font-size="40.00" transform="matrix(1.0836 0 0 1.0656 1308.67 1407.01)">, мм</text>
<text x="0" y="0" font-size="40.00" transform="matrix(1.0859 0 0 0.9588 964.05 835.65)">(г)</text>
<rect x="1074.50" y="801.4" width="23.90" height="25.1" fill="#25295f"/>
<rect x="1097.81" y="801.4" width="23.90" height="25.1" fill="#22336e"/>
<rect x="1121.11" y="801.4" width="23.90" height="25.1" fill="#0b4a88"/>
<rect x="1144.41" y="801.4" width="23.90" height="25.1" fill="#136795"/>
<rect x="1167.72" y="801.4" width="23.90" height="25.1" fill="#2b7f9e"/>
<rect x="1191.03" y="801.4" width="23.90" height="25.1" fill="#4694ab"/>
<rect x="1214.33" y="801.4" width="23.90" height="25.1" fill="#5aafc4"/>
<rect x="1237.63" y="801.4" width="23.90" height="25.1" fill="#7ecbd9"/>
<rect x="1260.94" y="801.4" width="23.90" height="25.1" fill="#a9dde4"/>
<rect x="1284.24" y="801.4" width="23.90" height="25.1" fill="#d6ebee"/>
<rect x="1307.55" y="801.4" width="23.90" height="25.1" fill="#f5e6d0"/>
<rect x="1330.86" y="801.4" width="23.90" height="25.1" fill="#f2c6a5"/>
<rect x="1354.16" y="801.4" width="23.90" height="25.1" fill="#eb9e84"/>
<rect x="1377.46" y="801.4" width="23.90" height="25.1" fill="#e47b67"/>
<rect x="1400.77" y="801.4" width="23.90" height="25.1" fill="#d2604d"/>
<rect x="1424.07" y="801.4" width="23.90" height="25.1" fill="#bd4134"/>
<rect x="1447.38" y="801.4" width="23.90" height="25.1" fill="#a72a25"/>
<rect x="1470.68" y="801.4" width="23.90" height="25.1" fill="#8e1f29"/>
<rect x="1493.99" y="801.4" width="23.90" height="25.1" fill="#7a1d3a"/>
<rect x="1517.29" y="801.4" width="23.30" height="25.1" fill="#5a2146"/>
<rect x="1074.5" y="801.4" width="466.1" height="25.1" fill="none" stroke="#000" stroke-width="2.2"/>
<path d="M1074.5 792.4V808.4 M1127.5 792.4V808.4 M1180.4 792.4V808.4 M1233.4 792.4V808.4 M1286.4 792.4V808.4 M1339.3 792.4V808.4 M1392.3 792.4V808.4 M1445.3 792.4V808.4 M1540.6 792.4V808.4" stroke="#1a1a1a" stroke-width="2" fill="none"/>
<text x="0" y="0" font-size="40.00" transform="matrix(0.8627 0 0 0.8259 1039.42 781.27)">−50</text>
<text x="0" y="0" font-size="40.00" transform="matrix(0.8929 0 0 0.8259 1117.57 781.27)">0</text>
<text x="0" y="0" font-size="40.00" transform="matrix(0.8278 0 0 0.8259 1165.21 781.27)">50</text>
<text x="0" y="0" font-size="40.00" transform="matrix(0.7909 0 0 0.8148 1211.46 786.27)">100</text>
<text x="0" y="0" font-size="40.00" transform="matrix(0.7782 0 0 0.8148 1261.85 786.27)">150</text>
<text x="0" y="0" font-size="40.00" transform="matrix(0.8304 0 0 0.8148 1312.71 786.27)">200</text>
<text x="0" y="0" font-size="40.00" transform="matrix(0.8375 0 0 0.8148 1367.89 786.27)">250</text>
<text x="0" y="0" font-size="40.00" transform="matrix(0.8375 0 0 0.8148 1424.09 786.27)">300</text>
<text x="0" y="0" font-size="40.00" transform="matrix(0.8357 0 0 0.8148 1513.95 786.27)">390</text>
<text x="0" y="0" font-size="40.00" font-style="italic" transform="matrix(0.7939 0 0 0.8321 1262.11 742.20)">V</text>
<text x="0" y="0" font-size="40.00" font-style="italic" transform="matrix(0.7556 0 0 0.6576 1277.75 749.50)">x</text>
<text x="0" y="0" font-size="40.00" transform="matrix(0.9188 0 0 0.8704 1292.83 743.08)">, м/с</text></g>
</svg>
</body></html>
